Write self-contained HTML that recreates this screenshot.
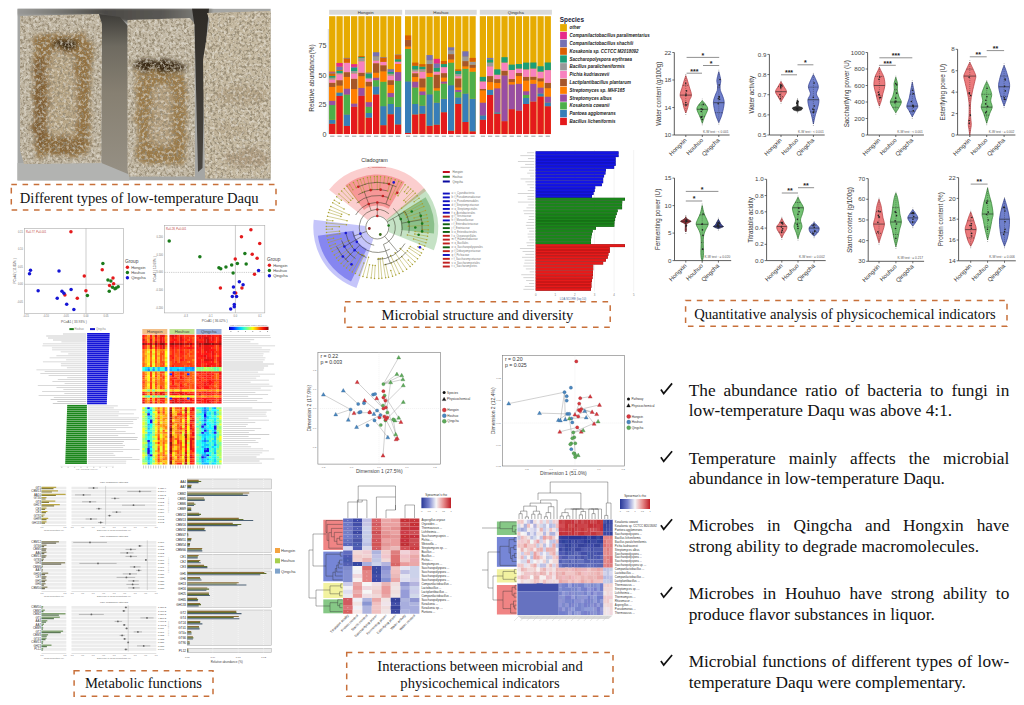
<!DOCTYPE html><html><head><meta charset="utf-8"><style>
html,body{margin:0;padding:0;background:#fff;}
#c{position:relative;width:1024px;height:705px;overflow:hidden;background:#fff;}
.ov{position:absolute;left:0;top:0;}
.bt{position:absolute;left:688.7px;width:320.6px;font-family:'Liberation Serif', serif;font-size:17.3px;line-height:20.8px;text-align:justify;color:#111;}
</style></head><body><div id="c"><svg class="ov" width="1024" height="705" viewBox="0 0 1024 705"><defs>
<filter id="pdark" x="0" y="0" width="100%" height="100%">
<feTurbulence type="fractalNoise" baseFrequency="0.38" numOctaves="3" seed="4"/>
<feColorMatrix type="matrix" values="0 0 0 0 0.3  0 0 0 0 0.25  0 0 0 0 0.17  5.5 0 0 0 -2.65"/>
<feComposite in2="SourceGraphic" operator="in"/>
</filter>
<filter id="plight" x="0" y="0" width="100%" height="100%">
<feTurbulence type="fractalNoise" baseFrequency="0.33" numOctaves="3" seed="12"/>
<feColorMatrix type="matrix" values="0 0 0 0 0.9  0 0 0 0 0.88  0 0 0 0 0.83  0 4.5 0 0 -2.2"/>
<feComposite in2="SourceGraphic" operator="in"/>
</filter>
<filter id="pblur" x="-20%" y="-20%" width="140%" height="140%"><feTurbulence type="fractalNoise" baseFrequency="0.09" numOctaves="2" seed="2" result="n"/><feDisplacementMap in="SourceGraphic" in2="n" scale="12" xChannelSelector="R" yChannelSelector="G" result="d"/><feGaussianBlur in="d" stdDeviation="2.0"/></filter>
<filter id="pblur2" x="-20%" y="-20%" width="140%" height="140%"><feGaussianBlur stdDeviation="1.2"/></filter>
<linearGradient id="side1" x1="0" y1="0" x2="0" y2="1"><stop offset="0" stop-color="#3e3c38"/><stop offset="0.2" stop-color="#6e6a60"/><stop offset="0.5" stop-color="#878072"/><stop offset="1" stop-color="#969084"/></linearGradient>
<linearGradient id="gap" x1="0" y1="0" x2="0" y2="1"><stop offset="0" stop-color="#2e2b27"/><stop offset="1" stop-color="#4a4640"/></linearGradient>
<clipPath id="pclip"><rect x="17.3" y="8.6" width="253.5" height="172"/></clipPath>
<clipPath id="fclip"><path d="M20 16 L99 14 L102 24 L101.5 163 L24 164 L20 150Z"/><path d="M127.5 20 L190 18 L194.5 24 L195 176.5 L129 176.5 L127.5 170Z"/><path d="M207 13 L270.8 11 L270.8 178.5 L205 178.5 L203 60 L209.5 20Z"/></clipPath>
</defs><g clip-path="url(#pclip)"><rect x="17.3" y="8.6" width="253.5" height="172" fill="#a5a6a4"/><defs><linearGradient id="topg" x1="0" x2="1"><stop offset="0" stop-color="#9a9a98"/><stop offset="0.2" stop-color="#7a7a76"/><stop offset="0.45" stop-color="#4c4a46"/><stop offset="0.75" stop-color="#5a5854"/><stop offset="1" stop-color="#8a8a86"/></linearGradient></defs><path d="M17.3 8.6H212V22H128L100 15H17.3Z" fill="url(#topg)" filter="url(#pblur2)"/><rect x="17.3" y="163" width="112" height="18" fill="#b2b3b1"/><path d="M20 16 L99 14 L102 24 L101.5 163 L24 164 L20 150Z" fill="#c0b6a2"/><g filter="url(#pblur)"><rect x="33" y="34" width="58" height="122" rx="10" fill="#937242"/><rect x="49" y="54" width="27" height="82" rx="8" fill="#b8a686"/><rect x="34" y="58" width="11" height="90" rx="4" fill="#7a5a30" opacity="0.75"/><rect x="40" y="140" width="45" height="12" rx="4" fill="#806036" opacity="0.6"/><ellipse cx="64" cy="44" rx="13" ry="5" fill="#3a2a18"/></g><path d="M99 14 L120 17 L128 26 L128 174 L101.5 163 L102 24Z" fill="url(#side1)"/><path d="M127.5 20 L190 18 L194.5 24 L195 176.5 L129 176.5 L127.5 170Z" fill="#c2b8a4"/><g filter="url(#pblur)"><path d="M136 72 H186 V152 Q186 164 174 164 H148 Q136 164 136 152Z" fill="#9a7a4a"/><rect x="152" y="86" width="20" height="60" rx="6" fill="#b4a080"/><ellipse cx="160" cy="66" rx="29" ry="6" fill="#3a2a18"/></g><path d="M192 8.6 L209 8.6 L208 20 L204.5 60 L202.5 168 L198 172 L194.5 26Z" fill="url(#gap)"/><path d="M207 13 L270.8 11 L270.8 178.5 L205 178.5 L203 60 L209.5 20Z" fill="#c4b8a0"/><g filter="url(#pblur)"><ellipse cx="240" cy="95" rx="28" ry="9" fill="#a08a68" opacity="0.45"/><ellipse cx="246" cy="158" rx="22" ry="9" fill="#9a8262" opacity="0.5"/><ellipse cx="232" cy="130" rx="18" ry="8" fill="#a89274" opacity="0.35"/></g><g clip-path="url(#fclip)"><rect x="17.3" y="8.6" width="253.5" height="172" fill="#000" filter="url(#pdark)" opacity="0.85"/><rect x="17.3" y="8.6" width="253.5" height="172" fill="#000" filter="url(#plight)" opacity="0.45"/></g></g><rect x="11.3" y="184.6" width="264.7" height="25.3" fill="none" stroke="#C8703A" stroke-width="1.5" stroke-dasharray="5.6 5.6"/><rect x="344.9" y="301.8" width="265.3" height="25.5" fill="none" stroke="#C8703A" stroke-width="1.5" stroke-dasharray="5.6 5.6"/><rect x="685.6" y="300.4" width="321.4" height="25.9" fill="none" stroke="#C8703A" stroke-width="1.5" stroke-dasharray="5.6 5.6"/><rect x="74.1" y="670.8" width="138.9" height="25.4" fill="none" stroke="#C8703A" stroke-width="1.5" stroke-dasharray="5.6 5.6"/><rect x="346.7" y="652.4" width="266.3" height="43.9" fill="none" stroke="#C8703A" stroke-width="1.5" stroke-dasharray="5.6 5.6"/><text x="19.8" y="203.1" font-family="'Liberation Serif', serif" font-size="14.6" fill="#111" text-anchor="start" >Different types of low-temperature Daqu</text><text x="381.6" y="319.6" font-family="'Liberation Serif', serif" font-size="14.6" fill="#111" text-anchor="start" >Microbial structure and diversity</text><text x="694.2" y="319.4" font-family="'Liberation Serif', serif" font-size="14.6" fill="#111" text-anchor="start" >Quantitative analysis of physicochemical indicators</text><text x="84.9" y="688.2" font-family="'Liberation Serif', serif" font-size="14.6" fill="#111" text-anchor="start" >Metabolic functions</text><text x="480" y="670.5" font-family="'Liberation Serif', serif" font-size="14.6" fill="#111" text-anchor="middle" >Interactions between microbial and</text><text x="480" y="688.3" font-family="'Liberation Serif', serif" font-size="14.6" fill="#111" text-anchor="middle" >physicochemical indicators</text><path d="M660.9 389.4 L663.7 393.5 L672.1 383.4" fill="none" stroke="#111" stroke-width="1.7" stroke-linejoin="miter"/><path d="M660.9 457.3 L663.7 461.4 L672.1 451.3" fill="none" stroke="#111" stroke-width="1.7" stroke-linejoin="miter"/><path d="M660.9 525.2 L663.7 529.3 L672.1 519.2" fill="none" stroke="#111" stroke-width="1.7" stroke-linejoin="miter"/><path d="M660.9 593.1 L663.7 597.2 L672.1 587.1" fill="none" stroke="#111" stroke-width="1.7" stroke-linejoin="miter"/><path d="M660.9 661 L663.7 665.1 L672.1 655" fill="none" stroke="#111" stroke-width="1.7" stroke-linejoin="miter"/><rect x="329.1" y="9.8" width="73.1" height="4.9" fill="#d9d9d9"/><text x="365.65" y="13.6" font-family="'Liberation Sans', sans-serif" font-size="4.3" fill="#333" text-anchor="middle" >Hongxin</text><rect x="329.1" y="16.2" width="6.31" height="117.8" fill="#E6AB02"/><rect x="329.1" y="123.75" width="6.31" height="10.3" fill="#E41A1C"/><rect x="329.1" y="119.63" width="6.31" height="4.17" fill="#377EB8"/><rect x="329.1" y="105.02" width="6.31" height="14.66" fill="#4DAF4A"/><rect x="329.1" y="100.54" width="6.31" height="4.53" fill="#984EA3"/><rect x="329.1" y="86.88" width="6.31" height="13.71" fill="#FF7F00"/><rect x="329.1" y="82.76" width="6.31" height="4.17" fill="#A65628"/><rect x="329.1" y="79.34" width="6.31" height="3.47" fill="#F781BF"/><rect x="329.1" y="77.57" width="6.31" height="1.82" fill="#999999"/><rect x="329.1" y="75.81" width="6.31" height="1.82" fill="#1B9E77"/><rect x="329.1" y="73.45" width="6.31" height="2.41" fill="#D95F02"/><rect x="329.1" y="72.27" width="6.31" height="1.23" fill="#7570B3"/><rect x="329.1" y="71.68" width="6.31" height="0.64" fill="#E7298A"/><rect x="330.1" y="135.6" width="4.31" height="1.2" fill="#aaa"/><rect x="336.41" y="16.2" width="6.31" height="117.8" fill="#E6AB02"/><rect x="336.41" y="95.83" width="6.31" height="38.22" fill="#E41A1C"/><rect x="336.41" y="92.42" width="6.31" height="3.47" fill="#377EB8"/><rect x="336.41" y="85.58" width="6.31" height="6.88" fill="#FF7F00"/><rect x="336.41" y="80.17" width="6.31" height="5.47" fill="#A65628"/><rect x="336.41" y="74.16" width="6.31" height="6.06" fill="#F781BF"/><rect x="336.41" y="72.98" width="6.31" height="1.23" fill="#999999"/><rect x="336.41" y="70.62" width="6.31" height="2.41" fill="#1B9E77"/><rect x="336.41" y="70.03" width="6.31" height="0.64" fill="#D95F02"/><rect x="336.41" y="66.5" width="6.31" height="3.58" fill="#7570B3"/><rect x="336.41" y="62.97" width="6.31" height="3.58" fill="#E7298A"/><rect x="337.41" y="135.6" width="4.31" height="1.2" fill="#aaa"/><rect x="343.72" y="16.2" width="6.31" height="117.8" fill="#E6AB02"/><rect x="343.72" y="125.87" width="6.31" height="8.18" fill="#E41A1C"/><rect x="343.72" y="114.33" width="6.31" height="11.59" fill="#377EB8"/><rect x="343.72" y="94.54" width="6.31" height="19.84" fill="#4DAF4A"/><rect x="343.72" y="88.41" width="6.31" height="6.18" fill="#984EA3"/><rect x="343.72" y="76.87" width="6.31" height="11.59" fill="#FF7F00"/><rect x="343.72" y="72.16" width="6.31" height="4.76" fill="#A65628"/><rect x="343.72" y="62.61" width="6.31" height="9.59" fill="#F781BF"/><rect x="343.72" y="58.49" width="6.31" height="4.17" fill="#D95F02"/><rect x="343.72" y="57.9" width="6.31" height="0.64" fill="#7570B3"/><rect x="344.72" y="135.6" width="4.31" height="1.2" fill="#aaa"/><rect x="351.03" y="16.2" width="6.31" height="117.8" fill="#E6AB02"/><rect x="351.03" y="106.79" width="6.31" height="27.26" fill="#E41A1C"/><rect x="351.03" y="103.37" width="6.31" height="3.47" fill="#984EA3"/><rect x="351.03" y="89" width="6.31" height="14.42" fill="#FF7F00"/><rect x="351.03" y="78.75" width="6.31" height="10.3" fill="#A65628"/><rect x="351.03" y="73.33" width="6.31" height="5.47" fill="#F781BF"/><rect x="351.03" y="70.98" width="6.31" height="2.41" fill="#999999"/><rect x="351.03" y="67.91" width="6.31" height="3.11" fill="#1B9E77"/><rect x="351.03" y="66.74" width="6.31" height="1.23" fill="#7570B3"/><rect x="351.03" y="64.14" width="6.31" height="2.64" fill="#E7298A"/><rect x="352.03" y="135.6" width="4.31" height="1.2" fill="#aaa"/><rect x="358.34" y="16.2" width="6.31" height="117.8" fill="#E6AB02"/><rect x="358.34" y="95.83" width="6.31" height="38.22" fill="#E41A1C"/><rect x="358.34" y="87.7" width="6.31" height="8.18" fill="#984EA3"/><rect x="358.34" y="76.16" width="6.31" height="11.59" fill="#FF7F00"/><rect x="358.34" y="72.74" width="6.31" height="3.47" fill="#A65628"/><rect x="358.34" y="61.2" width="6.31" height="11.59" fill="#F781BF"/><rect x="358.34" y="57.78" width="6.31" height="3.47" fill="#999999"/><rect x="358.34" y="56.96" width="6.31" height="0.87" fill="#1B9E77"/><rect x="358.34" y="56.13" width="6.31" height="0.87" fill="#D95F02"/><rect x="359.34" y="135.6" width="4.31" height="1.2" fill="#aaa"/><rect x="365.65" y="16.2" width="6.31" height="117.8" fill="#E6AB02"/><rect x="365.65" y="117.63" width="6.31" height="16.42" fill="#E41A1C"/><rect x="365.65" y="112.91" width="6.31" height="4.76" fill="#377EB8"/><rect x="365.65" y="106.79" width="6.31" height="6.18" fill="#4DAF4A"/><rect x="365.65" y="102.08" width="6.31" height="4.76" fill="#984EA3"/><rect x="365.65" y="86.41" width="6.31" height="15.72" fill="#FF7F00"/><rect x="365.65" y="81.7" width="6.31" height="4.76" fill="#A65628"/><rect x="365.65" y="78.99" width="6.31" height="2.76" fill="#F781BF"/><rect x="365.65" y="77.81" width="6.31" height="1.23" fill="#999999"/><rect x="365.65" y="73.57" width="6.31" height="4.29" fill="#1B9E77"/><rect x="365.65" y="72.63" width="6.31" height="0.99" fill="#7570B3"/><rect x="366.65" y="135.6" width="4.31" height="1.2" fill="#aaa"/><rect x="372.96" y="16.2" width="6.31" height="117.8" fill="#E6AB02"/><rect x="372.96" y="94.42" width="6.31" height="39.63" fill="#E41A1C"/><rect x="372.96" y="86.29" width="6.31" height="8.18" fill="#377EB8"/><rect x="372.96" y="80.17" width="6.31" height="6.18" fill="#4DAF4A"/><rect x="372.96" y="77.46" width="6.31" height="2.76" fill="#984EA3"/><rect x="372.96" y="72.74" width="6.31" height="4.76" fill="#FF7F00"/><rect x="372.96" y="63.2" width="6.31" height="9.59" fill="#A65628"/><rect x="372.96" y="60.49" width="6.31" height="2.76" fill="#F781BF"/><rect x="372.96" y="56.37" width="6.31" height="4.17" fill="#999999"/><rect x="372.96" y="52.25" width="6.31" height="4.17" fill="#7570B3"/><rect x="373.96" y="135.6" width="4.31" height="1.2" fill="#aaa"/><rect x="380.27" y="16.2" width="6.31" height="117.8" fill="#E6AB02"/><rect x="380.27" y="125.17" width="6.31" height="8.88" fill="#E41A1C"/><rect x="380.27" y="106.08" width="6.31" height="19.13" fill="#377EB8"/><rect x="380.27" y="81.58" width="6.31" height="24.55" fill="#4DAF4A"/><rect x="380.27" y="71.33" width="6.31" height="10.3" fill="#FF7F00"/><rect x="380.27" y="65.2" width="6.31" height="6.18" fill="#A65628"/><rect x="380.27" y="61.79" width="6.31" height="3.47" fill="#F781BF"/><rect x="380.27" y="57.67" width="6.31" height="4.17" fill="#D95F02"/><rect x="380.27" y="57.08" width="6.31" height="0.64" fill="#7570B3"/><rect x="381.27" y="135.6" width="4.31" height="1.2" fill="#aaa"/><rect x="387.58" y="16.2" width="6.31" height="117.8" fill="#E6AB02"/><rect x="387.58" y="114.21" width="6.31" height="19.84" fill="#E41A1C"/><rect x="387.58" y="103.96" width="6.31" height="10.3" fill="#377EB8"/><rect x="387.58" y="97.13" width="6.31" height="6.88" fill="#4DAF4A"/><rect x="387.58" y="93.01" width="6.31" height="4.17" fill="#984EA3"/><rect x="387.58" y="84.88" width="6.31" height="8.18" fill="#FF7F00"/><rect x="387.58" y="80.17" width="6.31" height="4.76" fill="#A65628"/><rect x="387.58" y="75.45" width="6.31" height="4.76" fill="#F781BF"/><rect x="387.58" y="73.69" width="6.31" height="1.82" fill="#999999"/><rect x="387.58" y="71.92" width="6.31" height="1.82" fill="#1B9E77"/><rect x="387.58" y="69.21" width="6.31" height="2.76" fill="#7570B3"/><rect x="388.58" y="135.6" width="4.31" height="1.2" fill="#aaa"/><rect x="394.89" y="16.2" width="6.31" height="117.8" fill="#E6AB02"/><rect x="394.89" y="124.46" width="6.31" height="9.59" fill="#E41A1C"/><rect x="394.89" y="106.79" width="6.31" height="17.72" fill="#377EB8"/><rect x="394.89" y="80.87" width="6.31" height="25.97" fill="#4DAF4A"/><rect x="394.89" y="72.04" width="6.31" height="8.88" fill="#984EA3"/><rect x="394.89" y="63.91" width="6.31" height="8.18" fill="#FF7F00"/><rect x="394.89" y="61.55" width="6.31" height="2.41" fill="#F781BF"/><rect x="394.89" y="59.2" width="6.31" height="2.41" fill="#1B9E77"/><rect x="394.89" y="55.07" width="6.31" height="4.17" fill="#D95F02"/><rect x="394.89" y="54.6" width="6.31" height="0.52" fill="#7570B3"/><rect x="395.89" y="135.6" width="4.31" height="1.2" fill="#aaa"/><rect x="405" y="9.8" width="71.7" height="4.9" fill="#d9d9d9"/><text x="440.85" y="13.6" font-family="'Liberation Sans', sans-serif" font-size="4.3" fill="#333" text-anchor="middle" >Houhuo</text><rect x="405" y="16.2" width="6.17" height="117.8" fill="#E6AB02"/><rect x="405" y="132.82" width="6.17" height="1.23" fill="#E41A1C"/><rect x="405" y="81.23" width="6.17" height="51.65" fill="#377EB8"/><rect x="405" y="48.83" width="6.17" height="32.44" fill="#4DAF4A"/><rect x="405" y="46.47" width="6.17" height="2.41" fill="#FF7F00"/><rect x="405" y="39.76" width="6.17" height="6.76" fill="#A65628"/><rect x="405" y="35.4" width="6.17" height="4.41" fill="#D95F02"/><rect x="406" y="135.6" width="4.17" height="1.2" fill="#aaa"/><rect x="412.17" y="16.2" width="6.17" height="117.8" fill="#E6AB02"/><rect x="412.17" y="114.45" width="6.17" height="19.6" fill="#E41A1C"/><rect x="412.17" y="103.96" width="6.17" height="10.53" fill="#377EB8"/><rect x="412.17" y="87.47" width="6.17" height="16.54" fill="#4DAF4A"/><rect x="412.17" y="81.46" width="6.17" height="6.06" fill="#984EA3"/><rect x="412.17" y="76.98" width="6.17" height="4.53" fill="#FF7F00"/><rect x="412.17" y="73.22" width="6.17" height="3.82" fill="#A65628"/><rect x="412.17" y="71.33" width="6.17" height="1.93" fill="#F781BF"/><rect x="412.17" y="69.45" width="6.17" height="1.93" fill="#999999"/><rect x="412.17" y="65.68" width="6.17" height="3.82" fill="#1B9E77"/><rect x="412.17" y="62.61" width="6.17" height="3.11" fill="#D95F02"/><rect x="413.17" y="135.6" width="4.17" height="1.2" fill="#aaa"/><rect x="419.34" y="16.2" width="6.17" height="117.8" fill="#E6AB02"/><rect x="419.34" y="113.74" width="6.17" height="20.31" fill="#E41A1C"/><rect x="419.34" y="105.49" width="6.17" height="8.3" fill="#377EB8"/><rect x="419.34" y="95.01" width="6.17" height="10.53" fill="#4DAF4A"/><rect x="419.34" y="91.24" width="6.17" height="3.82" fill="#984EA3"/><rect x="419.34" y="87.47" width="6.17" height="3.82" fill="#FF7F00"/><rect x="419.34" y="78.4" width="6.17" height="9.12" fill="#A65628"/><rect x="419.34" y="71.68" width="6.17" height="6.76" fill="#F781BF"/><rect x="419.34" y="69.09" width="6.17" height="2.64" fill="#999999"/><rect x="419.34" y="66.5" width="6.17" height="2.64" fill="#1B9E77"/><rect x="419.34" y="64.14" width="6.17" height="2.41" fill="#D95F02"/><rect x="420.34" y="135.6" width="4.17" height="1.2" fill="#aaa"/><rect x="426.51" y="16.2" width="6.17" height="117.8" fill="#E6AB02"/><rect x="426.51" y="125.75" width="6.17" height="8.3" fill="#E41A1C"/><rect x="426.51" y="94.18" width="6.17" height="31.62" fill="#377EB8"/><rect x="426.51" y="76.87" width="6.17" height="17.37" fill="#4DAF4A"/><rect x="426.51" y="73.1" width="6.17" height="3.82" fill="#FF7F00"/><rect x="426.51" y="64.03" width="6.17" height="9.12" fill="#A65628"/><rect x="426.51" y="60.26" width="6.17" height="3.82" fill="#999999"/><rect x="426.51" y="55.07" width="6.17" height="5.23" fill="#7570B3"/><rect x="427.51" y="135.6" width="4.17" height="1.2" fill="#aaa"/><rect x="433.68" y="16.2" width="6.17" height="117.8" fill="#E6AB02"/><rect x="433.68" y="124.69" width="6.17" height="9.36" fill="#E41A1C"/><rect x="433.68" y="102.43" width="6.17" height="22.31" fill="#377EB8"/><rect x="433.68" y="90.41" width="6.17" height="12.07" fill="#4DAF4A"/><rect x="433.68" y="88.18" width="6.17" height="2.29" fill="#FF7F00"/><rect x="433.68" y="74.63" width="6.17" height="13.6" fill="#A65628"/><rect x="433.68" y="71.57" width="6.17" height="3.11" fill="#F781BF"/><rect x="433.68" y="67.8" width="6.17" height="3.82" fill="#1B9E77"/><rect x="433.68" y="63.32" width="6.17" height="4.53" fill="#7570B3"/><rect x="433.68" y="58.84" width="6.17" height="4.53" fill="#E7298A"/><rect x="434.68" y="135.6" width="4.17" height="1.2" fill="#aaa"/><rect x="440.85" y="16.2" width="6.17" height="117.8" fill="#E6AB02"/><rect x="440.85" y="112.21" width="6.17" height="21.84" fill="#E41A1C"/><rect x="440.85" y="98.66" width="6.17" height="13.6" fill="#377EB8"/><rect x="440.85" y="83.58" width="6.17" height="15.13" fill="#4DAF4A"/><rect x="440.85" y="81.34" width="6.17" height="2.29" fill="#984EA3"/><rect x="440.85" y="77.57" width="6.17" height="3.82" fill="#FF7F00"/><rect x="440.85" y="73.1" width="6.17" height="4.53" fill="#A65628"/><rect x="440.85" y="67.09" width="6.17" height="6.06" fill="#F781BF"/><rect x="440.85" y="64.03" width="6.17" height="3.11" fill="#1B9E77"/><rect x="440.85" y="60.96" width="6.17" height="3.11" fill="#D95F02"/><rect x="441.85" y="135.6" width="4.17" height="1.2" fill="#aaa"/><rect x="448.02" y="16.2" width="6.17" height="117.8" fill="#E6AB02"/><rect x="448.02" y="130.7" width="6.17" height="3.35" fill="#E41A1C"/><rect x="448.02" y="85.11" width="6.17" height="45.64" fill="#377EB8"/><rect x="448.02" y="62.5" width="6.17" height="22.67" fill="#4DAF4A"/><rect x="448.02" y="59.43" width="6.17" height="3.11" fill="#FF7F00"/><rect x="448.02" y="54.13" width="6.17" height="5.35" fill="#A65628"/><rect x="448.02" y="50.36" width="6.17" height="3.82" fill="#999999"/><rect x="448.02" y="47.3" width="6.17" height="3.11" fill="#7570B3"/><rect x="449.02" y="135.6" width="4.17" height="1.2" fill="#aaa"/><rect x="455.19" y="16.2" width="6.17" height="117.8" fill="#E6AB02"/><rect x="455.19" y="103.96" width="6.17" height="30.09" fill="#E41A1C"/><rect x="455.19" y="97.25" width="6.17" height="6.76" fill="#377EB8"/><rect x="455.19" y="91.95" width="6.17" height="5.35" fill="#4DAF4A"/><rect x="455.19" y="89.71" width="6.17" height="2.29" fill="#984EA3"/><rect x="455.19" y="87.47" width="6.17" height="2.29" fill="#FF7F00"/><rect x="455.19" y="78.4" width="6.17" height="9.12" fill="#A65628"/><rect x="455.19" y="76.16" width="6.17" height="2.29" fill="#F781BF"/><rect x="455.19" y="73.92" width="6.17" height="2.29" fill="#999999"/><rect x="455.19" y="70.86" width="6.17" height="3.11" fill="#1B9E77"/><rect x="455.19" y="69.33" width="6.17" height="1.58" fill="#D95F02"/><rect x="456.19" y="135.6" width="4.17" height="1.2" fill="#aaa"/><rect x="462.36" y="16.2" width="6.17" height="117.8" fill="#E6AB02"/><rect x="462.36" y="121.98" width="6.17" height="12.07" fill="#E41A1C"/><rect x="462.36" y="93.36" width="6.17" height="28.68" fill="#377EB8"/><rect x="462.36" y="68.62" width="6.17" height="24.79" fill="#4DAF4A"/><rect x="462.36" y="66.38" width="6.17" height="2.29" fill="#FF7F00"/><rect x="462.36" y="61.08" width="6.17" height="5.35" fill="#A65628"/><rect x="462.36" y="56.61" width="6.17" height="4.53" fill="#999999"/><rect x="462.36" y="51.3" width="6.17" height="5.35" fill="#7570B3"/><rect x="463.36" y="135.6" width="4.17" height="1.2" fill="#aaa"/><rect x="469.53" y="16.2" width="6.17" height="117.8" fill="#E6AB02"/><rect x="469.53" y="131.29" width="6.17" height="2.76" fill="#E41A1C"/><rect x="469.53" y="98.66" width="6.17" height="32.68" fill="#377EB8"/><rect x="469.53" y="71.57" width="6.17" height="27.14" fill="#4DAF4A"/><rect x="469.53" y="67.8" width="6.17" height="3.82" fill="#FF7F00"/><rect x="469.53" y="64.73" width="6.17" height="3.11" fill="#A65628"/><rect x="469.53" y="61.67" width="6.17" height="3.11" fill="#999999"/><rect x="469.53" y="57.9" width="6.17" height="3.82" fill="#D95F02"/><rect x="470.53" y="135.6" width="4.17" height="1.2" fill="#aaa"/><rect x="479.8" y="9.8" width="72.1" height="4.9" fill="#d9d9d9"/><text x="515.85" y="13.6" font-family="'Liberation Sans', sans-serif" font-size="4.3" fill="#333" text-anchor="middle" >Qingcha</text><rect x="479.8" y="16.2" width="6.21" height="117.8" fill="#E6AB02"/><rect x="479.8" y="119.75" width="6.21" height="14.3" fill="#E41A1C"/><rect x="479.8" y="115.27" width="6.21" height="4.53" fill="#377EB8"/><rect x="479.8" y="102.43" width="6.21" height="12.89" fill="#984EA3"/><rect x="479.8" y="90.41" width="6.21" height="12.07" fill="#FF7F00"/><rect x="479.8" y="88.88" width="6.21" height="1.58" fill="#A65628"/><rect x="479.8" y="81.34" width="6.21" height="7.59" fill="#F781BF"/><rect x="479.8" y="76.87" width="6.21" height="4.53" fill="#1B9E77"/><rect x="480.8" y="135.6" width="4.21" height="1.2" fill="#aaa"/><rect x="487.01" y="16.2" width="6.21" height="117.8" fill="#E6AB02"/><rect x="487.01" y="94.89" width="6.21" height="39.16" fill="#E41A1C"/><rect x="487.01" y="89.59" width="6.21" height="5.35" fill="#377EB8"/><rect x="487.01" y="82.05" width="6.21" height="7.59" fill="#FF7F00"/><rect x="487.01" y="76.04" width="6.21" height="6.06" fill="#A65628"/><rect x="487.01" y="66.27" width="6.21" height="9.83" fill="#F781BF"/><rect x="487.01" y="62.5" width="6.21" height="3.82" fill="#999999"/><rect x="487.01" y="59.43" width="6.21" height="3.11" fill="#1B9E77"/><rect x="487.01" y="57.9" width="6.21" height="1.58" fill="#7570B3"/><rect x="488.01" y="135.6" width="4.21" height="1.2" fill="#aaa"/><rect x="494.22" y="16.2" width="6.21" height="117.8" fill="#E6AB02"/><rect x="494.22" y="113.74" width="6.21" height="20.31" fill="#E41A1C"/><rect x="494.22" y="112.21" width="6.21" height="1.58" fill="#377EB8"/><rect x="494.22" y="88.18" width="6.21" height="24.08" fill="#984EA3"/><rect x="494.22" y="82.87" width="6.21" height="5.35" fill="#FF7F00"/><rect x="494.22" y="79.11" width="6.21" height="3.82" fill="#A65628"/><rect x="494.22" y="74.63" width="6.21" height="4.53" fill="#F781BF"/><rect x="494.22" y="69.33" width="6.21" height="5.35" fill="#1B9E77"/><rect x="495.22" y="135.6" width="4.21" height="1.2" fill="#aaa"/><rect x="501.43" y="16.2" width="6.21" height="117.8" fill="#E6AB02"/><rect x="501.43" y="121.16" width="6.21" height="12.89" fill="#E41A1C"/><rect x="501.43" y="75.22" width="6.21" height="45.99" fill="#984EA3"/><rect x="501.43" y="70.74" width="6.21" height="4.53" fill="#A65628"/><rect x="501.43" y="62.5" width="6.21" height="8.3" fill="#F781BF"/><rect x="501.43" y="57.19" width="6.21" height="5.35" fill="#1B9E77"/><rect x="502.43" y="135.6" width="4.21" height="1.2" fill="#aaa"/><rect x="508.64" y="16.2" width="6.21" height="117.8" fill="#E6AB02"/><rect x="508.64" y="109.14" width="6.21" height="24.91" fill="#E41A1C"/><rect x="508.64" y="84.29" width="6.21" height="24.91" fill="#984EA3"/><rect x="508.64" y="82.05" width="6.21" height="2.29" fill="#FF7F00"/><rect x="508.64" y="78.99" width="6.21" height="3.11" fill="#A65628"/><rect x="508.64" y="69.92" width="6.21" height="9.12" fill="#F781BF"/><rect x="508.64" y="64.62" width="6.21" height="5.35" fill="#1B9E77"/><rect x="509.64" y="135.6" width="4.21" height="1.2" fill="#aaa"/><rect x="515.85" y="16.2" width="6.21" height="117.8" fill="#E6AB02"/><rect x="515.85" y="110.68" width="6.21" height="23.37" fill="#E41A1C"/><rect x="515.85" y="83.58" width="6.21" height="27.14" fill="#984EA3"/><rect x="515.85" y="76.04" width="6.21" height="7.59" fill="#FF7F00"/><rect x="515.85" y="72.98" width="6.21" height="3.11" fill="#A65628"/><rect x="515.85" y="68.5" width="6.21" height="4.53" fill="#F781BF"/><rect x="515.85" y="64.03" width="6.21" height="4.53" fill="#1B9E77"/><rect x="516.85" y="135.6" width="4.21" height="1.2" fill="#aaa"/><rect x="523.06" y="16.2" width="6.21" height="117.8" fill="#E6AB02"/><rect x="523.06" y="103.96" width="6.21" height="30.09" fill="#E41A1C"/><rect x="523.06" y="97.95" width="6.21" height="6.06" fill="#377EB8"/><rect x="523.06" y="94.89" width="6.21" height="3.11" fill="#4DAF4A"/><rect x="523.06" y="91.12" width="6.21" height="3.82" fill="#984EA3"/><rect x="523.06" y="80.64" width="6.21" height="10.53" fill="#FF7F00"/><rect x="523.06" y="76.87" width="6.21" height="3.82" fill="#A65628"/><rect x="523.06" y="69.33" width="6.21" height="7.59" fill="#F781BF"/><rect x="523.06" y="62.61" width="6.21" height="6.76" fill="#1B9E77"/><rect x="524.06" y="135.6" width="4.21" height="1.2" fill="#aaa"/><rect x="530.27" y="16.2" width="6.21" height="117.8" fill="#E6AB02"/><rect x="530.27" y="101.61" width="6.21" height="32.44" fill="#E41A1C"/><rect x="530.27" y="83.58" width="6.21" height="18.07" fill="#984EA3"/><rect x="530.27" y="79.81" width="6.21" height="3.82" fill="#FF7F00"/><rect x="530.27" y="76.75" width="6.21" height="3.11" fill="#A65628"/><rect x="530.27" y="68.5" width="6.21" height="8.3" fill="#F781BF"/><rect x="530.27" y="62.5" width="6.21" height="6.06" fill="#1B9E77"/><rect x="531.27" y="135.6" width="4.21" height="1.2" fill="#aaa"/><rect x="537.48" y="16.2" width="6.21" height="117.8" fill="#E6AB02"/><rect x="537.48" y="96.42" width="6.21" height="37.63" fill="#E41A1C"/><rect x="537.48" y="93.36" width="6.21" height="3.11" fill="#377EB8"/><rect x="537.48" y="87.35" width="6.21" height="6.06" fill="#984EA3"/><rect x="537.48" y="81.34" width="6.21" height="6.06" fill="#FF7F00"/><rect x="537.48" y="78.28" width="6.21" height="3.11" fill="#A65628"/><rect x="537.48" y="71.57" width="6.21" height="6.76" fill="#F781BF"/><rect x="537.48" y="66.27" width="6.21" height="5.35" fill="#1B9E77"/><rect x="538.48" y="135.6" width="4.21" height="1.2" fill="#aaa"/><rect x="544.69" y="16.2" width="6.21" height="117.8" fill="#E6AB02"/><rect x="544.69" y="106.2" width="6.21" height="27.85" fill="#E41A1C"/><rect x="544.69" y="102.43" width="6.21" height="3.82" fill="#377EB8"/><rect x="544.69" y="96.42" width="6.21" height="6.06" fill="#984EA3"/><rect x="544.69" y="88.18" width="6.21" height="8.3" fill="#FF7F00"/><rect x="544.69" y="82.87" width="6.21" height="5.35" fill="#A65628"/><rect x="544.69" y="70.03" width="6.21" height="12.89" fill="#F781BF"/><rect x="544.69" y="62.5" width="6.21" height="7.59" fill="#1B9E77"/><rect x="545.69" y="135.6" width="4.21" height="1.2" fill="#aaa"/><line x1="328.3" y1="29" x2="328.3" y2="134" stroke="#bbb" stroke-width="0.6"/><text x="326.6" y="136.5" font-family="'Liberation Sans', sans-serif" font-size="7.2" fill="#444" text-anchor="end" >0</text><text x="326.6" y="107.05" font-family="'Liberation Sans', sans-serif" font-size="7.2" fill="#444" text-anchor="end" >25</text><text x="326.6" y="77.6" font-family="'Liberation Sans', sans-serif" font-size="7.2" fill="#444" text-anchor="end" >50</text><text x="326.6" y="48.15" font-family="'Liberation Sans', sans-serif" font-size="7.2" fill="#444" text-anchor="end" >75</text><text transform="translate(314.2,78) rotate(-90)" font-family="'Liberation Sans', sans-serif" font-size="6.5" fill="#333" text-anchor="middle">Relative abundance(%)</text><text x="559.8" y="21.6" font-family="'Liberation Sans', sans-serif" font-size="6.4" font-weight="bold" fill="#1c1c3a">Species</text><rect x="560.1" y="24.1" width="6.8" height="7.3" fill="#E6AB02"/><text x="569.5" y="29.3" font-family="'Liberation Sans', sans-serif" font-size="4.45" font-weight="bold" font-style="italic" fill="#222">other</text><rect x="560.1" y="31.91" width="6.8" height="7.3" fill="#E7298A"/><text x="569.5" y="37.11" font-family="'Liberation Sans', sans-serif" font-size="4.45" font-weight="bold" font-style="italic" fill="#222">Companilactobacillus paralimentarius</text><rect x="560.1" y="39.72" width="6.8" height="7.3" fill="#7570B3"/><text x="569.5" y="44.92" font-family="'Liberation Sans', sans-serif" font-size="4.45" font-weight="bold" font-style="italic" fill="#222">Companilactobacillus shachili</text><rect x="560.1" y="47.53" width="6.8" height="7.3" fill="#D95F02"/><text x="569.5" y="52.73" font-family="'Liberation Sans', sans-serif" font-size="4.45" font-weight="bold" font-style="italic" fill="#222">Kosakonia sp. CCTCC M2018092</text><rect x="560.1" y="55.34" width="6.8" height="7.3" fill="#1B9E77"/><text x="569.5" y="60.54" font-family="'Liberation Sans', sans-serif" font-size="4.45" font-weight="bold" font-style="italic" fill="#222">Saccharopolyspora erythraea</text><rect x="560.1" y="63.15" width="6.8" height="7.3" fill="#999999"/><text x="569.5" y="68.35" font-family="'Liberation Sans', sans-serif" font-size="4.45" font-weight="bold" font-style="italic" fill="#222">Bacillus paralicheniformis</text><rect x="560.1" y="70.96" width="6.8" height="7.3" fill="#F781BF"/><text x="569.5" y="76.16" font-family="'Liberation Sans', sans-serif" font-size="4.45" font-weight="bold" font-style="italic" fill="#222">Pichia kudriavzevii</text><rect x="560.1" y="78.77" width="6.8" height="7.3" fill="#A65628"/><text x="569.5" y="83.97" font-family="'Liberation Sans', sans-serif" font-size="4.45" font-weight="bold" font-style="italic" fill="#222">Lactiplantibacillus plantarum</text><rect x="560.1" y="86.58" width="6.8" height="7.3" fill="#FF7F00"/><text x="569.5" y="91.78" font-family="'Liberation Sans', sans-serif" font-size="4.45" font-weight="bold" font-style="italic" fill="#222">Streptomyces sp. MHF165</text><rect x="560.1" y="94.39" width="6.8" height="7.3" fill="#984EA3"/><text x="569.5" y="99.59" font-family="'Liberation Sans', sans-serif" font-size="4.45" font-weight="bold" font-style="italic" fill="#222">Streptomyces albus</text><rect x="560.1" y="102.2" width="6.8" height="7.3" fill="#4DAF4A"/><text x="569.5" y="107.4" font-family="'Liberation Sans', sans-serif" font-size="4.45" font-weight="bold" font-style="italic" fill="#222">Kosakonia cowanii</text><rect x="560.1" y="110.01" width="6.8" height="7.3" fill="#377EB8"/><text x="569.5" y="115.21" font-family="'Liberation Sans', sans-serif" font-size="4.45" font-weight="bold" font-style="italic" fill="#222">Pantoea agglomerans</text><rect x="560.1" y="117.82" width="6.8" height="7.3" fill="#E41A1C"/><text x="569.5" y="123.02" font-family="'Liberation Sans', sans-serif" font-size="4.45" font-weight="bold" font-style="italic" fill="#222">Bacillus licheniformis</text><path d="M674.3,52.5 L674.3,135 L729.6,135" fill="none" stroke="#333" stroke-width="0.8"/><line x1="672.3" y1="135" x2="674.3" y2="135" stroke="#333" stroke-width="0.7"/><text x="671.3" y="137.1" font-family="'Liberation Sans', sans-serif" font-size="6.2" fill="#444" text-anchor="end" >10</text><line x1="672.3" y1="107.5" x2="674.3" y2="107.5" stroke="#333" stroke-width="0.7"/><text x="671.3" y="109.6" font-family="'Liberation Sans', sans-serif" font-size="6.2" fill="#444" text-anchor="end" >14</text><line x1="672.3" y1="80" x2="674.3" y2="80" stroke="#333" stroke-width="0.7"/><text x="671.3" y="82.1" font-family="'Liberation Sans', sans-serif" font-size="6.2" fill="#444" text-anchor="end" >18</text><line x1="672.3" y1="52.5" x2="674.3" y2="52.5" stroke="#333" stroke-width="0.7"/><text x="671.3" y="54.6" font-family="'Liberation Sans', sans-serif" font-size="6.2" fill="#444" text-anchor="end" >22</text><text transform="translate(660.8,93.75) rotate(-90)" font-family="'Liberation Sans', sans-serif" font-size="6.3" fill="#333" text-anchor="middle">Water content (g/100g)</text><path d="M685.8,113 C686.13,112.08 687.22,109.56 687.8,107.5 C688.38,105.44 688.68,102.69 689.3,100.62 C689.92,98.56 691.5,97.42 691.5,95.12 C691.5,92.83 690,89.4 689.3,86.88 C688.6,84.35 687.88,81.88 687.3,80 C686.72,78.12 686.05,76.33 685.8,75.6 L685.8,75.6 C685.55,76.33 684.88,78.12 684.3,80 C683.72,81.88 683,84.35 682.3,86.88 C681.6,89.4 680.1,92.83 680.1,95.12 C680.1,97.42 681.68,98.56 682.3,100.62 C682.92,102.69 683.22,105.44 683.8,107.5 C684.38,109.56 685.47,112.08 685.8,113Z" fill="#EB7A7C" stroke="#B23A3E" stroke-width="0.7"/><line x1="680.1" y1="95.12" x2="691.5" y2="95.12" stroke="#222" stroke-width="0.6"/><line x1="683.05" y1="104.06" x2="688.55" y2="104.06" stroke="#222" stroke-width="0.6" stroke-dasharray="1 1"/><line x1="682.74" y1="85.36" x2="688.86" y2="85.36" stroke="#222" stroke-width="0.6" stroke-dasharray="1 1"/><line x1="685.8" y1="115" x2="685.8" y2="73.6" stroke="#333" stroke-width="0.4" stroke-dasharray="1 1"/><circle cx="685.94" cy="95.55" r="0.8" fill="#222"/><circle cx="685.72" cy="83.19" r="0.8" fill="#222"/><circle cx="686.01" cy="94.09" r="0.8" fill="#222"/><circle cx="685.83" cy="102.56" r="0.8" fill="#222"/><circle cx="686.5" cy="90.9" r="0.8" fill="#222"/><circle cx="685.33" cy="104.93" r="0.8" fill="#222"/><circle cx="686.54" cy="105.02" r="0.8" fill="#222"/><line x1="685.8" y1="135" x2="685.8" y2="137" stroke="#333" stroke-width="0.7"/><text transform="translate(687,140.6) rotate(-45)" font-family="'Liberation Sans', sans-serif" font-size="6" fill="#333" text-anchor="end">Hongxin</text><path d="M702.3,123.31 C702.67,122.28 703.6,119.46 704.5,117.12 C705.4,114.79 707.48,111.35 707.7,109.29 C707.92,107.22 706.7,106.19 705.8,104.75 C704.9,103.31 702.88,101.31 702.3,100.62 L702.3,100.62 C701.72,101.31 699.7,103.31 698.8,104.75 C697.9,106.19 696.68,107.22 696.9,109.29 C697.12,111.35 699.2,114.79 700.1,117.12 C701,119.46 701.93,122.28 702.3,123.31Z" fill="#74C274" stroke="#2F7D2F" stroke-width="0.7"/><line x1="696.9" y1="109.29" x2="707.7" y2="109.29" stroke="#222" stroke-width="0.6"/><line x1="699.76" y1="116.3" x2="704.84" y2="116.3" stroke="#222" stroke-width="0.6" stroke-dasharray="1 1"/><line x1="698.71" y1="104.96" x2="705.89" y2="104.96" stroke="#222" stroke-width="0.6" stroke-dasharray="1 1"/><line x1="702.3" y1="125.31" x2="702.3" y2="98.62" stroke="#333" stroke-width="0.4" stroke-dasharray="1 1"/><circle cx="701.2" cy="108.9" r="0.8" fill="#222"/><circle cx="703.42" cy="104.31" r="0.8" fill="#222"/><circle cx="702.58" cy="109.52" r="0.8" fill="#222"/><circle cx="701.14" cy="117.41" r="0.8" fill="#222"/><circle cx="701.24" cy="111.52" r="0.8" fill="#222"/><circle cx="701.68" cy="116.89" r="0.8" fill="#222"/><circle cx="702.21" cy="119.43" r="0.8" fill="#222"/><line x1="702.3" y1="135" x2="702.3" y2="137" stroke="#333" stroke-width="0.7"/><text transform="translate(703.5,140.6) rotate(-45)" font-family="'Liberation Sans', sans-serif" font-size="6" fill="#333" text-anchor="end">Houhuo</text><path d="M718.8,122.62 C719.33,121.25 721.1,117.7 722,114.38 C722.9,111.05 724.15,105.9 724.2,102.69 C724.25,99.48 722.95,97.19 722.3,95.12 C721.65,93.06 720.67,91.92 720.3,90.31 C719.93,88.71 720.02,87.05 720.1,85.5 C720.18,83.95 720.8,82.52 720.8,81.03 C720.8,79.54 720.43,78.11 720.1,76.56 C719.77,75.02 719.02,72.55 718.8,71.75 L718.8,71.75 C718.58,72.55 717.83,75.02 717.5,76.56 C717.17,78.11 716.8,79.54 716.8,81.03 C716.8,82.52 717.42,83.95 717.5,85.5 C717.58,87.05 717.67,88.71 717.3,90.31 C716.93,91.92 715.95,93.06 715.3,95.12 C714.65,97.19 713.35,99.48 713.4,102.69 C713.45,105.9 714.7,111.05 715.6,114.38 C716.5,117.7 718.27,121.25 718.8,122.62Z" fill="#7080CC" stroke="#2F3C8E" stroke-width="0.7"/><line x1="713.4" y1="102.69" x2="724.2" y2="102.69" stroke="#222" stroke-width="0.6"/><line x1="715.28" y1="112.66" x2="722.32" y2="112.66" stroke="#222" stroke-width="0.6" stroke-dasharray="1 1"/><line x1="717.43" y1="87.22" x2="720.17" y2="87.22" stroke="#222" stroke-width="0.6" stroke-dasharray="1 1"/><line x1="718.8" y1="124.62" x2="718.8" y2="69.75" stroke="#333" stroke-width="0.4" stroke-dasharray="1 1"/><circle cx="719.62" cy="99.31" r="0.8" fill="#222"/><circle cx="719.14" cy="96.51" r="0.8" fill="#222"/><circle cx="719.19" cy="97.2" r="0.8" fill="#222"/><circle cx="718.27" cy="98.71" r="0.8" fill="#222"/><circle cx="719.99" cy="79.46" r="0.8" fill="#222"/><circle cx="719.3" cy="85.07" r="0.8" fill="#222"/><circle cx="718.15" cy="103.77" r="0.8" fill="#222"/><line x1="718.8" y1="135" x2="718.8" y2="137" stroke="#333" stroke-width="0.7"/><text transform="translate(720,140.6) rotate(-45)" font-family="'Liberation Sans', sans-serif" font-size="6" fill="#333" text-anchor="end">Qingcha</text><line x1="686.6" y1="73.2" x2="702" y2="73.2" stroke="#444" stroke-width="0.6"/><text x="694.3" y="73.5" font-family="'Liberation Sans', sans-serif" font-size="7" fill="#222" text-anchor="middle" font-weight="bold">***</text><line x1="703" y1="65.5" x2="719.2" y2="65.5" stroke="#444" stroke-width="0.6"/><text x="711.1" y="65.8" font-family="'Liberation Sans', sans-serif" font-size="7" fill="#222" text-anchor="middle" font-weight="bold">*</text><line x1="686.6" y1="57.4" x2="719.2" y2="57.4" stroke="#444" stroke-width="0.6"/><text x="702.9" y="57.7" font-family="'Liberation Sans', sans-serif" font-size="7" fill="#222" text-anchor="middle" font-weight="bold">*</text><text x="728.6" y="132.5" font-family="'Liberation Sans', sans-serif" font-size="3.2" fill="#555" text-anchor="end" >K-W test : &lt; 0.001</text><path d="M769.4,54.4 L769.4,135 L824.7,135" fill="none" stroke="#333" stroke-width="0.8"/><line x1="767.4" y1="135" x2="769.4" y2="135" stroke="#333" stroke-width="0.7"/><text x="766.4" y="137.1" font-family="'Liberation Sans', sans-serif" font-size="6.2" fill="#444" text-anchor="end" >0.5</text><line x1="767.4" y1="114.85" x2="769.4" y2="114.85" stroke="#333" stroke-width="0.7"/><text x="766.4" y="116.95" font-family="'Liberation Sans', sans-serif" font-size="6.2" fill="#444" text-anchor="end" >0.6</text><line x1="767.4" y1="94.7" x2="769.4" y2="94.7" stroke="#333" stroke-width="0.7"/><text x="766.4" y="96.8" font-family="'Liberation Sans', sans-serif" font-size="6.2" fill="#444" text-anchor="end" >0.7</text><line x1="767.4" y1="74.55" x2="769.4" y2="74.55" stroke="#333" stroke-width="0.7"/><text x="766.4" y="76.65" font-family="'Liberation Sans', sans-serif" font-size="6.2" fill="#444" text-anchor="end" >0.8</text><line x1="767.4" y1="54.4" x2="769.4" y2="54.4" stroke="#333" stroke-width="0.7"/><text x="766.4" y="56.5" font-family="'Liberation Sans', sans-serif" font-size="6.2" fill="#444" text-anchor="end" >0.9</text><text transform="translate(754,94.7) rotate(-90)" font-family="'Liberation Sans', sans-serif" font-size="6.3" fill="#333" text-anchor="middle">Water activity</text><path d="M781,101.75 C781.5,100.91 783.08,98.39 784,96.72 C784.92,95.04 786.5,93.36 786.5,91.68 C786.5,90 784.92,88.32 784,86.64 C783.08,84.96 781.5,82.44 781,81.6 L781,81.6 C780.5,82.44 778.92,84.96 778,86.64 C777.08,88.32 775.5,90 775.5,91.68 C775.5,93.36 777.08,95.04 778,96.72 C778.92,98.39 780.5,100.91 781,101.75Z" fill="#EB7A7C" stroke="#B23A3E" stroke-width="0.7"/><line x1="775.5" y1="91.68" x2="786.5" y2="91.68" stroke="#222" stroke-width="0.6"/><line x1="778" y1="96.72" x2="784" y2="96.72" stroke="#222" stroke-width="0.6" stroke-dasharray="1 1"/><line x1="778" y1="86.64" x2="784" y2="86.64" stroke="#222" stroke-width="0.6" stroke-dasharray="1 1"/><line x1="781" y1="103.75" x2="781" y2="79.6" stroke="#333" stroke-width="0.4" stroke-dasharray="1 1"/><circle cx="779.97" cy="94.65" r="0.8" fill="#222"/><circle cx="780.76" cy="87.92" r="0.8" fill="#222"/><circle cx="780.73" cy="86.79" r="0.8" fill="#222"/><circle cx="781.83" cy="85.22" r="0.8" fill="#222"/><circle cx="780.3" cy="98.72" r="0.8" fill="#222"/><circle cx="780.93" cy="85.89" r="0.8" fill="#222"/><circle cx="780.75" cy="84.9" r="0.8" fill="#222"/><line x1="781" y1="135" x2="781" y2="137" stroke="#333" stroke-width="0.7"/><text transform="translate(782.2,140.6) rotate(-45)" font-family="'Liberation Sans', sans-serif" font-size="6" fill="#333" text-anchor="end">Hongxin</text><path d="M797.5,111.22 C798.17,110.99 800.7,110.38 801.5,109.81 C802.3,109.24 802.8,108.4 802.3,107.8 C801.8,107.19 799.2,106.86 798.5,106.19 C797.8,105.51 798.17,104.61 798.1,103.77 C798.03,102.93 798.2,101.82 798.1,101.15 C798,100.48 797.6,99.97 797.5,99.74 L797.5,99.74 C797.4,99.97 797,100.48 796.9,101.15 C796.8,101.82 796.97,102.93 796.9,103.77 C796.83,104.61 797.2,105.51 796.5,106.19 C795.8,106.86 793.2,107.19 792.7,107.8 C792.2,108.4 792.7,109.24 793.5,109.81 C794.3,110.38 796.83,110.99 797.5,111.22Z" fill="#3a3a3a" stroke="#111" stroke-width="0.7"/><line x1="792.7" y1="107.8" x2="802.3" y2="107.8" stroke="#222" stroke-width="0.6"/><line x1="793.38" y1="109.51" x2="801.62" y2="109.51" stroke="#222" stroke-width="0.6" stroke-dasharray="1 1"/><line x1="796.9" y1="103.77" x2="798.1" y2="103.77" stroke="#222" stroke-width="0.6" stroke-dasharray="1 1"/><line x1="797.5" y1="113.22" x2="797.5" y2="97.74" stroke="#333" stroke-width="0.4" stroke-dasharray="1 1"/><circle cx="797.81" cy="108.91" r="0.8" fill="#222"/><circle cx="796.95" cy="103.24" r="0.8" fill="#222"/><circle cx="797.1" cy="108.8" r="0.8" fill="#222"/><circle cx="798.12" cy="101.75" r="0.8" fill="#222"/><circle cx="796.89" cy="108.55" r="0.8" fill="#222"/><circle cx="796.44" cy="108.69" r="0.8" fill="#222"/><circle cx="796.73" cy="103.09" r="0.8" fill="#222"/><line x1="797.5" y1="135" x2="797.5" y2="137" stroke="#333" stroke-width="0.7"/><text transform="translate(798.7,140.6) rotate(-45)" font-family="'Liberation Sans', sans-serif" font-size="6" fill="#333" text-anchor="end">Houhuo</text><path d="M813.4,123.92 C813.73,122.41 814.65,117.7 815.4,114.85 C816.15,112 817.32,109.31 817.9,106.79 C818.48,104.27 819.15,101.92 818.9,99.74 C818.65,97.55 816.48,95.88 816.4,93.69 C816.32,91.51 818.57,89.16 818.4,86.64 C818.23,84.12 816.23,80.59 815.4,78.58 C814.57,76.56 813.73,75.22 813.4,74.55 L813.4,74.55 C813.07,75.22 812.23,76.56 811.4,78.58 C810.57,80.59 808.57,84.12 808.4,86.64 C808.23,89.16 810.48,91.51 810.4,93.69 C810.32,95.88 808.15,97.55 807.9,99.74 C807.65,101.92 808.32,104.27 808.9,106.79 C809.48,109.31 810.65,112 811.4,114.85 C812.15,117.7 813.07,122.41 813.4,123.92Z" fill="#7080CC" stroke="#2F3C8E" stroke-width="0.7"/><line x1="807.9" y1="99.74" x2="818.9" y2="99.74" stroke="#222" stroke-width="0.6"/><line x1="810.46" y1="111.83" x2="816.34" y2="111.83" stroke="#222" stroke-width="0.6" stroke-dasharray="1 1"/><line x1="808.54" y1="87.14" x2="818.26" y2="87.14" stroke="#222" stroke-width="0.6" stroke-dasharray="1 1"/><line x1="813.4" y1="125.92" x2="813.4" y2="72.55" stroke="#333" stroke-width="0.4" stroke-dasharray="1 1"/><circle cx="813.27" cy="97.18" r="0.8" fill="#222"/><circle cx="813.96" cy="109.92" r="0.8" fill="#222"/><circle cx="813.74" cy="111.99" r="0.8" fill="#222"/><circle cx="813.21" cy="112.49" r="0.8" fill="#222"/><circle cx="812.85" cy="109.16" r="0.8" fill="#222"/><circle cx="814.13" cy="82.96" r="0.8" fill="#222"/><circle cx="814.32" cy="106" r="0.8" fill="#222"/><line x1="813.4" y1="135" x2="813.4" y2="137" stroke="#333" stroke-width="0.7"/><text transform="translate(814.6,140.6) rotate(-45)" font-family="'Liberation Sans', sans-serif" font-size="6" fill="#333" text-anchor="end">Qingcha</text><line x1="781" y1="74.8" x2="797" y2="74.8" stroke="#444" stroke-width="0.6"/><text x="789" y="75.1" font-family="'Liberation Sans', sans-serif" font-size="7" fill="#222" text-anchor="middle" font-weight="bold">***</text><line x1="797.5" y1="64.8" x2="813.4" y2="64.8" stroke="#444" stroke-width="0.6"/><text x="805.45" y="65.1" font-family="'Liberation Sans', sans-serif" font-size="7" fill="#222" text-anchor="middle" font-weight="bold">*</text><text x="823.7" y="132.5" font-family="'Liberation Sans', sans-serif" font-size="3.2" fill="#555" text-anchor="end" >K-W test : &lt; 0.001</text><path d="M867.6,52.5 L867.6,135 L923.9,135" fill="none" stroke="#333" stroke-width="0.8"/><line x1="865.6" y1="135" x2="867.6" y2="135" stroke="#333" stroke-width="0.7"/><text x="864.6" y="137.1" font-family="'Liberation Sans', sans-serif" font-size="6.2" fill="#444" text-anchor="end" >0</text><line x1="865.6" y1="118.5" x2="867.6" y2="118.5" stroke="#333" stroke-width="0.7"/><text x="864.6" y="120.6" font-family="'Liberation Sans', sans-serif" font-size="6.2" fill="#444" text-anchor="end" >200</text><line x1="865.6" y1="102" x2="867.6" y2="102" stroke="#333" stroke-width="0.7"/><text x="864.6" y="104.1" font-family="'Liberation Sans', sans-serif" font-size="6.2" fill="#444" text-anchor="end" >400</text><line x1="865.6" y1="85.5" x2="867.6" y2="85.5" stroke="#333" stroke-width="0.7"/><text x="864.6" y="87.6" font-family="'Liberation Sans', sans-serif" font-size="6.2" fill="#444" text-anchor="end" >600</text><line x1="865.6" y1="69" x2="867.6" y2="69" stroke="#333" stroke-width="0.7"/><text x="864.6" y="71.1" font-family="'Liberation Sans', sans-serif" font-size="6.2" fill="#444" text-anchor="end" >800</text><line x1="865.6" y1="52.5" x2="867.6" y2="52.5" stroke="#333" stroke-width="0.7"/><text x="864.6" y="54.6" font-family="'Liberation Sans', sans-serif" font-size="6.2" fill="#444" text-anchor="end" >1000</text><text transform="translate(848.5,93.75) rotate(-90)" font-family="'Liberation Sans', sans-serif" font-size="6.3" fill="#333" text-anchor="middle">Saccharifying power (U)</text><path d="M879.4,106.12 C879.73,105.16 880.82,102.41 881.4,100.35 C881.98,98.29 882.32,96.22 882.9,93.75 C883.48,91.28 884.73,88.25 884.9,85.5 C885.07,82.75 884.57,79.72 883.9,77.25 C883.23,74.78 881.65,72.3 880.9,70.65 C880.15,69 879.65,67.9 879.4,67.35 L879.4,67.35 C879.15,67.9 878.65,69 877.9,70.65 C877.15,72.3 875.57,74.78 874.9,77.25 C874.23,79.72 873.73,82.75 873.9,85.5 C874.07,88.25 875.32,91.28 875.9,93.75 C876.48,96.22 876.82,98.29 877.4,100.35 C877.98,102.41 879.07,105.16 879.4,106.12Z" fill="#EB7A7C" stroke="#B23A3E" stroke-width="0.7"/><line x1="873.9" y1="85.5" x2="884.9" y2="85.5" stroke="#222" stroke-width="0.6"/><line x1="876.37" y1="95.81" x2="882.43" y2="95.81" stroke="#222" stroke-width="0.6" stroke-dasharray="1 1"/><line x1="875.27" y1="76.43" x2="883.52" y2="76.43" stroke="#222" stroke-width="0.6" stroke-dasharray="1 1"/><line x1="879.4" y1="108.12" x2="879.4" y2="65.35" stroke="#333" stroke-width="0.4" stroke-dasharray="1 1"/><circle cx="879.15" cy="94.59" r="0.8" fill="#222"/><circle cx="879.74" cy="77.12" r="0.8" fill="#222"/><circle cx="880.57" cy="97.59" r="0.8" fill="#222"/><circle cx="878.82" cy="94.52" r="0.8" fill="#222"/><circle cx="878.99" cy="79.34" r="0.8" fill="#222"/><circle cx="878.38" cy="92.27" r="0.8" fill="#222"/><circle cx="879.6" cy="97.86" r="0.8" fill="#222"/><line x1="879.4" y1="135" x2="879.4" y2="137" stroke="#333" stroke-width="0.7"/><text transform="translate(880.6,140.6) rotate(-45)" font-family="'Liberation Sans', sans-serif" font-size="6" fill="#333" text-anchor="end">Hongxin</text><path d="M895.8,112.72 C896.3,111.9 897.88,109.56 898.8,107.78 C899.72,105.99 901.3,103.92 901.3,102 C901.3,100.08 899.47,98.29 898.8,96.22 C898.13,94.16 897.5,91.69 897.3,89.62 C897.1,87.56 897.85,85.91 897.6,83.85 C897.35,81.79 896.1,78.35 895.8,77.25 L895.8,77.25 C895.5,78.35 894.25,81.79 894,83.85 C893.75,85.91 894.5,87.56 894.3,89.62 C894.1,91.69 893.47,94.16 892.8,96.22 C892.13,98.29 890.3,100.08 890.3,102 C890.3,103.92 891.88,105.99 892.8,107.78 C893.72,109.56 895.3,111.9 895.8,112.72Z" fill="#74C274" stroke="#2F7D2F" stroke-width="0.7"/><line x1="890.3" y1="102" x2="901.3" y2="102" stroke="#222" stroke-width="0.6"/><line x1="892.62" y1="107.36" x2="898.98" y2="107.36" stroke="#222" stroke-width="0.6" stroke-dasharray="1 1"/><line x1="894.3" y1="89.62" x2="897.3" y2="89.62" stroke="#222" stroke-width="0.6" stroke-dasharray="1 1"/><line x1="895.8" y1="114.72" x2="895.8" y2="75.25" stroke="#333" stroke-width="0.4" stroke-dasharray="1 1"/><circle cx="896.04" cy="101.37" r="0.8" fill="#222"/><circle cx="895.69" cy="98.17" r="0.8" fill="#222"/><circle cx="895.76" cy="83.59" r="0.8" fill="#222"/><circle cx="896.68" cy="93.14" r="0.8" fill="#222"/><circle cx="894.97" cy="102.86" r="0.8" fill="#222"/><circle cx="896.56" cy="84.85" r="0.8" fill="#222"/><circle cx="895.06" cy="101.21" r="0.8" fill="#222"/><line x1="895.8" y1="135" x2="895.8" y2="137" stroke="#333" stroke-width="0.7"/><text transform="translate(897,140.6) rotate(-45)" font-family="'Liberation Sans', sans-serif" font-size="6" fill="#333" text-anchor="end">Houhuo</text><path d="M912.3,116.85 C912.88,115.75 914.88,112.04 915.8,110.25 C916.72,108.46 917.88,108.19 917.8,106.12 C917.72,104.06 915.97,100.62 915.3,97.88 C914.63,95.12 914.3,92.24 913.8,89.62 C913.3,87.01 912.55,83.44 912.3,82.2 L912.3,82.2 C912.05,83.44 911.3,87.01 910.8,89.62 C910.3,92.24 909.97,95.12 909.3,97.88 C908.63,100.62 906.88,104.06 906.8,106.12 C906.72,108.19 907.88,108.46 908.8,110.25 C909.72,112.04 911.72,115.75 912.3,116.85Z" fill="#7080CC" stroke="#2F3C8E" stroke-width="0.7"/><line x1="906.8" y1="106.12" x2="917.8" y2="106.12" stroke="#222" stroke-width="0.6"/><line x1="909.46" y1="111.49" x2="915.14" y2="111.49" stroke="#222" stroke-width="0.6" stroke-dasharray="1 1"/><line x1="909.97" y1="94.16" x2="914.62" y2="94.16" stroke="#222" stroke-width="0.6" stroke-dasharray="1 1"/><line x1="912.3" y1="118.85" x2="912.3" y2="80.2" stroke="#333" stroke-width="0.4" stroke-dasharray="1 1"/><circle cx="913.36" cy="93.72" r="0.8" fill="#222"/><circle cx="913.38" cy="106.88" r="0.8" fill="#222"/><circle cx="912.55" cy="90.25" r="0.8" fill="#222"/><circle cx="911.35" cy="101.43" r="0.8" fill="#222"/><circle cx="913.41" cy="110.71" r="0.8" fill="#222"/><circle cx="912.79" cy="105.87" r="0.8" fill="#222"/><circle cx="913.08" cy="105.42" r="0.8" fill="#222"/><line x1="912.3" y1="135" x2="912.3" y2="137" stroke="#333" stroke-width="0.7"/><text transform="translate(913.5,140.6) rotate(-45)" font-family="'Liberation Sans', sans-serif" font-size="6" fill="#333" text-anchor="end">Qingcha</text><line x1="879.4" y1="65.3" x2="895.8" y2="65.3" stroke="#444" stroke-width="0.6"/><text x="887.6" y="65.6" font-family="'Liberation Sans', sans-serif" font-size="7" fill="#222" text-anchor="middle" font-weight="bold">***</text><line x1="879.4" y1="57.8" x2="912.3" y2="57.8" stroke="#444" stroke-width="0.6"/><text x="895.85" y="58.1" font-family="'Liberation Sans', sans-serif" font-size="7" fill="#222" text-anchor="middle" font-weight="bold">***</text><text x="922.9" y="132.5" font-family="'Liberation Sans', sans-serif" font-size="3.2" fill="#555" text-anchor="end" >K-W test : &lt; 0.001</text><path d="M957.6,49.3 L957.6,135 L1015.4,135" fill="none" stroke="#333" stroke-width="0.8"/><line x1="955.6" y1="135" x2="957.6" y2="135" stroke="#333" stroke-width="0.7"/><text x="954.6" y="137.1" font-family="'Liberation Sans', sans-serif" font-size="6.2" fill="#444" text-anchor="end" >0</text><line x1="955.6" y1="113.58" x2="957.6" y2="113.58" stroke="#333" stroke-width="0.7"/><text x="954.6" y="115.67" font-family="'Liberation Sans', sans-serif" font-size="6.2" fill="#444" text-anchor="end" >2</text><line x1="955.6" y1="92.15" x2="957.6" y2="92.15" stroke="#333" stroke-width="0.7"/><text x="954.6" y="94.25" font-family="'Liberation Sans', sans-serif" font-size="6.2" fill="#444" text-anchor="end" >4</text><line x1="955.6" y1="70.72" x2="957.6" y2="70.72" stroke="#333" stroke-width="0.7"/><text x="954.6" y="72.82" font-family="'Liberation Sans', sans-serif" font-size="6.2" fill="#444" text-anchor="end" >6</text><line x1="955.6" y1="49.3" x2="957.6" y2="49.3" stroke="#333" stroke-width="0.7"/><text x="954.6" y="51.4" font-family="'Liberation Sans', sans-serif" font-size="6.2" fill="#444" text-anchor="end" >8</text><text transform="translate(945,92.15) rotate(-90)" font-family="'Liberation Sans', sans-serif" font-size="6.3" fill="#333" text-anchor="middle">Esterifying powe (U)</text><path d="M969.8,135 C969.93,134.11 970.35,131.43 970.6,129.64 C970.85,127.86 971.3,126.61 971.3,124.29 C971.3,121.97 970.72,119.29 970.6,115.72 C970.48,112.15 970.32,106.79 970.6,102.86 C970.88,98.93 971.6,95.72 972.3,92.15 C973,88.58 974.22,84.12 974.8,81.44 C975.38,78.76 975.97,77.87 975.8,76.08 C975.63,74.3 974.8,73.05 973.8,70.72 C972.8,68.4 970.47,63.58 969.8,62.16 L969.8,62.16 C969.13,63.58 966.8,68.4 965.8,70.72 C964.8,73.05 963.97,74.3 963.8,76.08 C963.63,77.87 964.22,78.76 964.8,81.44 C965.38,84.12 966.6,88.58 967.3,92.15 C968,95.72 968.72,98.93 969,102.86 C969.28,106.79 969.12,112.15 969,115.72 C968.88,119.29 968.3,121.97 968.3,124.29 C968.3,126.61 968.75,127.86 969,129.64 C969.25,131.43 969.67,134.11 969.8,135Z" fill="#EB7A7C" stroke="#B23A3E" stroke-width="0.7"/><line x1="963.8" y1="76.08" x2="975.8" y2="76.08" stroke="#222" stroke-width="0.6"/><line x1="969" y1="105.54" x2="970.6" y2="105.54" stroke="#222" stroke-width="0.6" stroke-dasharray="1 1"/><line x1="966.55" y1="69.12" x2="973.05" y2="69.12" stroke="#222" stroke-width="0.6" stroke-dasharray="1 1"/><line x1="969.8" y1="137" x2="969.8" y2="60.16" stroke="#333" stroke-width="0.4" stroke-dasharray="1 1"/><circle cx="969.3" cy="93.66" r="0.8" fill="#222"/><circle cx="970.33" cy="115.13" r="0.8" fill="#222"/><circle cx="969.15" cy="120.57" r="0.8" fill="#222"/><circle cx="970.65" cy="95.55" r="0.8" fill="#222"/><circle cx="969.27" cy="92.75" r="0.8" fill="#222"/><circle cx="969.09" cy="77.3" r="0.8" fill="#222"/><circle cx="969.25" cy="123.23" r="0.8" fill="#222"/><line x1="969.8" y1="135" x2="969.8" y2="137" stroke="#333" stroke-width="0.7"/><text transform="translate(971,140.6) rotate(-45)" font-family="'Liberation Sans', sans-serif" font-size="6" fill="#333" text-anchor="end">Hongxin</text><path d="M986.7,123.22 C987.2,121.61 988.78,116.25 989.7,113.58 C990.62,110.9 992.03,109.29 992.2,107.15 C992.37,105 990.78,102.86 990.7,100.72 C990.62,98.58 991.95,96.61 991.7,94.29 C991.45,91.97 990.03,88.94 989.2,86.79 C988.37,84.65 987.12,82.33 986.7,81.44 L986.7,81.44 C986.28,82.33 985.03,84.65 984.2,86.79 C983.37,88.94 981.95,91.97 981.7,94.29 C981.45,96.61 982.78,98.58 982.7,100.72 C982.62,102.86 981.03,105 981.2,107.15 C981.37,109.29 982.78,110.9 983.7,113.58 C984.62,116.25 986.2,121.61 986.7,123.22Z" fill="#74C274" stroke="#2F7D2F" stroke-width="0.7"/><line x1="981.2" y1="107.15" x2="992.2" y2="107.15" stroke="#222" stroke-width="0.6"/><line x1="984.2" y1="115.18" x2="989.2" y2="115.18" stroke="#222" stroke-width="0.6" stroke-dasharray="1 1"/><line x1="981.7" y1="94.29" x2="991.7" y2="94.29" stroke="#222" stroke-width="0.6" stroke-dasharray="1 1"/><line x1="986.7" y1="125.22" x2="986.7" y2="79.44" stroke="#333" stroke-width="0.4" stroke-dasharray="1 1"/><circle cx="985.65" cy="103.91" r="0.8" fill="#222"/><circle cx="986.39" cy="111.79" r="0.8" fill="#222"/><circle cx="985.82" cy="100.22" r="0.8" fill="#222"/><circle cx="987.64" cy="106.36" r="0.8" fill="#222"/><circle cx="987.08" cy="88.27" r="0.8" fill="#222"/><circle cx="986.9" cy="96.73" r="0.8" fill="#222"/><circle cx="985.58" cy="112.84" r="0.8" fill="#222"/><line x1="986.7" y1="135" x2="986.7" y2="137" stroke="#333" stroke-width="0.7"/><text transform="translate(987.9,140.6) rotate(-45)" font-family="'Liberation Sans', sans-serif" font-size="6" fill="#333" text-anchor="end">Houhuo</text><path d="M1004.1,106.08 C1004.6,104.65 1006.18,100.72 1007.1,97.51 C1008.02,94.29 1009.35,89.83 1009.6,86.79 C1009.85,83.76 1009.18,81.97 1008.6,79.29 C1008.02,76.62 1006.85,73.05 1006.1,70.72 C1005.35,68.4 1004.43,66.26 1004.1,65.37 L1004.1,65.37 C1003.77,66.26 1002.85,68.4 1002.1,70.72 C1001.35,73.05 1000.18,76.62 999.6,79.29 C999.02,81.97 998.35,83.76 998.6,86.79 C998.85,89.83 1000.18,94.29 1001.1,97.51 C1002.02,100.72 1003.6,104.65 1004.1,106.08Z" fill="#7080CC" stroke="#2F3C8E" stroke-width="0.7"/><line x1="998.6" y1="86.79" x2="1009.6" y2="86.79" stroke="#222" stroke-width="0.6"/><line x1="1000.85" y1="96.44" x2="1007.35" y2="96.44" stroke="#222" stroke-width="0.6" stroke-dasharray="1 1"/><line x1="1000.54" y1="76.08" x2="1007.66" y2="76.08" stroke="#222" stroke-width="0.6" stroke-dasharray="1 1"/><line x1="1004.1" y1="108.08" x2="1004.1" y2="63.37" stroke="#333" stroke-width="0.4" stroke-dasharray="1 1"/><circle cx="1005.08" cy="99.46" r="0.8" fill="#222"/><circle cx="1005.21" cy="80" r="0.8" fill="#222"/><circle cx="1004.43" cy="99.36" r="0.8" fill="#222"/><circle cx="1004.65" cy="86.23" r="0.8" fill="#222"/><circle cx="1005.3" cy="90.88" r="0.8" fill="#222"/><circle cx="1004.21" cy="97.83" r="0.8" fill="#222"/><circle cx="1005.06" cy="78.97" r="0.8" fill="#222"/><line x1="1004.1" y1="135" x2="1004.1" y2="137" stroke="#333" stroke-width="0.7"/><text transform="translate(1005.3,140.6) rotate(-45)" font-family="'Liberation Sans', sans-serif" font-size="6" fill="#333" text-anchor="end">Qingcha</text><line x1="969.8" y1="56.8" x2="986.7" y2="56.8" stroke="#444" stroke-width="0.6"/><text x="978.25" y="57.1" font-family="'Liberation Sans', sans-serif" font-size="7" fill="#222" text-anchor="middle" font-weight="bold">**</text><line x1="986.7" y1="50.6" x2="1004.1" y2="50.6" stroke="#444" stroke-width="0.6"/><text x="995.4" y="50.9" font-family="'Liberation Sans', sans-serif" font-size="7" fill="#222" text-anchor="middle" font-weight="bold">**</text><text x="1014.4" y="132.5" font-family="'Liberation Sans', sans-serif" font-size="3.2" fill="#555" text-anchor="end" >K-W test : = 0.002</text><path d="M674.5,178.1 L674.5,260.6 L731.2,260.6" fill="none" stroke="#333" stroke-width="0.8"/><line x1="672.5" y1="260.6" x2="674.5" y2="260.6" stroke="#333" stroke-width="0.7"/><text x="671.5" y="262.7" font-family="'Liberation Sans', sans-serif" font-size="6.2" fill="#444" text-anchor="end" >0</text><line x1="672.5" y1="233.1" x2="674.5" y2="233.1" stroke="#333" stroke-width="0.7"/><text x="671.5" y="235.2" font-family="'Liberation Sans', sans-serif" font-size="6.2" fill="#444" text-anchor="end" >5</text><line x1="672.5" y1="205.6" x2="674.5" y2="205.6" stroke="#333" stroke-width="0.7"/><text x="671.5" y="207.7" font-family="'Liberation Sans', sans-serif" font-size="6.2" fill="#444" text-anchor="end" >10</text><line x1="672.5" y1="178.1" x2="674.5" y2="178.1" stroke="#333" stroke-width="0.7"/><text x="671.5" y="180.2" font-family="'Liberation Sans', sans-serif" font-size="6.2" fill="#444" text-anchor="end" >15</text><text transform="translate(659.5,219.35) rotate(-90)" font-family="'Liberation Sans', sans-serif" font-size="6.3" fill="#333" text-anchor="middle">Fermenting power (U)</text><path d="M685.8,232 C685.9,231.72 686.3,231.63 686.4,230.35 C686.5,229.07 686,225.58 686.4,224.3 C686.8,223.02 688.03,223.15 688.8,222.65 C689.57,222.15 691,221.73 691,221.28 C691,220.82 689.57,220.4 688.8,219.9 C688.03,219.4 686.9,218.8 686.4,218.25 C685.9,217.7 685.9,216.88 685.8,216.6 L685.8,216.6 C685.7,216.88 685.7,217.7 685.2,218.25 C684.7,218.8 683.57,219.4 682.8,219.9 C682.03,220.4 680.6,220.82 680.6,221.28 C680.6,221.73 682.03,222.15 682.8,222.65 C683.57,223.15 684.8,223.02 685.2,224.3 C685.6,225.58 685.1,229.07 685.2,230.35 C685.3,231.63 685.7,231.72 685.8,232Z" fill="#A0343C" stroke="#5a1a1e" stroke-width="0.7"/><line x1="680.6" y1="221.28" x2="691" y2="221.28" stroke="#222" stroke-width="0.6"/><line x1="685.2" y1="226.64" x2="686.4" y2="226.64" stroke="#222" stroke-width="0.6" stroke-dasharray="1 1"/><line x1="684.2" y1="218.94" x2="687.4" y2="218.94" stroke="#222" stroke-width="0.6" stroke-dasharray="1 1"/><line x1="685.8" y1="234" x2="685.8" y2="214.6" stroke="#333" stroke-width="0.4" stroke-dasharray="1 1"/><circle cx="686.29" cy="221.74" r="0.8" fill="#222"/><circle cx="686.8" cy="221.14" r="0.8" fill="#222"/><circle cx="686.24" cy="225.9" r="0.8" fill="#222"/><circle cx="686.69" cy="219.98" r="0.8" fill="#222"/><circle cx="686.5" cy="225.19" r="0.8" fill="#222"/><circle cx="685.97" cy="220.38" r="0.8" fill="#222"/><circle cx="685.52" cy="222.95" r="0.8" fill="#222"/><line x1="685.8" y1="260.6" x2="685.8" y2="262.6" stroke="#333" stroke-width="0.7"/><text transform="translate(687,266.2) rotate(-45)" font-family="'Liberation Sans', sans-serif" font-size="6" fill="#333" text-anchor="end">Hongxin</text><path d="M702.2,260.6 C702.37,260.14 702.97,259.23 703.2,257.85 C703.43,256.48 703.58,254.64 703.6,252.35 C703.62,250.06 703.3,246.85 703.3,244.1 C703.3,241.35 703.25,238.14 703.6,235.85 C703.95,233.56 704.63,232.28 705.4,230.35 C706.17,228.43 707.98,226.13 708.2,224.3 C708.42,222.47 707.37,221.09 706.7,219.35 C706.03,217.61 704.95,216.14 704.2,213.85 C703.45,211.56 702.53,206.98 702.2,205.6 L702.2,205.6 C701.87,206.98 700.95,211.56 700.2,213.85 C699.45,216.14 698.37,217.61 697.7,219.35 C697.03,221.09 695.98,222.47 696.2,224.3 C696.42,226.13 698.23,228.43 699,230.35 C699.77,232.28 700.45,233.56 700.8,235.85 C701.15,238.14 701.1,241.35 701.1,244.1 C701.1,246.85 700.78,250.06 700.8,252.35 C700.82,254.64 700.97,256.48 701.2,257.85 C701.43,259.23 702.03,260.14 702.2,260.6Z" fill="#74C274" stroke="#2F7D2F" stroke-width="0.7"/><line x1="696.2" y1="224.3" x2="708.2" y2="224.3" stroke="#222" stroke-width="0.6"/><line x1="701.04" y1="242.45" x2="703.36" y2="242.45" stroke="#222" stroke-width="0.6" stroke-dasharray="1 1"/><line x1="699.7" y1="214.95" x2="704.7" y2="214.95" stroke="#222" stroke-width="0.6" stroke-dasharray="1 1"/><line x1="702.2" y1="262.6" x2="702.2" y2="203.6" stroke="#333" stroke-width="0.4" stroke-dasharray="1 1"/><circle cx="702.46" cy="229.92" r="0.8" fill="#222"/><circle cx="702.53" cy="249.26" r="0.8" fill="#222"/><circle cx="703.11" cy="214.11" r="0.8" fill="#222"/><circle cx="701.93" cy="224.31" r="0.8" fill="#222"/><circle cx="702.39" cy="224.05" r="0.8" fill="#222"/><circle cx="703.01" cy="235.39" r="0.8" fill="#222"/><circle cx="702.8" cy="249.12" r="0.8" fill="#222"/><line x1="702.2" y1="260.6" x2="702.2" y2="262.6" stroke="#333" stroke-width="0.7"/><text transform="translate(703.4,266.2) rotate(-45)" font-family="'Liberation Sans', sans-serif" font-size="6" fill="#333" text-anchor="end">Houhuo</text><path d="M718.4,228.7 C718.9,228.52 720.57,227.97 721.4,227.6 C722.23,227.23 723.4,226.96 723.4,226.5 C723.4,226.04 721.98,225.58 721.4,224.85 C720.82,224.12 720.4,223.02 719.9,222.1 C719.4,221.18 718.65,219.81 718.4,219.35 L718.4,219.35 C718.15,219.81 717.4,221.18 716.9,222.1 C716.4,223.02 715.98,224.12 715.4,224.85 C714.82,225.58 713.4,226.04 713.4,226.5 C713.4,226.96 714.57,227.23 715.4,227.6 C716.23,227.97 717.9,228.52 718.4,228.7Z" fill="#3A4390" stroke="#1a1f50" stroke-width="0.7"/><line x1="713.4" y1="226.5" x2="723.4" y2="226.5" stroke="#222" stroke-width="0.6"/><line x1="715.4" y1="227.6" x2="721.4" y2="227.6" stroke="#222" stroke-width="0.6" stroke-dasharray="1 1"/><line x1="716.45" y1="222.93" x2="720.35" y2="222.93" stroke="#222" stroke-width="0.6" stroke-dasharray="1 1"/><line x1="718.4" y1="230.7" x2="718.4" y2="217.35" stroke="#333" stroke-width="0.4" stroke-dasharray="1 1"/><circle cx="718.64" cy="227.1" r="0.8" fill="#222"/><circle cx="717.75" cy="224.15" r="0.8" fill="#222"/><circle cx="718.39" cy="222.73" r="0.8" fill="#222"/><circle cx="719.41" cy="223.28" r="0.8" fill="#222"/><circle cx="717.23" cy="225.62" r="0.8" fill="#222"/><circle cx="718.83" cy="225.33" r="0.8" fill="#222"/><circle cx="717.61" cy="225.97" r="0.8" fill="#222"/><line x1="718.4" y1="260.6" x2="718.4" y2="262.6" stroke="#333" stroke-width="0.7"/><text transform="translate(719.6,266.2) rotate(-45)" font-family="'Liberation Sans', sans-serif" font-size="6" fill="#333" text-anchor="end">Qingcha</text><line x1="685.8" y1="201" x2="702.2" y2="201" stroke="#444" stroke-width="0.6"/><text x="694" y="201.3" font-family="'Liberation Sans', sans-serif" font-size="7" fill="#222" text-anchor="middle" font-weight="bold">*</text><line x1="685.8" y1="191.4" x2="718.4" y2="191.4" stroke="#444" stroke-width="0.6"/><text x="702.1" y="191.7" font-family="'Liberation Sans', sans-serif" font-size="7" fill="#222" text-anchor="middle" font-weight="bold">*</text><text x="730.2" y="258.1" font-family="'Liberation Sans', sans-serif" font-size="3.2" fill="#555" text-anchor="end" >K-W test : = 0.020</text><path d="M766.6,179.3 L766.6,260.6 L825.7,260.6" fill="none" stroke="#333" stroke-width="0.8"/><line x1="764.6" y1="260.6" x2="766.6" y2="260.6" stroke="#333" stroke-width="0.7"/><text x="763.6" y="262.7" font-family="'Liberation Sans', sans-serif" font-size="6.2" fill="#444" text-anchor="end" >0.0</text><line x1="764.6" y1="244.34" x2="766.6" y2="244.34" stroke="#333" stroke-width="0.7"/><text x="763.6" y="246.44" font-family="'Liberation Sans', sans-serif" font-size="6.2" fill="#444" text-anchor="end" >0.2</text><line x1="764.6" y1="228.08" x2="766.6" y2="228.08" stroke="#333" stroke-width="0.7"/><text x="763.6" y="230.18" font-family="'Liberation Sans', sans-serif" font-size="6.2" fill="#444" text-anchor="end" >0.4</text><line x1="764.6" y1="211.82" x2="766.6" y2="211.82" stroke="#333" stroke-width="0.7"/><text x="763.6" y="213.92" font-family="'Liberation Sans', sans-serif" font-size="6.2" fill="#444" text-anchor="end" >0.6</text><line x1="764.6" y1="195.56" x2="766.6" y2="195.56" stroke="#333" stroke-width="0.7"/><text x="763.6" y="197.66" font-family="'Liberation Sans', sans-serif" font-size="6.2" fill="#444" text-anchor="end" >0.8</text><line x1="764.6" y1="179.3" x2="766.6" y2="179.3" stroke="#333" stroke-width="0.7"/><text x="763.6" y="181.4" font-family="'Liberation Sans', sans-serif" font-size="6.2" fill="#444" text-anchor="end" >1.0</text><text transform="translate(752.5,219.95) rotate(-90)" font-family="'Liberation Sans', sans-serif" font-size="6.3" fill="#333" text-anchor="middle">Titratable acidity</text><path d="M781.8,237.84 C782.13,237.16 783.05,235.13 783.8,233.77 C784.55,232.42 785.8,230.93 786.3,229.71 C786.8,228.49 787.13,227.54 786.8,226.45 C786.47,225.37 785.13,224.56 784.3,223.2 C783.47,221.85 782.22,219.14 781.8,218.32 L781.8,218.32 C781.38,219.14 780.13,221.85 779.3,223.2 C778.47,224.56 777.13,225.37 776.8,226.45 C776.47,227.54 776.8,228.49 777.3,229.71 C777.8,230.93 779.05,232.42 779.8,233.77 C780.55,235.13 781.47,237.16 781.8,237.84Z" fill="#EB7A7C" stroke="#B23A3E" stroke-width="0.7"/><line x1="776.8" y1="226.45" x2="786.8" y2="226.45" stroke="#222" stroke-width="0.6"/><line x1="778.8" y1="232.15" x2="784.8" y2="232.15" stroke="#222" stroke-width="0.6" stroke-dasharray="1 1"/><line x1="779.72" y1="222.39" x2="783.88" y2="222.39" stroke="#222" stroke-width="0.6" stroke-dasharray="1 1"/><line x1="781.8" y1="239.84" x2="781.8" y2="216.32" stroke="#333" stroke-width="0.4" stroke-dasharray="1 1"/><circle cx="782.18" cy="222.54" r="0.8" fill="#222"/><circle cx="782.74" cy="228.87" r="0.8" fill="#222"/><circle cx="782.2" cy="230.44" r="0.8" fill="#222"/><circle cx="781.63" cy="232.2" r="0.8" fill="#222"/><circle cx="782.79" cy="223.9" r="0.8" fill="#222"/><circle cx="781.52" cy="222.89" r="0.8" fill="#222"/><circle cx="781.36" cy="226.94" r="0.8" fill="#222"/><line x1="781.8" y1="260.6" x2="781.8" y2="262.6" stroke="#333" stroke-width="0.7"/><text transform="translate(783,266.2) rotate(-45)" font-family="'Liberation Sans', sans-serif" font-size="6" fill="#333" text-anchor="end">Hongxin</text><path d="M798,238.65 C798.33,237.57 799.33,234.18 800,232.15 C800.67,230.11 801.92,228.49 802,226.45 C802.08,224.42 800.42,222.12 800.5,219.95 C800.58,217.78 802,215.48 802.5,213.45 C803,211.41 803.83,209.65 803.5,207.76 C803.17,205.86 801.42,203.83 800.5,202.06 C799.58,200.3 798.42,198 798,197.19 L798,197.19 C797.58,198 796.42,200.3 795.5,202.06 C794.58,203.83 792.83,205.86 792.5,207.76 C792.17,209.65 793,211.41 793.5,213.45 C794,215.48 795.42,217.78 795.5,219.95 C795.58,222.12 793.92,224.42 794,226.45 C794.08,228.49 795.33,230.11 796,232.15 C796.67,234.18 797.67,237.57 798,238.65Z" fill="#74C274" stroke="#2F7D2F" stroke-width="0.7"/><line x1="792.5" y1="207.76" x2="803.5" y2="207.76" stroke="#222" stroke-width="0.6"/><line x1="794.75" y1="223.2" x2="801.25" y2="223.2" stroke="#222" stroke-width="0.6" stroke-dasharray="1 1"/><line x1="795.29" y1="202.47" x2="800.71" y2="202.47" stroke="#222" stroke-width="0.6" stroke-dasharray="1 1"/><line x1="798" y1="240.65" x2="798" y2="195.19" stroke="#333" stroke-width="0.4" stroke-dasharray="1 1"/><circle cx="797.99" cy="228.48" r="0.8" fill="#222"/><circle cx="798.84" cy="208.13" r="0.8" fill="#222"/><circle cx="799.08" cy="211.79" r="0.8" fill="#222"/><circle cx="797.21" cy="224.4" r="0.8" fill="#222"/><circle cx="797.46" cy="219.35" r="0.8" fill="#222"/><circle cx="797.79" cy="226.22" r="0.8" fill="#222"/><circle cx="797.99" cy="214.27" r="0.8" fill="#222"/><line x1="798" y1="260.6" x2="798" y2="262.6" stroke="#333" stroke-width="0.7"/><text transform="translate(799.2,266.2) rotate(-45)" font-family="'Liberation Sans', sans-serif" font-size="6" fill="#333" text-anchor="end">Houhuo</text><path d="M814.1,236.21 C814.77,235.53 817.27,233.5 818.1,232.15 C818.93,230.79 819.35,229.3 819.1,228.08 C818.85,226.86 817.43,225.78 816.6,224.83 C815.77,223.88 814.52,222.8 814.1,222.39 L814.1,222.39 C813.68,222.8 812.43,223.88 811.6,224.83 C810.77,225.78 809.35,226.86 809.1,228.08 C808.85,229.3 809.27,230.79 810.1,232.15 C810.93,233.5 813.43,235.53 814.1,236.21Z" fill="#7080CC" stroke="#2F3C8E" stroke-width="0.7"/><line x1="809.1" y1="228.08" x2="819.1" y2="228.08" stroke="#222" stroke-width="0.6"/><line x1="810.1" y1="232.15" x2="818.1" y2="232.15" stroke="#222" stroke-width="0.6" stroke-dasharray="1 1"/><line x1="811.29" y1="225.23" x2="816.91" y2="225.23" stroke="#222" stroke-width="0.6" stroke-dasharray="1 1"/><line x1="814.1" y1="238.21" x2="814.1" y2="220.39" stroke="#333" stroke-width="0.4" stroke-dasharray="1 1"/><circle cx="814.91" cy="231.09" r="0.8" fill="#222"/><circle cx="813.99" cy="224.64" r="0.8" fill="#222"/><circle cx="812.98" cy="233.41" r="0.8" fill="#222"/><circle cx="813" cy="225.69" r="0.8" fill="#222"/><circle cx="814.27" cy="227.28" r="0.8" fill="#222"/><circle cx="814.8" cy="231.15" r="0.8" fill="#222"/><circle cx="813.23" cy="233.95" r="0.8" fill="#222"/><line x1="814.1" y1="260.6" x2="814.1" y2="262.6" stroke="#333" stroke-width="0.7"/><text transform="translate(815.3,266.2) rotate(-45)" font-family="'Liberation Sans', sans-serif" font-size="6" fill="#333" text-anchor="end">Qingcha</text><line x1="781.8" y1="193" x2="798" y2="193" stroke="#444" stroke-width="0.6"/><text x="789.9" y="193.3" font-family="'Liberation Sans', sans-serif" font-size="7" fill="#222" text-anchor="middle" font-weight="bold">**</text><line x1="798" y1="187.7" x2="814.1" y2="187.7" stroke="#444" stroke-width="0.6"/><text x="806.05" y="188" font-family="'Liberation Sans', sans-serif" font-size="7" fill="#222" text-anchor="middle" font-weight="bold">**</text><text x="824.7" y="258.1" font-family="'Liberation Sans', sans-serif" font-size="3.2" fill="#555" text-anchor="end" >K-W test : = 0.002</text><path d="M868.2,178.6 L868.2,261.3 L924.1,261.3" fill="none" stroke="#333" stroke-width="0.8"/><line x1="866.2" y1="261.3" x2="868.2" y2="261.3" stroke="#333" stroke-width="0.7"/><text x="865.2" y="263.4" font-family="'Liberation Sans', sans-serif" font-size="6.2" fill="#444" text-anchor="end" >30</text><line x1="866.2" y1="240.62" x2="868.2" y2="240.62" stroke="#333" stroke-width="0.7"/><text x="865.2" y="242.72" font-family="'Liberation Sans', sans-serif" font-size="6.2" fill="#444" text-anchor="end" >40</text><line x1="866.2" y1="219.95" x2="868.2" y2="219.95" stroke="#333" stroke-width="0.7"/><text x="865.2" y="222.05" font-family="'Liberation Sans', sans-serif" font-size="6.2" fill="#444" text-anchor="end" >50</text><line x1="866.2" y1="199.28" x2="868.2" y2="199.28" stroke="#333" stroke-width="0.7"/><text x="865.2" y="201.38" font-family="'Liberation Sans', sans-serif" font-size="6.2" fill="#444" text-anchor="end" >60</text><line x1="866.2" y1="178.6" x2="868.2" y2="178.6" stroke="#333" stroke-width="0.7"/><text x="865.2" y="180.7" font-family="'Liberation Sans', sans-serif" font-size="6.2" fill="#444" text-anchor="end" >70</text><text transform="translate(852,219.95) rotate(-90)" font-family="'Liberation Sans', sans-serif" font-size="6.3" fill="#333" text-anchor="middle">Starch content (g/100g)</text><path d="M879,242.69 C879.33,241.66 880.33,238.56 881,236.49 C881.67,234.42 882.42,232.35 883,230.29 C883.58,228.22 884.5,226.15 884.5,224.09 C884.5,222.02 883.42,219.95 883,217.88 C882.58,215.81 882.33,213.75 882,211.68 C881.67,209.61 881.5,207.54 881,205.48 C880.5,203.41 879.33,200.31 879,199.28 L879,199.28 C878.67,200.31 877.5,203.41 877,205.48 C876.5,207.54 876.33,209.61 876,211.68 C875.67,213.75 875.42,215.81 875,217.88 C874.58,219.95 873.5,222.02 873.5,224.09 C873.5,226.15 874.42,228.22 875,230.29 C875.58,232.35 876.33,234.42 877,236.49 C877.67,238.56 878.67,241.66 879,242.69Z" fill="#EB7A7C" stroke="#B23A3E" stroke-width="0.7"/><line x1="873.5" y1="224.09" x2="884.5" y2="224.09" stroke="#222" stroke-width="0.6"/><line x1="876" y1="233.39" x2="882" y2="233.39" stroke="#222" stroke-width="0.6" stroke-dasharray="1 1"/><line x1="876" y1="211.68" x2="882" y2="211.68" stroke="#222" stroke-width="0.6" stroke-dasharray="1 1"/><line x1="879" y1="244.69" x2="879" y2="197.28" stroke="#333" stroke-width="0.4" stroke-dasharray="1 1"/><circle cx="877.86" cy="222.36" r="0.8" fill="#222"/><circle cx="878.37" cy="210.96" r="0.8" fill="#222"/><circle cx="877.91" cy="231.9" r="0.8" fill="#222"/><circle cx="878.87" cy="217.06" r="0.8" fill="#222"/><circle cx="879.37" cy="217.03" r="0.8" fill="#222"/><circle cx="880.1" cy="211.64" r="0.8" fill="#222"/><circle cx="878.28" cy="215.38" r="0.8" fill="#222"/><line x1="879" y1="261.3" x2="879" y2="263.3" stroke="#333" stroke-width="0.7"/><text transform="translate(880.2,266.9) rotate(-45)" font-family="'Liberation Sans', sans-serif" font-size="6" fill="#333" text-anchor="end">Hongxin</text><path d="M895.9,246.83 C896.23,245.45 897.32,241.31 897.9,238.56 C898.48,235.8 898.82,233.04 899.4,230.29 C899.98,227.53 901.32,224.77 901.4,222.02 C901.48,219.26 900.32,216.5 899.9,213.75 C899.48,210.99 899.32,208.23 898.9,205.48 C898.48,202.72 897.9,199.27 897.4,197.21 C896.9,195.14 896.15,193.76 895.9,193.07 L895.9,193.07 C895.65,193.76 894.9,195.14 894.4,197.21 C893.9,199.27 893.32,202.72 892.9,205.48 C892.48,208.23 892.32,210.99 891.9,213.75 C891.48,216.5 890.32,219.26 890.4,222.02 C890.48,224.77 891.82,227.53 892.4,230.29 C892.98,233.04 893.32,235.8 893.9,238.56 C894.48,241.31 895.57,245.45 895.9,246.83Z" fill="#74C274" stroke="#2F7D2F" stroke-width="0.7"/><line x1="890.4" y1="222.02" x2="901.4" y2="222.02" stroke="#222" stroke-width="0.6"/><line x1="893.15" y1="234.42" x2="898.65" y2="234.42" stroke="#222" stroke-width="0.6" stroke-dasharray="1 1"/><line x1="892.65" y1="207.55" x2="899.15" y2="207.55" stroke="#222" stroke-width="0.6" stroke-dasharray="1 1"/><line x1="895.9" y1="248.83" x2="895.9" y2="191.07" stroke="#333" stroke-width="0.4" stroke-dasharray="1 1"/><circle cx="895.13" cy="220.89" r="0.8" fill="#222"/><circle cx="895.83" cy="238.36" r="0.8" fill="#222"/><circle cx="895.13" cy="211.89" r="0.8" fill="#222"/><circle cx="895.53" cy="228.52" r="0.8" fill="#222"/><circle cx="895.95" cy="212.53" r="0.8" fill="#222"/><circle cx="896.51" cy="215.64" r="0.8" fill="#222"/><circle cx="896.6" cy="223.96" r="0.8" fill="#222"/><line x1="895.9" y1="261.3" x2="895.9" y2="263.3" stroke="#333" stroke-width="0.7"/><text transform="translate(897.1,266.9) rotate(-45)" font-family="'Liberation Sans', sans-serif" font-size="6" fill="#333" text-anchor="end">Houhuo</text><path d="M912.8,226.15 C913.3,225.46 914.97,223.4 915.8,222.02 C916.63,220.64 917.8,219.26 917.8,217.88 C917.8,216.5 916.63,215.13 915.8,213.75 C914.97,212.37 913.3,210.3 912.8,209.61 L912.8,209.61 C912.3,210.3 910.63,212.37 909.8,213.75 C908.97,215.13 907.8,216.5 907.8,217.88 C907.8,219.26 908.97,220.64 909.8,222.02 C910.63,223.4 912.3,225.46 912.8,226.15Z" fill="#7080CC" stroke="#2F3C8E" stroke-width="0.7"/><line x1="907.8" y1="217.88" x2="917.8" y2="217.88" stroke="#222" stroke-width="0.6"/><line x1="909.8" y1="222.02" x2="915.8" y2="222.02" stroke="#222" stroke-width="0.6" stroke-dasharray="1 1"/><line x1="909.8" y1="213.75" x2="915.8" y2="213.75" stroke="#222" stroke-width="0.6" stroke-dasharray="1 1"/><line x1="912.8" y1="228.15" x2="912.8" y2="207.61" stroke="#333" stroke-width="0.4" stroke-dasharray="1 1"/><circle cx="911.81" cy="213.18" r="0.8" fill="#222"/><circle cx="913.33" cy="212.87" r="0.8" fill="#222"/><circle cx="912.69" cy="222.17" r="0.8" fill="#222"/><circle cx="913.78" cy="216.43" r="0.8" fill="#222"/><circle cx="912.97" cy="219.31" r="0.8" fill="#222"/><circle cx="913.51" cy="213.49" r="0.8" fill="#222"/><circle cx="912.71" cy="212.74" r="0.8" fill="#222"/><line x1="912.8" y1="261.3" x2="912.8" y2="263.3" stroke="#333" stroke-width="0.7"/><text transform="translate(914,266.9) rotate(-45)" font-family="'Liberation Sans', sans-serif" font-size="6" fill="#333" text-anchor="end">Qingcha</text><text x="923.1" y="258.8" font-family="'Liberation Sans', sans-serif" font-size="3.2" fill="#555" text-anchor="end" >K-W test : = 0.217</text><path d="M958.6,177.6 L958.6,260.8 L1015.8,260.8" fill="none" stroke="#333" stroke-width="0.8"/><line x1="956.6" y1="260.8" x2="958.6" y2="260.8" stroke="#333" stroke-width="0.7"/><text x="955.6" y="262.9" font-family="'Liberation Sans', sans-serif" font-size="6.2" fill="#444" text-anchor="end" >14</text><line x1="956.6" y1="240" x2="958.6" y2="240" stroke="#333" stroke-width="0.7"/><text x="955.6" y="242.1" font-family="'Liberation Sans', sans-serif" font-size="6.2" fill="#444" text-anchor="end" >16</text><line x1="956.6" y1="219.2" x2="958.6" y2="219.2" stroke="#333" stroke-width="0.7"/><text x="955.6" y="221.3" font-family="'Liberation Sans', sans-serif" font-size="6.2" fill="#444" text-anchor="end" >18</text><line x1="956.6" y1="198.4" x2="958.6" y2="198.4" stroke="#333" stroke-width="0.7"/><text x="955.6" y="200.5" font-family="'Liberation Sans', sans-serif" font-size="6.2" fill="#444" text-anchor="end" >20</text><line x1="956.6" y1="177.6" x2="958.6" y2="177.6" stroke="#333" stroke-width="0.7"/><text x="955.6" y="179.7" font-family="'Liberation Sans', sans-serif" font-size="6.2" fill="#444" text-anchor="end" >22</text><text transform="translate(943,219.2) rotate(-90)" font-family="'Liberation Sans', sans-serif" font-size="6.3" fill="#333" text-anchor="middle">Protein content (%)</text><path d="M970.7,246.24 C971.2,245.2 972.78,242.77 973.7,240 C974.62,237.23 976.03,232.37 976.2,229.6 C976.37,226.83 975.28,225.44 974.7,223.36 C974.12,221.28 973.37,219.03 972.7,217.12 C972.03,215.21 971.03,212.79 970.7,211.92 L970.7,211.92 C970.37,212.79 969.37,215.21 968.7,217.12 C968.03,219.03 967.28,221.28 966.7,223.36 C966.12,225.44 965.03,226.83 965.2,229.6 C965.37,232.37 966.78,237.23 967.7,240 C968.62,242.77 970.2,245.2 970.7,246.24Z" fill="#EB7A7C" stroke="#B23A3E" stroke-width="0.7"/><line x1="965.2" y1="229.6" x2="976.2" y2="229.6" stroke="#222" stroke-width="0.6"/><line x1="967.2" y1="237.92" x2="974.2" y2="237.92" stroke="#222" stroke-width="0.6" stroke-dasharray="1 1"/><line x1="967.53" y1="220.76" x2="973.87" y2="220.76" stroke="#222" stroke-width="0.6" stroke-dasharray="1 1"/><line x1="970.7" y1="248.24" x2="970.7" y2="209.92" stroke="#333" stroke-width="0.4" stroke-dasharray="1 1"/><circle cx="969.99" cy="225.44" r="0.8" fill="#222"/><circle cx="971.46" cy="223.75" r="0.8" fill="#222"/><circle cx="971.22" cy="225.68" r="0.8" fill="#222"/><circle cx="971.66" cy="235.97" r="0.8" fill="#222"/><circle cx="971.85" cy="217.54" r="0.8" fill="#222"/><circle cx="971.4" cy="228.19" r="0.8" fill="#222"/><circle cx="971.68" cy="233.39" r="0.8" fill="#222"/><line x1="970.7" y1="260.8" x2="970.7" y2="262.8" stroke="#333" stroke-width="0.7"/><text transform="translate(971.9,266.4) rotate(-45)" font-family="'Liberation Sans', sans-serif" font-size="6" fill="#333" text-anchor="end">Hongxin</text><path d="M987.6,240 C988.02,238.27 989.35,233.07 990.1,229.6 C990.85,226.13 991.6,221.8 992.1,219.2 C992.6,216.6 993.18,216.6 993.1,214 C993.02,211.4 992.18,206.55 991.6,203.6 C991.02,200.65 990.27,198.92 989.6,196.32 C988.93,193.72 987.93,189.39 987.6,188 L987.6,188 C987.27,189.39 986.27,193.72 985.6,196.32 C984.93,198.92 984.18,200.65 983.6,203.6 C983.02,206.55 982.18,211.4 982.1,214 C982.02,216.6 982.6,216.6 983.1,219.2 C983.6,221.8 984.35,226.13 985.1,229.6 C985.85,233.07 987.18,238.27 987.6,240Z" fill="#74C274" stroke="#2F7D2F" stroke-width="0.7"/><line x1="982.1" y1="214" x2="993.1" y2="214" stroke="#222" stroke-width="0.6"/><line x1="984.6" y1="227" x2="990.6" y2="227" stroke="#222" stroke-width="0.6" stroke-dasharray="1 1"/><line x1="984.31" y1="201" x2="990.89" y2="201" stroke="#222" stroke-width="0.6" stroke-dasharray="1 1"/><line x1="987.6" y1="242" x2="987.6" y2="186" stroke="#333" stroke-width="0.4" stroke-dasharray="1 1"/><circle cx="987.24" cy="201.05" r="0.8" fill="#222"/><circle cx="987.46" cy="229.19" r="0.8" fill="#222"/><circle cx="988.24" cy="212.17" r="0.8" fill="#222"/><circle cx="986.47" cy="214.46" r="0.8" fill="#222"/><circle cx="986.55" cy="202.75" r="0.8" fill="#222"/><circle cx="986.81" cy="203.09" r="0.8" fill="#222"/><circle cx="988.29" cy="220.01" r="0.8" fill="#222"/><line x1="987.6" y1="260.8" x2="987.6" y2="262.8" stroke="#333" stroke-width="0.7"/><text transform="translate(988.8,266.4) rotate(-45)" font-family="'Liberation Sans', sans-serif" font-size="6" fill="#333" text-anchor="end">Houhuo</text><path d="M1004.5,246.24 C1005,244.85 1006.75,240.69 1007.5,237.92 C1008.25,235.15 1008.67,232.72 1009,229.6 C1009.33,226.48 1009.75,222.67 1009.5,219.2 C1009.25,215.73 1008.33,212.27 1007.5,208.8 C1006.67,205.33 1005,200.13 1004.5,198.4 L1004.5,198.4 C1004,200.13 1002.33,205.33 1001.5,208.8 C1000.67,212.27 999.75,215.73 999.5,219.2 C999.25,222.67 999.67,226.48 1000,229.6 C1000.33,232.72 1000.75,235.15 1001.5,237.92 C1002.25,240.69 1004,244.85 1004.5,246.24Z" fill="#7080CC" stroke="#2F3C8E" stroke-width="0.7"/><line x1="999.5" y1="219.2" x2="1009.5" y2="219.2" stroke="#222" stroke-width="0.6"/><line x1="1000.56" y1="232.72" x2="1008.44" y2="232.72" stroke="#222" stroke-width="0.6" stroke-dasharray="1 1"/><line x1="1001.5" y1="208.8" x2="1007.5" y2="208.8" stroke="#222" stroke-width="0.6" stroke-dasharray="1 1"/><line x1="1004.5" y1="248.24" x2="1004.5" y2="196.4" stroke="#333" stroke-width="0.4" stroke-dasharray="1 1"/><circle cx="1003.66" cy="234.36" r="0.8" fill="#222"/><circle cx="1005.04" cy="221.77" r="0.8" fill="#222"/><circle cx="1004.95" cy="210.93" r="0.8" fill="#222"/><circle cx="1004.48" cy="207.39" r="0.8" fill="#222"/><circle cx="1003.51" cy="207.28" r="0.8" fill="#222"/><circle cx="1004.56" cy="231.65" r="0.8" fill="#222"/><circle cx="1005.05" cy="229.35" r="0.8" fill="#222"/><line x1="1004.5" y1="260.8" x2="1004.5" y2="262.8" stroke="#333" stroke-width="0.7"/><text transform="translate(1005.7,266.4) rotate(-45)" font-family="'Liberation Sans', sans-serif" font-size="6" fill="#333" text-anchor="end">Qingcha</text><line x1="970.7" y1="184.1" x2="987.6" y2="184.1" stroke="#444" stroke-width="0.6"/><text x="979.15" y="184.4" font-family="'Liberation Sans', sans-serif" font-size="7" fill="#222" text-anchor="middle" font-weight="bold">**</text><text x="1014.8" y="258.3" font-family="'Liberation Sans', sans-serif" font-size="3.2" fill="#555" text-anchor="end" >K-W test : = 0.006</text><path d="M329.07,189.82 A61.2,61.2 0 0 1 426.18,190.67 L386.88,220.28 A12,12 0 0 0 367.84,220.11Z" fill="#F05050" fill-opacity="0.28"/><path d="M345.4,185.17 A53,53 0 0 1 404.6,182.07 L388.63,208.64 A22,22 0 0 0 364.06,209.93Z" fill="#F03030" fill-opacity="0.35"/><path d="M424.03,188.29 A61,61 0 0 1 433.86,250.35 L388.43,232 A12,12 0 0 0 386.49,219.79Z" fill="#40A040" fill-opacity="0.3"/><path d="M425.64,197.29 A57,57 0 0 1 433.99,233.46 L401.17,230.01 A24,24 0 0 0 397.65,214.78Z" fill="#208020" fill-opacity="0.35"/><path d="M356.46,288.01 A64,64 0 0 1 313.78,219.7 L365.39,226.04 A12,12 0 0 0 373.39,238.85Z" fill="#4040F0" fill-opacity="0.3"/><path d="M351,281.43 A60,60 0 0 1 317.88,235.85 L353.53,230.84 A24,24 0 0 0 366.78,249.07Z" fill="#2020E0" fill-opacity="0.38"/><line x1="377.3" y1="182.5" x2="377.3" y2="176.5" stroke="#A8A030" stroke-width="0.5"/><circle cx="377.3" cy="182.5" r="0.75" fill="#A8A030"/><circle cx="377.3" cy="176.5" r="0.75" fill="#A8A030"/><line x1="379.73" y1="189.58" x2="380.56" y2="176.6" stroke="#A8A030" stroke-width="0.5"/><circle cx="379.73" cy="189.58" r="0.75" fill="#A8A030"/><circle cx="380.56" cy="176.6" r="0.75" fill="#A8A030"/><line x1="383.79" y1="182.97" x2="384.65" y2="177.03" stroke="#A8A030" stroke-width="0.5"/><circle cx="383.79" cy="182.97" r="0.75" fill="#A8A030"/><circle cx="384.65" cy="177.03" r="0.75" fill="#A8A030"/><line x1="387.17" y1="183.59" x2="388.48" y2="177.74" stroke="#A8A030" stroke-width="0.5"/><circle cx="387.17" cy="183.59" r="0.75" fill="#A8A030"/><circle cx="388.48" cy="177.74" r="0.75" fill="#A8A030"/><line x1="387.72" y1="190.96" x2="391.29" y2="178.46" stroke="#A8A030" stroke-width="0.5"/><circle cx="387.72" cy="190.96" r="0.75" fill="#A8A030"/><circle cx="391.29" cy="178.46" r="0.75" fill="#A8A030"/><line x1="388.16" y1="198.47" x2="395.17" y2="179.73" stroke="#A8A030" stroke-width="0.5"/><circle cx="388.16" cy="198.47" r="0.75" fill="#A8A030"/><circle cx="395.17" cy="179.73" r="0.75" fill="#A8A030"/><line x1="390.34" y1="199.38" x2="398.76" y2="181.23" stroke="#A8A030" stroke-width="0.5"/><circle cx="390.34" cy="199.38" r="0.75" fill="#A8A030"/><circle cx="398.76" cy="181.23" r="0.75" fill="#A8A030"/><line x1="395.31" y1="194.04" x2="401.47" y2="182.59" stroke="#A8A030" stroke-width="0.5"/><circle cx="395.31" cy="194.04" r="0.75" fill="#A8A030"/><circle cx="401.47" cy="182.59" r="0.75" fill="#A8A030"/><line x1="398.02" y1="195.65" x2="405.11" y2="184.75" stroke="#A8A030" stroke-width="0.5"/><circle cx="398.02" cy="195.65" r="0.75" fill="#A8A030"/><circle cx="405.11" cy="184.75" r="0.75" fill="#A8A030"/><line x1="404.52" y1="191.67" x2="408.15" y2="186.89" stroke="#A8A030" stroke-width="0.5"/><circle cx="404.52" cy="191.67" r="0.75" fill="#A8A030"/><circle cx="408.15" cy="186.89" r="0.75" fill="#A8A030"/><line x1="406.75" y1="193.47" x2="410.68" y2="188.94" stroke="#A8A030" stroke-width="0.5"/><circle cx="406.75" cy="193.47" r="0.75" fill="#A8A030"/><circle cx="410.68" cy="188.94" r="0.75" fill="#A8A030"/><line x1="403.92" y1="200.38" x2="413.03" y2="191.1" stroke="#A8A030" stroke-width="0.5"/><circle cx="403.92" cy="200.38" r="0.75" fill="#A8A030"/><circle cx="413.03" cy="191.1" r="0.75" fill="#A8A030"/><line x1="405.54" y1="202.07" x2="415.2" y2="193.37" stroke="#A8A030" stroke-width="0.5"/><circle cx="405.54" cy="202.07" r="0.75" fill="#A8A030"/><circle cx="415.2" cy="193.37" r="0.75" fill="#A8A030"/><line x1="401.55" y1="208.19" x2="417.2" y2="195.74" stroke="#A8A030" stroke-width="0.5"/><circle cx="401.55" cy="208.19" r="0.75" fill="#A8A030"/><circle cx="417.2" cy="195.74" r="0.75" fill="#A8A030"/><line x1="414.13" y1="201.64" x2="419.04" y2="198.2" stroke="#A8A030" stroke-width="0.5"/><circle cx="414.13" cy="201.64" r="0.75" fill="#A8A030"/><circle cx="419.04" cy="198.2" r="0.75" fill="#A8A030"/><line x1="403.85" y1="211.5" x2="420.98" y2="201.18" stroke="#A8A030" stroke-width="0.5"/><circle cx="403.85" cy="211.5" r="0.75" fill="#A8A030"/><circle cx="420.98" cy="201.18" r="0.75" fill="#A8A030"/><line x1="404.71" y1="213.01" x2="422.39" y2="203.66" stroke="#A8A030" stroke-width="0.5"/><circle cx="404.71" cy="213.01" r="0.75" fill="#A8A030"/><circle cx="422.39" cy="203.66" r="0.75" fill="#A8A030"/><line x1="405.56" y1="214.75" x2="423.79" y2="206.52" stroke="#A8A030" stroke-width="0.5"/><circle cx="405.56" cy="214.75" r="0.75" fill="#A8A030"/><circle cx="423.79" cy="206.52" r="0.75" fill="#A8A030"/><line x1="406.55" y1="217.22" x2="425.42" y2="210.59" stroke="#A8A030" stroke-width="0.5"/><circle cx="406.55" cy="217.22" r="0.75" fill="#A8A030"/><circle cx="425.42" cy="210.59" r="0.75" fill="#A8A030"/><line x1="414.07" y1="217.93" x2="426.66" y2="214.65" stroke="#A8A030" stroke-width="0.5"/><circle cx="414.07" cy="217.93" r="0.75" fill="#A8A030"/><circle cx="426.66" cy="214.65" r="0.75" fill="#A8A030"/><line x1="407.75" y1="221.68" x2="427.39" y2="217.92" stroke="#A8A030" stroke-width="0.5"/><circle cx="407.75" cy="221.68" r="0.75" fill="#A8A030"/><circle cx="427.39" cy="217.92" r="0.75" fill="#A8A030"/><line x1="422" y1="222.29" x2="427.96" y2="221.59" stroke="#A8A030" stroke-width="0.5"/><circle cx="422" cy="222.29" r="0.75" fill="#A8A030"/><circle cx="427.96" cy="221.59" r="0.75" fill="#A8A030"/><line x1="408.27" y1="226.24" x2="428.26" y2="225.43" stroke="#A8A030" stroke-width="0.5"/><circle cx="408.27" cy="226.24" r="0.75" fill="#A8A030"/><circle cx="428.26" cy="225.43" r="0.75" fill="#A8A030"/><line x1="422.25" y1="229.51" x2="428.25" y2="229.78" stroke="#A8A030" stroke-width="0.5"/><circle cx="422.25" cy="229.51" r="0.75" fill="#A8A030"/><circle cx="428.25" cy="229.78" r="0.75" fill="#A8A030"/><line x1="415.08" y1="231.55" x2="428.01" y2="232.94" stroke="#A8A030" stroke-width="0.5"/><circle cx="415.08" cy="231.55" r="0.75" fill="#A8A030"/><circle cx="428.01" cy="232.94" r="0.75" fill="#A8A030"/><line x1="414.74" y1="234.01" x2="427.55" y2="236.23" stroke="#A8A030" stroke-width="0.5"/><circle cx="414.74" cy="234.01" r="0.75" fill="#A8A030"/><circle cx="427.55" cy="236.23" r="0.75" fill="#A8A030"/><line x1="407.4" y1="234.9" x2="426.83" y2="239.67" stroke="#A8A030" stroke-width="0.5"/><circle cx="407.4" cy="234.9" r="0.75" fill="#A8A030"/><circle cx="426.83" cy="239.67" r="0.75" fill="#A8A030"/><line x1="413.55" y1="238.91" x2="425.94" y2="242.82" stroke="#A8A030" stroke-width="0.5"/><circle cx="413.55" cy="238.91" r="0.75" fill="#A8A030"/><circle cx="425.94" cy="242.82" r="0.75" fill="#A8A030"/><line x1="419.25" y1="243.79" x2="424.84" y2="245.96" stroke="#A8A030" stroke-width="0.5"/><circle cx="419.25" cy="243.79" r="0.75" fill="#A8A030"/><circle cx="424.84" cy="245.96" r="0.75" fill="#A8A030"/><line x1="417.92" y1="246.86" x2="423.34" y2="249.44" stroke="#A8A030" stroke-width="0.5"/><circle cx="417.92" cy="246.86" r="0.75" fill="#A8A030"/><circle cx="423.34" cy="249.44" r="0.75" fill="#A8A030"/><line x1="410.24" y1="246.44" x2="421.51" y2="252.92" stroke="#A8A030" stroke-width="0.5"/><circle cx="410.24" cy="246.44" r="0.75" fill="#A8A030"/><circle cx="421.51" cy="252.92" r="0.75" fill="#A8A030"/><line x1="409.09" y1="248.32" x2="419.97" y2="255.44" stroke="#A8A030" stroke-width="0.5"/><circle cx="409.09" cy="248.32" r="0.75" fill="#A8A030"/><circle cx="419.97" cy="255.44" r="0.75" fill="#A8A030"/><line x1="407.29" y1="250.84" x2="417.55" y2="258.82" stroke="#A8A030" stroke-width="0.5"/><circle cx="407.29" cy="250.84" r="0.75" fill="#A8A030"/><circle cx="417.55" cy="258.82" r="0.75" fill="#A8A030"/><line x1="400.21" y1="248.38" x2="415" y2="261.85" stroke="#A8A030" stroke-width="0.5"/><circle cx="400.21" cy="248.38" r="0.75" fill="#A8A030"/><circle cx="415" cy="261.85" r="0.75" fill="#A8A030"/><line x1="408.33" y1="260.09" x2="412.46" y2="264.44" stroke="#A8A030" stroke-width="0.5"/><circle cx="408.33" cy="260.09" r="0.75" fill="#A8A030"/><circle cx="412.46" cy="264.44" r="0.75" fill="#A8A030"/><line x1="401.76" y1="256.58" x2="410.13" y2="266.53" stroke="#A8A030" stroke-width="0.5"/><circle cx="401.76" cy="256.58" r="0.75" fill="#A8A030"/><circle cx="410.13" cy="266.53" r="0.75" fill="#A8A030"/><line x1="395.13" y1="252.86" x2="406.64" y2="269.22" stroke="#A8A030" stroke-width="0.5"/><circle cx="395.13" cy="252.86" r="0.75" fill="#A8A030"/><circle cx="406.64" cy="269.22" r="0.75" fill="#A8A030"/><line x1="396.42" y1="260.34" x2="402.96" y2="271.57" stroke="#A8A030" stroke-width="0.5"/><circle cx="396.42" cy="260.34" r="0.75" fill="#A8A030"/><circle cx="402.96" cy="271.57" r="0.75" fill="#A8A030"/><line x1="390.64" y1="255.48" x2="399.25" y2="273.54" stroke="#A8A030" stroke-width="0.5"/><circle cx="390.64" cy="255.48" r="0.75" fill="#A8A030"/><circle cx="399.25" cy="273.54" r="0.75" fill="#A8A030"/><line x1="391.1" y1="262.9" x2="395.83" y2="275.02" stroke="#A8A030" stroke-width="0.5"/><circle cx="391.1" cy="262.9" r="0.75" fill="#A8A030"/><circle cx="395.83" cy="275.02" r="0.75" fill="#A8A030"/><line x1="390.79" y1="270.43" x2="392.59" y2="276.16" stroke="#A8A030" stroke-width="0.5"/><circle cx="390.79" cy="270.43" r="0.75" fill="#A8A030"/><circle cx="392.59" cy="276.16" r="0.75" fill="#A8A030"/><line x1="385.67" y1="264.57" x2="388.54" y2="277.25" stroke="#A8A030" stroke-width="0.5"/><circle cx="385.67" cy="264.57" r="0.75" fill="#A8A030"/><circle cx="388.54" cy="277.25" r="0.75" fill="#A8A030"/><line x1="382.39" y1="258.08" x2="385.67" y2="277.81" stroke="#A8A030" stroke-width="0.5"/><circle cx="382.39" cy="258.08" r="0.75" fill="#A8A030"/><circle cx="385.67" cy="277.81" r="0.75" fill="#A8A030"/><line x1="380.07" y1="258.38" x2="381.85" y2="278.3" stroke="#A8A030" stroke-width="0.5"/><circle cx="380.07" cy="258.38" r="0.75" fill="#A8A030"/><circle cx="381.85" cy="278.3" r="0.75" fill="#A8A030"/><line x1="378.22" y1="258.49" x2="378.82" y2="278.48" stroke="#A8A030" stroke-width="0.5"/><circle cx="378.22" cy="258.49" r="0.75" fill="#A8A030"/><circle cx="378.82" cy="278.48" r="0.75" fill="#A8A030"/><line x1="375.2" y1="265.44" x2="374.48" y2="278.42" stroke="#A8A030" stroke-width="0.5"/><circle cx="375.2" cy="265.44" r="0.75" fill="#A8A030"/><circle cx="374.48" cy="278.42" r="0.75" fill="#A8A030"/><line x1="372.68" y1="265.22" x2="371.1" y2="278.12" stroke="#A8A030" stroke-width="0.5"/><circle cx="372.68" cy="265.22" r="0.75" fill="#A8A030"/><circle cx="371.1" cy="278.12" r="0.75" fill="#A8A030"/><line x1="369.53" y1="264.7" x2="366.88" y2="277.42" stroke="#A8A030" stroke-width="0.5"/><circle cx="369.53" cy="264.7" r="0.75" fill="#A8A030"/><circle cx="366.88" cy="277.42" r="0.75" fill="#A8A030"/><line x1="368.55" y1="257.24" x2="362.91" y2="276.43" stroke="#A8A030" stroke-width="0.5"/><circle cx="368.55" cy="257.24" r="0.75" fill="#A8A030"/><circle cx="362.91" cy="276.43" r="0.75" fill="#A8A030"/><line x1="363.9" y1="263.06" x2="359.31" y2="275.22" stroke="#A8A030" stroke-width="0.5"/><circle cx="363.9" cy="263.06" r="0.75" fill="#A8A030"/><circle cx="359.31" cy="275.22" r="0.75" fill="#A8A030"/><line x1="364" y1="255.5" x2="355.42" y2="273.57" stroke="#A8A030" stroke-width="0.5"/><circle cx="364" cy="255.5" r="0.75" fill="#A8A030"/><circle cx="355.42" cy="273.57" r="0.75" fill="#A8A030"/><line x1="362.09" y1="254.51" x2="352.28" y2="271.94" stroke="#A8A030" stroke-width="0.5"/><circle cx="362.09" cy="254.51" r="0.75" fill="#A8A030"/><circle cx="352.28" cy="271.94" r="0.75" fill="#A8A030"/><line x1="352.82" y1="265.26" x2="349.56" y2="270.29" stroke="#A8A030" stroke-width="0.5"/><circle cx="352.82" cy="265.26" r="0.75" fill="#A8A030"/><circle cx="349.56" cy="270.29" r="0.75" fill="#A8A030"/><line x1="358.53" y1="252.17" x2="346.43" y2="268.09" stroke="#A8A030" stroke-width="0.5"/><circle cx="358.53" cy="252.17" r="0.75" fill="#A8A030"/><circle cx="346.43" cy="268.09" r="0.75" fill="#A8A030"/><line x1="347.74" y1="261.43" x2="343.8" y2="265.95" stroke="#A8A030" stroke-width="0.5"/><circle cx="347.74" cy="261.43" r="0.75" fill="#A8A030"/><circle cx="343.8" cy="265.95" r="0.75" fill="#A8A030"/><line x1="350.31" y1="254.25" x2="341.08" y2="263.41" stroke="#A8A030" stroke-width="0.5"/><circle cx="350.31" cy="254.25" r="0.75" fill="#A8A030"/><circle cx="341.08" cy="263.41" r="0.75" fill="#A8A030"/><line x1="348.33" y1="252.09" x2="338.41" y2="260.5" stroke="#A8A030" stroke-width="0.5"/><circle cx="348.33" cy="252.09" r="0.75" fill="#A8A030"/><circle cx="338.41" cy="260.5" r="0.75" fill="#A8A030"/><line x1="352.48" y1="246.07" x2="336.46" y2="258.05" stroke="#A8A030" stroke-width="0.5"/><circle cx="352.48" cy="246.07" r="0.75" fill="#A8A030"/><circle cx="336.46" cy="258.05" r="0.75" fill="#A8A030"/><line x1="339.34" y1="251.66" x2="334.27" y2="254.88" stroke="#A8A030" stroke-width="0.5"/><circle cx="339.34" cy="251.66" r="0.75" fill="#A8A030"/><circle cx="334.27" cy="254.88" r="0.75" fill="#A8A030"/><line x1="343.76" y1="245.36" x2="332.28" y2="251.47" stroke="#A8A030" stroke-width="0.5"/><circle cx="343.76" cy="245.36" r="0.75" fill="#A8A030"/><circle cx="332.28" cy="251.47" r="0.75" fill="#A8A030"/><line x1="349.1" y1="240.38" x2="330.91" y2="248.68" stroke="#A8A030" stroke-width="0.5"/><circle cx="349.1" cy="240.38" r="0.75" fill="#A8A030"/><circle cx="330.91" cy="248.68" r="0.75" fill="#A8A030"/><line x1="335.34" y1="243.77" x2="329.75" y2="245.94" stroke="#A8A030" stroke-width="0.5"/><circle cx="335.34" cy="243.77" r="0.75" fill="#A8A030"/><circle cx="329.75" cy="245.94" r="0.75" fill="#A8A030"/><line x1="340.97" y1="238.63" x2="328.54" y2="242.44" stroke="#A8A030" stroke-width="0.5"/><circle cx="340.97" cy="238.63" r="0.75" fill="#A8A030"/><circle cx="328.54" cy="242.44" r="0.75" fill="#A8A030"/><line x1="333.59" y1="238.22" x2="327.77" y2="239.64" stroke="#A8A030" stroke-width="0.5"/><circle cx="333.59" cy="238.22" r="0.75" fill="#A8A030"/><circle cx="327.77" cy="239.64" r="0.75" fill="#A8A030"/><line x1="339.82" y1="233.78" x2="327" y2="235.92" stroke="#A8A030" stroke-width="0.5"/><circle cx="339.82" cy="233.78" r="0.75" fill="#A8A030"/><circle cx="327" cy="235.92" r="0.75" fill="#A8A030"/><line x1="339.47" y1="231.13" x2="326.53" y2="232.38" stroke="#A8A030" stroke-width="0.5"/><circle cx="339.47" cy="231.13" r="0.75" fill="#A8A030"/><circle cx="326.53" cy="232.38" r="0.75" fill="#A8A030"/><line x1="332.33" y1="229.09" x2="326.33" y2="229.3" stroke="#A8A030" stroke-width="0.5"/><circle cx="332.33" cy="229.09" r="0.75" fill="#A8A030"/><circle cx="326.33" cy="229.3" r="0.75" fill="#A8A030"/><line x1="339.31" y1="226.68" x2="326.31" y2="226.4" stroke="#A8A030" stroke-width="0.5"/><circle cx="339.31" cy="226.68" r="0.75" fill="#A8A030"/><circle cx="326.31" cy="226.4" r="0.75" fill="#A8A030"/><line x1="346.42" y1="224.78" x2="326.5" y2="223.02" stroke="#A8A030" stroke-width="0.5"/><circle cx="346.42" cy="224.78" r="0.75" fill="#A8A030"/><circle cx="326.5" cy="223.02" r="0.75" fill="#A8A030"/><line x1="332.79" y1="220.87" x2="326.86" y2="219.99" stroke="#A8A030" stroke-width="0.5"/><circle cx="332.79" cy="220.87" r="0.75" fill="#A8A030"/><circle cx="326.86" cy="219.99" r="0.75" fill="#A8A030"/><line x1="347.06" y1="220.69" x2="327.54" y2="216.3" stroke="#A8A030" stroke-width="0.5"/><circle cx="347.06" cy="220.69" r="0.75" fill="#A8A030"/><circle cx="327.54" cy="216.3" r="0.75" fill="#A8A030"/><line x1="340.96" y1="216.38" x2="328.53" y2="212.57" stroke="#A8A030" stroke-width="0.5"/><circle cx="340.96" cy="216.38" r="0.75" fill="#A8A030"/><circle cx="328.53" cy="212.57" r="0.75" fill="#A8A030"/><line x1="341.69" y1="214.25" x2="329.5" y2="209.71" stroke="#A8A030" stroke-width="0.5"/><circle cx="341.69" cy="214.25" r="0.75" fill="#A8A030"/><circle cx="329.5" cy="209.71" r="0.75" fill="#A8A030"/><line x1="349.04" y1="214.75" x2="330.81" y2="206.53" stroke="#A8A030" stroke-width="0.5"/><circle cx="349.04" cy="214.75" r="0.75" fill="#A8A030"/><circle cx="330.81" cy="206.53" r="0.75" fill="#A8A030"/><line x1="344.07" y1="209.07" x2="332.7" y2="202.77" stroke="#A8A030" stroke-width="0.5"/><circle cx="344.07" cy="209.07" r="0.75" fill="#A8A030"/><circle cx="332.7" cy="202.77" r="0.75" fill="#A8A030"/><line x1="339.33" y1="203.35" x2="334.27" y2="200.13" stroke="#A8A030" stroke-width="0.5"/><circle cx="339.33" cy="203.35" r="0.75" fill="#A8A030"/><circle cx="334.27" cy="200.13" r="0.75" fill="#A8A030"/><line x1="341.45" y1="200.3" x2="336.67" y2="196.67" stroke="#A8A030" stroke-width="0.5"/><circle cx="341.45" cy="200.3" r="0.75" fill="#A8A030"/><circle cx="336.67" cy="196.67" r="0.75" fill="#A8A030"/><line x1="348.71" y1="202.47" x2="338.93" y2="193.9" stroke="#A8A030" stroke-width="0.5"/><circle cx="348.71" cy="202.47" r="0.75" fill="#A8A030"/><circle cx="338.93" cy="193.9" r="0.75" fill="#A8A030"/><line x1="350.74" y1="200.33" x2="341.65" y2="191.03" stroke="#A8A030" stroke-width="0.5"/><circle cx="350.74" cy="200.33" r="0.75" fill="#A8A030"/><circle cx="341.65" cy="191.03" r="0.75" fill="#A8A030"/><line x1="352.73" y1="198.51" x2="344.32" y2="188.6" stroke="#A8A030" stroke-width="0.5"/><circle cx="352.73" cy="198.51" r="0.75" fill="#A8A030"/><circle cx="344.32" cy="188.6" r="0.75" fill="#A8A030"/><line x1="358.97" y1="202.5" x2="347.15" y2="186.37" stroke="#A8A030" stroke-width="0.5"/><circle cx="358.97" cy="202.5" r="0.75" fill="#A8A030"/><circle cx="347.15" cy="186.37" r="0.75" fill="#A8A030"/><line x1="352.9" y1="189.69" x2="349.64" y2="184.65" stroke="#A8A030" stroke-width="0.5"/><circle cx="352.9" cy="189.69" r="0.75" fill="#A8A030"/><circle cx="349.64" cy="184.65" r="0.75" fill="#A8A030"/><line x1="356.23" y1="187.74" x2="353.43" y2="182.43" stroke="#A8A030" stroke-width="0.5"/><circle cx="356.23" cy="187.74" r="0.75" fill="#A8A030"/><circle cx="353.43" cy="182.43" r="0.75" fill="#A8A030"/><line x1="362.44" y1="192.53" x2="357.35" y2="180.56" stroke="#A8A030" stroke-width="0.5"/><circle cx="362.44" cy="192.53" r="0.75" fill="#A8A030"/><circle cx="357.35" cy="180.56" r="0.75" fill="#A8A030"/><line x1="364.61" y1="191.68" x2="360.27" y2="179.43" stroke="#A8A030" stroke-width="0.5"/><circle cx="364.61" cy="191.68" r="0.75" fill="#A8A030"/><circle cx="360.27" cy="179.43" r="0.75" fill="#A8A030"/><line x1="365.04" y1="184.2" x2="363.4" y2="178.43" stroke="#A8A030" stroke-width="0.5"/><circle cx="365.04" cy="184.2" r="0.75" fill="#A8A030"/><circle cx="363.4" cy="178.43" r="0.75" fill="#A8A030"/><line x1="370.02" y1="190.2" x2="367.53" y2="177.45" stroke="#A8A030" stroke-width="0.5"/><circle cx="370.02" cy="190.2" r="0.75" fill="#A8A030"/><circle cx="367.53" cy="177.45" r="0.75" fill="#A8A030"/><line x1="372.18" y1="189.85" x2="370.43" y2="176.96" stroke="#A8A030" stroke-width="0.5"/><circle cx="372.18" cy="189.85" r="0.75" fill="#A8A030"/><circle cx="370.43" cy="176.96" r="0.75" fill="#A8A030"/><line x1="374.72" y1="182.57" x2="374.38" y2="176.58" stroke="#A8A030" stroke-width="0.5"/><circle cx="374.72" cy="182.57" r="0.75" fill="#A8A030"/><circle cx="374.38" cy="176.58" r="0.75" fill="#A8A030"/><line x1="377.28" y1="189.5" x2="377.28" y2="176.5" stroke="#A8A030" stroke-width="0.5"/><circle cx="377.28" cy="189.5" r="0.75" fill="#A8A030"/><circle cx="377.28" cy="176.5" r="0.75" fill="#A8A030"/><path d="M377.3,216 A11.5,11.5 0 1 1 377.28,216" fill="none" stroke="#3a3a2a" stroke-width="0.55"/><path d="M359.57,224.37 A18,18 0 0 1 388.87,213.71" fill="none" stroke="#3a3a2a" stroke-width="0.55"/><path d="M392.89,218.5 A18,18 0 0 1 383.46,244.41" fill="none" stroke="#3a3a2a" stroke-width="0.55"/><path d="M374.17,245.23 A18,18 0 0 1 359.57,224.37" fill="none" stroke="#3a3a2a" stroke-width="0.55"/><path d="M355.65,215 A25,25 0 0 1 389.8,205.85" fill="none" stroke="#3a3a2a" stroke-width="0.55"/><path d="M393.37,208.35 A25,25 0 0 1 400.79,236.05" fill="none" stroke="#3a3a2a" stroke-width="0.55"/><path d="M389.8,249.15 A25,25 0 0 1 352.68,231.84" fill="none" stroke="#3a3a2a" stroke-width="0.55"/><path d="M356.73,202.99 A32,32 0 0 1 388.24,197.43" fill="none" stroke="#3a3a2a" stroke-width="0.55"/><path d="M405.01,211.5 A32,32 0 0 1 408.81,233.06" fill="none" stroke="#3a3a2a" stroke-width="0.55"/><path d="M405.01,243.5 A32,32 0 0 1 377.3,259.5" fill="none" stroke="#3a3a2a" stroke-width="0.55"/><path d="M366.36,257.57 A32,32 0 0 1 345.79,233.06" fill="none" stroke="#3a3a2a" stroke-width="0.55"/><path d="M358.3,194.59 A38,38 0 0 1 387.14,190.79" fill="none" stroke="#3a3a2a" stroke-width="0.55"/><path d="M406.41,251.93 A38,38 0 0 1 383.9,264.92" fill="none" stroke="#3a3a2a" stroke-width="0.55"/><path d="M355.5,258.63 A38,38 0 0 1 341.59,240.5" fill="none" stroke="#3a3a2a" stroke-width="0.55"/><path d="M358.28,186.72 A45,45 0 0 1 396.32,186.72" fill="none" stroke="#3a3a2a" stroke-width="0.55"/><path d="M419.59,212.11 A45,45 0 0 1 422.13,231.42" fill="none" stroke="#3a3a2a" stroke-width="0.55"/><path d="M348.37,261.97 A45,45 0 0 1 336.52,246.52" fill="none" stroke="#3a3a2a" stroke-width="0.55"/><line x1="377.3" y1="216" x2="377.3" y2="202.5" stroke="#3a3a2a" stroke-width="0.5"/><line x1="387.26" y1="221.75" x2="405.01" y2="211.5" stroke="#3a3a2a" stroke-width="0.5"/><line x1="366.49" y1="231.43" x2="353.81" y2="236.05" stroke="#3a3a2a" stroke-width="0.5"/><line x1="384.69" y1="236.31" x2="397.87" y2="252.01" stroke="#3a3a2a" stroke-width="0.5"/><line x1="371.14" y1="210.59" x2="364.3" y2="191.79" stroke="#3a3a2a" stroke-width="0.5"/><line x1="385.85" y1="204.01" x2="392.69" y2="185.21" stroke="#3a3a2a" stroke-width="0.5"/><line x1="401.92" y1="223.16" x2="421.62" y2="219.69" stroke="#3a3a2a" stroke-width="0.5"/><line x1="359.62" y1="245.18" x2="345.48" y2="259.32" stroke="#3a3a2a" stroke-width="0.5"/><line x1="361.71" y1="236.5" x2="344.39" y2="246.5" stroke="#3a3a2a" stroke-width="0.5"/><line x1="383.46" y1="244.41" x2="390.3" y2="263.21" stroke="#3a3a2a" stroke-width="0.5"/><circle cx="377.3" cy="216" r="1.3" fill="#C02020"/><circle cx="377.3" cy="209.5" r="1.3" fill="#C02020"/><circle cx="368.75" cy="204.01" r="1.3" fill="#C02020"/><circle cx="377.3" cy="202.5" r="1.3" fill="#C02020"/><circle cx="382.86" cy="195.99" r="1.3" fill="#C02020"/><circle cx="370.7" cy="190.08" r="1.3" fill="#C02020"/><circle cx="388.95" cy="184.03" r="1.3" fill="#C02020"/><circle cx="358.28" cy="186.72" r="1.3" fill="#C02020"/><circle cx="380.61" cy="189.64" r="1.3" fill="#C02020"/><circle cx="397.3" cy="192.86" r="1.3" fill="#C02020"/><circle cx="388.63" cy="225.5" r="1.3" fill="#1A7A1A"/><circle cx="400.79" cy="218.95" r="1.3" fill="#1A7A1A"/><circle cx="408.81" cy="221.94" r="1.3" fill="#1A7A1A"/><circle cx="415.3" cy="227.5" r="1.3" fill="#1A7A1A"/><circle cx="420.77" cy="215.85" r="1.3" fill="#1A7A1A"/><circle cx="422.13" cy="223.58" r="1.3" fill="#1A7A1A"/><circle cx="422.13" cy="231.42" r="1.3" fill="#1A7A1A"/><circle cx="411.74" cy="211.44" r="1.3" fill="#1A7A1A"/><circle cx="418.66" cy="234.79" r="1.3" fill="#1A7A1A"/><circle cx="360.39" cy="233.66" r="1.3" fill="#1A1AD0"/><circle cx="356.82" cy="241.84" r="1.3" fill="#1A1AD0"/><circle cx="354.67" cy="250.13" r="1.3" fill="#1A1AD0"/><circle cx="344.39" cy="246.5" r="1.3" fill="#1A1AD0"/><circle cx="351.49" cy="264.36" r="1.3" fill="#1A1AD0"/><circle cx="342.83" cy="256.43" r="1.3" fill="#1A1AD0"/><circle cx="345.79" cy="233.06" r="1.3" fill="#1A1AD0"/><circle cx="393.72" cy="182.39" r="1.3" fill="#1A1AD0"/><circle cx="419.9" cy="247.36" r="1.3" fill="#1A1AD0"/><circle cx="369.3" cy="228.5" r="1.4" fill="#8A2020"/><circle cx="380.3" cy="234.5" r="1.4" fill="#3a6a1a"/><text x="374.5" y="161.5" font-family="'Liberation Sans', sans-serif" font-size="5.4" fill="#333" text-anchor="middle" >Cladogram</text><text x="377" y="167.5" font-family="'Liberation Sans', sans-serif" font-size="2.4" fill="#C03030" text-anchor="middle" >p_Actinobacteria</text><rect x="442.8" y="171" width="7" height="2" fill="#C01020"/><text x="452.5" y="173" font-family="'Liberation Sans', sans-serif" font-size="2.8" fill="#666" text-anchor="start" >Hongxin</text><rect x="442.8" y="175.75" width="7" height="2" fill="#107010"/><text x="452.5" y="177.75" font-family="'Liberation Sans', sans-serif" font-size="2.8" fill="#666" text-anchor="start" >Houhuo</text><rect x="442.8" y="180.5" width="7" height="2" fill="#0A0AA0"/><text x="452.5" y="182.5" font-family="'Liberation Sans', sans-serif" font-size="2.8" fill="#666" text-anchor="start" >Qingcha</text><rect x="442.8" y="192.6" width="7" height="1.9" fill="#1010C0"/><text x="451.5" y="194.4" font-family="'Liberation Sans', sans-serif" font-size="2.6" fill="#777" text-anchor="start" >a: c_Cyanobacteriia</text><rect x="442.8" y="196.44" width="7" height="1.9" fill="#1010C0"/><text x="451.5" y="198.24" font-family="'Liberation Sans', sans-serif" font-size="2.6" fill="#777" text-anchor="start" >b: f_Pseudomonadaceae</text><rect x="442.8" y="200.28" width="7" height="1.9" fill="#1010C0"/><text x="451.5" y="202.08" font-family="'Liberation Sans', sans-serif" font-size="2.6" fill="#777" text-anchor="start" >c: o_Pseudomonadales</text><rect x="442.8" y="204.12" width="7" height="1.9" fill="#1010C0"/><text x="451.5" y="205.92" font-family="'Liberation Sans', sans-serif" font-size="2.6" fill="#777" text-anchor="start" >d: f_Streptomycetaceae</text><rect x="442.8" y="207.96" width="7" height="1.9" fill="#1010C0"/><text x="451.5" y="209.76" font-family="'Liberation Sans', sans-serif" font-size="2.6" fill="#777" text-anchor="start" >e: o_Streptomycetales</text><rect x="442.8" y="211.8" width="7" height="1.9" fill="#1010C0"/><text x="451.5" y="213.6" font-family="'Liberation Sans', sans-serif" font-size="2.6" fill="#777" text-anchor="start" >f: o_Acetobacterales</text><rect x="442.8" y="215.64" width="7" height="1.9" fill="#C02020"/><text x="451.5" y="217.44" font-family="'Liberation Sans', sans-serif" font-size="2.6" fill="#777" text-anchor="start" >g: f_Yersiniaceae</text><rect x="442.8" y="219.48" width="7" height="1.9" fill="#1010C0"/><text x="451.5" y="221.28" font-family="'Liberation Sans', sans-serif" font-size="2.6" fill="#777" text-anchor="start" >h: f_Moraxellaceae</text><rect x="442.8" y="223.32" width="7" height="1.9" fill="#106010"/><text x="451.5" y="225.12" font-family="'Liberation Sans', sans-serif" font-size="2.6" fill="#777" text-anchor="start" >i: f_Enterobacteriaceae</text><rect x="442.8" y="227.16" width="7" height="1.9" fill="#106010"/><text x="451.5" y="228.96" font-family="'Liberation Sans', sans-serif" font-size="2.6" fill="#777" text-anchor="start" >j: f_Erwiniaceae</text><rect x="442.8" y="231" width="7" height="1.9" fill="#106010"/><text x="451.5" y="232.8" font-family="'Liberation Sans', sans-serif" font-size="2.6" fill="#777" text-anchor="start" >k: o_Enterobacterales</text><rect x="442.8" y="234.84" width="7" height="1.9" fill="#C02020"/><text x="451.5" y="236.64" font-family="'Liberation Sans', sans-serif" font-size="2.6" fill="#777" text-anchor="start" >l: o_Oceanospirillales</text><rect x="442.8" y="238.68" width="7" height="1.9" fill="#C02020"/><text x="451.5" y="240.48" font-family="'Liberation Sans', sans-serif" font-size="2.6" fill="#777" text-anchor="start" >m: f_Halomonadaceae</text><rect x="442.8" y="242.52" width="7" height="1.9" fill="#C02020"/><text x="451.5" y="244.32" font-family="'Liberation Sans', sans-serif" font-size="2.6" fill="#777" text-anchor="start" >n: o_Bacillales</text><rect x="442.8" y="246.36" width="7" height="1.9" fill="#106010"/><text x="451.5" y="248.16" font-family="'Liberation Sans', sans-serif" font-size="2.6" fill="#777" text-anchor="start" >o: o_Saccharopolysporales</text><rect x="442.8" y="250.2" width="7" height="1.9" fill="#C02020"/><text x="451.5" y="252" font-family="'Liberation Sans', sans-serif" font-size="2.6" fill="#777" text-anchor="start" >p: f_Debaryomycetaceae</text><rect x="442.8" y="254.04" width="7" height="1.9" fill="#1010C0"/><text x="451.5" y="255.84" font-family="'Liberation Sans', sans-serif" font-size="2.6" fill="#777" text-anchor="start" >q: f_Pichiaceae</text><rect x="442.8" y="257.88" width="7" height="1.9" fill="#C02020"/><text x="451.5" y="259.68" font-family="'Liberation Sans', sans-serif" font-size="2.6" fill="#777" text-anchor="start" >r: f_Saccharomycetaceae</text><rect x="442.8" y="261.72" width="7" height="1.9" fill="#C02020"/><text x="451.5" y="263.52" font-family="'Liberation Sans', sans-serif" font-size="2.6" fill="#777" text-anchor="start" >s: o_Saccharomycetales</text><rect x="442.8" y="265.56" width="7" height="1.9" fill="#C02020"/><text x="451.5" y="267.36" font-family="'Liberation Sans', sans-serif" font-size="2.6" fill="#777" text-anchor="start" >t: c_Saccharomycetes</text><line x1="535.7" y1="150" x2="535.7" y2="291.5" stroke="#e6e6e6" stroke-width="0.5"/><text x="535.7" y="296" font-family="'Liberation Sans', sans-serif" font-size="2.8" fill="#777" text-anchor="middle" >0</text><line x1="555.3" y1="150" x2="555.3" y2="291.5" stroke="#e6e6e6" stroke-width="0.5"/><text x="555.3" y="296" font-family="'Liberation Sans', sans-serif" font-size="2.8" fill="#777" text-anchor="middle" >1</text><line x1="574.9" y1="150" x2="574.9" y2="291.5" stroke="#e6e6e6" stroke-width="0.5"/><text x="574.9" y="296" font-family="'Liberation Sans', sans-serif" font-size="2.8" fill="#777" text-anchor="middle" >2</text><line x1="594.5" y1="150" x2="594.5" y2="291.5" stroke="#e6e6e6" stroke-width="0.5"/><text x="594.5" y="296" font-family="'Liberation Sans', sans-serif" font-size="2.8" fill="#777" text-anchor="middle" >3</text><line x1="614.1" y1="150" x2="614.1" y2="291.5" stroke="#e6e6e6" stroke-width="0.5"/><text x="614.1" y="296" font-family="'Liberation Sans', sans-serif" font-size="2.8" fill="#777" text-anchor="middle" >4</text><line x1="633.7" y1="150" x2="633.7" y2="291.5" stroke="#e6e6e6" stroke-width="0.5"/><text x="633.7" y="296" font-family="'Liberation Sans', sans-serif" font-size="2.8" fill="#777" text-anchor="middle" >5</text><text x="573" y="299.5" font-family="'Liberation Sans', sans-serif" font-size="2.8" fill="#4a6a9a" text-anchor="middle" >LDA SCORE (log 10)</text><rect x="535.7" y="151.3" width="82.9" height="2.91" fill="#0a0a8a"/><rect x="535.7" y="151.6" width="82.6" height="2.31" fill="#1414E6"/><rect x="527.06" y="152.3" width="7.14" height="0.9" fill="#d0d0d0"/><rect x="535.7" y="154.21" width="82.9" height="2.91" fill="#0a0a8a"/><rect x="535.7" y="154.51" width="82.6" height="2.31" fill="#1414E6"/><rect x="520.28" y="155.21" width="13.92" height="0.9" fill="#d0d0d0"/><rect x="535.7" y="157.12" width="80" height="2.91" fill="#0a0a8a"/><rect x="535.7" y="157.42" width="79.7" height="2.31" fill="#1414E6"/><rect x="527.91" y="158.12" width="6.29" height="0.9" fill="#d0d0d0"/><rect x="535.7" y="160.03" width="80" height="2.91" fill="#0a0a8a"/><rect x="535.7" y="160.33" width="79.7" height="2.31" fill="#1414E6"/><rect x="517.9" y="161.03" width="16.3" height="0.9" fill="#d0d0d0"/><rect x="535.7" y="162.94" width="80" height="2.91" fill="#0a0a8a"/><rect x="535.7" y="163.24" width="79.7" height="2.31" fill="#1414E6"/><rect x="525.1" y="163.94" width="9.1" height="0.9" fill="#d0d0d0"/><rect x="535.7" y="165.85" width="78.5" height="2.91" fill="#0a0a8a"/><rect x="535.7" y="166.15" width="78.2" height="2.31" fill="#1414E6"/><rect x="520.53" y="166.85" width="13.67" height="0.9" fill="#d0d0d0"/><rect x="535.7" y="168.76" width="70.2" height="2.91" fill="#0a0a8a"/><rect x="535.7" y="169.06" width="69.9" height="2.31" fill="#1414E6"/><rect x="528.99" y="169.76" width="5.21" height="0.9" fill="#d0d0d0"/><rect x="535.7" y="171.67" width="69.8" height="2.91" fill="#0a0a8a"/><rect x="535.7" y="171.97" width="69.5" height="2.31" fill="#1414E6"/><rect x="527.18" y="172.67" width="7.02" height="0.9" fill="#d0d0d0"/><rect x="535.7" y="174.58" width="68.4" height="2.91" fill="#0a0a8a"/><rect x="535.7" y="174.88" width="68.1" height="2.31" fill="#1414E6"/><rect x="530.03" y="175.58" width="4.17" height="0.9" fill="#d0d0d0"/><rect x="535.7" y="177.49" width="67.5" height="2.91" fill="#0a0a8a"/><rect x="535.7" y="177.79" width="67.2" height="2.31" fill="#1414E6"/><rect x="520.59" y="178.49" width="13.61" height="0.9" fill="#d0d0d0"/><rect x="535.7" y="180.4" width="67.5" height="2.91" fill="#0a0a8a"/><rect x="535.7" y="180.7" width="67.2" height="2.31" fill="#1414E6"/><rect x="525.39" y="181.4" width="8.81" height="0.9" fill="#d0d0d0"/><rect x="535.7" y="183.31" width="66.2" height="2.91" fill="#0a0a8a"/><rect x="535.7" y="183.61" width="65.9" height="2.31" fill="#1414E6"/><rect x="527.25" y="184.31" width="6.95" height="0.9" fill="#d0d0d0"/><rect x="535.7" y="186.22" width="59.6" height="2.91" fill="#0a0a8a"/><rect x="535.7" y="186.52" width="59.3" height="2.31" fill="#1414E6"/><rect x="529.8" y="187.22" width="4.4" height="0.9" fill="#d0d0d0"/><rect x="535.7" y="189.13" width="59" height="2.91" fill="#0a0a8a"/><rect x="535.7" y="189.43" width="58.7" height="2.31" fill="#1414E6"/><rect x="527.72" y="190.13" width="6.48" height="0.9" fill="#d0d0d0"/><rect x="535.7" y="192.04" width="57.9" height="2.91" fill="#0a0a8a"/><rect x="535.7" y="192.34" width="57.6" height="2.31" fill="#1414E6"/><rect x="517.74" y="193.04" width="16.46" height="0.9" fill="#d0d0d0"/><rect x="535.7" y="194.95" width="56.3" height="2.91" fill="#0a0a8a"/><rect x="535.7" y="195.25" width="56" height="2.31" fill="#1414E6"/><rect x="527.36" y="195.95" width="6.84" height="0.9" fill="#d0d0d0"/><rect x="535.7" y="197.7" width="89.3" height="2.91" fill="#0c4c0c"/><rect x="535.7" y="198" width="89" height="2.31" fill="#1A861A"/><rect x="527.6" y="198.7" width="6.6" height="0.9" fill="#d0d0d0"/><rect x="535.7" y="200.61" width="86.6" height="2.91" fill="#0c4c0c"/><rect x="535.7" y="200.91" width="86.3" height="2.31" fill="#1A861A"/><rect x="517.9" y="201.61" width="16.3" height="0.9" fill="#d0d0d0"/><rect x="535.7" y="203.52" width="86.4" height="2.91" fill="#0c4c0c"/><rect x="535.7" y="203.82" width="86.1" height="2.31" fill="#1A861A"/><rect x="528.3" y="204.52" width="5.9" height="0.9" fill="#d0d0d0"/><rect x="535.7" y="206.43" width="86.4" height="2.91" fill="#0c4c0c"/><rect x="535.7" y="206.73" width="86.1" height="2.31" fill="#1A861A"/><rect x="526.49" y="207.43" width="7.71" height="0.9" fill="#d0d0d0"/><rect x="535.7" y="209.34" width="82" height="2.91" fill="#0c4c0c"/><rect x="535.7" y="209.64" width="81.7" height="2.31" fill="#1A861A"/><rect x="523.29" y="210.34" width="10.91" height="0.9" fill="#d0d0d0"/><rect x="535.7" y="212.25" width="81.1" height="2.91" fill="#0c4c0c"/><rect x="535.7" y="212.55" width="80.8" height="2.31" fill="#1A861A"/><rect x="524.04" y="213.25" width="10.16" height="0.9" fill="#d0d0d0"/><rect x="535.7" y="215.16" width="80" height="2.91" fill="#0c4c0c"/><rect x="535.7" y="215.46" width="79.7" height="2.31" fill="#1A861A"/><rect x="528.84" y="216.16" width="5.36" height="0.9" fill="#d0d0d0"/><rect x="535.7" y="218.07" width="79.4" height="2.91" fill="#0c4c0c"/><rect x="535.7" y="218.37" width="79.1" height="2.31" fill="#1A861A"/><rect x="528.27" y="219.07" width="5.93" height="0.9" fill="#d0d0d0"/><rect x="535.7" y="220.98" width="78.8" height="2.91" fill="#0c4c0c"/><rect x="535.7" y="221.28" width="78.5" height="2.31" fill="#1A861A"/><rect x="526.48" y="221.98" width="7.72" height="0.9" fill="#d0d0d0"/><rect x="535.7" y="223.89" width="78.7" height="2.91" fill="#0c4c0c"/><rect x="535.7" y="224.19" width="78.4" height="2.31" fill="#1A861A"/><rect x="525.81" y="224.89" width="8.39" height="0.9" fill="#d0d0d0"/><rect x="535.7" y="226.8" width="60.3" height="2.91" fill="#0c4c0c"/><rect x="535.7" y="227.1" width="60" height="2.31" fill="#1A861A"/><rect x="527.14" y="227.8" width="7.06" height="0.9" fill="#d0d0d0"/><rect x="535.7" y="229.71" width="57" height="2.91" fill="#0c4c0c"/><rect x="535.7" y="230.01" width="56.7" height="2.31" fill="#1A861A"/><rect x="529.01" y="230.71" width="5.19" height="0.9" fill="#d0d0d0"/><rect x="535.7" y="232.62" width="56.3" height="2.91" fill="#0c4c0c"/><rect x="535.7" y="232.92" width="56" height="2.31" fill="#1A861A"/><rect x="527.58" y="233.62" width="6.62" height="0.9" fill="#d0d0d0"/><rect x="535.7" y="235.53" width="55.7" height="2.91" fill="#0c4c0c"/><rect x="535.7" y="235.83" width="55.4" height="2.31" fill="#1A861A"/><rect x="527.72" y="236.53" width="6.48" height="0.9" fill="#d0d0d0"/><rect x="535.7" y="238.44" width="55.3" height="2.91" fill="#0c4c0c"/><rect x="535.7" y="238.74" width="55" height="2.31" fill="#1A861A"/><rect x="529.24" y="239.44" width="4.96" height="0.9" fill="#d0d0d0"/><rect x="535.7" y="241.35" width="55.3" height="2.91" fill="#0c4c0c"/><rect x="535.7" y="241.65" width="55" height="2.31" fill="#1A861A"/><rect x="526.41" y="242.35" width="7.79" height="0.9" fill="#d0d0d0"/><rect x="535.7" y="244.2" width="89.3" height="2.91" fill="#8a0c0c"/><rect x="535.7" y="244.5" width="89" height="2.31" fill="#E61A1A"/><rect x="527.02" y="245.2" width="7.18" height="0.9" fill="#d0d0d0"/><rect x="535.7" y="247.11" width="74.1" height="2.91" fill="#8a0c0c"/><rect x="535.7" y="247.41" width="73.8" height="2.31" fill="#E61A1A"/><rect x="519.92" y="248.11" width="14.28" height="0.9" fill="#d0d0d0"/><rect x="535.7" y="250.02" width="74.1" height="2.91" fill="#8a0c0c"/><rect x="535.7" y="250.32" width="73.8" height="2.31" fill="#E61A1A"/><rect x="522.57" y="251.02" width="11.63" height="0.9" fill="#d0d0d0"/><rect x="535.7" y="252.93" width="72.8" height="2.91" fill="#8a0c0c"/><rect x="535.7" y="253.23" width="72.5" height="2.31" fill="#E61A1A"/><rect x="525.34" y="253.93" width="8.86" height="0.9" fill="#d0d0d0"/><rect x="535.7" y="255.84" width="72.1" height="2.91" fill="#8a0c0c"/><rect x="535.7" y="256.14" width="71.8" height="2.31" fill="#E61A1A"/><rect x="521.99" y="256.84" width="12.21" height="0.9" fill="#d0d0d0"/><rect x="535.7" y="258.75" width="70.2" height="2.91" fill="#8a0c0c"/><rect x="535.7" y="259.05" width="69.9" height="2.31" fill="#E61A1A"/><rect x="524.66" y="259.75" width="9.54" height="0.9" fill="#d0d0d0"/><rect x="535.7" y="261.66" width="67.5" height="2.91" fill="#8a0c0c"/><rect x="535.7" y="261.96" width="67.2" height="2.31" fill="#E61A1A"/><rect x="524.21" y="262.66" width="9.99" height="0.9" fill="#d0d0d0"/><rect x="535.7" y="264.57" width="57.6" height="2.91" fill="#8a0c0c"/><rect x="535.7" y="264.87" width="57.3" height="2.31" fill="#E61A1A"/><rect x="523.26" y="265.57" width="10.94" height="0.9" fill="#d0d0d0"/><rect x="535.7" y="267.48" width="57.6" height="2.91" fill="#8a0c0c"/><rect x="535.7" y="267.78" width="57.3" height="2.31" fill="#E61A1A"/><rect x="525.84" y="268.48" width="8.36" height="0.9" fill="#d0d0d0"/><rect x="535.7" y="270.39" width="57.3" height="2.91" fill="#8a0c0c"/><rect x="535.7" y="270.69" width="57" height="2.31" fill="#E61A1A"/><rect x="529.62" y="271.39" width="4.58" height="0.9" fill="#d0d0d0"/><rect x="535.7" y="273.3" width="57.3" height="2.91" fill="#8a0c0c"/><rect x="535.7" y="273.6" width="57" height="2.31" fill="#E61A1A"/><rect x="521.25" y="274.3" width="12.95" height="0.9" fill="#d0d0d0"/><rect x="535.7" y="276.21" width="56.9" height="2.91" fill="#8a0c0c"/><rect x="535.7" y="276.51" width="56.6" height="2.31" fill="#E61A1A"/><rect x="523.32" y="277.21" width="10.88" height="0.9" fill="#d0d0d0"/><rect x="535.7" y="279.12" width="56.3" height="2.91" fill="#8a0c0c"/><rect x="535.7" y="279.42" width="56" height="2.31" fill="#E61A1A"/><rect x="526.09" y="280.12" width="8.11" height="0.9" fill="#d0d0d0"/><rect x="535.7" y="282.03" width="55.8" height="2.91" fill="#8a0c0c"/><rect x="535.7" y="282.33" width="55.5" height="2.31" fill="#E61A1A"/><rect x="528.99" y="283.03" width="5.21" height="0.9" fill="#d0d0d0"/><rect x="535.7" y="284.94" width="55.8" height="2.91" fill="#8a0c0c"/><rect x="535.7" y="285.24" width="55.5" height="2.31" fill="#E61A1A"/><rect x="524.73" y="285.94" width="9.47" height="0.9" fill="#d0d0d0"/><rect x="535.7" y="287.85" width="55.3" height="2.91" fill="#8a0c0c"/><rect x="535.7" y="288.15" width="55" height="2.31" fill="#E61A1A"/><rect x="523.39" y="288.85" width="10.81" height="0.9" fill="#d0d0d0"/><rect x="24.5" y="228.4" width="98.9" height="84.9" fill="#fff" stroke="#aaa" stroke-width="0.6"/><line x1="86" y1="228.4" x2="86" y2="313.3" stroke="#999" stroke-width="0.5"/><line x1="24.5" y1="284.3" x2="123.4" y2="284.3" stroke="#999" stroke-width="0.5"/><circle cx="70.93" cy="231.79" r="1.75" fill="#E41A1C"/><circle cx="102.23" cy="269.79" r="1.75" fill="#E41A1C"/><circle cx="84.3" cy="275.98" r="1.75" fill="#E41A1C"/><circle cx="113" cy="278.1" r="1.75" fill="#E41A1C"/><circle cx="109.57" cy="285.44" r="1.75" fill="#E41A1C"/><circle cx="113.65" cy="283.81" r="1.75" fill="#E41A1C"/><circle cx="85.93" cy="290.66" r="1.75" fill="#E41A1C"/><circle cx="64.89" cy="294.9" r="1.75" fill="#E41A1C"/><circle cx="77.29" cy="298.16" r="1.75" fill="#E41A1C"/><circle cx="102.89" cy="263.43" r="1.75" fill="#1A7A1A"/><circle cx="107.94" cy="279.89" r="1.75" fill="#1A7A1A"/><circle cx="110.88" cy="281.04" r="1.75" fill="#1A7A1A"/><circle cx="112.51" cy="287.23" r="1.75" fill="#1A7A1A"/><circle cx="109.25" cy="291.31" r="1.75" fill="#1A7A1A"/><circle cx="116.09" cy="287.88" r="1.75" fill="#1A7A1A"/><circle cx="118.21" cy="286.74" r="1.75" fill="#1A7A1A"/><circle cx="87.4" cy="295.55" r="1.75" fill="#1A7A1A"/><circle cx="114.95" cy="288.7" r="1.75" fill="#1A7A1A"/><circle cx="30.49" cy="270.27" r="1.75" fill="#1515D5"/><circle cx="29.51" cy="273.7" r="1.75" fill="#1515D5"/><circle cx="59.02" cy="270.93" r="1.75" fill="#1515D5"/><circle cx="38.15" cy="290.82" r="1.75" fill="#1515D5"/><circle cx="61.96" cy="291.15" r="1.75" fill="#1515D5"/><circle cx="63.92" cy="293.27" r="1.75" fill="#1515D5"/><circle cx="71.09" cy="289.51" r="1.75" fill="#1515D5"/><circle cx="57.23" cy="298.16" r="1.75" fill="#1515D5"/><circle cx="66.69" cy="304.19" r="1.75" fill="#1515D5"/><circle cx="73.86" cy="309.41" r="1.75" fill="#1515D5"/><text x="26" y="232.6" font-family="'Liberation Sans', sans-serif" font-size="2.7" fill="#C04040" text-anchor="start" >R=0.77, P=0.001</text><text x="125" y="263" font-family="'Liberation Sans', sans-serif" font-size="4.8" fill="#444" text-anchor="start" >Group</text><circle cx="127.4" cy="267.3" r="1.7" fill="#E41A1C"/><text x="131.2" y="268.7" font-family="'Liberation Sans', sans-serif" font-size="3.9" fill="#444" text-anchor="start" >Hongxin</text><circle cx="127.4" cy="272.5" r="1.7" fill="#1A7A1A"/><text x="131.2" y="273.9" font-family="'Liberation Sans', sans-serif" font-size="3.9" fill="#444" text-anchor="start" >Houhuo</text><circle cx="127.4" cy="277.7" r="1.7" fill="#1515D5"/><text x="131.2" y="279.1" font-family="'Liberation Sans', sans-serif" font-size="3.9" fill="#444" text-anchor="start" >Qingcha</text><text x="73.95" y="322.8" font-family="'Liberation Sans', sans-serif" font-size="3.2" fill="#555" text-anchor="middle" >PCoA1 ( 33.93% )</text><text transform="translate(15.5,270.85) rotate(-90)" font-family="'Liberation Sans', sans-serif" font-size="3.2" fill="#555" text-anchor="middle">PCoA2 ( 11.85% )</text><text x="26" y="317.3" font-family="'Liberation Sans', sans-serif" font-size="2.6" fill="#777" text-anchor="middle" >-0.15</text><text x="46" y="317.3" font-family="'Liberation Sans', sans-serif" font-size="2.6" fill="#777" text-anchor="middle" >-0.10</text><text x="66" y="317.3" font-family="'Liberation Sans', sans-serif" font-size="2.6" fill="#777" text-anchor="middle" >-0.05</text><text x="86" y="317.3" font-family="'Liberation Sans', sans-serif" font-size="2.6" fill="#777" text-anchor="middle" >0.00</text><text x="106" y="317.3" font-family="'Liberation Sans', sans-serif" font-size="2.6" fill="#777" text-anchor="middle" >0.05</text><text x="23" y="232.7" font-family="'Liberation Sans', sans-serif" font-size="2.6" fill="#777" text-anchor="end" >0.15</text><text x="23" y="250" font-family="'Liberation Sans', sans-serif" font-size="2.6" fill="#777" text-anchor="end" >0.10</text><text x="23" y="267.6" font-family="'Liberation Sans', sans-serif" font-size="2.6" fill="#777" text-anchor="end" >0.05</text><text x="23" y="285.3" font-family="'Liberation Sans', sans-serif" font-size="2.6" fill="#777" text-anchor="end" >0.00</text><text x="23" y="303" font-family="'Liberation Sans', sans-serif" font-size="2.6" fill="#777" text-anchor="end" >-0.05</text><rect x="164.5" y="225.3" width="100.3" height="87.6" fill="#fff" stroke="#aaa" stroke-width="0.6"/><line x1="235.4" y1="225.3" x2="235.4" y2="312.9" stroke="#999" stroke-width="0.5"/><line x1="164.5" y1="272.4" x2="264.8" y2="272.4" stroke="#999" stroke-width="0.5" stroke-dasharray="1.2 1"/><circle cx="250.91" cy="229.68" r="1.75" fill="#E41A1C"/><circle cx="241.45" cy="236.69" r="1.75" fill="#E41A1C"/><circle cx="259.72" cy="243.54" r="1.75" fill="#E41A1C"/><circle cx="252.22" cy="254.31" r="1.75" fill="#E41A1C"/><circle cx="257.11" cy="258.22" r="1.75" fill="#E41A1C"/><circle cx="235.25" cy="259.04" r="1.75" fill="#E41A1C"/><circle cx="254.5" cy="274.21" r="1.75" fill="#E41A1C"/><circle cx="241.94" cy="288.07" r="1.75" fill="#E41A1C"/><circle cx="220.41" cy="288.07" r="1.75" fill="#E41A1C"/><circle cx="235.74" cy="292.96" r="1.75" fill="#E41A1C"/><circle cx="169.2" cy="240.93" r="1.75" fill="#1A7A1A"/><circle cx="199.86" cy="256.76" r="1.75" fill="#1A7A1A"/><circle cx="244.88" cy="253.49" r="1.75" fill="#1A7A1A"/><circle cx="237.37" cy="263.61" r="1.75" fill="#1A7A1A"/><circle cx="246.18" cy="263.93" r="1.75" fill="#1A7A1A"/><circle cx="231.67" cy="265.07" r="1.75" fill="#1A7A1A"/><circle cx="225.96" cy="267.03" r="1.75" fill="#1A7A1A"/><circle cx="218.94" cy="267.85" r="1.75" fill="#1A7A1A"/><circle cx="220.74" cy="268.82" r="1.75" fill="#1A7A1A"/><circle cx="233.13" cy="273.07" r="1.75" fill="#1A7A1A"/><circle cx="258.58" cy="270.46" r="1.75" fill="#1515D5"/><circle cx="239.33" cy="281.87" r="1.75" fill="#1515D5"/><circle cx="243.08" cy="284.81" r="1.75" fill="#1515D5"/><circle cx="233.46" cy="287.09" r="1.75" fill="#1515D5"/><circle cx="234.27" cy="292.8" r="1.75" fill="#1515D5"/><circle cx="232.32" cy="296.55" r="1.75" fill="#1515D5"/><circle cx="236.56" cy="296.55" r="1.75" fill="#1515D5"/><circle cx="234.27" cy="304.38" r="1.75" fill="#1515D5"/><circle cx="234.27" cy="306.83" r="1.75" fill="#1515D5"/><circle cx="230.69" cy="309.11" r="1.75" fill="#1515D5"/><text x="166" y="229.5" font-family="'Liberation Sans', sans-serif" font-size="2.7" fill="#C04040" text-anchor="start" >R=0.28, P=0.001</text><text x="267" y="261" font-family="'Liberation Sans', sans-serif" font-size="4.8" fill="#444" text-anchor="start" >Group</text><circle cx="269.4" cy="265.3" r="1.7" fill="#E41A1C"/><text x="273.2" y="266.7" font-family="'Liberation Sans', sans-serif" font-size="3.9" fill="#444" text-anchor="start" >Hongxin</text><circle cx="269.4" cy="270.5" r="1.7" fill="#1A7A1A"/><text x="273.2" y="271.9" font-family="'Liberation Sans', sans-serif" font-size="3.9" fill="#444" text-anchor="start" >Houhuo</text><circle cx="269.4" cy="275.7" r="1.7" fill="#1515D5"/><text x="273.2" y="277.1" font-family="'Liberation Sans', sans-serif" font-size="3.9" fill="#444" text-anchor="start" >Qingcha</text><text x="214.65" y="322.4" font-family="'Liberation Sans', sans-serif" font-size="3.2" fill="#555" text-anchor="middle" >PCoA1 ( 36.02% )</text><text transform="translate(155.5,269.1) rotate(-90)" font-family="'Liberation Sans', sans-serif" font-size="3.2" fill="#555" text-anchor="middle">PCoA2 ( 13.69% )</text><text x="185.7" y="316.9" font-family="'Liberation Sans', sans-serif" font-size="2.6" fill="#777" text-anchor="middle" >-0.3</text><text x="210.5" y="316.9" font-family="'Liberation Sans', sans-serif" font-size="2.6" fill="#777" text-anchor="middle" >-0.1</text><text x="235.4" y="316.9" font-family="'Liberation Sans', sans-serif" font-size="2.6" fill="#777" text-anchor="middle" >0.0</text><text x="260" y="316.9" font-family="'Liberation Sans', sans-serif" font-size="2.6" fill="#777" text-anchor="middle" >0.1</text><text x="163" y="238" font-family="'Liberation Sans', sans-serif" font-size="2.6" fill="#777" text-anchor="end" >0.200</text><text x="163" y="255.7" font-family="'Liberation Sans', sans-serif" font-size="2.6" fill="#777" text-anchor="end" >0.100</text><text x="163" y="273.4" font-family="'Liberation Sans', sans-serif" font-size="2.6" fill="#777" text-anchor="end" >0.000</text><text x="163" y="291.2" font-family="'Liberation Sans', sans-serif" font-size="2.6" fill="#777" text-anchor="end" >-0.100</text><text x="163" y="309" font-family="'Liberation Sans', sans-serif" font-size="2.6" fill="#777" text-anchor="end" >-0.200</text><rect x="69.4" y="328.1" width="4.4" height="2" fill="#1A7A1A"/><text x="74.6" y="330" font-family="'Liberation Sans', sans-serif" font-size="2.6" fill="#888" text-anchor="start" >Houhuo</text><rect x="90" y="328.1" width="5" height="2" fill="#1414C8"/><text x="96" y="330" font-family="'Liberation Sans', sans-serif" font-size="2.6" fill="#888" text-anchor="start" >Qingcha</text><rect x="87.1" y="333" width="22.6" height="1.74" fill="#1414D8"/><path d="M63 333.6h23.3v.8h-23.3z" fill="#cdcdcd"/><rect x="87.1" y="334.99" width="22.52" height="1.74" fill="#1414D8"/><path d="M46.2 335.6h40.1v.8h-40.1z" fill="#cdcdcd"/><rect x="87.1" y="336.97" width="22.43" height="1.74" fill="#1414D8"/><path d="M48 337.6h38.3v.8h-38.3z" fill="#cdcdcd"/><rect x="87.1" y="338.96" width="22.35" height="1.74" fill="#1414D8"/><path d="M53 339.6h33.3v.8h-33.3z" fill="#cdcdcd"/><rect x="87.1" y="340.94" width="22.27" height="1.74" fill="#1414D8"/><path d="M61.4 341.5h24.9v.8h-24.9z" fill="#cdcdcd"/><rect x="87.1" y="342.93" width="22.19" height="1.74" fill="#1414D8"/><path d="M42.9 343.5h43.4v.8h-43.4z" fill="#cdcdcd"/><rect x="87.1" y="344.92" width="22.1" height="1.74" fill="#1414D8"/><path d="M42.4 345.5h43.9v.8h-43.9z" fill="#cdcdcd"/><rect x="87.1" y="346.9" width="22.02" height="1.74" fill="#1414D8"/><path d="M51.9 347.5h34.4v.8h-34.4z" fill="#cdcdcd"/><rect x="87.1" y="348.89" width="21.94" height="1.74" fill="#1414D8"/><path d="M52.1 349.5h34.2v.8h-34.2z" fill="#cdcdcd"/><rect x="87.1" y="350.88" width="21.85" height="1.74" fill="#1414D8"/><path d="M60.7 351.5h25.6v.8h-25.6z" fill="#cdcdcd"/><rect x="87.1" y="352.86" width="21.77" height="1.74" fill="#1414D8"/><path d="M68.2 353.5h18.1v.8h-18.1z" fill="#cdcdcd"/><rect x="87.1" y="354.85" width="21.69" height="1.74" fill="#1414D8"/><path d="M56.4 355.4h29.9v.8h-29.9z" fill="#cdcdcd"/><rect x="87.1" y="356.83" width="21.61" height="1.74" fill="#1414D8"/><path d="M49.6 357.4h36.7v.8h-36.7z" fill="#cdcdcd"/><rect x="87.1" y="358.82" width="21.52" height="1.74" fill="#1414D8"/><path d="M66.1 359.4h20.2v.8h-20.2z" fill="#cdcdcd"/><rect x="87.1" y="360.81" width="21.44" height="1.74" fill="#1414D8"/><path d="M42.9 361.4h43.4v.8h-43.4z" fill="#cdcdcd"/><rect x="87.1" y="362.79" width="21.36" height="1.74" fill="#1414D8"/><path d="M60.9 363.4h25.4v.8h-25.4z" fill="#cdcdcd"/><rect x="87.1" y="364.78" width="21.27" height="1.74" fill="#1414D8"/><path d="M60.9 365.4h25.4v.8h-25.4z" fill="#cdcdcd"/><rect x="87.1" y="366.76" width="21.19" height="1.74" fill="#1414D8"/><path d="M66.9 367.4h19.4v.8h-19.4z" fill="#cdcdcd"/><rect x="87.1" y="368.75" width="21.11" height="1.74" fill="#1414D8"/><path d="M36.4 369.4h49.9v.8h-49.9z" fill="#cdcdcd"/><rect x="87.1" y="370.74" width="21.03" height="1.74" fill="#1414D8"/><path d="M44.7 371.3h41.6v.8h-41.6z" fill="#cdcdcd"/><rect x="87.1" y="372.72" width="20.94" height="1.74" fill="#1414D8"/><path d="M40.3 373.3h46v.8h-46z" fill="#cdcdcd"/><rect x="87.1" y="374.71" width="20.86" height="1.74" fill="#1414D8"/><path d="M48.6 375.3h37.7v.8h-37.7z" fill="#cdcdcd"/><rect x="87.1" y="376.69" width="20.78" height="1.74" fill="#1414D8"/><path d="M67.2 377.3h19.1v.8h-19.1z" fill="#cdcdcd"/><rect x="87.1" y="378.68" width="20.69" height="1.74" fill="#1414D8"/><path d="M57.8 379.3h28.5v.8h-28.5z" fill="#cdcdcd"/><rect x="87.1" y="380.67" width="20.61" height="1.74" fill="#1414D8"/><path d="M52.4 381.3h33.9v.8h-33.9z" fill="#cdcdcd"/><rect x="87.1" y="382.65" width="20.53" height="1.74" fill="#1414D8"/><path d="M64.6 383.3h21.7v.8h-21.7z" fill="#cdcdcd"/><rect x="87.1" y="384.64" width="20.45" height="1.74" fill="#1414D8"/><path d="M37.8 385.2h48.5v.8h-48.5z" fill="#cdcdcd"/><rect x="87.1" y="386.62" width="20.36" height="1.74" fill="#1414D8"/><path d="M56.5 387.2h29.8v.8h-29.8z" fill="#cdcdcd"/><rect x="87.1" y="388.61" width="20.28" height="1.74" fill="#1414D8"/><path d="M63.3 389.2h23v.8h-23z" fill="#cdcdcd"/><rect x="87.1" y="390.6" width="20.2" height="1.74" fill="#1414D8"/><path d="M42.1 391.2h44.2v.8h-44.2z" fill="#cdcdcd"/><rect x="87.1" y="392.58" width="20.11" height="1.74" fill="#1414D8"/><path d="M64.3 393.2h22v.8h-22z" fill="#cdcdcd"/><rect x="87.1" y="394.57" width="20.03" height="1.74" fill="#1414D8"/><path d="M38.6 395.2h47.7v.8h-47.7z" fill="#cdcdcd"/><rect x="87.1" y="396.56" width="19.95" height="1.74" fill="#1414D8"/><path d="M53.8 397.2h32.5v.8h-32.5z" fill="#cdcdcd"/><rect x="87.1" y="398.54" width="19.87" height="1.74" fill="#1414D8"/><path d="M50.6 399.1h35.7v.8h-35.7z" fill="#cdcdcd"/><rect x="87.1" y="400.53" width="19.78" height="1.74" fill="#1414D8"/><path d="M57.3 401.1h29v.8h-29z" fill="#cdcdcd"/><rect x="87.1" y="402.51" width="19.7" height="1.74" fill="#1414D8"/><path d="M52.8 403.1h33.5v.8h-33.5z" fill="#cdcdcd"/><rect x="67.2" y="404.9" width="19.7" height="1.73" fill="#1A861A"/><path d="M87.8 405.5h30v.8h-30z" fill="#cdcdcd"/><rect x="67.13" y="406.88" width="19.77" height="1.73" fill="#1A861A"/><path d="M87.8 407.5h26v.8h-26z" fill="#cdcdcd"/><rect x="67.06" y="408.85" width="19.84" height="1.73" fill="#1A861A"/><path d="M87.8 409.5h48.4v.8h-48.4z" fill="#cdcdcd"/><rect x="66.99" y="410.83" width="19.91" height="1.73" fill="#1A861A"/><path d="M87.8 411.4h31.3v.8h-31.3z" fill="#cdcdcd"/><rect x="66.92" y="412.81" width="19.98" height="1.73" fill="#1A861A"/><path d="M87.8 413.4h46.1v.8h-46.1z" fill="#cdcdcd"/><rect x="66.86" y="414.78" width="20.04" height="1.73" fill="#1A861A"/><path d="M87.8 415.4h30.6v.8h-30.6z" fill="#cdcdcd"/><rect x="66.79" y="416.76" width="20.11" height="1.73" fill="#1A861A"/><path d="M87.8 417.4h51.2v.8h-51.2z" fill="#cdcdcd"/><rect x="66.72" y="418.74" width="20.18" height="1.73" fill="#1A861A"/><path d="M87.8 419.3h49.1v.8h-49.1z" fill="#cdcdcd"/><rect x="66.65" y="420.71" width="20.25" height="1.73" fill="#1A861A"/><path d="M87.8 421.3h45.4v.8h-45.4z" fill="#cdcdcd"/><rect x="66.58" y="422.69" width="20.32" height="1.73" fill="#1A861A"/><path d="M87.8 423.3h45.6v.8h-45.6z" fill="#cdcdcd"/><rect x="66.51" y="424.67" width="20.39" height="1.73" fill="#1A861A"/><path d="M87.8 425.3h40.7v.8h-40.7z" fill="#cdcdcd"/><rect x="66.44" y="426.64" width="20.46" height="1.73" fill="#1A861A"/><path d="M87.8 427.2h44.7v.8h-44.7z" fill="#cdcdcd"/><rect x="66.37" y="428.62" width="20.53" height="1.73" fill="#1A861A"/><path d="M87.8 429.2h28.3v.8h-28.3z" fill="#cdcdcd"/><rect x="66.3" y="430.6" width="20.6" height="1.73" fill="#1A861A"/><path d="M87.8 431.2h37.9v.8h-37.9z" fill="#cdcdcd"/><rect x="66.23" y="432.57" width="20.67" height="1.73" fill="#1A861A"/><path d="M87.8 433.2h47.3v.8h-47.3z" fill="#cdcdcd"/><rect x="66.17" y="434.55" width="20.73" height="1.73" fill="#1A861A"/><path d="M87.8 435.1h30.4v.8h-30.4z" fill="#cdcdcd"/><rect x="66.1" y="436.53" width="20.8" height="1.73" fill="#1A861A"/><path d="M87.8 437.1h49.9v.8h-49.9z" fill="#cdcdcd"/><rect x="66.03" y="438.5" width="20.87" height="1.73" fill="#1A861A"/><path d="M87.8 439.1h49v.8h-49z" fill="#cdcdcd"/><rect x="65.96" y="440.48" width="20.94" height="1.73" fill="#1A861A"/><path d="M87.8 441.1h36.1v.8h-36.1z" fill="#cdcdcd"/><rect x="65.89" y="442.46" width="21.01" height="1.73" fill="#1A861A"/><path d="M87.8 443.1h34.9v.8h-34.9z" fill="#cdcdcd"/><rect x="65.82" y="444.43" width="21.08" height="1.73" fill="#1A861A"/><path d="M87.8 445h37.2v.8h-37.2z" fill="#cdcdcd"/><rect x="65.75" y="446.41" width="21.15" height="1.73" fill="#1A861A"/><path d="M87.8 447h35.4v.8h-35.4z" fill="#cdcdcd"/><rect x="65.68" y="448.39" width="21.22" height="1.73" fill="#1A861A"/><path d="M87.8 449h51.9v.8h-51.9z" fill="#cdcdcd"/><rect x="65.61" y="450.36" width="21.29" height="1.73" fill="#1A861A"/><path d="M87.8 451h35.4v.8h-35.4z" fill="#cdcdcd"/><rect x="65.54" y="452.34" width="21.36" height="1.73" fill="#1A861A"/><path d="M87.8 452.9h25.7v.8h-25.7z" fill="#cdcdcd"/><rect x="65.48" y="454.32" width="21.42" height="1.73" fill="#1A861A"/><path d="M87.8 454.9h27.5v.8h-27.5z" fill="#cdcdcd"/><rect x="65.41" y="456.29" width="21.49" height="1.73" fill="#1A861A"/><path d="M87.8 456.9h44.4v.8h-44.4z" fill="#cdcdcd"/><rect x="65.34" y="458.27" width="21.56" height="1.73" fill="#1A861A"/><path d="M87.8 458.9h51.8v.8h-51.8z" fill="#cdcdcd"/><rect x="65.27" y="460.25" width="21.63" height="1.73" fill="#1A861A"/><path d="M87.8 460.8h38.4v.8h-38.4z" fill="#cdcdcd"/><rect x="65.2" y="462.22" width="21.7" height="1.73" fill="#1A861A"/><path d="M87.8 462.8h38.3v.8h-38.3z" fill="#cdcdcd"/><line x1="60" y1="466.3" x2="114" y2="466.3" stroke="#ddd" stroke-width="0.4"/><path d="M61.1 466.8h1.3v1h-1.3z" fill="#c8c8c8"/><path d="M67.5 466.8h1.3v1h-1.3z" fill="#c8c8c8"/><path d="M73.9 466.8h1.3v1h-1.3z" fill="#c8c8c8"/><path d="M80.3 466.8h1.3v1h-1.3z" fill="#c8c8c8"/><path d="M86.7 466.8h1.3v1h-1.3z" fill="#c8c8c8"/><path d="M93.1 466.8h1.3v1h-1.3z" fill="#c8c8c8"/><path d="M99.4 466.8h1.3v1h-1.3z" fill="#c8c8c8"/><path d="M105.8 466.8h1.3v1h-1.3z" fill="#c8c8c8"/><path d="M112.2 466.8h1.3v1h-1.3z" fill="#c8c8c8"/><text x="86.9" y="470.2" font-family="'Liberation Sans', sans-serif" font-size="2.3" fill="#999" text-anchor="middle" >LDA SCORE (log 10)</text><rect x="142.3" y="329" width="25" height="5.2" fill="#F2BE86"/><text x="154.8" y="333.2" font-family="'Liberation Sans', sans-serif" font-size="4.2" fill="#444" text-anchor="middle" >Hongxin</text><rect x="169.5" y="329" width="25" height="5.2" fill="#BEE08E"/><text x="182" y="333.2" font-family="'Liberation Sans', sans-serif" font-size="4.2" fill="#444" text-anchor="middle" >Houhuo</text><rect x="196.3" y="329" width="25.2" height="5.2" fill="#98B0DC"/><text x="208.9" y="333.2" font-family="'Liberation Sans', sans-serif" font-size="4.2" fill="#444" text-anchor="middle" >Qingcha</text><path d="M142.3 334.8h2.6v2.1h-2.6zM149.8 334.8h2.6v2.1h-2.6zM154.8 336.8h2.6v2.1h-2.6zM162.3 336.8h2.6v2.1h-2.6zM162.3 338.8h2.6v2.1h-2.6zM142.3 340.9h2.6v2.1h-2.6zM147.3 342.9h2.6v2.1h-2.6zM142.3 344.9h2.6v2.1h-2.6zM159.8 344.9h2.6v2.1h-2.6zM142.3 346.9h2.6v2.1h-2.6zM154.8 346.9h2.6v2.1h-2.6zM159.8 346.9h2.6v2.1h-2.6zM142.3 391.4h2.6v2.1h-2.6zM149.8 391.4h2.6v2.1h-2.6zM154.8 393.4h2.6v2.1h-2.6zM149.8 397.4h2.6v2.1h-2.6zM142.3 399.5h2.6v2.1h-2.6zM159.8 401.5h2.6v2.1h-2.6zM179.5 334.8h2.6v2.1h-2.6zM172 338.8h2.6v2.1h-2.6zM174.5 338.8h2.6v2.1h-2.6zM182 338.8h2.6v2.1h-2.6zM169.5 340.9h2.6v2.1h-2.6zM174.5 344.9h2.6v2.1h-2.6zM189.5 344.9h2.6v2.1h-2.6zM179.5 346.9h2.6v2.1h-2.6zM187 346.9h2.6v2.1h-2.6zM189.5 346.9h2.6v2.1h-2.6zM179.5 351h2.6v2.1h-2.6zM172 357h2.6v2.1h-2.6zM179.5 359h2.6v2.1h-2.6zM172 365.1h2.6v2.1h-2.6zM172 371.2h2.6v2.1h-2.6zM172 373.2h2.6v2.1h-2.6zM172 375.2h2.6v2.1h-2.6zM179.5 375.2h2.6v2.1h-2.6zM179.5 377.2h2.6v2.1h-2.6zM172 379.3h2.6v2.1h-2.6zM172 381.3h2.6v2.1h-2.6zM172 383.3h2.6v2.1h-2.6zM179.5 383.3h2.6v2.1h-2.6zM179.5 385.3h2.6v2.1h-2.6zM169.5 391.4h2.6v2.1h-2.6zM174.5 391.4h2.6v2.1h-2.6zM182 391.4h2.6v2.1h-2.6zM192 393.4h2.6v2.1h-2.6zM177 397.4h2.6v2.1h-2.6zM182 397.4h2.6v2.1h-2.6zM189.5 397.4h2.6v2.1h-2.6zM184.5 399.5h2.6v2.1h-2.6zM189.5 399.5h2.6v2.1h-2.6zM192 399.5h2.6v2.1h-2.6zM169.5 401.5h2.6v2.1h-2.6zM182 401.5h2.6v2.1h-2.6zM196.3 334.8h2.6v2.1h-2.6zM198.8 334.8h2.6v2.1h-2.6zM203.9 334.8h2.6v2.1h-2.6zM211.4 334.8h2.6v2.1h-2.6zM201.3 336.8h2.6v2.1h-2.6zM196.3 338.8h2.6v2.1h-2.6zM208.9 338.8h2.6v2.1h-2.6zM198.8 340.9h2.6v2.1h-2.6zM201.3 340.9h2.6v2.1h-2.6zM208.9 340.9h2.6v2.1h-2.6zM211.4 340.9h2.6v2.1h-2.6zM196.3 344.9h2.6v2.1h-2.6zM208.9 344.9h2.6v2.1h-2.6zM211.4 344.9h2.6v2.1h-2.6zM198.8 346.9h2.6v2.1h-2.6zM219 346.9h2.6v2.1h-2.6zM196.3 348.9h2.6v2.1h-2.6zM198.8 348.9h2.6v2.1h-2.6zM208.9 348.9h2.6v2.1h-2.6zM211.4 348.9h2.6v2.1h-2.6zM219 348.9h2.6v2.1h-2.6zM198.8 351h2.6v2.1h-2.6zM203.9 351h2.6v2.1h-2.6zM208.9 351h2.6v2.1h-2.6zM219 351h2.6v2.1h-2.6zM196.3 353h2.6v2.1h-2.6zM198.8 353h2.6v2.1h-2.6zM203.9 353h2.6v2.1h-2.6zM206.4 353h2.6v2.1h-2.6zM219 353h2.6v2.1h-2.6zM196.3 355h2.6v2.1h-2.6zM198.8 355h2.6v2.1h-2.6zM201.3 355h2.6v2.1h-2.6zM206.4 355h2.6v2.1h-2.6zM211.4 355h2.6v2.1h-2.6zM219 355h2.6v2.1h-2.6zM196.3 357h2.6v2.1h-2.6zM203.9 357h2.6v2.1h-2.6zM208.9 357h2.6v2.1h-2.6zM196.3 359h2.6v2.1h-2.6zM198.8 359h2.6v2.1h-2.6zM196.3 361.1h2.6v2.1h-2.6zM198.8 361.1h2.6v2.1h-2.6zM203.9 361.1h2.6v2.1h-2.6zM206.4 361.1h2.6v2.1h-2.6zM211.4 361.1h2.6v2.1h-2.6zM198.8 363.1h2.6v2.1h-2.6zM206.4 363.1h2.6v2.1h-2.6zM208.9 363.1h2.6v2.1h-2.6zM211.4 363.1h2.6v2.1h-2.6zM196.3 365.1h2.6v2.1h-2.6zM198.8 365.1h2.6v2.1h-2.6zM203.9 365.1h2.6v2.1h-2.6zM208.9 365.1h2.6v2.1h-2.6zM196.3 371.2h2.6v2.1h-2.6zM198.8 371.2h2.6v2.1h-2.6zM203.9 371.2h2.6v2.1h-2.6zM208.9 371.2h2.6v2.1h-2.6zM211.4 373.2h2.6v2.1h-2.6zM203.9 375.2h2.6v2.1h-2.6zM208.9 375.2h2.6v2.1h-2.6zM219 375.2h2.6v2.1h-2.6zM206.4 377.2h2.6v2.1h-2.6zM198.8 379.3h2.6v2.1h-2.6zM208.9 379.3h2.6v2.1h-2.6zM203.9 381.3h2.6v2.1h-2.6zM208.9 381.3h2.6v2.1h-2.6zM211.4 381.3h2.6v2.1h-2.6zM219 381.3h2.6v2.1h-2.6zM208.9 383.3h2.6v2.1h-2.6zM196.3 385.3h2.6v2.1h-2.6zM203.9 385.3h2.6v2.1h-2.6zM206.4 385.3h2.6v2.1h-2.6zM219 385.3h2.6v2.1h-2.6zM196.3 387.3h2.6v2.1h-2.6zM198.8 387.3h2.6v2.1h-2.6zM203.9 387.3h2.6v2.1h-2.6zM206.4 387.3h2.6v2.1h-2.6zM198.8 391.4h2.6v2.1h-2.6zM206.4 391.4h2.6v2.1h-2.6zM208.9 391.4h2.6v2.1h-2.6zM211.4 393.4h2.6v2.1h-2.6zM219 393.4h2.6v2.1h-2.6zM201.3 397.4h2.6v2.1h-2.6zM203.9 397.4h2.6v2.1h-2.6zM206.4 397.4h2.6v2.1h-2.6zM219 397.4h2.6v2.1h-2.6zM203.9 399.5h2.6v2.1h-2.6zM208.9 399.5h2.6v2.1h-2.6zM198.8 401.5h2.6v2.1h-2.6zM203.9 401.5h2.6v2.1h-2.6zM219 401.5h2.6v2.1h-2.6zM184.5 407.2h2.6v2.1h-2.6zM184.5 417.4h2.6v2.1h-2.6zM184.5 425.6h2.6v2.1h-2.6zM184.5 431.7h2.6v2.1h-2.6zM192 448.1h2.6v2.1h-2.6zM184.5 450.1h2.6v2.1h-2.6zM192 450.1h2.6v2.1h-2.6zM192 456.2h2.6v2.1h-2.6z" fill="#ff1414"/><path d="M144.8 334.8h2.6v2.1h-2.6zM157.3 336.8h2.6v2.1h-2.6zM144.8 338.8h2.6v2.1h-2.6zM157.3 340.9h2.6v2.1h-2.6zM144.8 344.9h2.6v2.1h-2.6zM144.8 346.9h2.6v2.1h-2.6zM157.3 346.9h2.6v2.1h-2.6zM154.8 348.9h2.6v2.1h-2.6zM149.8 351h2.6v2.1h-2.6zM162.3 351h2.6v2.1h-2.6zM154.8 353h2.6v2.1h-2.6zM159.8 353h2.6v2.1h-2.6zM162.3 353h2.6v2.1h-2.6zM154.8 355h2.6v2.1h-2.6zM159.8 355h2.6v2.1h-2.6zM154.8 357h2.6v2.1h-2.6zM159.8 357h2.6v2.1h-2.6zM159.8 359h2.6v2.1h-2.6zM154.8 361.1h2.6v2.1h-2.6zM159.8 361.1h2.6v2.1h-2.6zM162.3 361.1h2.6v2.1h-2.6zM149.8 365.1h2.6v2.1h-2.6zM159.8 365.1h2.6v2.1h-2.6zM162.3 365.1h2.6v2.1h-2.6zM159.8 373.2h2.6v2.1h-2.6zM159.8 375.2h2.6v2.1h-2.6zM142.3 377.2h2.6v2.1h-2.6zM149.8 377.2h2.6v2.1h-2.6zM149.8 379.3h2.6v2.1h-2.6zM162.3 379.3h2.6v2.1h-2.6zM154.8 381.3h2.6v2.1h-2.6zM142.3 385.3h2.6v2.1h-2.6zM154.8 385.3h2.6v2.1h-2.6zM162.3 387.3h2.6v2.1h-2.6zM144.8 393.4h2.6v2.1h-2.6zM157.3 393.4h2.6v2.1h-2.6zM157.3 397.4h2.6v2.1h-2.6zM187 338.8h2.6v2.1h-2.6zM192 338.8h2.6v2.1h-2.6zM184.5 340.9h2.6v2.1h-2.6zM192 340.9h2.6v2.1h-2.6zM187 344.9h2.6v2.1h-2.6zM192 344.9h2.6v2.1h-2.6zM184.5 348.9h2.6v2.1h-2.6zM187 348.9h2.6v2.1h-2.6zM169.5 351h2.6v2.1h-2.6zM177 351h2.6v2.1h-2.6zM184.5 351h2.6v2.1h-2.6zM192 351h2.6v2.1h-2.6zM169.5 353h2.6v2.1h-2.6zM174.5 353h2.6v2.1h-2.6zM177 353h2.6v2.1h-2.6zM192 353h2.6v2.1h-2.6zM177 355h2.6v2.1h-2.6zM187 355h2.6v2.1h-2.6zM174.5 357h2.6v2.1h-2.6zM187 357h2.6v2.1h-2.6zM189.5 357h2.6v2.1h-2.6zM192 357h2.6v2.1h-2.6zM174.5 359h2.6v2.1h-2.6zM187 359h2.6v2.1h-2.6zM189.5 359h2.6v2.1h-2.6zM182 361.1h2.6v2.1h-2.6zM184.5 361.1h2.6v2.1h-2.6zM189.5 361.1h2.6v2.1h-2.6zM182 363.1h2.6v2.1h-2.6zM184.5 363.1h2.6v2.1h-2.6zM169.5 365.1h2.6v2.1h-2.6zM187 365.1h2.6v2.1h-2.6zM192 365.1h2.6v2.1h-2.6zM184.5 371.2h2.6v2.1h-2.6zM187 371.2h2.6v2.1h-2.6zM174.5 373.2h2.6v2.1h-2.6zM169.5 375.2h2.6v2.1h-2.6zM177 375.2h2.6v2.1h-2.6zM182 375.2h2.6v2.1h-2.6zM184.5 377.2h2.6v2.1h-2.6zM189.5 377.2h2.6v2.1h-2.6zM174.5 379.3h2.6v2.1h-2.6zM169.5 381.3h2.6v2.1h-2.6zM174.5 381.3h2.6v2.1h-2.6zM182 381.3h2.6v2.1h-2.6zM184.5 381.3h2.6v2.1h-2.6zM189.5 381.3h2.6v2.1h-2.6zM182 383.3h2.6v2.1h-2.6zM192 383.3h2.6v2.1h-2.6zM177 385.3h2.6v2.1h-2.6zM184.5 385.3h2.6v2.1h-2.6zM187 385.3h2.6v2.1h-2.6zM192 385.3h2.6v2.1h-2.6zM169.5 387.3h2.6v2.1h-2.6zM174.5 387.3h2.6v2.1h-2.6zM187 387.3h2.6v2.1h-2.6zM192 387.3h2.6v2.1h-2.6zM192 397.4h2.6v2.1h-2.6zM216.5 344.9h2.6v2.1h-2.6zM216.5 346.9h2.6v2.1h-2.6zM216.5 348.9h2.6v2.1h-2.6zM213.9 355h2.6v2.1h-2.6zM213.9 359h2.6v2.1h-2.6zM216.5 363.1h2.6v2.1h-2.6zM196.3 373.2h2.6v2.1h-2.6zM201.3 377.2h2.6v2.1h-2.6zM201.3 379.3h2.6v2.1h-2.6zM216.5 379.3h2.6v2.1h-2.6zM216.5 383.3h2.6v2.1h-2.6zM201.3 387.3h2.6v2.1h-2.6zM216.5 387.3h2.6v2.1h-2.6zM216.5 391.4h2.6v2.1h-2.6zM213.9 393.4h2.6v2.1h-2.6zM213.9 401.5h2.6v2.1h-2.6zM157.3 417.4h2.6v2.1h-2.6zM157.3 423.5h2.6v2.1h-2.6zM162.3 429.7h2.6v2.1h-2.6zM157.3 435.8h2.6v2.1h-2.6zM162.3 441.9h2.6v2.1h-2.6zM162.3 454.2h2.6v2.1h-2.6zM157.3 460.3h2.6v2.1h-2.6zM177 407.2h2.6v2.1h-2.6zM192 411.3h2.6v2.1h-2.6zM179.5 415.4h2.6v2.1h-2.6zM192 421.5h2.6v2.1h-2.6zM179.5 425.6h2.6v2.1h-2.6zM192 425.6h2.6v2.1h-2.6zM177 427.6h2.6v2.1h-2.6zM189.5 429.7h2.6v2.1h-2.6zM189.5 431.7h2.6v2.1h-2.6zM189.5 435.8h2.6v2.1h-2.6zM177 437.8h2.6v2.1h-2.6zM192 439.9h2.6v2.1h-2.6zM179.5 444h2.6v2.1h-2.6zM192 444h2.6v2.1h-2.6zM179.5 446h2.6v2.1h-2.6zM179.5 448.1h2.6v2.1h-2.6zM177 450.1h2.6v2.1h-2.6zM177 452.1h2.6v2.1h-2.6zM179.5 454.2h2.6v2.1h-2.6zM192 454.2h2.6v2.1h-2.6zM192 458.3h2.6v2.1h-2.6z" fill="#ff4f14"/><path d="M147.3 334.8h2.6v2.1h-2.6zM152.3 336.8h2.6v2.1h-2.6zM164.8 336.8h2.6v2.1h-2.6zM147.3 338.8h2.6v2.1h-2.6zM152.3 338.8h2.6v2.1h-2.6zM147.3 340.9h2.6v2.1h-2.6zM164.8 340.9h2.6v2.1h-2.6zM147.3 344.9h2.6v2.1h-2.6zM147.3 346.9h2.6v2.1h-2.6zM164.8 346.9h2.6v2.1h-2.6zM144.8 348.9h2.6v2.1h-2.6zM157.3 348.9h2.6v2.1h-2.6zM144.8 355h2.6v2.1h-2.6zM157.3 355h2.6v2.1h-2.6zM144.8 363.1h2.6v2.1h-2.6zM157.3 363.1h2.6v2.1h-2.6zM157.3 365.1h2.6v2.1h-2.6zM157.3 373.2h2.6v2.1h-2.6zM157.3 379.3h2.6v2.1h-2.6zM144.8 381.3h2.6v2.1h-2.6zM157.3 381.3h2.6v2.1h-2.6zM144.8 383.3h2.6v2.1h-2.6zM157.3 383.3h2.6v2.1h-2.6zM144.8 385.3h2.6v2.1h-2.6zM152.3 391.4h2.6v2.1h-2.6zM164.8 393.4h2.6v2.1h-2.6zM164.8 397.4h2.6v2.1h-2.6zM147.3 399.5h2.6v2.1h-2.6zM164.8 399.5h2.6v2.1h-2.6zM152.3 401.5h2.6v2.1h-2.6zM179.5 389.4h2.6v2.1h-2.6zM198.8 389.4h2.6v2.1h-2.6zM201.3 389.4h2.6v2.1h-2.6zM203.9 389.4h2.6v2.1h-2.6zM208.9 389.4h2.6v2.1h-2.6zM213.9 389.4h2.6v2.1h-2.6zM198.8 395.4h2.6v2.1h-2.6zM203.9 395.4h2.6v2.1h-2.6zM208.9 395.4h2.6v2.1h-2.6zM157.3 413.3h2.6v2.1h-2.6zM157.3 419.5h2.6v2.1h-2.6zM162.3 421.5h2.6v2.1h-2.6zM157.3 425.6h2.6v2.1h-2.6zM162.3 433.8h2.6v2.1h-2.6zM157.3 439.9h2.6v2.1h-2.6zM164.8 439.9h2.6v2.1h-2.6zM157.3 444h2.6v2.1h-2.6zM157.3 452.1h2.6v2.1h-2.6zM164.8 454.2h2.6v2.1h-2.6zM162.3 456.2h2.6v2.1h-2.6zM159.8 460.3h2.6v2.1h-2.6zM157.3 462.4h2.6v2.1h-2.6zM182 413.3h2.6v2.1h-2.6zM172 415.4h2.6v2.1h-2.6zM182 415.4h2.6v2.1h-2.6zM174.5 419.5h2.6v2.1h-2.6zM174.5 425.6h2.6v2.1h-2.6zM172 427.6h2.6v2.1h-2.6zM182 427.6h2.6v2.1h-2.6zM174.5 429.7h2.6v2.1h-2.6zM179.5 429.7h2.6v2.1h-2.6zM179.5 433.8h2.6v2.1h-2.6zM172 441.9h2.6v2.1h-2.6zM172 446h2.6v2.1h-2.6zM172 456.2h2.6v2.1h-2.6zM179.5 458.3h2.6v2.1h-2.6z" fill="#ff9d14"/><path d="M152.3 334.8h2.6v2.1h-2.6zM164.8 334.8h2.6v2.1h-2.6zM147.3 336.8h2.6v2.1h-2.6zM164.8 338.8h2.6v2.1h-2.6zM152.3 340.9h2.6v2.1h-2.6zM164.8 344.9h2.6v2.1h-2.6zM152.3 346.9h2.6v2.1h-2.6zM144.8 373.2h2.6v2.1h-2.6zM144.8 379.3h2.6v2.1h-2.6zM147.3 391.4h2.6v2.1h-2.6zM152.3 393.4h2.6v2.1h-2.6zM147.3 401.5h2.6v2.1h-2.6zM192 359h2.6v2.1h-2.6zM192 371.2h2.6v2.1h-2.6zM196.3 389.4h2.6v2.1h-2.6zM211.4 389.4h2.6v2.1h-2.6zM219 389.4h2.6v2.1h-2.6zM196.3 395.4h2.6v2.1h-2.6zM211.4 395.4h2.6v2.1h-2.6zM162.3 417.4h2.6v2.1h-2.6zM164.8 417.4h2.6v2.1h-2.6zM162.3 419.5h2.6v2.1h-2.6zM162.3 423.5h2.6v2.1h-2.6zM162.3 425.6h2.6v2.1h-2.6zM164.8 425.6h2.6v2.1h-2.6zM157.3 427.6h2.6v2.1h-2.6zM164.8 427.6h2.6v2.1h-2.6zM164.8 435.8h2.6v2.1h-2.6zM164.8 456.2h2.6v2.1h-2.6zM164.8 458.3h2.6v2.1h-2.6zM174.5 409.2h2.6v2.1h-2.6zM177 409.2h2.6v2.1h-2.6zM177 411.3h2.6v2.1h-2.6zM172 417.4h2.6v2.1h-2.6zM177 419.5h2.6v2.1h-2.6zM172 421.5h2.6v2.1h-2.6zM172 423.5h2.6v2.1h-2.6zM177 429.7h2.6v2.1h-2.6zM172 437.8h2.6v2.1h-2.6zM172 439.9h2.6v2.1h-2.6zM174.5 444h2.6v2.1h-2.6zM177 446h2.6v2.1h-2.6zM172 450.1h2.6v2.1h-2.6zM174.5 454.2h2.6v2.1h-2.6zM179.5 456.2h2.6v2.1h-2.6zM172 458.3h2.6v2.1h-2.6z" fill="#ff8914"/><path d="M154.8 334.8h2.6v2.1h-2.6zM142.3 338.8h2.6v2.1h-2.6zM149.8 338.8h2.6v2.1h-2.6zM154.8 340.9h2.6v2.1h-2.6zM159.8 340.9h2.6v2.1h-2.6zM149.8 344.9h2.6v2.1h-2.6zM154.8 344.9h2.6v2.1h-2.6zM162.3 344.9h2.6v2.1h-2.6zM162.3 346.9h2.6v2.1h-2.6zM142.3 393.4h2.6v2.1h-2.6zM149.8 393.4h2.6v2.1h-2.6zM162.3 393.4h2.6v2.1h-2.6zM142.3 401.5h2.6v2.1h-2.6zM172 334.8h2.6v2.1h-2.6zM179.5 336.8h2.6v2.1h-2.6zM179.5 338.8h2.6v2.1h-2.6zM182 393.4h2.6v2.1h-2.6zM172 399.5h2.6v2.1h-2.6zM182 399.5h2.6v2.1h-2.6zM198.8 336.8h2.6v2.1h-2.6zM203.9 336.8h2.6v2.1h-2.6zM206.4 336.8h2.6v2.1h-2.6zM219 336.8h2.6v2.1h-2.6zM203.9 338.8h2.6v2.1h-2.6zM196.3 340.9h2.6v2.1h-2.6zM203.9 340.9h2.6v2.1h-2.6zM219 340.9h2.6v2.1h-2.6zM198.8 344.9h2.6v2.1h-2.6zM203.9 355h2.6v2.1h-2.6zM203.9 359h2.6v2.1h-2.6zM206.4 359h2.6v2.1h-2.6zM219 361.1h2.6v2.1h-2.6zM206.4 365.1h2.6v2.1h-2.6zM219 365.1h2.6v2.1h-2.6zM219 391.4h2.6v2.1h-2.6zM198.8 393.4h2.6v2.1h-2.6zM219 399.5h2.6v2.1h-2.6zM169.5 407.2h2.6v2.1h-2.6zM184.5 411.3h2.6v2.1h-2.6zM189.5 419.5h2.6v2.1h-2.6zM192 419.5h2.6v2.1h-2.6zM184.5 423.5h2.6v2.1h-2.6zM169.5 425.6h2.6v2.1h-2.6zM189.5 427.6h2.6v2.1h-2.6zM184.5 429.7h2.6v2.1h-2.6zM192 437.8h2.6v2.1h-2.6zM169.5 439.9h2.6v2.1h-2.6zM189.5 439.9h2.6v2.1h-2.6zM189.5 441.9h2.6v2.1h-2.6zM189.5 444h2.6v2.1h-2.6zM189.5 446h2.6v2.1h-2.6zM189.5 448.1h2.6v2.1h-2.6z" fill="#d71414"/><path d="M157.3 334.8h2.6v2.1h-2.6zM157.3 338.8h2.6v2.1h-2.6zM142.3 351h2.6v2.1h-2.6zM154.8 351h2.6v2.1h-2.6zM159.8 351h2.6v2.1h-2.6zM149.8 353h2.6v2.1h-2.6zM149.8 355h2.6v2.1h-2.6zM162.3 355h2.6v2.1h-2.6zM142.3 357h2.6v2.1h-2.6zM162.3 357h2.6v2.1h-2.6zM142.3 359h2.6v2.1h-2.6zM154.8 359h2.6v2.1h-2.6zM149.8 361.1h2.6v2.1h-2.6zM142.3 363.1h2.6v2.1h-2.6zM149.8 363.1h2.6v2.1h-2.6zM159.8 363.1h2.6v2.1h-2.6zM142.3 365.1h2.6v2.1h-2.6zM142.3 371.2h2.6v2.1h-2.6zM154.8 371.2h2.6v2.1h-2.6zM142.3 373.2h2.6v2.1h-2.6zM154.8 373.2h2.6v2.1h-2.6zM159.8 377.2h2.6v2.1h-2.6zM142.3 379.3h2.6v2.1h-2.6zM154.8 379.3h2.6v2.1h-2.6zM159.8 379.3h2.6v2.1h-2.6zM159.8 381.3h2.6v2.1h-2.6zM162.3 381.3h2.6v2.1h-2.6zM142.3 383.3h2.6v2.1h-2.6zM159.8 383.3h2.6v2.1h-2.6zM162.3 383.3h2.6v2.1h-2.6zM162.3 385.3h2.6v2.1h-2.6zM142.3 387.3h2.6v2.1h-2.6zM154.8 387.3h2.6v2.1h-2.6zM144.8 391.4h2.6v2.1h-2.6zM144.8 397.4h2.6v2.1h-2.6zM192 336.8h2.6v2.1h-2.6zM177 348.9h2.6v2.1h-2.6zM192 348.9h2.6v2.1h-2.6zM189.5 351h2.6v2.1h-2.6zM187 353h2.6v2.1h-2.6zM174.5 355h2.6v2.1h-2.6zM184.5 355h2.6v2.1h-2.6zM189.5 355h2.6v2.1h-2.6zM192 355h2.6v2.1h-2.6zM177 357h2.6v2.1h-2.6zM184.5 357h2.6v2.1h-2.6zM177 359h2.6v2.1h-2.6zM169.5 361.1h2.6v2.1h-2.6zM177 361.1h2.6v2.1h-2.6zM192 361.1h2.6v2.1h-2.6zM169.5 363.1h2.6v2.1h-2.6zM192 363.1h2.6v2.1h-2.6zM184.5 365.1h2.6v2.1h-2.6zM169.5 371.2h2.6v2.1h-2.6zM174.5 371.2h2.6v2.1h-2.6zM177 371.2h2.6v2.1h-2.6zM189.5 371.2h2.6v2.1h-2.6zM177 373.2h2.6v2.1h-2.6zM184.5 373.2h2.6v2.1h-2.6zM189.5 373.2h2.6v2.1h-2.6zM192 373.2h2.6v2.1h-2.6zM174.5 375.2h2.6v2.1h-2.6zM184.5 375.2h2.6v2.1h-2.6zM189.5 375.2h2.6v2.1h-2.6zM177 377.2h2.6v2.1h-2.6zM187 377.2h2.6v2.1h-2.6zM184.5 379.3h2.6v2.1h-2.6zM189.5 379.3h2.6v2.1h-2.6zM187 381.3h2.6v2.1h-2.6zM192 381.3h2.6v2.1h-2.6zM169.5 383.3h2.6v2.1h-2.6zM174.5 383.3h2.6v2.1h-2.6zM177 383.3h2.6v2.1h-2.6zM189.5 383.3h2.6v2.1h-2.6zM189.5 385.3h2.6v2.1h-2.6zM177 387.3h2.6v2.1h-2.6zM189.5 387.3h2.6v2.1h-2.6zM216.5 355h2.6v2.1h-2.6zM213.9 361.1h2.6v2.1h-2.6zM213.9 373.2h2.6v2.1h-2.6zM213.9 375.2h2.6v2.1h-2.6zM213.9 377.2h2.6v2.1h-2.6zM213.9 381.3h2.6v2.1h-2.6zM216.5 381.3h2.6v2.1h-2.6zM213.9 383.3h2.6v2.1h-2.6zM216.5 385.3h2.6v2.1h-2.6zM216.5 399.5h2.6v2.1h-2.6zM157.3 407.2h2.6v2.1h-2.6zM162.3 407.2h2.6v2.1h-2.6zM162.3 409.2h2.6v2.1h-2.6zM157.3 421.5h2.6v2.1h-2.6zM157.3 433.8h2.6v2.1h-2.6zM157.3 446h2.6v2.1h-2.6zM162.3 446h2.6v2.1h-2.6zM162.3 448.1h2.6v2.1h-2.6zM157.3 450.1h2.6v2.1h-2.6zM162.3 452.1h2.6v2.1h-2.6zM157.3 456.2h2.6v2.1h-2.6zM162.3 458.3h2.6v2.1h-2.6zM174.5 407.2h2.6v2.1h-2.6zM179.5 409.2h2.6v2.1h-2.6zM174.5 415.4h2.6v2.1h-2.6zM177 415.4h2.6v2.1h-2.6zM192 415.4h2.6v2.1h-2.6zM174.5 417.4h2.6v2.1h-2.6zM179.5 417.4h2.6v2.1h-2.6zM189.5 417.4h2.6v2.1h-2.6zM179.5 419.5h2.6v2.1h-2.6zM179.5 421.5h2.6v2.1h-2.6zM177 423.5h2.6v2.1h-2.6zM177 425.6h2.6v2.1h-2.6zM177 431.7h2.6v2.1h-2.6zM177 435.8h2.6v2.1h-2.6zM192 435.8h2.6v2.1h-2.6zM174.5 437.8h2.6v2.1h-2.6zM179.5 439.9h2.6v2.1h-2.6zM177 444h2.6v2.1h-2.6zM174.5 450.1h2.6v2.1h-2.6zM192 452.1h2.6v2.1h-2.6zM177 458.3h2.6v2.1h-2.6zM174.5 460.3h2.6v2.1h-2.6z" fill="#ff6214"/><path d="M159.8 334.8h2.6v2.1h-2.6zM162.3 334.8h2.6v2.1h-2.6zM159.8 336.8h2.6v2.1h-2.6zM159.8 338.8h2.6v2.1h-2.6zM149.8 340.9h2.6v2.1h-2.6zM162.3 340.9h2.6v2.1h-2.6zM157.3 342.9h2.6v2.1h-2.6zM149.8 346.9h2.6v2.1h-2.6zM159.8 391.4h2.6v2.1h-2.6zM162.3 391.4h2.6v2.1h-2.6zM159.8 393.4h2.6v2.1h-2.6zM142.3 397.4h2.6v2.1h-2.6zM159.8 397.4h2.6v2.1h-2.6zM162.3 397.4h2.6v2.1h-2.6zM149.8 401.5h2.6v2.1h-2.6zM154.8 401.5h2.6v2.1h-2.6zM169.5 334.8h2.6v2.1h-2.6zM174.5 334.8h2.6v2.1h-2.6zM172 336.8h2.6v2.1h-2.6zM172 340.9h2.6v2.1h-2.6zM179.5 340.9h2.6v2.1h-2.6zM192 342.9h2.6v2.1h-2.6zM169.5 344.9h2.6v2.1h-2.6zM172 344.9h2.6v2.1h-2.6zM179.5 344.9h2.6v2.1h-2.6zM172 346.9h2.6v2.1h-2.6zM177 391.4h2.6v2.1h-2.6zM179.5 391.4h2.6v2.1h-2.6zM172 393.4h2.6v2.1h-2.6zM174.5 393.4h2.6v2.1h-2.6zM179.5 393.4h2.6v2.1h-2.6zM187 393.4h2.6v2.1h-2.6zM189.5 393.4h2.6v2.1h-2.6zM172 397.4h2.6v2.1h-2.6zM174.5 397.4h2.6v2.1h-2.6zM169.5 399.5h2.6v2.1h-2.6zM174.5 399.5h2.6v2.1h-2.6zM179.5 399.5h2.6v2.1h-2.6zM174.5 401.5h2.6v2.1h-2.6zM177 401.5h2.6v2.1h-2.6zM184.5 401.5h2.6v2.1h-2.6zM187 401.5h2.6v2.1h-2.6zM189.5 401.5h2.6v2.1h-2.6zM201.3 334.8h2.6v2.1h-2.6zM206.4 334.8h2.6v2.1h-2.6zM208.9 334.8h2.6v2.1h-2.6zM219 334.8h2.6v2.1h-2.6zM211.4 336.8h2.6v2.1h-2.6zM211.4 338.8h2.6v2.1h-2.6zM219 338.8h2.6v2.1h-2.6zM203.9 344.9h2.6v2.1h-2.6zM206.4 344.9h2.6v2.1h-2.6zM219 344.9h2.6v2.1h-2.6zM196.3 346.9h2.6v2.1h-2.6zM203.9 346.9h2.6v2.1h-2.6zM206.4 346.9h2.6v2.1h-2.6zM208.9 346.9h2.6v2.1h-2.6zM203.9 348.9h2.6v2.1h-2.6zM206.4 348.9h2.6v2.1h-2.6zM206.4 351h2.6v2.1h-2.6zM211.4 351h2.6v2.1h-2.6zM211.4 353h2.6v2.1h-2.6zM206.4 357h2.6v2.1h-2.6zM211.4 357h2.6v2.1h-2.6zM219 357h2.6v2.1h-2.6zM208.9 359h2.6v2.1h-2.6zM211.4 359h2.6v2.1h-2.6zM219 359h2.6v2.1h-2.6zM196.3 363.1h2.6v2.1h-2.6zM219 363.1h2.6v2.1h-2.6zM219 371.2h2.6v2.1h-2.6zM206.4 373.2h2.6v2.1h-2.6zM219 373.2h2.6v2.1h-2.6zM219 377.2h2.6v2.1h-2.6zM206.4 381.3h2.6v2.1h-2.6zM203.9 383.3h2.6v2.1h-2.6zM219 387.3h2.6v2.1h-2.6zM203.9 391.4h2.6v2.1h-2.6zM206.4 393.4h2.6v2.1h-2.6zM196.3 399.5h2.6v2.1h-2.6zM198.8 399.5h2.6v2.1h-2.6zM206.4 399.5h2.6v2.1h-2.6zM211.4 399.5h2.6v2.1h-2.6zM206.4 401.5h2.6v2.1h-2.6zM208.9 401.5h2.6v2.1h-2.6zM192 407.2h2.6v2.1h-2.6zM189.5 409.2h2.6v2.1h-2.6zM192 409.2h2.6v2.1h-2.6zM189.5 415.4h2.6v2.1h-2.6zM189.5 423.5h2.6v2.1h-2.6zM189.5 425.6h2.6v2.1h-2.6zM192 431.7h2.6v2.1h-2.6zM192 433.8h2.6v2.1h-2.6zM184.5 437.8h2.6v2.1h-2.6zM189.5 437.8h2.6v2.1h-2.6zM184.5 444h2.6v2.1h-2.6zM184.5 446h2.6v2.1h-2.6zM169.5 454.2h2.6v2.1h-2.6zM184.5 454.2h2.6v2.1h-2.6zM189.5 454.2h2.6v2.1h-2.6zM189.5 460.3h2.6v2.1h-2.6z" fill="#eb1414"/><path d="M142.3 336.8h2.6v2.1h-2.6zM149.8 336.8h2.6v2.1h-2.6zM154.8 338.8h2.6v2.1h-2.6zM164.8 342.9h2.6v2.1h-2.6zM154.8 397.4h2.6v2.1h-2.6zM149.8 399.5h2.6v2.1h-2.6zM154.8 399.5h2.6v2.1h-2.6zM159.8 399.5h2.6v2.1h-2.6zM162.3 399.5h2.6v2.1h-2.6zM162.3 401.5h2.6v2.1h-2.6zM182 334.8h2.6v2.1h-2.6zM169.5 336.8h2.6v2.1h-2.6zM174.5 336.8h2.6v2.1h-2.6zM182 336.8h2.6v2.1h-2.6zM187 336.8h2.6v2.1h-2.6zM169.5 338.8h2.6v2.1h-2.6zM184.5 338.8h2.6v2.1h-2.6zM189.5 338.8h2.6v2.1h-2.6zM174.5 340.9h2.6v2.1h-2.6zM177 340.9h2.6v2.1h-2.6zM182 340.9h2.6v2.1h-2.6zM187 340.9h2.6v2.1h-2.6zM189.5 340.9h2.6v2.1h-2.6zM177 344.9h2.6v2.1h-2.6zM182 344.9h2.6v2.1h-2.6zM169.5 346.9h2.6v2.1h-2.6zM174.5 346.9h2.6v2.1h-2.6zM177 346.9h2.6v2.1h-2.6zM182 346.9h2.6v2.1h-2.6zM184.5 346.9h2.6v2.1h-2.6zM192 346.9h2.6v2.1h-2.6zM172 348.9h2.6v2.1h-2.6zM179.5 348.9h2.6v2.1h-2.6zM172 351h2.6v2.1h-2.6zM182 351h2.6v2.1h-2.6zM172 353h2.6v2.1h-2.6zM179.5 353h2.6v2.1h-2.6zM182 353h2.6v2.1h-2.6zM169.5 355h2.6v2.1h-2.6zM172 355h2.6v2.1h-2.6zM179.5 355h2.6v2.1h-2.6zM182 357h2.6v2.1h-2.6zM182 359h2.6v2.1h-2.6zM174.5 361.1h2.6v2.1h-2.6zM179.5 371.2h2.6v2.1h-2.6zM179.5 373.2h2.6v2.1h-2.6zM172 377.2h2.6v2.1h-2.6zM174.5 377.2h2.6v2.1h-2.6zM182 377.2h2.6v2.1h-2.6zM179.5 381.3h2.6v2.1h-2.6zM169.5 385.3h2.6v2.1h-2.6zM172 385.3h2.6v2.1h-2.6zM174.5 385.3h2.6v2.1h-2.6zM182 385.3h2.6v2.1h-2.6zM179.5 387.3h2.6v2.1h-2.6zM184.5 391.4h2.6v2.1h-2.6zM189.5 391.4h2.6v2.1h-2.6zM169.5 393.4h2.6v2.1h-2.6zM177 393.4h2.6v2.1h-2.6zM184.5 393.4h2.6v2.1h-2.6zM177 399.5h2.6v2.1h-2.6zM213.9 334.8h2.6v2.1h-2.6zM216.5 334.8h2.6v2.1h-2.6zM196.3 336.8h2.6v2.1h-2.6zM208.9 336.8h2.6v2.1h-2.6zM213.9 336.8h2.6v2.1h-2.6zM198.8 338.8h2.6v2.1h-2.6zM201.3 338.8h2.6v2.1h-2.6zM213.9 338.8h2.6v2.1h-2.6zM216.5 340.9h2.6v2.1h-2.6zM201.3 344.9h2.6v2.1h-2.6zM201.3 346.9h2.6v2.1h-2.6zM211.4 346.9h2.6v2.1h-2.6zM213.9 348.9h2.6v2.1h-2.6zM196.3 351h2.6v2.1h-2.6zM201.3 353h2.6v2.1h-2.6zM208.9 353h2.6v2.1h-2.6zM213.9 353h2.6v2.1h-2.6zM208.9 355h2.6v2.1h-2.6zM198.8 357h2.6v2.1h-2.6zM201.3 357h2.6v2.1h-2.6zM216.5 357h2.6v2.1h-2.6zM216.5 359h2.6v2.1h-2.6zM201.3 361.1h2.6v2.1h-2.6zM208.9 361.1h2.6v2.1h-2.6zM203.9 363.1h2.6v2.1h-2.6zM213.9 363.1h2.6v2.1h-2.6zM211.4 365.1h2.6v2.1h-2.6zM213.9 365.1h2.6v2.1h-2.6zM201.3 371.2h2.6v2.1h-2.6zM206.4 371.2h2.6v2.1h-2.6zM198.8 373.2h2.6v2.1h-2.6zM208.9 373.2h2.6v2.1h-2.6zM196.3 375.2h2.6v2.1h-2.6zM201.3 375.2h2.6v2.1h-2.6zM206.4 375.2h2.6v2.1h-2.6zM196.3 377.2h2.6v2.1h-2.6zM198.8 377.2h2.6v2.1h-2.6zM203.9 377.2h2.6v2.1h-2.6zM208.9 377.2h2.6v2.1h-2.6zM206.4 379.3h2.6v2.1h-2.6zM211.4 379.3h2.6v2.1h-2.6zM219 379.3h2.6v2.1h-2.6zM201.3 381.3h2.6v2.1h-2.6zM196.3 383.3h2.6v2.1h-2.6zM198.8 383.3h2.6v2.1h-2.6zM206.4 383.3h2.6v2.1h-2.6zM211.4 383.3h2.6v2.1h-2.6zM219 383.3h2.6v2.1h-2.6zM201.3 385.3h2.6v2.1h-2.6zM208.9 387.3h2.6v2.1h-2.6zM196.3 391.4h2.6v2.1h-2.6zM201.3 391.4h2.6v2.1h-2.6zM211.4 391.4h2.6v2.1h-2.6zM203.9 393.4h2.6v2.1h-2.6zM208.9 393.4h2.6v2.1h-2.6zM196.3 397.4h2.6v2.1h-2.6zM198.8 397.4h2.6v2.1h-2.6zM208.9 397.4h2.6v2.1h-2.6zM211.4 397.4h2.6v2.1h-2.6zM213.9 397.4h2.6v2.1h-2.6zM201.3 399.5h2.6v2.1h-2.6zM196.3 401.5h2.6v2.1h-2.6zM201.3 401.5h2.6v2.1h-2.6zM211.4 401.5h2.6v2.1h-2.6zM216.5 401.5h2.6v2.1h-2.6zM157.3 411.3h2.6v2.1h-2.6zM157.3 437.8h2.6v2.1h-2.6zM157.3 441.9h2.6v2.1h-2.6zM189.5 411.3h2.6v2.1h-2.6zM177 413.3h2.6v2.1h-2.6zM179.5 413.3h2.6v2.1h-2.6zM184.5 413.3h2.6v2.1h-2.6zM184.5 415.4h2.6v2.1h-2.6zM192 417.4h2.6v2.1h-2.6zM184.5 421.5h2.6v2.1h-2.6zM189.5 421.5h2.6v2.1h-2.6zM179.5 427.6h2.6v2.1h-2.6zM192 427.6h2.6v2.1h-2.6zM192 429.7h2.6v2.1h-2.6zM177 439.9h2.6v2.1h-2.6zM177 441.9h2.6v2.1h-2.6zM184.5 448.1h2.6v2.1h-2.6zM192 460.3h2.6v2.1h-2.6zM177 462.4h2.6v2.1h-2.6zM179.5 462.4h2.6v2.1h-2.6zM189.5 462.4h2.6v2.1h-2.6z" fill="#ff2714"/><path d="M144.8 336.8h2.6v2.1h-2.6zM142.3 348.9h2.6v2.1h-2.6zM149.8 348.9h2.6v2.1h-2.6zM159.8 348.9h2.6v2.1h-2.6zM162.3 348.9h2.6v2.1h-2.6zM142.3 353h2.6v2.1h-2.6zM142.3 355h2.6v2.1h-2.6zM149.8 357h2.6v2.1h-2.6zM149.8 359h2.6v2.1h-2.6zM162.3 359h2.6v2.1h-2.6zM142.3 361.1h2.6v2.1h-2.6zM154.8 363.1h2.6v2.1h-2.6zM154.8 365.1h2.6v2.1h-2.6zM162.3 373.2h2.6v2.1h-2.6zM154.8 377.2h2.6v2.1h-2.6zM164.8 391.4h2.6v2.1h-2.6zM144.8 399.5h2.6v2.1h-2.6zM157.3 399.5h2.6v2.1h-2.6zM144.8 401.5h2.6v2.1h-2.6zM157.3 401.5h2.6v2.1h-2.6zM187 361.1h2.6v2.1h-2.6zM192 375.2h2.6v2.1h-2.6zM192 377.2h2.6v2.1h-2.6zM187 379.3h2.6v2.1h-2.6zM192 379.3h2.6v2.1h-2.6zM184.5 383.3h2.6v2.1h-2.6zM216.5 373.2h2.6v2.1h-2.6zM216.5 375.2h2.6v2.1h-2.6zM216.5 377.2h2.6v2.1h-2.6zM213.9 385.3h2.6v2.1h-2.6zM206.4 389.4h2.6v2.1h-2.6zM206.4 395.4h2.6v2.1h-2.6zM219 395.4h2.6v2.1h-2.6zM157.3 409.2h2.6v2.1h-2.6zM162.3 413.3h2.6v2.1h-2.6zM157.3 415.4h2.6v2.1h-2.6zM157.3 429.7h2.6v2.1h-2.6zM157.3 431.7h2.6v2.1h-2.6zM162.3 431.7h2.6v2.1h-2.6zM164.8 431.7h2.6v2.1h-2.6zM162.3 437.8h2.6v2.1h-2.6zM162.3 439.9h2.6v2.1h-2.6zM162.3 444h2.6v2.1h-2.6zM162.3 450.1h2.6v2.1h-2.6zM162.3 462.4h2.6v2.1h-2.6zM177 417.4h2.6v2.1h-2.6zM174.5 421.5h2.6v2.1h-2.6zM177 421.5h2.6v2.1h-2.6zM179.5 423.5h2.6v2.1h-2.6zM174.5 431.7h2.6v2.1h-2.6zM177 433.8h2.6v2.1h-2.6zM172 435.8h2.6v2.1h-2.6zM172 444h2.6v2.1h-2.6zM177 448.1h2.6v2.1h-2.6zM179.5 450.1h2.6v2.1h-2.6zM179.5 452.1h2.6v2.1h-2.6zM177 454.2h2.6v2.1h-2.6zM177 460.3h2.6v2.1h-2.6zM179.5 460.3h2.6v2.1h-2.6zM174.5 462.4h2.6v2.1h-2.6z" fill="#ff7614"/><path d="M144.8 340.9h2.6v2.1h-2.6zM152.3 342.9h2.6v2.1h-2.6zM157.3 344.9h2.6v2.1h-2.6zM162.3 363.1h2.6v2.1h-2.6zM149.8 371.2h2.6v2.1h-2.6zM159.8 371.2h2.6v2.1h-2.6zM162.3 371.2h2.6v2.1h-2.6zM149.8 373.2h2.6v2.1h-2.6zM142.3 375.2h2.6v2.1h-2.6zM149.8 375.2h2.6v2.1h-2.6zM154.8 375.2h2.6v2.1h-2.6zM162.3 375.2h2.6v2.1h-2.6zM162.3 377.2h2.6v2.1h-2.6zM142.3 381.3h2.6v2.1h-2.6zM149.8 381.3h2.6v2.1h-2.6zM149.8 383.3h2.6v2.1h-2.6zM154.8 383.3h2.6v2.1h-2.6zM149.8 385.3h2.6v2.1h-2.6zM159.8 385.3h2.6v2.1h-2.6zM149.8 387.3h2.6v2.1h-2.6zM159.8 387.3h2.6v2.1h-2.6zM157.3 391.4h2.6v2.1h-2.6zM177 334.8h2.6v2.1h-2.6zM184.5 334.8h2.6v2.1h-2.6zM187 334.8h2.6v2.1h-2.6zM189.5 334.8h2.6v2.1h-2.6zM192 334.8h2.6v2.1h-2.6zM177 336.8h2.6v2.1h-2.6zM184.5 336.8h2.6v2.1h-2.6zM189.5 336.8h2.6v2.1h-2.6zM177 338.8h2.6v2.1h-2.6zM184.5 344.9h2.6v2.1h-2.6zM169.5 348.9h2.6v2.1h-2.6zM174.5 348.9h2.6v2.1h-2.6zM182 348.9h2.6v2.1h-2.6zM189.5 348.9h2.6v2.1h-2.6zM174.5 351h2.6v2.1h-2.6zM187 351h2.6v2.1h-2.6zM184.5 353h2.6v2.1h-2.6zM189.5 353h2.6v2.1h-2.6zM182 355h2.6v2.1h-2.6zM169.5 357h2.6v2.1h-2.6zM179.5 357h2.6v2.1h-2.6zM169.5 359h2.6v2.1h-2.6zM172 359h2.6v2.1h-2.6zM184.5 359h2.6v2.1h-2.6zM172 361.1h2.6v2.1h-2.6zM179.5 361.1h2.6v2.1h-2.6zM172 363.1h2.6v2.1h-2.6zM174.5 363.1h2.6v2.1h-2.6zM177 363.1h2.6v2.1h-2.6zM179.5 363.1h2.6v2.1h-2.6zM187 363.1h2.6v2.1h-2.6zM189.5 363.1h2.6v2.1h-2.6zM174.5 365.1h2.6v2.1h-2.6zM177 365.1h2.6v2.1h-2.6zM179.5 365.1h2.6v2.1h-2.6zM182 365.1h2.6v2.1h-2.6zM189.5 365.1h2.6v2.1h-2.6zM182 371.2h2.6v2.1h-2.6zM182 373.2h2.6v2.1h-2.6zM187 375.2h2.6v2.1h-2.6zM169.5 377.2h2.6v2.1h-2.6zM169.5 379.3h2.6v2.1h-2.6zM177 379.3h2.6v2.1h-2.6zM179.5 379.3h2.6v2.1h-2.6zM182 379.3h2.6v2.1h-2.6zM177 381.3h2.6v2.1h-2.6zM187 383.3h2.6v2.1h-2.6zM172 387.3h2.6v2.1h-2.6zM182 387.3h2.6v2.1h-2.6zM184.5 387.3h2.6v2.1h-2.6zM187 391.4h2.6v2.1h-2.6zM192 391.4h2.6v2.1h-2.6zM184.5 397.4h2.6v2.1h-2.6zM187 399.5h2.6v2.1h-2.6zM192 401.5h2.6v2.1h-2.6zM216.5 336.8h2.6v2.1h-2.6zM216.5 338.8h2.6v2.1h-2.6zM213.9 340.9h2.6v2.1h-2.6zM213.9 344.9h2.6v2.1h-2.6zM213.9 346.9h2.6v2.1h-2.6zM201.3 348.9h2.6v2.1h-2.6zM201.3 351h2.6v2.1h-2.6zM213.9 351h2.6v2.1h-2.6zM216.5 351h2.6v2.1h-2.6zM216.5 353h2.6v2.1h-2.6zM213.9 357h2.6v2.1h-2.6zM201.3 359h2.6v2.1h-2.6zM216.5 361.1h2.6v2.1h-2.6zM201.3 363.1h2.6v2.1h-2.6zM201.3 365.1h2.6v2.1h-2.6zM216.5 365.1h2.6v2.1h-2.6zM211.4 371.2h2.6v2.1h-2.6zM213.9 371.2h2.6v2.1h-2.6zM216.5 371.2h2.6v2.1h-2.6zM201.3 373.2h2.6v2.1h-2.6zM203.9 373.2h2.6v2.1h-2.6zM198.8 375.2h2.6v2.1h-2.6zM211.4 375.2h2.6v2.1h-2.6zM211.4 377.2h2.6v2.1h-2.6zM196.3 379.3h2.6v2.1h-2.6zM203.9 379.3h2.6v2.1h-2.6zM213.9 379.3h2.6v2.1h-2.6zM196.3 381.3h2.6v2.1h-2.6zM198.8 381.3h2.6v2.1h-2.6zM201.3 383.3h2.6v2.1h-2.6zM198.8 385.3h2.6v2.1h-2.6zM208.9 385.3h2.6v2.1h-2.6zM211.4 385.3h2.6v2.1h-2.6zM211.4 387.3h2.6v2.1h-2.6zM213.9 387.3h2.6v2.1h-2.6zM213.9 391.4h2.6v2.1h-2.6zM196.3 393.4h2.6v2.1h-2.6zM201.3 393.4h2.6v2.1h-2.6zM216.5 393.4h2.6v2.1h-2.6zM216.5 397.4h2.6v2.1h-2.6zM213.9 399.5h2.6v2.1h-2.6zM162.3 411.3h2.6v2.1h-2.6zM157.3 448.1h2.6v2.1h-2.6zM157.3 454.2h2.6v2.1h-2.6zM157.3 458.3h2.6v2.1h-2.6zM179.5 407.2h2.6v2.1h-2.6zM189.5 407.2h2.6v2.1h-2.6zM179.5 411.3h2.6v2.1h-2.6zM189.5 413.3h2.6v2.1h-2.6zM192 413.3h2.6v2.1h-2.6zM184.5 419.5h2.6v2.1h-2.6zM192 423.5h2.6v2.1h-2.6zM184.5 427.6h2.6v2.1h-2.6zM179.5 431.7h2.6v2.1h-2.6zM189.5 433.8h2.6v2.1h-2.6zM179.5 441.9h2.6v2.1h-2.6zM192 441.9h2.6v2.1h-2.6zM192 446h2.6v2.1h-2.6zM189.5 450.1h2.6v2.1h-2.6zM189.5 452.1h2.6v2.1h-2.6zM177 456.2h2.6v2.1h-2.6zM189.5 458.3h2.6v2.1h-2.6zM192 462.4h2.6v2.1h-2.6z" fill="#ff3b14"/><path d="M142.3 342.9h2.6v2.1h-2.6zM154.8 342.9h2.6v2.1h-2.6zM159.8 342.9h2.6v2.1h-2.6zM162.3 342.9h2.6v2.1h-2.6zM172 342.9h2.6v2.1h-2.6zM179.5 342.9h2.6v2.1h-2.6zM203.9 342.9h2.6v2.1h-2.6zM206.4 342.9h2.6v2.1h-2.6zM211.4 342.9h2.6v2.1h-2.6zM169.5 409.2h2.6v2.1h-2.6zM169.5 417.4h2.6v2.1h-2.6zM169.5 427.6h2.6v2.1h-2.6zM169.5 429.7h2.6v2.1h-2.6zM169.5 433.8h2.6v2.1h-2.6zM169.5 435.8h2.6v2.1h-2.6zM169.5 441.9h2.6v2.1h-2.6zM169.5 450.1h2.6v2.1h-2.6zM169.5 460.3h2.6v2.1h-2.6zM169.5 462.4h2.6v2.1h-2.6z" fill="#891414"/><path d="M144.8 342.9h2.6v2.1h-2.6zM154.8 391.4h2.6v2.1h-2.6zM184.5 342.9h2.6v2.1h-2.6zM172 391.4h2.6v2.1h-2.6zM179.5 397.4h2.6v2.1h-2.6zM172 401.5h2.6v2.1h-2.6zM179.5 401.5h2.6v2.1h-2.6zM206.4 338.8h2.6v2.1h-2.6zM206.4 340.9h2.6v2.1h-2.6zM196.3 342.9h2.6v2.1h-2.6zM201.3 342.9h2.6v2.1h-2.6zM213.9 342.9h2.6v2.1h-2.6zM216.5 342.9h2.6v2.1h-2.6zM169.5 419.5h2.6v2.1h-2.6zM169.5 421.5h2.6v2.1h-2.6zM169.5 431.7h2.6v2.1h-2.6zM169.5 437.8h2.6v2.1h-2.6zM184.5 439.9h2.6v2.1h-2.6zM184.5 441.9h2.6v2.1h-2.6zM169.5 446h2.6v2.1h-2.6zM184.5 452.1h2.6v2.1h-2.6zM169.5 456.2h2.6v2.1h-2.6zM189.5 456.2h2.6v2.1h-2.6zM169.5 458.3h2.6v2.1h-2.6zM184.5 458.3h2.6v2.1h-2.6zM184.5 460.3h2.6v2.1h-2.6z" fill="#c41414"/><path d="M149.8 342.9h2.6v2.1h-2.6zM169.5 342.9h2.6v2.1h-2.6zM189.5 342.9h2.6v2.1h-2.6zM198.8 342.9h2.6v2.1h-2.6zM208.9 342.9h2.6v2.1h-2.6zM219 342.9h2.6v2.1h-2.6zM169.5 411.3h2.6v2.1h-2.6zM184.5 435.8h2.6v2.1h-2.6zM169.5 444h2.6v2.1h-2.6z" fill="#9d1414"/><path d="M152.3 344.9h2.6v2.1h-2.6zM144.8 351h2.6v2.1h-2.6zM157.3 351h2.6v2.1h-2.6zM144.8 357h2.6v2.1h-2.6zM157.3 359h2.6v2.1h-2.6zM157.3 361.1h2.6v2.1h-2.6zM144.8 365.1h2.6v2.1h-2.6zM144.8 371.2h2.6v2.1h-2.6zM157.3 371.2h2.6v2.1h-2.6zM144.8 375.2h2.6v2.1h-2.6zM157.3 375.2h2.6v2.1h-2.6zM157.3 377.2h2.6v2.1h-2.6zM157.3 385.3h2.6v2.1h-2.6zM144.8 387.3h2.6v2.1h-2.6zM157.3 387.3h2.6v2.1h-2.6zM147.3 393.4h2.6v2.1h-2.6zM152.3 397.4h2.6v2.1h-2.6zM152.3 399.5h2.6v2.1h-2.6zM164.8 401.5h2.6v2.1h-2.6zM172 389.4h2.6v2.1h-2.6zM201.3 395.4h2.6v2.1h-2.6zM213.9 395.4h2.6v2.1h-2.6zM216.5 395.4h2.6v2.1h-2.6zM154.8 409.2h2.6v2.1h-2.6zM159.8 411.3h2.6v2.1h-2.6zM164.8 413.3h2.6v2.1h-2.6zM162.3 415.4h2.6v2.1h-2.6zM164.8 415.4h2.6v2.1h-2.6zM154.8 417.4h2.6v2.1h-2.6zM159.8 423.5h2.6v2.1h-2.6zM164.8 423.5h2.6v2.1h-2.6zM159.8 425.6h2.6v2.1h-2.6zM162.3 427.6h2.6v2.1h-2.6zM162.3 435.8h2.6v2.1h-2.6zM159.8 439.9h2.6v2.1h-2.6zM154.8 441.9h2.6v2.1h-2.6zM164.8 441.9h2.6v2.1h-2.6zM154.8 450.1h2.6v2.1h-2.6zM164.8 450.1h2.6v2.1h-2.6zM159.8 452.1h2.6v2.1h-2.6zM159.8 454.2h2.6v2.1h-2.6zM159.8 458.3h2.6v2.1h-2.6zM182 409.2h2.6v2.1h-2.6zM174.5 411.3h2.6v2.1h-2.6zM172 413.3h2.6v2.1h-2.6zM182 417.4h2.6v2.1h-2.6zM174.5 427.6h2.6v2.1h-2.6zM174.5 433.8h2.6v2.1h-2.6zM179.5 435.8h2.6v2.1h-2.6zM179.5 437.8h2.6v2.1h-2.6zM182 446h2.6v2.1h-2.6zM174.5 452.1h2.6v2.1h-2.6zM174.5 458.3h2.6v2.1h-2.6z" fill="#ffb014"/><path d="M147.3 348.9h2.6v2.1h-2.6zM164.8 348.9h2.6v2.1h-2.6zM147.3 353h2.6v2.1h-2.6zM152.3 353h2.6v2.1h-2.6zM164.8 357h2.6v2.1h-2.6zM164.8 361.1h2.6v2.1h-2.6zM147.3 365.1h2.6v2.1h-2.6zM164.8 365.1h2.6v2.1h-2.6zM152.3 371.2h2.6v2.1h-2.6zM164.8 375.2h2.6v2.1h-2.6zM164.8 381.3h2.6v2.1h-2.6zM164.8 383.3h2.6v2.1h-2.6zM147.3 387.3h2.6v2.1h-2.6zM164.8 387.3h2.6v2.1h-2.6zM149.8 389.4h2.6v2.1h-2.6zM162.3 389.4h2.6v2.1h-2.6zM169.5 389.4h2.6v2.1h-2.6zM187 389.4h2.6v2.1h-2.6zM189.5 389.4h2.6v2.1h-2.6zM179.5 395.4h2.6v2.1h-2.6zM159.8 407.2h2.6v2.1h-2.6zM164.8 407.2h2.6v2.1h-2.6zM164.8 411.3h2.6v2.1h-2.6zM159.8 415.4h2.6v2.1h-2.6zM159.8 417.4h2.6v2.1h-2.6zM164.8 419.5h2.6v2.1h-2.6zM159.8 437.8h2.6v2.1h-2.6zM164.8 437.8h2.6v2.1h-2.6zM154.8 454.2h2.6v2.1h-2.6zM154.8 456.2h2.6v2.1h-2.6zM159.8 456.2h2.6v2.1h-2.6zM154.8 460.3h2.6v2.1h-2.6zM172 407.2h2.6v2.1h-2.6zM187 407.2h2.6v2.1h-2.6zM187 409.2h2.6v2.1h-2.6zM172 411.3h2.6v2.1h-2.6zM182 421.5h2.6v2.1h-2.6zM172 425.6h2.6v2.1h-2.6zM182 429.7h2.6v2.1h-2.6zM187 433.8h2.6v2.1h-2.6zM187 435.8h2.6v2.1h-2.6zM174.5 439.9h2.6v2.1h-2.6zM174.5 441.9h2.6v2.1h-2.6zM174.5 446h2.6v2.1h-2.6zM174.5 448.1h2.6v2.1h-2.6zM182 454.2h2.6v2.1h-2.6zM174.5 456.2h2.6v2.1h-2.6zM187 456.2h2.6v2.1h-2.6zM182 458.3h2.6v2.1h-2.6zM172 460.3h2.6v2.1h-2.6z" fill="#ffd714"/><path d="M152.3 348.9h2.6v2.1h-2.6zM147.3 355h2.6v2.1h-2.6zM147.3 357h2.6v2.1h-2.6zM147.3 359h2.6v2.1h-2.6zM152.3 359h2.6v2.1h-2.6zM147.3 361.1h2.6v2.1h-2.6zM152.3 361.1h2.6v2.1h-2.6zM147.3 371.2h2.6v2.1h-2.6zM164.8 371.2h2.6v2.1h-2.6zM147.3 373.2h2.6v2.1h-2.6zM152.3 373.2h2.6v2.1h-2.6zM164.8 377.2h2.6v2.1h-2.6zM152.3 379.3h2.6v2.1h-2.6zM152.3 383.3h2.6v2.1h-2.6zM147.3 385.3h2.6v2.1h-2.6zM152.3 385.3h2.6v2.1h-2.6zM164.8 385.3h2.6v2.1h-2.6zM152.3 387.3h2.6v2.1h-2.6zM142.3 389.4h2.6v2.1h-2.6zM154.8 389.4h2.6v2.1h-2.6zM159.8 389.4h2.6v2.1h-2.6zM174.5 389.4h2.6v2.1h-2.6zM177 389.4h2.6v2.1h-2.6zM182 389.4h2.6v2.1h-2.6zM184.5 389.4h2.6v2.1h-2.6zM174.5 395.4h2.6v2.1h-2.6zM189.5 395.4h2.6v2.1h-2.6zM154.8 413.3h2.6v2.1h-2.6zM154.8 415.4h2.6v2.1h-2.6zM154.8 425.6h2.6v2.1h-2.6zM164.8 429.7h2.6v2.1h-2.6zM154.8 431.7h2.6v2.1h-2.6zM164.8 446h2.6v2.1h-2.6zM164.8 452.1h2.6v2.1h-2.6zM154.8 462.4h2.6v2.1h-2.6zM172 409.2h2.6v2.1h-2.6zM172 419.5h2.6v2.1h-2.6zM172 431.7h2.6v2.1h-2.6zM182 435.8h2.6v2.1h-2.6zM182 437.8h2.6v2.1h-2.6zM187 439.9h2.6v2.1h-2.6zM182 441.9h2.6v2.1h-2.6zM187 444h2.6v2.1h-2.6zM182 448.1h2.6v2.1h-2.6zM182 450.1h2.6v2.1h-2.6zM172 452.1h2.6v2.1h-2.6zM187 452.1h2.6v2.1h-2.6zM172 454.2h2.6v2.1h-2.6zM187 458.3h2.6v2.1h-2.6zM187 460.3h2.6v2.1h-2.6z" fill="#ffeb14"/><path d="M147.3 351h2.6v2.1h-2.6zM152.3 351h2.6v2.1h-2.6zM152.3 355h2.6v2.1h-2.6zM164.8 359h2.6v2.1h-2.6zM152.3 363.1h2.6v2.1h-2.6zM157.3 389.4h2.6v2.1h-2.6zM142.3 395.4h2.6v2.1h-2.6zM149.8 395.4h2.6v2.1h-2.6zM192 389.4h2.6v2.1h-2.6zM182 395.4h2.6v2.1h-2.6zM184.5 395.4h2.6v2.1h-2.6zM187 395.4h2.6v2.1h-2.6zM192 395.4h2.6v2.1h-2.6zM142.3 415.4h2.6v2.1h-2.6zM142.3 421.5h2.6v2.1h-2.6zM152.3 421.5h2.6v2.1h-2.6zM159.8 421.5h2.6v2.1h-2.6zM142.3 423.5h2.6v2.1h-2.6zM159.8 429.7h2.6v2.1h-2.6zM159.8 433.8h2.6v2.1h-2.6zM159.8 435.8h2.6v2.1h-2.6zM152.3 439.9h2.6v2.1h-2.6zM154.8 444h2.6v2.1h-2.6zM159.8 446h2.6v2.1h-2.6zM142.3 448.1h2.6v2.1h-2.6zM154.8 448.1h2.6v2.1h-2.6zM159.8 448.1h2.6v2.1h-2.6zM159.8 450.1h2.6v2.1h-2.6zM154.8 452.1h2.6v2.1h-2.6zM152.3 454.2h2.6v2.1h-2.6zM159.8 462.4h2.6v2.1h-2.6zM182 407.2h2.6v2.1h-2.6zM182 411.3h2.6v2.1h-2.6zM187 411.3h2.6v2.1h-2.6zM187 415.4h2.6v2.1h-2.6zM187 419.5h2.6v2.1h-2.6zM187 421.5h2.6v2.1h-2.6zM182 425.6h2.6v2.1h-2.6zM182 431.7h2.6v2.1h-2.6zM187 431.7h2.6v2.1h-2.6zM182 439.9h2.6v2.1h-2.6zM187 446h2.6v2.1h-2.6zM182 452.1h2.6v2.1h-2.6zM182 462.4h2.6v2.1h-2.6zM219 417.4h2.6v2.1h-2.6zM219 423.5h2.6v2.1h-2.6zM219 437.8h2.6v2.1h-2.6z" fill="#ebff27"/><path d="M164.8 351h2.6v2.1h-2.6zM164.8 353h2.6v2.1h-2.6zM164.8 355h2.6v2.1h-2.6zM152.3 357h2.6v2.1h-2.6zM147.3 363.1h2.6v2.1h-2.6zM164.8 363.1h2.6v2.1h-2.6zM152.3 365.1h2.6v2.1h-2.6zM164.8 373.2h2.6v2.1h-2.6zM147.3 375.2h2.6v2.1h-2.6zM152.3 375.2h2.6v2.1h-2.6zM147.3 377.2h2.6v2.1h-2.6zM147.3 379.3h2.6v2.1h-2.6zM164.8 379.3h2.6v2.1h-2.6zM147.3 383.3h2.6v2.1h-2.6zM169.5 395.4h2.6v2.1h-2.6zM172 395.4h2.6v2.1h-2.6zM177 395.4h2.6v2.1h-2.6zM142.3 407.2h2.6v2.1h-2.6zM142.3 411.3h2.6v2.1h-2.6zM152.3 411.3h2.6v2.1h-2.6zM154.8 411.3h2.6v2.1h-2.6zM154.8 419.5h2.6v2.1h-2.6zM154.8 421.5h2.6v2.1h-2.6zM142.3 427.6h2.6v2.1h-2.6zM154.8 427.6h2.6v2.1h-2.6zM142.3 429.7h2.6v2.1h-2.6zM154.8 429.7h2.6v2.1h-2.6zM142.3 431.7h2.6v2.1h-2.6zM154.8 435.8h2.6v2.1h-2.6zM154.8 439.9h2.6v2.1h-2.6zM164.8 444h2.6v2.1h-2.6zM164.8 448.1h2.6v2.1h-2.6zM142.3 454.2h2.6v2.1h-2.6zM187 417.4h2.6v2.1h-2.6zM182 419.5h2.6v2.1h-2.6zM187 425.6h2.6v2.1h-2.6zM187 427.6h2.6v2.1h-2.6zM187 429.7h2.6v2.1h-2.6zM182 444h2.6v2.1h-2.6zM187 448.1h2.6v2.1h-2.6zM187 454.2h2.6v2.1h-2.6zM182 456.2h2.6v2.1h-2.6zM219 415.4h2.6v2.1h-2.6zM219 435.8h2.6v2.1h-2.6zM219 460.3h2.6v2.1h-2.6z" fill="#ffff14"/><path d="M144.8 353h2.6v2.1h-2.6zM157.3 353h2.6v2.1h-2.6zM157.3 357h2.6v2.1h-2.6zM144.8 359h2.6v2.1h-2.6zM144.8 361.1h2.6v2.1h-2.6zM144.8 377.2h2.6v2.1h-2.6zM152.3 377.2h2.6v2.1h-2.6zM147.3 381.3h2.6v2.1h-2.6zM152.3 381.3h2.6v2.1h-2.6zM147.3 397.4h2.6v2.1h-2.6zM216.5 389.4h2.6v2.1h-2.6zM154.8 407.2h2.6v2.1h-2.6zM159.8 409.2h2.6v2.1h-2.6zM164.8 409.2h2.6v2.1h-2.6zM159.8 413.3h2.6v2.1h-2.6zM159.8 419.5h2.6v2.1h-2.6zM164.8 421.5h2.6v2.1h-2.6zM154.8 423.5h2.6v2.1h-2.6zM159.8 431.7h2.6v2.1h-2.6zM154.8 433.8h2.6v2.1h-2.6zM164.8 433.8h2.6v2.1h-2.6zM159.8 441.9h2.6v2.1h-2.6zM159.8 444h2.6v2.1h-2.6zM154.8 458.3h2.6v2.1h-2.6zM162.3 460.3h2.6v2.1h-2.6zM164.8 460.3h2.6v2.1h-2.6zM164.8 462.4h2.6v2.1h-2.6zM174.5 413.3h2.6v2.1h-2.6zM187 413.3h2.6v2.1h-2.6zM174.5 423.5h2.6v2.1h-2.6zM182 423.5h2.6v2.1h-2.6zM187 423.5h2.6v2.1h-2.6zM172 429.7h2.6v2.1h-2.6zM172 433.8h2.6v2.1h-2.6zM174.5 435.8h2.6v2.1h-2.6zM187 437.8h2.6v2.1h-2.6zM172 448.1h2.6v2.1h-2.6zM182 460.3h2.6v2.1h-2.6zM172 462.4h2.6v2.1h-2.6z" fill="#ffc414"/><path d="M142.3 367.1h2.6v2.1h-2.6zM159.8 367.1h2.6v2.1h-2.6zM162.3 367.1h2.6v2.1h-2.6zM142.3 369.1h2.6v2.1h-2.6zM149.8 369.1h2.6v2.1h-2.6zM159.8 369.1h2.6v2.1h-2.6zM162.3 369.1h2.6v2.1h-2.6zM147.3 395.4h2.6v2.1h-2.6zM164.8 395.4h2.6v2.1h-2.6zM149.8 417.4h2.6v2.1h-2.6zM149.8 429.7h2.6v2.1h-2.6zM149.8 456.2h2.6v2.1h-2.6zM216.5 409.2h2.6v2.1h-2.6zM196.3 413.3h2.6v2.1h-2.6zM216.5 413.3h2.6v2.1h-2.6zM216.5 417.4h2.6v2.1h-2.6zM198.8 419.5h2.6v2.1h-2.6zM196.3 421.5h2.6v2.1h-2.6zM196.3 425.6h2.6v2.1h-2.6zM206.4 425.6h2.6v2.1h-2.6zM211.4 425.6h2.6v2.1h-2.6zM211.4 433.8h2.6v2.1h-2.6zM208.9 435.8h2.6v2.1h-2.6zM208.9 437.8h2.6v2.1h-2.6zM196.3 439.9h2.6v2.1h-2.6zM198.8 441.9h2.6v2.1h-2.6zM206.4 441.9h2.6v2.1h-2.6zM211.4 441.9h2.6v2.1h-2.6zM198.8 444h2.6v2.1h-2.6zM198.8 446h2.6v2.1h-2.6zM216.5 446h2.6v2.1h-2.6zM196.3 448.1h2.6v2.1h-2.6zM198.8 448.1h2.6v2.1h-2.6zM211.4 450.1h2.6v2.1h-2.6zM198.8 456.2h2.6v2.1h-2.6zM198.8 458.3h2.6v2.1h-2.6zM211.4 458.3h2.6v2.1h-2.6zM211.4 460.3h2.6v2.1h-2.6z" fill="#3bffd7"/><path d="M144.8 367.1h2.6v2.1h-2.6zM179.5 367.1h2.6v2.1h-2.6zM208.9 411.3h2.6v2.1h-2.6zM208.9 413.3h2.6v2.1h-2.6zM213.9 417.4h2.6v2.1h-2.6zM213.9 419.5h2.6v2.1h-2.6zM206.4 427.6h2.6v2.1h-2.6zM211.4 429.7h2.6v2.1h-2.6zM201.3 435.8h2.6v2.1h-2.6zM211.4 439.9h2.6v2.1h-2.6zM201.3 441.9h2.6v2.1h-2.6zM206.4 446h2.6v2.1h-2.6zM201.3 452.1h2.6v2.1h-2.6zM208.9 454.2h2.6v2.1h-2.6zM213.9 456.2h2.6v2.1h-2.6zM213.9 462.4h2.6v2.1h-2.6z" fill="#14ebff"/><path d="M147.3 367.1h2.6v2.1h-2.6zM152.3 367.1h2.6v2.1h-2.6zM187 367.1h2.6v2.1h-2.6zM189.5 367.1h2.6v2.1h-2.6zM169.5 369.1h2.6v2.1h-2.6zM189.5 369.1h2.6v2.1h-2.6zM147.3 427.6h2.6v2.1h-2.6zM147.3 456.2h2.6v2.1h-2.6zM147.3 458.3h2.6v2.1h-2.6zM206.4 409.2h2.6v2.1h-2.6zM213.9 413.3h2.6v2.1h-2.6zM201.3 423.5h2.6v2.1h-2.6zM203.9 427.6h2.6v2.1h-2.6zM213.9 429.7h2.6v2.1h-2.6zM213.9 435.8h2.6v2.1h-2.6zM213.9 437.8h2.6v2.1h-2.6zM201.3 439.9h2.6v2.1h-2.6zM206.4 439.9h2.6v2.1h-2.6zM203.9 452.1h2.6v2.1h-2.6zM213.9 452.1h2.6v2.1h-2.6zM203.9 454.2h2.6v2.1h-2.6zM201.3 458.3h2.6v2.1h-2.6zM206.4 458.3h2.6v2.1h-2.6zM203.9 462.4h2.6v2.1h-2.6zM206.4 462.4h2.6v2.1h-2.6z" fill="#14b0ff"/><path d="M149.8 367.1h2.6v2.1h-2.6zM154.8 367.1h2.6v2.1h-2.6zM154.8 369.1h2.6v2.1h-2.6zM144.8 407.2h2.6v2.1h-2.6zM149.8 413.3h2.6v2.1h-2.6zM149.8 427.6h2.6v2.1h-2.6zM144.8 433.8h2.6v2.1h-2.6zM149.8 433.8h2.6v2.1h-2.6zM149.8 435.8h2.6v2.1h-2.6zM144.8 437.8h2.6v2.1h-2.6zM149.8 437.8h2.6v2.1h-2.6zM149.8 439.9h2.6v2.1h-2.6zM144.8 448.1h2.6v2.1h-2.6zM144.8 456.2h2.6v2.1h-2.6zM144.8 458.3h2.6v2.1h-2.6zM149.8 460.3h2.6v2.1h-2.6zM149.8 462.4h2.6v2.1h-2.6zM211.4 411.3h2.6v2.1h-2.6zM211.4 413.3h2.6v2.1h-2.6zM196.3 415.4h2.6v2.1h-2.6zM198.8 417.4h2.6v2.1h-2.6zM211.4 419.5h2.6v2.1h-2.6zM211.4 421.5h2.6v2.1h-2.6zM216.5 421.5h2.6v2.1h-2.6zM198.8 427.6h2.6v2.1h-2.6zM208.9 431.7h2.6v2.1h-2.6zM211.4 444h2.6v2.1h-2.6zM216.5 444h2.6v2.1h-2.6zM208.9 446h2.6v2.1h-2.6zM211.4 448.1h2.6v2.1h-2.6zM196.3 452.1h2.6v2.1h-2.6zM211.4 454.2h2.6v2.1h-2.6zM216.5 456.2h2.6v2.1h-2.6zM196.3 460.3h2.6v2.1h-2.6zM216.5 460.3h2.6v2.1h-2.6zM208.9 462.4h2.6v2.1h-2.6z" fill="#4fffc4"/><path d="M157.3 367.1h2.6v2.1h-2.6zM157.3 369.1h2.6v2.1h-2.6zM169.5 367.1h2.6v2.1h-2.6zM179.5 369.1h2.6v2.1h-2.6zM182 369.1h2.6v2.1h-2.6zM187 369.1h2.6v2.1h-2.6zM149.8 409.2h2.6v2.1h-2.6zM147.3 411.3h2.6v2.1h-2.6zM149.8 415.4h2.6v2.1h-2.6zM147.3 417.4h2.6v2.1h-2.6zM147.3 431.7h2.6v2.1h-2.6zM149.8 446h2.6v2.1h-2.6zM149.8 450.1h2.6v2.1h-2.6zM201.3 409.2h2.6v2.1h-2.6zM203.9 421.5h2.6v2.1h-2.6zM213.9 421.5h2.6v2.1h-2.6zM206.4 429.7h2.6v2.1h-2.6zM203.9 433.8h2.6v2.1h-2.6zM213.9 441.9h2.6v2.1h-2.6zM203.9 444h2.6v2.1h-2.6zM206.4 444h2.6v2.1h-2.6zM201.3 446h2.6v2.1h-2.6zM201.3 462.4h2.6v2.1h-2.6z" fill="#14c4ff"/><path d="M164.8 367.1h2.6v2.1h-2.6zM147.3 369.1h2.6v2.1h-2.6zM192 367.1h2.6v2.1h-2.6zM147.3 441.9h2.6v2.1h-2.6zM147.3 446h2.6v2.1h-2.6zM203.9 407.2h2.6v2.1h-2.6zM203.9 417.4h2.6v2.1h-2.6z" fill="#1489ff"/><path d="M144.8 369.1h2.6v2.1h-2.6zM172 367.1h2.6v2.1h-2.6zM174.5 367.1h2.6v2.1h-2.6zM177 367.1h2.6v2.1h-2.6zM182 367.1h2.6v2.1h-2.6zM172 369.1h2.6v2.1h-2.6zM174.5 369.1h2.6v2.1h-2.6zM147.3 415.4h2.6v2.1h-2.6zM147.3 425.6h2.6v2.1h-2.6zM149.8 431.7h2.6v2.1h-2.6zM147.3 433.8h2.6v2.1h-2.6zM149.8 441.9h2.6v2.1h-2.6zM147.3 460.3h2.6v2.1h-2.6zM201.3 407.2h2.6v2.1h-2.6zM206.4 407.2h2.6v2.1h-2.6zM211.4 407.2h2.6v2.1h-2.6zM201.3 411.3h2.6v2.1h-2.6zM206.4 415.4h2.6v2.1h-2.6zM206.4 417.4h2.6v2.1h-2.6zM201.3 419.5h2.6v2.1h-2.6zM213.9 423.5h2.6v2.1h-2.6zM203.9 425.6h2.6v2.1h-2.6zM201.3 427.6h2.6v2.1h-2.6zM203.9 431.7h2.6v2.1h-2.6zM206.4 431.7h2.6v2.1h-2.6zM211.4 431.7h2.6v2.1h-2.6zM201.3 433.8h2.6v2.1h-2.6zM206.4 433.8h2.6v2.1h-2.6zM213.9 433.8h2.6v2.1h-2.6zM203.9 435.8h2.6v2.1h-2.6zM213.9 439.9h2.6v2.1h-2.6zM203.9 441.9h2.6v2.1h-2.6zM203.9 446h2.6v2.1h-2.6zM211.4 446h2.6v2.1h-2.6zM213.9 448.1h2.6v2.1h-2.6zM213.9 450.1h2.6v2.1h-2.6zM203.9 458.3h2.6v2.1h-2.6zM213.9 458.3h2.6v2.1h-2.6zM203.9 460.3h2.6v2.1h-2.6zM213.9 460.3h2.6v2.1h-2.6zM211.4 462.4h2.6v2.1h-2.6z" fill="#14d7ff"/><path d="M152.3 369.1h2.6v2.1h-2.6zM164.8 369.1h2.6v2.1h-2.6zM184.5 367.1h2.6v2.1h-2.6zM177 369.1h2.6v2.1h-2.6zM184.5 369.1h2.6v2.1h-2.6zM192 369.1h2.6v2.1h-2.6zM147.3 423.5h2.6v2.1h-2.6zM147.3 444h2.6v2.1h-2.6zM147.3 454.2h2.6v2.1h-2.6zM147.3 462.4h2.6v2.1h-2.6zM213.9 407.2h2.6v2.1h-2.6zM213.9 411.3h2.6v2.1h-2.6zM203.9 437.8h2.6v2.1h-2.6zM213.9 444h2.6v2.1h-2.6zM201.3 454.2h2.6v2.1h-2.6zM201.3 460.3h2.6v2.1h-2.6z" fill="#149dff"/><path d="M144.8 389.4h2.6v2.1h-2.6zM159.8 427.6h2.6v2.1h-2.6zM142.3 435.8h2.6v2.1h-2.6zM152.3 435.8h2.6v2.1h-2.6zM154.8 437.8h2.6v2.1h-2.6zM142.3 441.9h2.6v2.1h-2.6zM154.8 446h2.6v2.1h-2.6zM142.3 452.1h2.6v2.1h-2.6zM142.3 456.2h2.6v2.1h-2.6zM152.3 458.3h2.6v2.1h-2.6zM142.3 462.4h2.6v2.1h-2.6zM152.3 462.4h2.6v2.1h-2.6zM182 433.8h2.6v2.1h-2.6zM187 450.1h2.6v2.1h-2.6zM187 462.4h2.6v2.1h-2.6zM219 409.2h2.6v2.1h-2.6z" fill="#d7ff3b"/><path d="M147.3 389.4h2.6v2.1h-2.6zM152.3 389.4h2.6v2.1h-2.6zM144.8 395.4h2.6v2.1h-2.6zM157.3 395.4h2.6v2.1h-2.6zM196.3 367.1h2.6v2.1h-2.6zM201.3 367.1h2.6v2.1h-2.6zM216.5 367.1h2.6v2.1h-2.6zM213.9 369.1h2.6v2.1h-2.6zM152.3 409.2h2.6v2.1h-2.6zM144.8 415.4h2.6v2.1h-2.6zM144.8 419.5h2.6v2.1h-2.6zM144.8 425.6h2.6v2.1h-2.6zM152.3 429.7h2.6v2.1h-2.6zM152.3 433.8h2.6v2.1h-2.6zM144.8 435.8h2.6v2.1h-2.6zM144.8 444h2.6v2.1h-2.6zM144.8 460.3h2.6v2.1h-2.6zM152.3 460.3h2.6v2.1h-2.6zM208.9 407.2h2.6v2.1h-2.6zM196.3 411.3h2.6v2.1h-2.6zM216.5 411.3h2.6v2.1h-2.6zM198.8 415.4h2.6v2.1h-2.6zM196.3 419.5h2.6v2.1h-2.6zM216.5 423.5h2.6v2.1h-2.6zM198.8 429.7h2.6v2.1h-2.6zM216.5 433.8h2.6v2.1h-2.6zM198.8 435.8h2.6v2.1h-2.6zM216.5 435.8h2.6v2.1h-2.6zM198.8 437.8h2.6v2.1h-2.6zM216.5 439.9h2.6v2.1h-2.6zM216.5 441.9h2.6v2.1h-2.6zM219 441.9h2.6v2.1h-2.6zM216.5 448.1h2.6v2.1h-2.6zM208.9 456.2h2.6v2.1h-2.6zM196.3 458.3h2.6v2.1h-2.6zM216.5 458.3h2.6v2.1h-2.6z" fill="#76ff9d"/><path d="M164.8 389.4h2.6v2.1h-2.6zM208.9 367.1h2.6v2.1h-2.6zM196.3 369.1h2.6v2.1h-2.6zM201.3 369.1h2.6v2.1h-2.6zM208.9 369.1h2.6v2.1h-2.6zM211.4 369.1h2.6v2.1h-2.6zM142.3 409.2h2.6v2.1h-2.6zM152.3 419.5h2.6v2.1h-2.6zM144.8 421.5h2.6v2.1h-2.6zM144.8 423.5h2.6v2.1h-2.6zM152.3 427.6h2.6v2.1h-2.6zM152.3 431.7h2.6v2.1h-2.6zM142.3 437.8h2.6v2.1h-2.6zM152.3 441.9h2.6v2.1h-2.6zM152.3 444h2.6v2.1h-2.6zM142.3 446h2.6v2.1h-2.6zM144.8 446h2.6v2.1h-2.6zM152.3 448.1h2.6v2.1h-2.6zM142.3 450.1h2.6v2.1h-2.6zM152.3 450.1h2.6v2.1h-2.6zM144.8 452.1h2.6v2.1h-2.6zM152.3 456.2h2.6v2.1h-2.6zM142.3 458.3h2.6v2.1h-2.6zM196.3 409.2h2.6v2.1h-2.6zM219 419.5h2.6v2.1h-2.6zM198.8 421.5h2.6v2.1h-2.6zM219 421.5h2.6v2.1h-2.6zM216.5 425.6h2.6v2.1h-2.6zM219 425.6h2.6v2.1h-2.6zM196.3 427.6h2.6v2.1h-2.6zM219 427.6h2.6v2.1h-2.6zM216.5 429.7h2.6v2.1h-2.6zM196.3 431.7h2.6v2.1h-2.6zM219 450.1h2.6v2.1h-2.6zM196.3 454.2h2.6v2.1h-2.6zM196.3 462.4h2.6v2.1h-2.6zM219 462.4h2.6v2.1h-2.6z" fill="#9dff76"/><path d="M152.3 395.4h2.6v2.1h-2.6zM213.9 367.1h2.6v2.1h-2.6zM216.5 369.1h2.6v2.1h-2.6zM144.8 411.3h2.6v2.1h-2.6zM144.8 429.7h2.6v2.1h-2.6zM144.8 450.1h2.6v2.1h-2.6zM198.8 409.2h2.6v2.1h-2.6zM208.9 409.2h2.6v2.1h-2.6zM211.4 415.4h2.6v2.1h-2.6zM208.9 419.5h2.6v2.1h-2.6zM198.8 423.5h2.6v2.1h-2.6zM198.8 425.6h2.6v2.1h-2.6zM208.9 429.7h2.6v2.1h-2.6zM198.8 431.7h2.6v2.1h-2.6zM216.5 431.7h2.6v2.1h-2.6zM196.3 433.8h2.6v2.1h-2.6zM211.4 437.8h2.6v2.1h-2.6zM208.9 439.9h2.6v2.1h-2.6zM196.3 446h2.6v2.1h-2.6zM208.9 450.1h2.6v2.1h-2.6zM211.4 452.1h2.6v2.1h-2.6zM198.8 454.2h2.6v2.1h-2.6zM196.3 456.2h2.6v2.1h-2.6zM208.9 460.3h2.6v2.1h-2.6zM198.8 462.4h2.6v2.1h-2.6zM216.5 462.4h2.6v2.1h-2.6z" fill="#62ffb0"/><path d="M154.8 395.4h2.6v2.1h-2.6zM159.8 395.4h2.6v2.1h-2.6zM162.3 395.4h2.6v2.1h-2.6zM203.9 367.1h2.6v2.1h-2.6zM152.3 407.2h2.6v2.1h-2.6zM144.8 413.3h2.6v2.1h-2.6zM142.3 419.5h2.6v2.1h-2.6zM142.3 425.6h2.6v2.1h-2.6zM144.8 431.7h2.6v2.1h-2.6zM142.3 433.8h2.6v2.1h-2.6zM144.8 441.9h2.6v2.1h-2.6zM152.3 446h2.6v2.1h-2.6zM152.3 452.1h2.6v2.1h-2.6zM144.8 462.4h2.6v2.1h-2.6zM187 441.9h2.6v2.1h-2.6zM219 429.7h2.6v2.1h-2.6zM219 431.7h2.6v2.1h-2.6zM219 439.9h2.6v2.1h-2.6zM219 456.2h2.6v2.1h-2.6z" fill="#c4ff4f"/><path d="M174.5 342.9h2.6v2.1h-2.6zM177 342.9h2.6v2.1h-2.6zM182 342.9h2.6v2.1h-2.6zM187 342.9h2.6v2.1h-2.6zM184.5 409.2h2.6v2.1h-2.6zM169.5 413.3h2.6v2.1h-2.6zM169.5 415.4h2.6v2.1h-2.6zM169.5 423.5h2.6v2.1h-2.6zM184.5 433.8h2.6v2.1h-2.6zM169.5 448.1h2.6v2.1h-2.6zM169.5 452.1h2.6v2.1h-2.6zM184.5 456.2h2.6v2.1h-2.6zM184.5 462.4h2.6v2.1h-2.6z" fill="#b01414"/><path d="M169.5 373.2h2.6v2.1h-2.6zM187 373.2h2.6v2.1h-2.6zM169.5 397.4h2.6v2.1h-2.6zM187 397.4h2.6v2.1h-2.6z" fill="#1427ff"/><path d="M198.8 367.1h2.6v2.1h-2.6zM211.4 367.1h2.6v2.1h-2.6zM198.8 369.1h2.6v2.1h-2.6zM144.8 409.2h2.6v2.1h-2.6zM152.3 413.3h2.6v2.1h-2.6zM144.8 417.4h2.6v2.1h-2.6zM152.3 417.4h2.6v2.1h-2.6zM152.3 423.5h2.6v2.1h-2.6zM152.3 437.8h2.6v2.1h-2.6zM144.8 439.9h2.6v2.1h-2.6zM142.3 460.3h2.6v2.1h-2.6zM219 407.2h2.6v2.1h-2.6zM198.8 411.3h2.6v2.1h-2.6zM196.3 417.4h2.6v2.1h-2.6zM216.5 419.5h2.6v2.1h-2.6zM196.3 423.5h2.6v2.1h-2.6zM196.3 429.7h2.6v2.1h-2.6zM196.3 435.8h2.6v2.1h-2.6zM196.3 437.8h2.6v2.1h-2.6zM219 444h2.6v2.1h-2.6zM216.5 452.1h2.6v2.1h-2.6zM219 458.3h2.6v2.1h-2.6z" fill="#89ff89"/><path d="M206.4 367.1h2.6v2.1h-2.6zM219 367.1h2.6v2.1h-2.6zM203.9 369.1h2.6v2.1h-2.6zM206.4 369.1h2.6v2.1h-2.6zM219 369.1h2.6v2.1h-2.6zM142.3 413.3h2.6v2.1h-2.6zM152.3 415.4h2.6v2.1h-2.6zM142.3 417.4h2.6v2.1h-2.6zM152.3 425.6h2.6v2.1h-2.6zM144.8 427.6h2.6v2.1h-2.6zM142.3 439.9h2.6v2.1h-2.6zM142.3 444h2.6v2.1h-2.6zM144.8 454.2h2.6v2.1h-2.6zM216.5 407.2h2.6v2.1h-2.6zM219 411.3h2.6v2.1h-2.6zM219 413.3h2.6v2.1h-2.6zM216.5 415.4h2.6v2.1h-2.6zM216.5 427.6h2.6v2.1h-2.6zM219 433.8h2.6v2.1h-2.6zM216.5 437.8h2.6v2.1h-2.6zM219 446h2.6v2.1h-2.6zM219 448.1h2.6v2.1h-2.6zM216.5 450.1h2.6v2.1h-2.6zM219 452.1h2.6v2.1h-2.6zM216.5 454.2h2.6v2.1h-2.6zM219 454.2h2.6v2.1h-2.6z" fill="#b0ff62"/><path d="M147.3 407.2h2.6v2.1h-2.6zM147.3 413.3h2.6v2.1h-2.6zM149.8 419.5h2.6v2.1h-2.6zM149.8 421.5h2.6v2.1h-2.6zM147.3 439.9h2.6v2.1h-2.6zM147.3 448.1h2.6v2.1h-2.6zM147.3 450.1h2.6v2.1h-2.6zM147.3 452.1h2.6v2.1h-2.6zM149.8 454.2h2.6v2.1h-2.6zM203.9 413.3h2.6v2.1h-2.6zM203.9 415.4h2.6v2.1h-2.6zM203.9 423.5h2.6v2.1h-2.6zM201.3 425.6h2.6v2.1h-2.6zM213.9 425.6h2.6v2.1h-2.6zM213.9 427.6h2.6v2.1h-2.6zM203.9 429.7h2.6v2.1h-2.6zM201.3 431.7h2.6v2.1h-2.6zM213.9 431.7h2.6v2.1h-2.6zM206.4 448.1h2.6v2.1h-2.6zM203.9 450.1h2.6v2.1h-2.6zM206.4 450.1h2.6v2.1h-2.6zM206.4 454.2h2.6v2.1h-2.6zM201.3 456.2h2.6v2.1h-2.6z" fill="#1414eb"/><path d="M149.8 407.2h2.6v2.1h-2.6zM149.8 444h2.6v2.1h-2.6zM149.8 452.1h2.6v2.1h-2.6zM196.3 407.2h2.6v2.1h-2.6zM198.8 407.2h2.6v2.1h-2.6zM206.4 411.3h2.6v2.1h-2.6zM198.8 413.3h2.6v2.1h-2.6zM201.3 413.3h2.6v2.1h-2.6zM206.4 413.3h2.6v2.1h-2.6zM213.9 415.4h2.6v2.1h-2.6zM201.3 417.4h2.6v2.1h-2.6zM208.9 417.4h2.6v2.1h-2.6zM211.4 417.4h2.6v2.1h-2.6zM206.4 419.5h2.6v2.1h-2.6zM201.3 421.5h2.6v2.1h-2.6zM208.9 421.5h2.6v2.1h-2.6zM211.4 423.5h2.6v2.1h-2.6zM201.3 429.7h2.6v2.1h-2.6zM198.8 433.8h2.6v2.1h-2.6zM211.4 435.8h2.6v2.1h-2.6zM206.4 437.8h2.6v2.1h-2.6zM198.8 439.9h2.6v2.1h-2.6zM196.3 441.9h2.6v2.1h-2.6zM208.9 441.9h2.6v2.1h-2.6zM196.3 444h2.6v2.1h-2.6zM208.9 444h2.6v2.1h-2.6zM208.9 448.1h2.6v2.1h-2.6zM196.3 450.1h2.6v2.1h-2.6zM198.8 450.1h2.6v2.1h-2.6zM198.8 452.1h2.6v2.1h-2.6zM206.4 452.1h2.6v2.1h-2.6zM213.9 454.2h2.6v2.1h-2.6zM206.4 456.2h2.6v2.1h-2.6zM211.4 456.2h2.6v2.1h-2.6zM198.8 460.3h2.6v2.1h-2.6z" fill="#27ffeb"/><path d="M147.3 409.2h2.6v2.1h-2.6zM149.8 411.3h2.6v2.1h-2.6zM147.3 419.5h2.6v2.1h-2.6zM147.3 421.5h2.6v2.1h-2.6zM149.8 423.5h2.6v2.1h-2.6zM149.8 425.6h2.6v2.1h-2.6zM147.3 429.7h2.6v2.1h-2.6zM147.3 435.8h2.6v2.1h-2.6zM147.3 437.8h2.6v2.1h-2.6zM149.8 448.1h2.6v2.1h-2.6zM149.8 458.3h2.6v2.1h-2.6zM211.4 409.2h2.6v2.1h-2.6zM213.9 409.2h2.6v2.1h-2.6zM201.3 415.4h2.6v2.1h-2.6zM208.9 415.4h2.6v2.1h-2.6zM206.4 421.5h2.6v2.1h-2.6zM206.4 423.5h2.6v2.1h-2.6zM208.9 423.5h2.6v2.1h-2.6zM208.9 425.6h2.6v2.1h-2.6zM208.9 427.6h2.6v2.1h-2.6zM211.4 427.6h2.6v2.1h-2.6zM208.9 433.8h2.6v2.1h-2.6zM206.4 435.8h2.6v2.1h-2.6zM201.3 437.8h2.6v2.1h-2.6zM201.3 444h2.6v2.1h-2.6zM213.9 446h2.6v2.1h-2.6zM201.3 448.1h2.6v2.1h-2.6zM201.3 450.1h2.6v2.1h-2.6zM208.9 452.1h2.6v2.1h-2.6zM208.9 458.3h2.6v2.1h-2.6zM206.4 460.3h2.6v2.1h-2.6z" fill="#14ffff"/><path d="M203.9 409.2h2.6v2.1h-2.6zM203.9 439.9h2.6v2.1h-2.6zM203.9 456.2h2.6v2.1h-2.6z" fill="#1476ff"/><path d="M203.9 411.3h2.6v2.1h-2.6zM203.9 419.5h2.6v2.1h-2.6zM203.9 448.1h2.6v2.1h-2.6z" fill="#1462ff"/><defs><linearGradient id="jetg" x1="0" x2="1" y1="0" y2="0"><stop offset="0.0" stop-color="#0505ab"/><stop offset="0.1" stop-color="#0519ff"/><stop offset="0.2" stop-color="#0582ff"/><stop offset="0.3" stop-color="#05d5ff"/><stop offset="0.4" stop-color="#43ffc0"/><stop offset="0.5" stop-color="#96ff6d"/><stop offset="0.6" stop-color="#ffff05"/><stop offset="0.7" stop-color="#ffab05"/><stop offset="0.8" stop-color="#ff4305"/><stop offset="0.9" stop-color="#ea0505"/><stop offset="1.0" stop-color="#820505"/></linearGradient></defs><rect x="229" y="326.8" width="39.5" height="3.2" fill="url(#jetg)"/><text x="248.7" y="325.6" font-family="'Liberation Sans', sans-serif" font-size="1.9" fill="#777" text-anchor="middle" >Log2 (Functional feature relative abundance)</text><path d="M230.5 331h.8v.9h-.8z" fill="#888"/><path d="M237.8 331h.8v.9h-.8z" fill="#888"/><path d="M245.1 331h.8v.9h-.8z" fill="#888"/><path d="M252.4 331h.8v.9h-.8z" fill="#888"/><path d="M259.7 331h.8v.9h-.8z" fill="#888"/><path d="M267 331h.8v.9h-.8z" fill="#888"/><path d="M223 335.3h47.2v.8h-47.2z" fill="#cdcdcd"/><path d="M223 337.3h47.9v.8h-47.9z" fill="#cdcdcd"/><path d="M223 339.3h31.2v.8h-31.2z" fill="#cdcdcd"/><path d="M223 341.4h27.4v.8h-27.4z" fill="#cdcdcd"/><path d="M223 343.4h35.4v.8h-35.4z" fill="#cdcdcd"/><path d="M223 345.4h52.1v.8h-52.1z" fill="#cdcdcd"/><path d="M223 347.4h38.8v.8h-38.8z" fill="#cdcdcd"/><path d="M223 349.4h47.3v.8h-47.3z" fill="#cdcdcd"/><path d="M223 351.5h46.4v.8h-46.4z" fill="#cdcdcd"/><path d="M223 353.5h40.6v.8h-40.6z" fill="#cdcdcd"/><path d="M223 355.5h40.1v.8h-40.1z" fill="#cdcdcd"/><path d="M223 357.5h42.5v.8h-42.5z" fill="#cdcdcd"/><path d="M223 359.5h41.7v.8h-41.7z" fill="#cdcdcd"/><path d="M223 361.6h40.1v.8h-40.1z" fill="#cdcdcd"/><path d="M223 363.6h50.9v.8h-50.9z" fill="#cdcdcd"/><path d="M223 365.6h45.1v.8h-45.1z" fill="#cdcdcd"/><path d="M223 367.6h41.1v.8h-41.1z" fill="#cdcdcd"/><path d="M223 369.6h40.5v.8h-40.5z" fill="#cdcdcd"/><path d="M223 371.7h35.1v.8h-35.1z" fill="#cdcdcd"/><path d="M223 373.7h52v.8h-52z" fill="#cdcdcd"/><path d="M223 375.7h37.1v.8h-37.1z" fill="#cdcdcd"/><path d="M223 377.7h33.2v.8h-33.2z" fill="#cdcdcd"/><path d="M223 379.7h45.9v.8h-45.9z" fill="#cdcdcd"/><path d="M223 381.8h27.6v.8h-27.6z" fill="#cdcdcd"/><path d="M223 383.8h46.3v.8h-46.3z" fill="#cdcdcd"/><path d="M223 385.8h49.6v.8h-49.6z" fill="#cdcdcd"/><path d="M223 387.8h37.8v.8h-37.8z" fill="#cdcdcd"/><path d="M223 389.8h47.8v.8h-47.8z" fill="#cdcdcd"/><path d="M223 391.9h32.4v.8h-32.4z" fill="#cdcdcd"/><path d="M223 393.9h45.1v.8h-45.1z" fill="#cdcdcd"/><path d="M223 395.9h25.2v.8h-25.2z" fill="#cdcdcd"/><path d="M223 397.9h39.6v.8h-39.6z" fill="#cdcdcd"/><path d="M223 399.9h34.2v.8h-34.2z" fill="#cdcdcd"/><path d="M223 402h49.1v.8h-49.1z" fill="#cdcdcd"/><path d="M223 407.6h29.3v.8h-29.3z" fill="#cdcdcd"/><path d="M223 409.6h48.3v.8h-48.3z" fill="#cdcdcd"/><path d="M223 411.7h43.6v.8h-43.6z" fill="#cdcdcd"/><path d="M223 413.7h42.8v.8h-42.8z" fill="#cdcdcd"/><path d="M223 415.8h43.8v.8h-43.8z" fill="#cdcdcd"/><path d="M223 417.8h25.4v.8h-25.4z" fill="#cdcdcd"/><path d="M223 419.8h46v.8h-46z" fill="#cdcdcd"/><path d="M223 421.9h32.3v.8h-32.3z" fill="#cdcdcd"/><path d="M223 423.9h24.8v.8h-24.8z" fill="#cdcdcd"/><path d="M223 426h23v.8h-23z" fill="#cdcdcd"/><path d="M223 428h38.3v.8h-38.3z" fill="#cdcdcd"/><path d="M223 430h31.7v.8h-31.7z" fill="#cdcdcd"/><path d="M223 432.1h25.9v.8h-25.9z" fill="#cdcdcd"/><path d="M223 434.1h46.3v.8h-46.3z" fill="#cdcdcd"/><path d="M223 436.2h25.6v.8h-25.6z" fill="#cdcdcd"/><path d="M223 438.2h37.8v.8h-37.8z" fill="#cdcdcd"/><path d="M223 440.2h32.7v.8h-32.7z" fill="#cdcdcd"/><path d="M223 442.3h35.4v.8h-35.4z" fill="#cdcdcd"/><path d="M223 444.3h25.2v.8h-25.2z" fill="#cdcdcd"/><path d="M223 446.4h28.1v.8h-28.1z" fill="#cdcdcd"/><path d="M223 448.4h40v.8h-40z" fill="#cdcdcd"/><path d="M223 450.4h45.9v.8h-45.9z" fill="#cdcdcd"/><path d="M223 452.5h39.3v.8h-39.3z" fill="#cdcdcd"/><path d="M223 454.5h36.8v.8h-36.8z" fill="#cdcdcd"/><path d="M223 456.6h33.5v.8h-33.5z" fill="#cdcdcd"/><path d="M223 458.6h51.4v.8h-51.4z" fill="#cdcdcd"/><path d="M223 460.6h36.5v.8h-36.5z" fill="#cdcdcd"/><path d="M223 462.7h39v.8h-39z" fill="#cdcdcd"/><path d="M143 465.5h.7v3h-.7z" fill="#bbb"/><path d="M145.5 465.5h.7v3h-.7z" fill="#bbb"/><path d="M148 465.5h.7v3h-.7z" fill="#bbb"/><path d="M150.5 465.5h.7v3h-.7z" fill="#bbb"/><path d="M153 465.5h.7v3h-.7z" fill="#bbb"/><path d="M155.5 465.5h.7v3h-.7z" fill="#bbb"/><path d="M158 465.5h.7v3h-.7z" fill="#bbb"/><path d="M160.5 465.5h.7v3h-.7z" fill="#bbb"/><path d="M163 465.5h.7v3h-.7z" fill="#bbb"/><path d="M165.5 465.5h.7v3h-.7z" fill="#bbb"/><path d="M170.2 465.5h.7v3h-.7z" fill="#bbb"/><path d="M172.7 465.5h.7v3h-.7z" fill="#bbb"/><path d="M175.2 465.5h.7v3h-.7z" fill="#bbb"/><path d="M177.7 465.5h.7v3h-.7z" fill="#bbb"/><path d="M180.2 465.5h.7v3h-.7z" fill="#bbb"/><path d="M182.7 465.5h.7v3h-.7z" fill="#bbb"/><path d="M185.2 465.5h.7v3h-.7z" fill="#bbb"/><path d="M187.7 465.5h.7v3h-.7z" fill="#bbb"/><path d="M190.2 465.5h.7v3h-.7z" fill="#bbb"/><path d="M192.7 465.5h.7v3h-.7z" fill="#bbb"/><path d="M197 465.5h.7v3h-.7z" fill="#bbb"/><path d="M199.5 465.5h.7v3h-.7z" fill="#bbb"/><path d="M202 465.5h.7v3h-.7z" fill="#bbb"/><path d="M204.5 465.5h.7v3h-.7z" fill="#bbb"/><path d="M207 465.5h.7v3h-.7z" fill="#bbb"/><path d="M209.5 465.5h.7v3h-.7z" fill="#bbb"/><path d="M212 465.5h.7v3h-.7z" fill="#bbb"/><path d="M214.5 465.5h.7v3h-.7z" fill="#bbb"/><path d="M217 465.5h.7v3h-.7z" fill="#bbb"/><path d="M219.5 465.5h.7v3h-.7z" fill="#bbb"/><path d="M41.5 486.7h24.8v2.6h-24.8zM71.5 486.7h84.8v2.6h-84.8zM41.5 490.1h24.8v2.6h-24.8zM71.5 490.1h84.8v2.6h-84.8zM41.5 493.6h24.8v2.6h-24.8zM71.5 493.6h84.8v2.6h-84.8zM41.5 497h24.8v2.6h-24.8zM71.5 497h84.8v2.6h-84.8zM41.5 500.5h24.8v2.6h-24.8zM71.5 500.5h84.8v2.6h-84.8zM41.5 503.9h24.8v2.6h-24.8zM71.5 503.9h84.8v2.6h-84.8zM41.5 507.4h24.8v2.6h-24.8zM71.5 507.4h84.8v2.6h-84.8zM41.5 510.8h24.8v2.6h-24.8zM71.5 510.8h84.8v2.6h-84.8zM41.5 514.3h24.8v2.6h-24.8zM71.5 514.3h84.8v2.6h-84.8zM41.5 517.7h24.8v2.6h-24.8zM71.5 517.7h84.8v2.6h-84.8zM41.5 521.2h24.8v2.6h-24.8zM71.5 521.2h84.8v2.6h-84.8z" fill="#ececec"/><path d="M41.5 486.8h14.7v1.2h-14.7zM41.5 490.2h16.5v1.2h-16.5zM41.5 493.7h24.1v1.2h-24.1zM41.5 497.1h5v1.2h-5zM41.5 500.6h13.8v1.2h-13.8zM41.5 504h18.3v1.2h-18.3zM41.5 507.5h5v1.2h-5zM41.5 510.9h5.9v1.2h-5.9zM41.5 514.4h3.2v1.2h-3.2zM41.5 517.8h6.7v1.2h-6.7zM41.5 521.3h5v1.2h-5z" fill="#BBA848"/><path d="M41.5 488h12v1.2h-12zM41.5 491.4h10.4v1.2h-10.4zM41.5 494.9h14.4v1.2h-14.4zM41.5 498.4h4.1v1.2h-4.1zM41.5 501.8h7.5v1.2h-7.5zM41.5 505.2h12.6v1.2h-12.6zM41.5 508.7h3.6v1.2h-3.6zM41.5 512.1h4.4v1.2h-4.4zM41.5 515.6h1.8v1.2h-1.8zM41.5 519h5v1.2h-5zM41.5 522.5h3.5v1.2h-3.5z" fill="#857C40"/><text x="114" y="483.3" font-family="'Liberation Sans', sans-serif" font-size="2.5" fill="#555" text-anchor="middle" >95% confidence intervals</text><text x="41" y="489" font-family="'Liberation Sans', sans-serif" font-size="2.9" fill="#333" text-anchor="end" >GT5</text><line x1="88.3" y1="488" x2="98" y2="488" stroke="#555" stroke-width="0.35"/><circle cx="93.6" cy="488" r="0.9" fill="#666"/><text x="158" y="488.9" font-family="'Liberation Sans', sans-serif" font-size="2.4" fill="#444" text-anchor="start" >1.72e-4</text><text x="41" y="492.45" font-family="'Liberation Sans', sans-serif" font-size="2.9" fill="#333" text-anchor="end" >CBM13</text><line x1="127.3" y1="491.4" x2="151.2" y2="491.4" stroke="#555" stroke-width="0.35"/><circle cx="139.7" cy="491.4" r="0.9" fill="#666"/><text x="158" y="492.35" font-family="'Liberation Sans', sans-serif" font-size="2.4" fill="#444" text-anchor="start" >5.06e-4</text><text x="41" y="495.9" font-family="'Liberation Sans', sans-serif" font-size="2.9" fill="#333" text-anchor="end" >AA10</text><line x1="75" y1="494.9" x2="90.9" y2="494.9" stroke="#555" stroke-width="0.35"/><circle cx="83.5" cy="494.9" r="0.9" fill="#666"/><text x="158" y="495.8" font-family="'Liberation Sans', sans-serif" font-size="2.4" fill="#444" text-anchor="start" >1.11e-3</text><text x="41" y="499.35" font-family="'Liberation Sans', sans-serif" font-size="2.9" fill="#333" text-anchor="end" >GT30</text><line x1="111.3" y1="498.4" x2="119.3" y2="498.4" stroke="#555" stroke-width="0.35"/><circle cx="114.9" cy="498.4" r="0.9" fill="#666"/><text x="158" y="499.25" font-family="'Liberation Sans', sans-serif" font-size="2.4" fill="#444" text-anchor="start" >0.002</text><text x="41" y="502.8" font-family="'Liberation Sans', sans-serif" font-size="2.9" fill="#333" text-anchor="end" >GT8</text><line x1="82.1" y1="501.8" x2="96.2" y2="501.8" stroke="#555" stroke-width="0.35"/><circle cx="90" cy="501.8" r="0.9" fill="#666"/><text x="158" y="502.7" font-family="'Liberation Sans', sans-serif" font-size="2.4" fill="#444" text-anchor="start" >0.002</text><text x="41" y="506.25" font-family="'Liberation Sans', sans-serif" font-size="2.9" fill="#333" text-anchor="end" >GH17</text><line x1="122" y1="505.2" x2="145" y2="505.2" stroke="#555" stroke-width="0.35"/><circle cx="133.5" cy="505.2" r="0.9" fill="#666"/><text x="158" y="506.15" font-family="'Liberation Sans', sans-serif" font-size="2.4" fill="#444" text-anchor="start" >0.014</text><text x="41" y="509.7" font-family="'Liberation Sans', sans-serif" font-size="2.9" fill="#333" text-anchor="end" >CE3</text><line x1="96.2" y1="508.7" x2="101.6" y2="508.7" stroke="#555" stroke-width="0.35"/><circle cx="98.9" cy="508.7" r="0.9" fill="#666"/><text x="158" y="509.6" font-family="'Liberation Sans', sans-serif" font-size="2.4" fill="#444" text-anchor="start" >0.019</text><text x="41" y="513.15" font-family="'Liberation Sans', sans-serif" font-size="2.9" fill="#333" text-anchor="end" >CE1</text><line x1="112.2" y1="512.1" x2="121.1" y2="512.1" stroke="#555" stroke-width="0.35"/><circle cx="116.6" cy="512.1" r="0.9" fill="#666"/><text x="158" y="513.05" font-family="'Liberation Sans', sans-serif" font-size="2.4" fill="#444" text-anchor="start" >0.019</text><text x="41" y="516.6" font-family="'Liberation Sans', sans-serif" font-size="2.9" fill="#333" text-anchor="end" >GT92</text><line x1="107.8" y1="515.6" x2="111.3" y2="515.6" stroke="#555" stroke-width="0.35"/><circle cx="109.5" cy="515.6" r="0.9" fill="#666"/><text x="158" y="516.5" font-family="'Liberation Sans', sans-serif" font-size="2.4" fill="#444" text-anchor="start" >0.041</text><text x="41" y="520.05" font-family="'Liberation Sans', sans-serif" font-size="2.9" fill="#333" text-anchor="end" >GH99</text><line x1="85.6" y1="519" x2="97.1" y2="519" stroke="#555" stroke-width="0.35"/><circle cx="90.9" cy="519" r="0.9" fill="#666"/><text x="158" y="519.95" font-family="'Liberation Sans', sans-serif" font-size="2.4" fill="#444" text-anchor="start" >0.043</text><text x="41" y="523.5" font-family="'Liberation Sans', sans-serif" font-size="2.9" fill="#333" text-anchor="end" >GH133</text><line x1="98" y1="522.5" x2="103.3" y2="522.5" stroke="#555" stroke-width="0.35"/><circle cx="100.7" cy="522.5" r="0.9" fill="#666"/><text x="158" y="523.4" font-family="'Liberation Sans', sans-serif" font-size="2.4" fill="#444" text-anchor="start" >0.043</text><line x1="105.6" y1="485.9" x2="105.6" y2="524.6" stroke="#999" stroke-width="0.35"/><line x1="41.5" y1="525.6" x2="66.3" y2="525.6" stroke="#aaa" stroke-width="0.35"/><line x1="71.5" y1="525.6" x2="156.3" y2="525.6" stroke="#aaa" stroke-width="0.35"/><text x="42" y="528.1" font-family="'Liberation Sans', sans-serif" font-size="2.1" fill="#555" text-anchor="middle" >0.0</text><text x="65" y="528.1" font-family="'Liberation Sans', sans-serif" font-size="2.1" fill="#555" text-anchor="middle" >0.0</text><text x="54" y="531.3" font-family="'Liberation Sans', sans-serif" font-size="2.2" fill="#666" text-anchor="middle" >Mean proportion (%)</text><text x="114" y="531.3" font-family="'Liberation Sans', sans-serif" font-size="2.2" fill="#666" text-anchor="middle" >Difference in mean proportions (%)</text><text x="72" y="528.1" font-family="'Liberation Sans', sans-serif" font-size="2.0" fill="#666" text-anchor="middle" >-0.0</text><text x="82.5" y="528.1" font-family="'Liberation Sans', sans-serif" font-size="2.0" fill="#666" text-anchor="middle" >-0.0</text><text x="93" y="528.1" font-family="'Liberation Sans', sans-serif" font-size="2.0" fill="#666" text-anchor="middle" >-0.0</text><text x="103.5" y="528.1" font-family="'Liberation Sans', sans-serif" font-size="2.0" fill="#666" text-anchor="middle" >-0.0</text><text x="114" y="528.1" font-family="'Liberation Sans', sans-serif" font-size="2.0" fill="#666" text-anchor="middle" >-0.0</text><text x="124.5" y="528.1" font-family="'Liberation Sans', sans-serif" font-size="2.0" fill="#666" text-anchor="middle" >-0.0</text><text x="135" y="528.1" font-family="'Liberation Sans', sans-serif" font-size="2.0" fill="#666" text-anchor="middle" >-0.0</text><text x="145.5" y="528.1" font-family="'Liberation Sans', sans-serif" font-size="2.0" fill="#666" text-anchor="middle" >-0.0</text><text x="156" y="528.1" font-family="'Liberation Sans', sans-serif" font-size="2.0" fill="#666" text-anchor="middle" >-0.0</text><text transform="translate(168.5,505.2) rotate(-90)" font-family="'Liberation Sans', sans-serif" font-size="1.8" fill="#aaa" text-anchor="middle">p-value (corrected)</text><path d="M41.5 541.1h24.8v2.7h-24.8zM71.5 541.1h84.8v2.7h-84.8zM41.5 544.6h24.8v2.7h-24.8zM71.5 544.6h84.8v2.7h-84.8zM41.5 548.1h24.8v2.7h-24.8zM71.5 548.1h84.8v2.7h-84.8zM41.5 551.6h24.8v2.7h-24.8zM71.5 551.6h84.8v2.7h-84.8zM41.5 555.1h24.8v2.7h-24.8zM71.5 555.1h84.8v2.7h-84.8zM41.5 558.6h24.8v2.7h-24.8zM71.5 558.6h84.8v2.7h-84.8zM41.5 562.1h24.8v2.7h-24.8zM71.5 562.1h84.8v2.7h-84.8zM41.5 565.6h24.8v2.7h-24.8zM71.5 565.6h84.8v2.7h-84.8zM41.5 569.1h24.8v2.7h-24.8zM71.5 569.1h84.8v2.7h-84.8zM41.5 572.6h24.8v2.7h-24.8zM71.5 572.6h84.8v2.7h-84.8zM41.5 576.1h24.8v2.7h-24.8zM71.5 576.1h84.8v2.7h-84.8zM41.5 579.6h24.8v2.7h-24.8zM71.5 579.6h84.8v2.7h-84.8zM41.5 583.1h24.8v2.7h-24.8zM71.5 583.1h84.8v2.7h-84.8zM41.5 586.6h24.8v2.7h-24.8zM71.5 586.6h84.8v2.7h-84.8z" fill="#ececec"/><path d="M41.5 541.1h17.4v1.3h-17.4zM41.5 544.6h5v1.3h-5zM41.5 548.1h5v1.3h-5zM41.5 551.6h5v1.3h-5zM41.5 555.1h5v1.3h-5zM41.5 558.6h2.3v1.3h-2.3zM41.5 562.1h23.6v1.3h-23.6zM41.5 565.6h1.4v1.3h-1.4zM41.5 569.1h1.4v1.3h-1.4zM41.5 572.6h6.7v1.3h-6.7zM41.5 576.1h5v1.3h-5zM41.5 579.6h5v1.3h-5zM41.5 583.1h4.1v1.3h-4.1zM41.5 586.6h5.9v1.3h-5.9z" fill="#9A9678"/><path d="M41.5 542.4h14.6v1.3h-14.6zM41.5 545.9h2.6v1.3h-2.6zM41.5 549.4h4.4v1.3h-4.4zM41.5 552.9h2.8v1.3h-2.8zM41.5 556.4h4.1v1.3h-4.1zM41.5 559.9h1.6v1.3h-1.6zM41.5 563.4h19.7v1.3h-19.7zM41.5 566.9h.8v1.3h-.8zM41.5 570.4h.9v1.3h-.9zM41.5 573.9h3.6v1.3h-3.6zM41.5 577.4h4.1v1.3h-4.1zM41.5 580.9h3.6v1.3h-3.6zM41.5 584.4h2.4v1.3h-2.4zM41.5 587.9h3.4v1.3h-3.4z" fill="#6E6C5A"/><text x="114" y="537.2" font-family="'Liberation Sans', sans-serif" font-size="2.5" fill="#555" text-anchor="middle" >95% confidence intervals</text><text x="41" y="543.4" font-family="'Liberation Sans', sans-serif" font-size="2.9" fill="#333" text-anchor="end" >CBM12</text><line x1="73.2" y1="542.4" x2="106.9" y2="542.4" stroke="#555" stroke-width="0.35"/><circle cx="90" cy="542.4" r="0.9" fill="#666"/><text x="158" y="543.3" font-family="'Liberation Sans', sans-serif" font-size="2.4" fill="#444" text-anchor="start" >0.016</text><text x="41" y="546.9" font-family="'Liberation Sans', sans-serif" font-size="2.9" fill="#333" text-anchor="end" >GT66</text><line x1="137.9" y1="545.9" x2="142.3" y2="545.9" stroke="#555" stroke-width="0.35"/><circle cx="139.7" cy="545.9" r="0.9" fill="#666"/><text x="158" y="546.8" font-family="'Liberation Sans', sans-serif" font-size="2.4" fill="#444" text-anchor="start" >0.024</text><text x="41" y="550.4" font-family="'Liberation Sans', sans-serif" font-size="2.9" fill="#333" text-anchor="end" >CBM5</text><line x1="125.5" y1="549.4" x2="136.1" y2="549.4" stroke="#555" stroke-width="0.35"/><circle cx="130.8" cy="549.4" r="0.9" fill="#666"/><text x="158" y="550.3" font-family="'Liberation Sans', sans-serif" font-size="2.4" fill="#444" text-anchor="start" >0.012</text><text x="41" y="553.9" font-family="'Liberation Sans', sans-serif" font-size="2.9" fill="#333" text-anchor="end" >AA0</text><line x1="120.2" y1="552.9" x2="133.5" y2="552.9" stroke="#555" stroke-width="0.35"/><circle cx="127.3" cy="552.9" r="0.9" fill="#666"/><text x="158" y="553.8" font-family="'Liberation Sans', sans-serif" font-size="2.4" fill="#444" text-anchor="start" >0.002</text><text x="41" y="557.4" font-family="'Liberation Sans', sans-serif" font-size="2.9" fill="#333" text-anchor="end" >CBM13</text><line x1="125.5" y1="556.4" x2="137" y2="556.4" stroke="#555" stroke-width="0.35"/><circle cx="130.8" cy="556.4" r="0.9" fill="#666"/><text x="158" y="557.3" font-family="'Liberation Sans', sans-serif" font-size="2.4" fill="#444" text-anchor="start" >0.004</text><text x="41" y="560.9" font-family="'Liberation Sans', sans-serif" font-size="2.9" fill="#333" text-anchor="end" >GT83</text><line x1="145" y1="559.9" x2="146.8" y2="559.9" stroke="#555" stroke-width="0.35"/><circle cx="145.9" cy="559.9" r="0.9" fill="#666"/><text x="158" y="560.8" font-family="'Liberation Sans', sans-serif" font-size="2.4" fill="#444" text-anchor="start" >0.016</text><text x="41" y="564.4" font-family="'Liberation Sans', sans-serif" font-size="2.9" fill="#333" text-anchor="end" >GH3</text><line x1="79.4" y1="563.4" x2="116.6" y2="563.4" stroke="#555" stroke-width="0.35"/><circle cx="98" cy="563.4" r="0.9" fill="#666"/><text x="158" y="564.3" font-family="'Liberation Sans', sans-serif" font-size="2.4" fill="#444" text-anchor="start" >0.025</text><text x="41" y="567.9" font-family="'Liberation Sans', sans-serif" font-size="2.9" fill="#333" text-anchor="end" >CBM6</text><line x1="129.9" y1="566.9" x2="140.6" y2="566.9" stroke="#555" stroke-width="0.35"/><circle cx="134.4" cy="566.9" r="0.9" fill="#666"/><text x="158" y="567.8" font-family="'Liberation Sans', sans-serif" font-size="2.4" fill="#444" text-anchor="start" >0.017</text><text x="41" y="571.4" font-family="'Liberation Sans', sans-serif" font-size="2.9" fill="#333" text-anchor="end" >AA7</text><line x1="136.1" y1="570.4" x2="141.5" y2="570.4" stroke="#555" stroke-width="0.35"/><circle cx="138.8" cy="570.4" r="0.9" fill="#666"/><text x="158" y="571.3" font-family="'Liberation Sans', sans-serif" font-size="2.4" fill="#444" text-anchor="start" >0.017</text><text x="41" y="574.9" font-family="'Liberation Sans', sans-serif" font-size="2.9" fill="#333" text-anchor="end" >GH16</text><line x1="122.8" y1="573.9" x2="137" y2="573.9" stroke="#555" stroke-width="0.35"/><circle cx="129.9" cy="573.9" r="0.9" fill="#666"/><text x="158" y="574.8" font-family="'Liberation Sans', sans-serif" font-size="2.4" fill="#444" text-anchor="start" >0.021</text><text x="41" y="578.4" font-family="'Liberation Sans', sans-serif" font-size="2.9" fill="#333" text-anchor="end" >CE7</text><line x1="116.6" y1="577.4" x2="135.2" y2="577.4" stroke="#555" stroke-width="0.35"/><circle cx="126.4" cy="577.4" r="0.9" fill="#666"/><text x="158" y="578.3" font-family="'Liberation Sans', sans-serif" font-size="2.4" fill="#444" text-anchor="start" >0.030</text><text x="41" y="581.9" font-family="'Liberation Sans', sans-serif" font-size="2.9" fill="#333" text-anchor="end" >GH5</text><line x1="128.2" y1="580.9" x2="138.8" y2="580.9" stroke="#555" stroke-width="0.35"/><circle cx="133.5" cy="580.9" r="0.9" fill="#666"/><text x="158" y="581.8" font-family="'Liberation Sans', sans-serif" font-size="2.4" fill="#444" text-anchor="start" >0.030</text><text x="41" y="585.4" font-family="'Liberation Sans', sans-serif" font-size="2.9" fill="#333" text-anchor="end" >GH6</text><line x1="126.4" y1="584.4" x2="138.8" y2="584.4" stroke="#555" stroke-width="0.35"/><circle cx="132.6" cy="584.4" r="0.9" fill="#666"/><text x="158" y="585.3" font-family="'Liberation Sans', sans-serif" font-size="2.4" fill="#444" text-anchor="start" >0.038</text><text x="41" y="588.9" font-family="'Liberation Sans', sans-serif" font-size="2.9" fill="#333" text-anchor="end" >CBM50</text><line x1="128.2" y1="587.9" x2="139.7" y2="587.9" stroke="#555" stroke-width="0.35"/><circle cx="133.5" cy="587.9" r="0.9" fill="#666"/><text x="158" y="588.8" font-family="'Liberation Sans', sans-serif" font-size="2.4" fill="#444" text-anchor="start" >0.038</text><line x1="147.3" y1="540.3" x2="147.3" y2="590" stroke="#999" stroke-width="0.35"/><line x1="41.5" y1="591.5" x2="66.3" y2="591.5" stroke="#aaa" stroke-width="0.35"/><line x1="71.5" y1="591.5" x2="156.3" y2="591.5" stroke="#aaa" stroke-width="0.35"/><text x="42" y="594" font-family="'Liberation Sans', sans-serif" font-size="2.1" fill="#555" text-anchor="middle" >0.0</text><text x="65" y="594" font-family="'Liberation Sans', sans-serif" font-size="2.1" fill="#555" text-anchor="middle" >0.0</text><text x="54" y="597.2" font-family="'Liberation Sans', sans-serif" font-size="2.2" fill="#666" text-anchor="middle" >Mean proportion (%)</text><text x="114" y="597.2" font-family="'Liberation Sans', sans-serif" font-size="2.2" fill="#666" text-anchor="middle" >Difference in mean proportions (%)</text><text x="72" y="594" font-family="'Liberation Sans', sans-serif" font-size="2.0" fill="#666" text-anchor="middle" >-0.0</text><text x="82.5" y="594" font-family="'Liberation Sans', sans-serif" font-size="2.0" fill="#666" text-anchor="middle" >-0.0</text><text x="93" y="594" font-family="'Liberation Sans', sans-serif" font-size="2.0" fill="#666" text-anchor="middle" >-0.0</text><text x="103.5" y="594" font-family="'Liberation Sans', sans-serif" font-size="2.0" fill="#666" text-anchor="middle" >-0.0</text><text x="114" y="594" font-family="'Liberation Sans', sans-serif" font-size="2.0" fill="#666" text-anchor="middle" >-0.0</text><text x="124.5" y="594" font-family="'Liberation Sans', sans-serif" font-size="2.0" fill="#666" text-anchor="middle" >-0.0</text><text x="135" y="594" font-family="'Liberation Sans', sans-serif" font-size="2.0" fill="#666" text-anchor="middle" >-0.0</text><text x="145.5" y="594" font-family="'Liberation Sans', sans-serif" font-size="2.0" fill="#666" text-anchor="middle" >-0.0</text><text x="156" y="594" font-family="'Liberation Sans', sans-serif" font-size="2.0" fill="#666" text-anchor="middle" >-0.0</text><text transform="translate(168.5,565.1) rotate(-90)" font-family="'Liberation Sans', sans-serif" font-size="1.8" fill="#aaa" text-anchor="middle">p-value (corrected)</text><path d="M41.5 606.1h24.8v2.7h-24.8zM71.5 606.1h84.8v2.7h-84.8zM41.5 609.6h24.8v2.7h-24.8zM71.5 609.6h84.8v2.7h-84.8zM41.5 613.1h24.8v2.7h-24.8zM71.5 613.1h84.8v2.7h-84.8zM41.5 616.6h24.8v2.7h-24.8zM71.5 616.6h84.8v2.7h-84.8zM41.5 620.1h24.8v2.7h-24.8zM71.5 620.1h84.8v2.7h-84.8zM41.5 623.6h24.8v2.7h-24.8zM71.5 623.6h84.8v2.7h-84.8zM41.5 627.1h24.8v2.7h-24.8zM71.5 627.1h84.8v2.7h-84.8zM41.5 630.6h24.8v2.7h-24.8zM71.5 630.6h84.8v2.7h-84.8zM41.5 634.1h24.8v2.7h-24.8zM71.5 634.1h84.8v2.7h-84.8zM41.5 637.6h24.8v2.7h-24.8zM71.5 637.6h84.8v2.7h-84.8zM41.5 641.1h24.8v2.7h-24.8zM71.5 641.1h84.8v2.7h-84.8zM41.5 644.6h24.8v2.7h-24.8zM71.5 644.6h84.8v2.7h-84.8zM41.5 648.1h24.8v2.7h-24.8zM71.5 648.1h84.8v2.7h-84.8z" fill="#ececec"/><path d="M41.5 606.1h1.7v1.3h-1.7zM41.5 609.6h3.3v1.3h-3.3zM41.5 613.1h24v1.3h-24zM41.5 616.6h18.3v1.3h-18.3zM41.5 620.1h5.8v1.3h-5.8zM41.5 623.6h2.5v1.3h-2.5zM41.5 627.1h1.7v1.3h-1.7zM41.5 630.6h21.6v1.3h-21.6zM41.5 634.1h6.6v1.3h-6.6zM41.5 637.6h5v1.3h-5zM41.5 641.1h1.7v1.3h-1.7zM41.5 644.6h10v1.3h-10zM41.5 648.1h1.7v1.3h-1.7z" fill="#86A476"/><path d="M41.5 607.4h.9v1.3h-.9zM41.5 610.9h1.9v1.3h-1.9zM41.5 614.4h17.4v1.3h-17.4zM41.5 617.9h12.4v1.3h-12.4zM41.5 621.4h4.5v1.3h-4.5zM41.5 624.9h1.3v1.3h-1.3zM41.5 628.4h1.4v1.3h-1.4zM41.5 631.9h19.3v1.3h-19.3zM41.5 635.4h5.3v1.3h-5.3zM41.5 638.9h4v1.3h-4zM41.5 642.4h1.4v1.3h-1.4zM41.5 645.9h5.4v1.3h-5.4zM41.5 649.4h1.2v1.3h-1.2z" fill="#5E7A58"/><text x="114" y="602.5" font-family="'Liberation Sans', sans-serif" font-size="2.5" fill="#555" text-anchor="middle" >95% confidence intervals</text><text x="41" y="608.4" font-family="'Liberation Sans', sans-serif" font-size="2.9" fill="#333" text-anchor="end" >CBM50</text><line x1="124.6" y1="607.4" x2="127.1" y2="607.4" stroke="#555" stroke-width="0.35"/><circle cx="125.9" cy="607.4" r="0.9" fill="#666"/><text x="158" y="608.3" font-family="'Liberation Sans', sans-serif" font-size="2.4" fill="#444" text-anchor="start" >1.75e-3</text><text x="41" y="611.9" font-family="'Liberation Sans', sans-serif" font-size="2.9" fill="#333" text-anchor="end" >CBM1</text><line x1="122.1" y1="610.9" x2="125.4" y2="610.9" stroke="#555" stroke-width="0.35"/><circle cx="123.8" cy="610.9" r="0.9" fill="#666"/><text x="158" y="611.8" font-family="'Liberation Sans', sans-serif" font-size="2.4" fill="#444" text-anchor="start" >1.91e-3</text><text x="41" y="615.4" font-family="'Liberation Sans', sans-serif" font-size="2.9" fill="#333" text-anchor="end" >CBM2</text><line x1="78.9" y1="614.4" x2="103.8" y2="614.4" stroke="#555" stroke-width="0.35"/><circle cx="91.4" cy="614.4" r="0.9" fill="#666"/><text x="158" y="615.3" font-family="'Liberation Sans', sans-serif" font-size="2.4" fill="#444" text-anchor="start" >1.05e-3</text><text x="41" y="618.9" font-family="'Liberation Sans', sans-serif" font-size="2.9" fill="#333" text-anchor="end" >GT5</text><line x1="140.4" y1="617.9" x2="153.6" y2="617.9" stroke="#555" stroke-width="0.35"/><circle cx="147" cy="617.9" r="0.9" fill="#666"/><text x="158" y="618.8" font-family="'Liberation Sans', sans-serif" font-size="2.4" fill="#444" text-anchor="start" >4.20e-3</text><text x="41" y="622.4" font-family="'Liberation Sans', sans-serif" font-size="2.9" fill="#333" text-anchor="end" >AA3</text><line x1="114.6" y1="621.4" x2="122.1" y2="621.4" stroke="#555" stroke-width="0.35"/><circle cx="117.9" cy="621.4" r="0.9" fill="#666"/><text x="158" y="622.3" font-family="'Liberation Sans', sans-serif" font-size="2.4" fill="#444" text-anchor="start" >4.90e-3</text><text x="41" y="625.9" font-family="'Liberation Sans', sans-serif" font-size="2.9" fill="#333" text-anchor="end" >AA7</text><line x1="122.9" y1="624.9" x2="125.9" y2="624.9" stroke="#555" stroke-width="0.35"/><circle cx="124.2" cy="624.9" r="0.9" fill="#666"/><text x="158" y="625.8" font-family="'Liberation Sans', sans-serif" font-size="2.4" fill="#444" text-anchor="start" >1.40e-3</text><text x="41" y="629.4" font-family="'Liberation Sans', sans-serif" font-size="2.9" fill="#333" text-anchor="end" >CBM9</text><line x1="125.4" y1="628.4" x2="127.9" y2="628.4" stroke="#555" stroke-width="0.35"/><circle cx="126.6" cy="628.4" r="0.9" fill="#666"/><text x="158" y="629.3" font-family="'Liberation Sans', sans-serif" font-size="2.4" fill="#444" text-anchor="start" >0.011</text><text x="41" y="632.9" font-family="'Liberation Sans', sans-serif" font-size="2.9" fill="#333" text-anchor="end" >GT2</text><line x1="133.7" y1="631.9" x2="142" y2="631.9" stroke="#555" stroke-width="0.35"/><circle cx="137.9" cy="631.9" r="0.9" fill="#666"/><text x="158" y="632.8" font-family="'Liberation Sans', sans-serif" font-size="2.4" fill="#444" text-anchor="start" >0.017</text><text x="41" y="636.4" font-family="'Liberation Sans', sans-serif" font-size="2.9" fill="#333" text-anchor="end" >CBM3</text><line x1="119.6" y1="635.4" x2="124.6" y2="635.4" stroke="#555" stroke-width="0.35"/><circle cx="122.1" cy="635.4" r="0.9" fill="#666"/><text x="158" y="636.3" font-family="'Liberation Sans', sans-serif" font-size="2.4" fill="#444" text-anchor="start" >0.023</text><text x="41" y="639.9" font-family="'Liberation Sans', sans-serif" font-size="2.9" fill="#333" text-anchor="end" >GT41</text><line x1="123.3" y1="638.9" x2="126.2" y2="638.9" stroke="#555" stroke-width="0.35"/><circle cx="124.6" cy="638.9" r="0.9" fill="#666"/><text x="158" y="639.8" font-family="'Liberation Sans', sans-serif" font-size="2.4" fill="#444" text-anchor="start" >0.023</text><text x="41" y="643.4" font-family="'Liberation Sans', sans-serif" font-size="2.9" fill="#333" text-anchor="end" >CBM13</text><line x1="127.6" y1="642.4" x2="128.9" y2="642.4" stroke="#555" stroke-width="0.35"/><circle cx="128.2" cy="642.4" r="0.9" fill="#666"/><text x="158" y="643.3" font-family="'Liberation Sans', sans-serif" font-size="2.4" fill="#444" text-anchor="start" >0.027</text><text x="41" y="646.9" font-family="'Liberation Sans', sans-serif" font-size="2.9" fill="#333" text-anchor="end" >GH23</text><line x1="137" y1="645.9" x2="150.3" y2="645.9" stroke="#555" stroke-width="0.35"/><circle cx="143.7" cy="645.9" r="0.9" fill="#666"/><text x="158" y="646.8" font-family="'Liberation Sans', sans-serif" font-size="2.4" fill="#444" text-anchor="start" >0.038</text><text x="41" y="650.4" font-family="'Liberation Sans', sans-serif" font-size="2.9" fill="#333" text-anchor="end" >PL12</text><line x1="124.2" y1="649.4" x2="127.6" y2="649.4" stroke="#555" stroke-width="0.35"/><circle cx="125.9" cy="649.4" r="0.9" fill="#666"/><text x="158" y="650.3" font-family="'Liberation Sans', sans-serif" font-size="2.4" fill="#444" text-anchor="start" >0.040</text><line x1="128.2" y1="605.3" x2="128.2" y2="651.5" stroke="#999" stroke-width="0.35"/><line x1="41.5" y1="653.5" x2="66.3" y2="653.5" stroke="#aaa" stroke-width="0.35"/><line x1="71.5" y1="653.5" x2="156.3" y2="653.5" stroke="#aaa" stroke-width="0.35"/><text x="42" y="656" font-family="'Liberation Sans', sans-serif" font-size="2.1" fill="#555" text-anchor="middle" >0.0</text><text x="65" y="656" font-family="'Liberation Sans', sans-serif" font-size="2.1" fill="#555" text-anchor="middle" >0.0</text><text x="54" y="659.2" font-family="'Liberation Sans', sans-serif" font-size="2.2" fill="#666" text-anchor="middle" >Mean proportion (%)</text><text x="114" y="659.2" font-family="'Liberation Sans', sans-serif" font-size="2.2" fill="#666" text-anchor="middle" >Difference in mean proportions (%)</text><text x="72" y="656" font-family="'Liberation Sans', sans-serif" font-size="2.0" fill="#666" text-anchor="middle" >-0.0</text><text x="82.5" y="656" font-family="'Liberation Sans', sans-serif" font-size="2.0" fill="#666" text-anchor="middle" >-0.0</text><text x="93" y="656" font-family="'Liberation Sans', sans-serif" font-size="2.0" fill="#666" text-anchor="middle" >-0.0</text><text x="103.5" y="656" font-family="'Liberation Sans', sans-serif" font-size="2.0" fill="#666" text-anchor="middle" >-0.0</text><text x="114" y="656" font-family="'Liberation Sans', sans-serif" font-size="2.0" fill="#666" text-anchor="middle" >-0.0</text><text x="124.5" y="656" font-family="'Liberation Sans', sans-serif" font-size="2.0" fill="#666" text-anchor="middle" >-0.0</text><text x="135" y="656" font-family="'Liberation Sans', sans-serif" font-size="2.0" fill="#666" text-anchor="middle" >-0.0</text><text x="145.5" y="656" font-family="'Liberation Sans', sans-serif" font-size="2.0" fill="#666" text-anchor="middle" >-0.0</text><text x="156" y="656" font-family="'Liberation Sans', sans-serif" font-size="2.0" fill="#666" text-anchor="middle" >-0.0</text><text transform="translate(168.5,628.4) rotate(-90)" font-family="'Liberation Sans', sans-serif" font-size="1.8" fill="#aaa" text-anchor="middle">p-value (corrected)</text><rect x="187.3" y="479" width="84.3" height="10" fill="#ebebeb" stroke="#9a9a9a" stroke-width="0.4"/><line x1="212.8" y1="479" x2="212.8" y2="489" stroke="#fff" stroke-width="0.5" stroke-dasharray="1 1"/><line x1="238.2" y1="479" x2="238.2" y2="489" stroke="#fff" stroke-width="0.5" stroke-dasharray="1 1"/><line x1="263.6" y1="479" x2="263.6" y2="489" stroke="#fff" stroke-width="0.5" stroke-dasharray="1 1"/><text x="186.1" y="482.6" font-family="'Liberation Sans', sans-serif" font-size="3.1" fill="#222" text-anchor="end" >AA4</text><text x="186.1" y="487.6" font-family="'Liberation Sans', sans-serif" font-size="3.1" fill="#222" text-anchor="end" >AA7</text><rect x="187.3" y="491.7" width="84.3" height="60.6" fill="#ebebeb" stroke="#9a9a9a" stroke-width="0.4"/><line x1="212.8" y1="491.7" x2="212.8" y2="552.3" stroke="#fff" stroke-width="0.5" stroke-dasharray="1 1"/><line x1="238.2" y1="491.7" x2="238.2" y2="552.3" stroke="#fff" stroke-width="0.5" stroke-dasharray="1 1"/><line x1="263.6" y1="491.7" x2="263.6" y2="552.3" stroke="#fff" stroke-width="0.5" stroke-dasharray="1 1"/><text x="186.1" y="495.32" font-family="'Liberation Sans', sans-serif" font-size="3.1" fill="#222" text-anchor="end" >CBM2</text><text x="186.1" y="500.38" font-family="'Liberation Sans', sans-serif" font-size="3.1" fill="#222" text-anchor="end" >CBM5</text><text x="186.1" y="505.43" font-family="'Liberation Sans', sans-serif" font-size="3.1" fill="#222" text-anchor="end" >CBM6</text><text x="186.1" y="510.48" font-family="'Liberation Sans', sans-serif" font-size="3.1" fill="#222" text-anchor="end" >CBM9</text><text x="186.1" y="515.52" font-family="'Liberation Sans', sans-serif" font-size="3.1" fill="#222" text-anchor="end" >CBM12</text><text x="186.1" y="520.58" font-family="'Liberation Sans', sans-serif" font-size="3.1" fill="#222" text-anchor="end" >CBM13</text><text x="186.1" y="525.62" font-family="'Liberation Sans', sans-serif" font-size="3.1" fill="#222" text-anchor="end" >CBM16</text><text x="186.1" y="530.67" font-family="'Liberation Sans', sans-serif" font-size="3.1" fill="#222" text-anchor="end" >CBM32</text><text x="186.1" y="535.73" font-family="'Liberation Sans', sans-serif" font-size="3.1" fill="#222" text-anchor="end" >CBM47</text><text x="186.1" y="540.77" font-family="'Liberation Sans', sans-serif" font-size="3.1" fill="#222" text-anchor="end" >CBM51</text><text x="186.1" y="545.82" font-family="'Liberation Sans', sans-serif" font-size="3.1" fill="#222" text-anchor="end" >CBM54</text><text x="186.1" y="550.88" font-family="'Liberation Sans', sans-serif" font-size="3.1" fill="#222" text-anchor="end" >CBM66</text><rect x="187.3" y="554.3" width="84.3" height="14.7" fill="#ebebeb" stroke="#9a9a9a" stroke-width="0.4"/><line x1="212.8" y1="554.3" x2="212.8" y2="569" stroke="#fff" stroke-width="0.5" stroke-dasharray="1 1"/><line x1="238.2" y1="554.3" x2="238.2" y2="569" stroke="#fff" stroke-width="0.5" stroke-dasharray="1 1"/><line x1="263.6" y1="554.3" x2="263.6" y2="569" stroke="#fff" stroke-width="0.5" stroke-dasharray="1 1"/><text x="186.1" y="557.85" font-family="'Liberation Sans', sans-serif" font-size="3.1" fill="#222" text-anchor="end" >CE1</text><text x="186.1" y="562.75" font-family="'Liberation Sans', sans-serif" font-size="3.1" fill="#222" text-anchor="end" >CE2</text><text x="186.1" y="567.65" font-family="'Liberation Sans', sans-serif" font-size="3.1" fill="#222" text-anchor="end" >CE3</text><rect x="187.3" y="571" width="84.3" height="36.3" fill="#ebebeb" stroke="#9a9a9a" stroke-width="0.4"/><line x1="212.8" y1="571" x2="212.8" y2="607.3" stroke="#fff" stroke-width="0.5" stroke-dasharray="1 1"/><line x1="238.2" y1="571" x2="238.2" y2="607.3" stroke="#fff" stroke-width="0.5" stroke-dasharray="1 1"/><line x1="263.6" y1="571" x2="263.6" y2="607.3" stroke="#fff" stroke-width="0.5" stroke-dasharray="1 1"/><text x="186.1" y="574.69" font-family="'Liberation Sans', sans-serif" font-size="3.1" fill="#222" text-anchor="end" >GH5</text><text x="186.1" y="579.88" font-family="'Liberation Sans', sans-serif" font-size="3.1" fill="#222" text-anchor="end" >GH6</text><text x="186.1" y="585.06" font-family="'Liberation Sans', sans-serif" font-size="3.1" fill="#222" text-anchor="end" >GH13</text><text x="186.1" y="590.25" font-family="'Liberation Sans', sans-serif" font-size="3.1" fill="#222" text-anchor="end" >GH16</text><text x="186.1" y="595.44" font-family="'Liberation Sans', sans-serif" font-size="3.1" fill="#222" text-anchor="end" >GH25</text><text x="186.1" y="600.62" font-family="'Liberation Sans', sans-serif" font-size="3.1" fill="#222" text-anchor="end" >GH65</text><text x="186.1" y="605.81" font-family="'Liberation Sans', sans-serif" font-size="3.1" fill="#222" text-anchor="end" >GH133</text><rect x="187.3" y="610" width="84.3" height="35.5" fill="#ebebeb" stroke="#9a9a9a" stroke-width="0.4"/><line x1="212.8" y1="610" x2="212.8" y2="645.5" stroke="#fff" stroke-width="0.5" stroke-dasharray="1 1"/><line x1="238.2" y1="610" x2="238.2" y2="645.5" stroke="#fff" stroke-width="0.5" stroke-dasharray="1 1"/><line x1="263.6" y1="610" x2="263.6" y2="645.5" stroke="#fff" stroke-width="0.5" stroke-dasharray="1 1"/><text x="186.1" y="613.64" font-family="'Liberation Sans', sans-serif" font-size="3.1" fill="#222" text-anchor="end" >GT2</text><text x="186.1" y="618.71" font-family="'Liberation Sans', sans-serif" font-size="3.1" fill="#222" text-anchor="end" >GT4</text><text x="186.1" y="623.78" font-family="'Liberation Sans', sans-serif" font-size="3.1" fill="#222" text-anchor="end" >GT24</text><text x="186.1" y="628.85" font-family="'Liberation Sans', sans-serif" font-size="3.1" fill="#222" text-anchor="end" >GT41</text><text x="186.1" y="633.92" font-family="'Liberation Sans', sans-serif" font-size="3.1" fill="#222" text-anchor="end" >GT4x</text><text x="186.1" y="638.99" font-family="'Liberation Sans', sans-serif" font-size="3.1" fill="#222" text-anchor="end" >GT66</text><text x="186.1" y="644.06" font-family="'Liberation Sans', sans-serif" font-size="3.1" fill="#222" text-anchor="end" >GT90</text><rect x="187.3" y="648.3" width="84.3" height="4.5" fill="#ebebeb" stroke="#9a9a9a" stroke-width="0.4"/><line x1="212.8" y1="648.3" x2="212.8" y2="652.8" stroke="#fff" stroke-width="0.5" stroke-dasharray="1 1"/><line x1="238.2" y1="648.3" x2="238.2" y2="652.8" stroke="#fff" stroke-width="0.5" stroke-dasharray="1 1"/><line x1="263.6" y1="648.3" x2="263.6" y2="652.8" stroke="#fff" stroke-width="0.5" stroke-dasharray="1 1"/><text x="186.1" y="651.65" font-family="'Liberation Sans', sans-serif" font-size="3.1" fill="#222" text-anchor="end" >PL12</text><path d="M187.3 479.8h11.4v1.1h-11.4zM187.3 484.8h4.3v1.1h-4.3zM187.3 492.5h61.9v1.1h-61.9zM187.3 497.5h16.7v1.1h-16.7zM187.3 502.6h6.8v1.1h-6.8zM187.3 507.6h3.9v1.1h-3.9zM187.3 512.7h11.8v1.1h-11.8zM187.3 517.8h51.5v1.1h-51.5zM187.3 522.8h45.5v1.1h-45.5zM187.3 527.8h17.4v1.1h-17.4zM187.3 532.9h.9v1.1h-.9zM187.3 537.9h4.2v1.1h-4.2zM187.3 543h2.8v1.1h-2.8zM187.3 548h14.9v1.1h-14.9zM187.3 555h11.3v1.1h-11.3zM187.3 559.9h13v1.1h-13zM187.3 564.8h16.8v1.1h-16.8zM187.3 571.9h77v1.1h-77zM187.3 577.1h12.7v1.1h-12.7zM187.3 582.2h51.4v1.1h-51.4zM187.3 587.4h20v1.1h-20zM187.3 592.6h21.6v1.1h-21.6zM187.3 597.8h9.9v1.1h-9.9zM187.3 603h12.9v1.1h-12.9zM187.3 610.8h49v1.1h-49zM187.3 615.9h51.5v1.1h-51.5zM187.3 621h13v1.1h-13zM187.3 626h11.7v1.1h-11.7zM187.3 631.1h3.9v1.1h-3.9zM187.3 636.2h5.6v1.1h-5.6zM187.3 641.2h2.3v1.1h-2.3zM187.3 648.8h1v1.1h-1z" fill="#8C6E38"/><path d="M187.3 480.9h13.9v1.1h-13.9zM187.3 485.9h3.9v1.1h-3.9zM187.3 493.6h55.6v1.1h-55.6zM187.3 498.7h17.5v1.1h-17.5zM187.3 503.7h8.2v1.1h-8.2zM187.3 508.8h3.9v1.1h-3.9zM187.3 513.8h13.7v1.1h-13.7zM187.3 518.9h56.1v1.1h-56.1zM187.3 523.9h54v1.1h-54zM187.3 529h17.1v1.1h-17.1zM187.3 534h1v1.1h-1zM187.3 539.1h4v1.1h-4zM187.3 544.1h2.7v1.1h-2.7zM187.3 549.2h14.5v1.1h-14.5zM187.3 556.2h10.5v1.1h-10.5zM187.3 561.1h11.8v1.1h-11.8zM187.3 566h20v1.1h-20zM187.3 573h79.1v1.1h-79.1zM187.3 578.2h13.3v1.1h-13.3zM187.3 583.4h49.4v1.1h-49.4zM187.3 588.6h21.8v1.1h-21.8zM187.3 593.8h21.7v1.1h-21.7zM187.3 598.9h10.8v1.1h-10.8zM187.3 604.1h13.7v1.1h-13.7zM187.3 612h49.2v1.1h-49.2zM187.3 617h46.4v1.1h-46.4zM187.3 622.1h12.9v1.1h-12.9zM187.3 627.2h11.9v1.1h-11.9zM187.3 632.2h4.2v1.1h-4.2zM187.3 637.3h6.1v1.1h-6.1zM187.3 642.4h2.5v1.1h-2.5zM187.3 650h1v1.1h-1z" fill="#5E6E2E"/><path d="M187.3 482.1h11.2v1.1h-11.2zM187.3 487.1h3.9v1.1h-3.9zM187.3 494.8h60.4v1.1h-60.4zM187.3 499.8h17.4v1.1h-17.4zM187.3 504.9h6.7v1.1h-6.7zM187.3 509.9h4v1.1h-4zM187.3 515h12.1v1.1h-12.1zM187.3 520h65.9v1.1h-65.9zM187.3 525.1h50.2v1.1h-50.2zM187.3 530.1h18.3v1.1h-18.3zM187.3 535.2h1.1v1.1h-1.1zM187.3 540.2h3.7v1.1h-3.7zM187.3 545.3h2.4v1.1h-2.4zM187.3 550.3h15v1.1h-15zM187.3 557.3h10.4v1.1h-10.4zM187.3 562.2h13.4v1.1h-13.4zM187.3 567.1h20.1v1.1h-20.1zM187.3 574.2h73v1.1h-73zM187.3 579.4h14.2v1.1h-14.2zM187.3 584.5h59.1v1.1h-59.1zM187.3 589.7h19.1v1.1h-19.1zM187.3 594.9h22.6v1.1h-22.6zM187.3 600.1h10.5v1.1h-10.5zM187.3 605.3h11.4v1.1h-11.4zM187.3 613.1h54.2v1.1h-54.2zM187.3 618.2h52.1v1.1h-52.1zM187.3 623.3h15.1v1.1h-15.1zM187.3 628.3h12.3v1.1h-12.3zM187.3 633.4h4.2v1.1h-4.2zM187.3 638.5h5.6v1.1h-5.6zM187.3 643.5h2.4v1.1h-2.4zM187.3 651.1h1.1v1.1h-1.1z" fill="#4E6276"/><text x="187.3" y="657.8" font-family="'Liberation Sans', sans-serif" font-size="2.4" fill="#555" text-anchor="middle" >0.00</text><text x="212.75" y="657.8" font-family="'Liberation Sans', sans-serif" font-size="2.4" fill="#555" text-anchor="middle" >0.04</text><text x="238.2" y="657.8" font-family="'Liberation Sans', sans-serif" font-size="2.4" fill="#555" text-anchor="middle" >0.08</text><text x="263.65" y="657.8" font-family="'Liberation Sans', sans-serif" font-size="2.4" fill="#555" text-anchor="middle" >0.12</text><text x="226.8" y="662.8" font-family="'Liberation Sans', sans-serif" font-size="3.0" fill="#444" text-anchor="middle" >Relative abundance (%)</text><rect x="275" y="548.0" width="5" height="5" fill="#F4A340"/><text x="281" y="551.9" font-family="'Liberation Sans', sans-serif" font-size="3.9" fill="#444" text-anchor="start" >Hongxin</text><rect x="275" y="558.3" width="5" height="5" fill="#A6CF4E"/><text x="281" y="562.2" font-family="'Liberation Sans', sans-serif" font-size="3.9" fill="#444" text-anchor="start" >Houhuo</text><rect x="275" y="568.6" width="5" height="5" fill="#7FA3CB"/><text x="281" y="572.5" font-family="'Liberation Sans', sans-serif" font-size="3.9" fill="#444" text-anchor="start" >Qingcha</text><rect x="317.9" y="352.3" width="122.7" height="111.8" fill="#fff" stroke="#777" stroke-width="0.6"/><line x1="379" y1="352.3" x2="379" y2="464.1" stroke="#ddd" stroke-width="0.4" stroke-dasharray="1 1"/><line x1="317.9" y1="408.5" x2="440.6" y2="408.5" stroke="#ddd" stroke-width="0.4" stroke-dasharray="1 1"/><line x1="398.7" y1="357.5" x2="383.4" y2="384.1" stroke="#8a8a8a" stroke-width="0.4"/><line x1="396.9" y1="374.2" x2="383.4" y2="384.1" stroke="#8a8a8a" stroke-width="0.4"/><line x1="401.7" y1="375.4" x2="383.4" y2="384.1" stroke="#8a8a8a" stroke-width="0.4"/><line x1="402.9" y1="379.3" x2="383.4" y2="384.1" stroke="#8a8a8a" stroke-width="0.4"/><line x1="403.3" y1="385.3" x2="383" y2="405.5" stroke="#8a8a8a" stroke-width="0.4"/><line x1="390.6" y1="382.3" x2="385.4" y2="420.4" stroke="#8a8a8a" stroke-width="0.4"/><line x1="403.3" y1="402" x2="385.4" y2="420.4" stroke="#8a8a8a" stroke-width="0.4"/><line x1="395.7" y1="434.3" x2="393.3" y2="419.4" stroke="#8a8a8a" stroke-width="0.4"/><line x1="398.7" y1="417.9" x2="384.6" y2="395.6" stroke="#8a8a8a" stroke-width="0.4"/><line x1="394.9" y1="420.4" x2="393.3" y2="419.4" stroke="#8a8a8a" stroke-width="0.4"/><line x1="357.2" y1="382.1" x2="383.4" y2="408.5" stroke="#8a8a8a" stroke-width="0.4"/><line x1="364.5" y1="400.6" x2="384.4" y2="416.5" stroke="#8a8a8a" stroke-width="0.4"/><line x1="376.7" y1="398.2" x2="383.4" y2="408.5" stroke="#8a8a8a" stroke-width="0.4"/><line x1="354" y1="413.1" x2="369.5" y2="412.5" stroke="#8a8a8a" stroke-width="0.4"/><line x1="369.9" y1="411.9" x2="369.5" y2="412.5" stroke="#8a8a8a" stroke-width="0.4"/><line x1="383" y1="455.6" x2="385.8" y2="419.4" stroke="#8a8a8a" stroke-width="0.4"/><line x1="400.9" y1="422" x2="379.4" y2="417.5" stroke="#8a8a8a" stroke-width="0.4"/><line x1="397.3" y1="438.3" x2="383.4" y2="397.6" stroke="#8a8a8a" stroke-width="0.4"/><line x1="396.1" y1="439.3" x2="385.8" y2="419.4" stroke="#8a8a8a" stroke-width="0.4"/><line x1="323.4" y1="394.6" x2="350.6" y2="409.5" stroke="#8a8a8a" stroke-width="0.4"/><line x1="343.3" y1="390.6" x2="358.2" y2="404" stroke="#8a8a8a" stroke-width="0.4"/><line x1="335.7" y1="414.5" x2="350.6" y2="409.5" stroke="#8a8a8a" stroke-width="0.4"/><line x1="348.3" y1="419.8" x2="350.6" y2="409.5" stroke="#8a8a8a" stroke-width="0.4"/><line x1="356.6" y1="427" x2="380.4" y2="415.1" stroke="#8a8a8a" stroke-width="0.4"/><line x1="373.9" y1="413.9" x2="377.1" y2="410.5" stroke="#8a8a8a" stroke-width="0.4"/><line x1="387.8" y1="437.3" x2="374.5" y2="420.4" stroke="#8a8a8a" stroke-width="0.4"/><path d="M398.7 355.4L400.7 358.9L396.7 358.9Z" fill="#5DAA5A" stroke="#3a7a3a" stroke-width="0.3"/><path d="M396.9 372.1L398.9 375.6L394.9 375.6Z" fill="#5DAA5A" stroke="#3a7a3a" stroke-width="0.3"/><path d="M401.7 373.3L403.7 376.8L399.7 376.8Z" fill="#5DAA5A" stroke="#3a7a3a" stroke-width="0.3"/><path d="M402.9 377.2L404.9 380.8L400.9 380.8Z" fill="#5DAA5A" stroke="#3a7a3a" stroke-width="0.3"/><path d="M403.3 383.2L405.3 386.8L401.3 386.8Z" fill="#5DAA5A" stroke="#3a7a3a" stroke-width="0.3"/><path d="M390.6 380.2L392.6 383.8L388.6 383.8Z" fill="#5DAA5A" stroke="#3a7a3a" stroke-width="0.3"/><path d="M403.3 399.9L405.3 403.4L401.3 403.4Z" fill="#5DAA5A" stroke="#3a7a3a" stroke-width="0.3"/><path d="M395.7 432.2L397.7 435.8L393.7 435.8Z" fill="#5DAA5A" stroke="#3a7a3a" stroke-width="0.3"/><path d="M398.7 415.8L400.7 419.3L396.7 419.3Z" fill="#5DAA5A" stroke="#3a7a3a" stroke-width="0.3"/><path d="M394.9 418.3L396.9 421.9L392.9 421.9Z" fill="#5DAA5A" stroke="#3a7a3a" stroke-width="0.3"/><circle cx="383.4" cy="384.1" r="1.6" fill="#5DAA5A" stroke="#3a7a3a" stroke-width="0.3"/><circle cx="384.6" cy="395.6" r="1.6" fill="#5DAA5A" stroke="#3a7a3a" stroke-width="0.3"/><circle cx="383" cy="405.5" r="1.6" fill="#5DAA5A" stroke="#3a7a3a" stroke-width="0.3"/><circle cx="387.4" cy="412.5" r="1.6" fill="#5DAA5A" stroke="#3a7a3a" stroke-width="0.3"/><circle cx="385.4" cy="420.4" r="1.6" fill="#5DAA5A" stroke="#3a7a3a" stroke-width="0.3"/><circle cx="380.8" cy="425" r="1.6" fill="#5DAA5A" stroke="#3a7a3a" stroke-width="0.3"/><circle cx="393.3" cy="419.4" r="1.6" fill="#5DAA5A" stroke="#3a7a3a" stroke-width="0.3"/><path d="M357.2 380L359.2 383.6L355.2 383.6Z" fill="#D8383E" stroke="#9a2025" stroke-width="0.3"/><path d="M364.5 398.5L366.5 402L362.6 402Z" fill="#D8383E" stroke="#9a2025" stroke-width="0.3"/><path d="M376.7 396.1L378.7 399.7L374.7 399.7Z" fill="#D8383E" stroke="#9a2025" stroke-width="0.3"/><path d="M354 411L356 414.6L352 414.6Z" fill="#D8383E" stroke="#9a2025" stroke-width="0.3"/><path d="M369.9 409.8L371.9 413.4L367.9 413.4Z" fill="#D8383E" stroke="#9a2025" stroke-width="0.3"/><path d="M383 453.5L385 457.1L381 457.1Z" fill="#D8383E" stroke="#9a2025" stroke-width="0.3"/><path d="M400.9 419.9L402.9 423.5L398.9 423.5Z" fill="#D8383E" stroke="#9a2025" stroke-width="0.3"/><path d="M397.3 436.2L399.3 439.8L395.3 439.8Z" fill="#D8383E" stroke="#9a2025" stroke-width="0.3"/><path d="M396.1 437.2L398.1 440.8L394.1 440.8Z" fill="#D8383E" stroke="#9a2025" stroke-width="0.3"/><circle cx="383.4" cy="391.2" r="1.6" fill="#D8383E" stroke="#9a2025" stroke-width="0.3"/><circle cx="383.4" cy="397.6" r="1.6" fill="#D8383E" stroke="#9a2025" stroke-width="0.3"/><circle cx="385.4" cy="400.6" r="1.6" fill="#D8383E" stroke="#9a2025" stroke-width="0.3"/><circle cx="383.4" cy="408.5" r="1.6" fill="#D8383E" stroke="#9a2025" stroke-width="0.3"/><circle cx="385.8" cy="407.5" r="1.6" fill="#D8383E" stroke="#9a2025" stroke-width="0.3"/><circle cx="384.4" cy="416.5" r="1.6" fill="#D8383E" stroke="#9a2025" stroke-width="0.3"/><circle cx="387.4" cy="417.5" r="1.6" fill="#D8383E" stroke="#9a2025" stroke-width="0.3"/><circle cx="385.8" cy="419.4" r="1.6" fill="#D8383E" stroke="#9a2025" stroke-width="0.3"/><circle cx="379.4" cy="417.5" r="1.6" fill="#D8383E" stroke="#9a2025" stroke-width="0.3"/><circle cx="369.5" cy="412.5" r="1.6" fill="#D8383E" stroke="#9a2025" stroke-width="0.3"/><path d="M323.4 392.5L325.4 396.1L321.4 396.1Z" fill="#4A88C0" stroke="#2a5a88" stroke-width="0.3"/><path d="M343.3 388.5L345.3 392.1L341.3 392.1Z" fill="#4A88C0" stroke="#2a5a88" stroke-width="0.3"/><path d="M335.7 412.4L337.7 415.9L333.8 415.9Z" fill="#4A88C0" stroke="#2a5a88" stroke-width="0.3"/><path d="M348.3 417.7L350.3 421.3L346.3 421.3Z" fill="#4A88C0" stroke="#2a5a88" stroke-width="0.3"/><path d="M356.6 424.9L358.6 428.5L354.6 428.5Z" fill="#4A88C0" stroke="#2a5a88" stroke-width="0.3"/><path d="M373.9 411.8L375.9 415.4L371.9 415.4Z" fill="#4A88C0" stroke="#2a5a88" stroke-width="0.3"/><path d="M387.8 435.2L389.8 438.8L385.8 438.8Z" fill="#4A88C0" stroke="#2a5a88" stroke-width="0.3"/><circle cx="373.1" cy="394.6" r="1.6" fill="#4A88C0" stroke="#2a5a88" stroke-width="0.3"/><circle cx="375.1" cy="394" r="1.6" fill="#4A88C0" stroke="#2a5a88" stroke-width="0.3"/><circle cx="358.2" cy="404" r="1.6" fill="#4A88C0" stroke="#2a5a88" stroke-width="0.3"/><circle cx="364" cy="403.2" r="1.6" fill="#4A88C0" stroke="#2a5a88" stroke-width="0.3"/><circle cx="350.6" cy="409.5" r="1.6" fill="#4A88C0" stroke="#2a5a88" stroke-width="0.3"/><circle cx="359.2" cy="412.5" r="1.6" fill="#4A88C0" stroke="#2a5a88" stroke-width="0.3"/><circle cx="360.6" cy="411.9" r="1.6" fill="#4A88C0" stroke="#2a5a88" stroke-width="0.3"/><circle cx="377.1" cy="410.5" r="1.6" fill="#4A88C0" stroke="#2a5a88" stroke-width="0.3"/><circle cx="380.4" cy="415.1" r="1.6" fill="#4A88C0" stroke="#2a5a88" stroke-width="0.3"/><circle cx="374.5" cy="420.4" r="1.6" fill="#4A88C0" stroke="#2a5a88" stroke-width="0.3"/><circle cx="367.5" cy="425.4" r="1.6" fill="#4A88C0" stroke="#2a5a88" stroke-width="0.3"/><text x="323.4" y="467.7" font-family="'Liberation Sans', sans-serif" font-size="2.4" fill="#777" text-anchor="middle" >-0.2</text><text x="351.2" y="467.7" font-family="'Liberation Sans', sans-serif" font-size="2.4" fill="#777" text-anchor="middle" >-0.1</text><text x="379" y="467.7" font-family="'Liberation Sans', sans-serif" font-size="2.4" fill="#777" text-anchor="middle" >0.0</text><text x="406.9" y="467.7" font-family="'Liberation Sans', sans-serif" font-size="2.4" fill="#777" text-anchor="middle" >0.1</text><text x="435" y="467.7" font-family="'Liberation Sans', sans-serif" font-size="2.4" fill="#777" text-anchor="middle" >0.2</text><text x="316.4" y="370.7" font-family="'Liberation Sans', sans-serif" font-size="2.4" fill="#777" text-anchor="end" >0.2</text><text x="316.4" y="390.2" font-family="'Liberation Sans', sans-serif" font-size="2.4" fill="#777" text-anchor="end" >0.1</text><text x="316.4" y="409.4" font-family="'Liberation Sans', sans-serif" font-size="2.4" fill="#777" text-anchor="end" >0.0</text><text x="316.4" y="428.9" font-family="'Liberation Sans', sans-serif" font-size="2.4" fill="#777" text-anchor="end" >-0.1</text><text x="316.4" y="448.1" font-family="'Liberation Sans', sans-serif" font-size="2.4" fill="#777" text-anchor="end" >-0.2</text><text x="320.4" y="358.1" font-family="'Liberation Sans', sans-serif" font-size="5.2" fill="#333" text-anchor="start" >r = 0.22</text><text x="320.4" y="363.9" font-family="'Liberation Sans', sans-serif" font-size="5.2" fill="#333" text-anchor="start" >p = 0.003</text><text x="379.25" y="472.9" font-family="'Liberation Sans', sans-serif" font-size="5.0" fill="#444" text-anchor="middle" >Dimension 1 (27.5%)</text><text transform="translate(310.7,408.2) rotate(-90)" font-family="'Liberation Sans', sans-serif" font-size="5.0" fill="#444" text-anchor="middle">Dimension 2 (17.9%)</text><circle cx="444.1" cy="392.6" r="1.5" fill="#111"/><text x="447.1" y="393.7" font-family="'Liberation Sans', sans-serif" font-size="3.1" fill="#333" text-anchor="start" >Species</text><path d="M444.1 397.2L446 400.6L442.2 400.6Z" fill="#111" stroke="#111" stroke-width="0.3"/><text x="447.1" y="400.2" font-family="'Liberation Sans', sans-serif" font-size="3.1" fill="#333" text-anchor="start" >Physicochemical</text><circle cx="444.3" cy="410.1" r="2" fill="#D8383E" stroke="#9a2025" stroke-width="0.3"/><text x="447.3" y="411.2" font-family="'Liberation Sans', sans-serif" font-size="3.1" fill="#333" text-anchor="start" >Hongxin</text><circle cx="444.3" cy="415.7" r="2" fill="#4A88C0" stroke="#2a5a88" stroke-width="0.3"/><text x="447.3" y="416.8" font-family="'Liberation Sans', sans-serif" font-size="3.1" fill="#333" text-anchor="start" >Houhuo</text><circle cx="444.3" cy="421.3" r="2" fill="#5DAA5A" stroke="#3a7a3a" stroke-width="0.3"/><text x="447.3" y="422.4" font-family="'Liberation Sans', sans-serif" font-size="3.1" fill="#333" text-anchor="start" >Qingcha</text><rect x="502.4" y="355.5" width="122.1" height="110.5" fill="#fff" stroke="#777" stroke-width="0.6"/><line x1="574.9" y1="355.5" x2="574.9" y2="466" stroke="#ddd" stroke-width="0.4" stroke-dasharray="1 1"/><line x1="502.4" y1="423" x2="624.5" y2="423" stroke="#ddd" stroke-width="0.4" stroke-dasharray="1 1"/><line x1="590.2" y1="396.6" x2="580.2" y2="398.2" stroke="#8a8a8a" stroke-width="0.4"/><line x1="599.5" y1="404.9" x2="581.2" y2="409.1" stroke="#8a8a8a" stroke-width="0.4"/><line x1="592.1" y1="411.9" x2="581.2" y2="409.1" stroke="#8a8a8a" stroke-width="0.4"/><line x1="596.7" y1="414.1" x2="581.2" y2="409.1" stroke="#8a8a8a" stroke-width="0.4"/><line x1="594.1" y1="423.8" x2="579.2" y2="403.6" stroke="#8a8a8a" stroke-width="0.4"/><line x1="559.8" y1="431.8" x2="577.2" y2="427.4" stroke="#8a8a8a" stroke-width="0.4"/><line x1="581.2" y1="431.8" x2="577.2" y2="427.4" stroke="#8a8a8a" stroke-width="0.4"/><line x1="574.9" y1="414.5" x2="579.2" y2="403.6" stroke="#8a8a8a" stroke-width="0.4"/><line x1="508.7" y1="403.6" x2="564.5" y2="392.2" stroke="#8a8a8a" stroke-width="0.4"/><line x1="539.5" y1="413.1" x2="567.3" y2="413.9" stroke="#8a8a8a" stroke-width="0.4"/><line x1="558.4" y1="420" x2="567.3" y2="413.9" stroke="#8a8a8a" stroke-width="0.4"/><line x1="560.4" y1="420.4" x2="564.5" y2="392.2" stroke="#8a8a8a" stroke-width="0.4"/><line x1="565.3" y1="419.4" x2="564.5" y2="392.2" stroke="#8a8a8a" stroke-width="0.4"/><line x1="584.8" y1="411.1" x2="571.3" y2="418.5" stroke="#8a8a8a" stroke-width="0.4"/><line x1="586.2" y1="417.5" x2="571.3" y2="418.5" stroke="#8a8a8a" stroke-width="0.4"/><line x1="598.1" y1="421.4" x2="573.3" y2="432.4" stroke="#8a8a8a" stroke-width="0.4"/><line x1="583.2" y1="430.4" x2="573.3" y2="432.4" stroke="#8a8a8a" stroke-width="0.4"/><line x1="578.2" y1="455.2" x2="575.3" y2="457.2" stroke="#8a8a8a" stroke-width="0.4"/><line x1="575.3" y1="454.2" x2="573.3" y2="432.4" stroke="#8a8a8a" stroke-width="0.4"/><line x1="569.3" y1="418.5" x2="572.3" y2="438.3" stroke="#8a8a8a" stroke-width="0.4"/><path d="M590.2 394.5L592.2 398.1L588.2 398.1Z" fill="#D8383E" stroke="#9a2025" stroke-width="0.3"/><path d="M599.5 402.8L601.5 406.4L597.5 406.4Z" fill="#D8383E" stroke="#9a2025" stroke-width="0.3"/><path d="M592.1 409.8L594.1 413.4L590.1 413.4Z" fill="#D8383E" stroke="#9a2025" stroke-width="0.3"/><path d="M596.7 412L598.7 415.6L594.7 415.6Z" fill="#D8383E" stroke="#9a2025" stroke-width="0.3"/><path d="M594.1 421.7L596.1 425.3L592.1 425.3Z" fill="#D8383E" stroke="#9a2025" stroke-width="0.3"/><path d="M559.8 429.7L561.8 433.2L557.8 433.2Z" fill="#D8383E" stroke="#9a2025" stroke-width="0.3"/><path d="M581.2 429.7L583.2 433.2L579.2 433.2Z" fill="#D8383E" stroke="#9a2025" stroke-width="0.3"/><path d="M574.9 412.4L576.9 415.9L572.9 415.9Z" fill="#D8383E" stroke="#9a2025" stroke-width="0.3"/><circle cx="576.3" cy="361.4" r="1.6" fill="#D8383E" stroke="#9a2025" stroke-width="0.3"/><circle cx="580.2" cy="398.2" r="1.6" fill="#D8383E" stroke="#9a2025" stroke-width="0.3"/><circle cx="579.2" cy="403.6" r="1.6" fill="#D8383E" stroke="#9a2025" stroke-width="0.3"/><circle cx="578.8" cy="410.1" r="1.6" fill="#D8383E" stroke="#9a2025" stroke-width="0.3"/><circle cx="580.2" cy="411.1" r="1.6" fill="#D8383E" stroke="#9a2025" stroke-width="0.3"/><circle cx="581.2" cy="409.1" r="1.6" fill="#D8383E" stroke="#9a2025" stroke-width="0.3"/><circle cx="578.2" cy="416.5" r="1.6" fill="#D8383E" stroke="#9a2025" stroke-width="0.3"/><circle cx="577.2" cy="427.4" r="1.6" fill="#D8383E" stroke="#9a2025" stroke-width="0.3"/><path d="M508.7 401.5L510.7 405L506.7 405Z" fill="#4A88C0" stroke="#2a5a88" stroke-width="0.3"/><path d="M539.5 411L541.5 414.6L537.5 414.6Z" fill="#4A88C0" stroke="#2a5a88" stroke-width="0.3"/><path d="M558.4 417.9L560.4 421.5L556.4 421.5Z" fill="#4A88C0" stroke="#2a5a88" stroke-width="0.3"/><path d="M560.4 418.3L562.4 421.9L558.4 421.9Z" fill="#4A88C0" stroke="#2a5a88" stroke-width="0.3"/><path d="M565.3 417.3L567.3 420.9L563.3 420.9Z" fill="#4A88C0" stroke="#2a5a88" stroke-width="0.3"/><path d="M584.8 409L586.8 412.6L582.8 412.6Z" fill="#4A88C0" stroke="#2a5a88" stroke-width="0.3"/><path d="M586.2 415.4L588.2 418.9L584.2 418.9Z" fill="#4A88C0" stroke="#2a5a88" stroke-width="0.3"/><circle cx="570.9" cy="387.7" r="1.6" fill="#4A88C0" stroke="#2a5a88" stroke-width="0.3"/><circle cx="564.5" cy="392.2" r="1.6" fill="#4A88C0" stroke="#2a5a88" stroke-width="0.3"/><circle cx="566.7" cy="396.2" r="1.6" fill="#4A88C0" stroke="#2a5a88" stroke-width="0.3"/><circle cx="566.7" cy="400.6" r="1.6" fill="#4A88C0" stroke="#2a5a88" stroke-width="0.3"/><circle cx="567.3" cy="413.9" r="1.6" fill="#4A88C0" stroke="#2a5a88" stroke-width="0.3"/><circle cx="569.3" cy="413.9" r="1.6" fill="#4A88C0" stroke="#2a5a88" stroke-width="0.3"/><circle cx="571.3" cy="418.5" r="1.6" fill="#4A88C0" stroke="#2a5a88" stroke-width="0.3"/><circle cx="572.3" cy="422.4" r="1.6" fill="#4A88C0" stroke="#2a5a88" stroke-width="0.3"/><circle cx="571.3" cy="449.2" r="1.6" fill="#4A88C0" stroke="#2a5a88" stroke-width="0.3"/><path d="M598.1 419.3L600.1 422.9L596.1 422.9Z" fill="#5DAA5A" stroke="#3a7a3a" stroke-width="0.3"/><path d="M583.2 428.3L585.2 431.8L581.2 431.8Z" fill="#5DAA5A" stroke="#3a7a3a" stroke-width="0.3"/><path d="M578.2 453.1L580.2 456.7L576.2 456.7Z" fill="#5DAA5A" stroke="#3a7a3a" stroke-width="0.3"/><path d="M575.3 452.1L577.3 455.7L573.3 455.7Z" fill="#5DAA5A" stroke="#3a7a3a" stroke-width="0.3"/><path d="M569.3 416.4L571.3 419.9L567.3 419.9Z" fill="#5DAA5A" stroke="#3a7a3a" stroke-width="0.3"/><circle cx="573.3" cy="432.4" r="1.6" fill="#5DAA5A" stroke="#3a7a3a" stroke-width="0.3"/><circle cx="574.3" cy="437.3" r="1.6" fill="#5DAA5A" stroke="#3a7a3a" stroke-width="0.3"/><circle cx="571.3" cy="443.3" r="1.6" fill="#5DAA5A" stroke="#3a7a3a" stroke-width="0.3"/><circle cx="570.3" cy="444.3" r="1.6" fill="#5DAA5A" stroke="#3a7a3a" stroke-width="0.3"/><circle cx="575.3" cy="443.3" r="1.6" fill="#5DAA5A" stroke="#3a7a3a" stroke-width="0.3"/><circle cx="573.7" cy="453.2" r="1.6" fill="#5DAA5A" stroke="#3a7a3a" stroke-width="0.3"/><circle cx="575.3" cy="457.2" r="1.6" fill="#5DAA5A" stroke="#3a7a3a" stroke-width="0.3"/><circle cx="572.3" cy="438.3" r="1.6" fill="#5DAA5A" stroke="#3a7a3a" stroke-width="0.3"/><text x="526.6" y="469.6" font-family="'Liberation Sans', sans-serif" font-size="2.4" fill="#777" text-anchor="middle" >-0.2</text><text x="550.7" y="469.6" font-family="'Liberation Sans', sans-serif" font-size="2.4" fill="#777" text-anchor="middle" >-0.1</text><text x="574.9" y="469.6" font-family="'Liberation Sans', sans-serif" font-size="2.4" fill="#777" text-anchor="middle" >0.0</text><text x="599" y="469.6" font-family="'Liberation Sans', sans-serif" font-size="2.4" fill="#777" text-anchor="middle" >0.1</text><text x="623.2" y="469.6" font-family="'Liberation Sans', sans-serif" font-size="2.4" fill="#777" text-anchor="middle" >0.2</text><text x="500.9" y="378.5" font-family="'Liberation Sans', sans-serif" font-size="2.4" fill="#777" text-anchor="end" >0.02</text><text x="500.9" y="401.2" font-family="'Liberation Sans', sans-serif" font-size="2.4" fill="#777" text-anchor="end" >0.01</text><text x="500.9" y="423.9" font-family="'Liberation Sans', sans-serif" font-size="2.4" fill="#777" text-anchor="end" >0.00</text><text x="500.9" y="445.9" font-family="'Liberation Sans', sans-serif" font-size="2.4" fill="#777" text-anchor="end" >-0.01</text><text x="500.9" y="466.9" font-family="'Liberation Sans', sans-serif" font-size="2.4" fill="#777" text-anchor="end" >-0.02</text><text x="504.9" y="361.3" font-family="'Liberation Sans', sans-serif" font-size="5.2" fill="#333" text-anchor="start" >r = 0.20</text><text x="504.9" y="367.1" font-family="'Liberation Sans', sans-serif" font-size="5.2" fill="#333" text-anchor="start" >p = 0.025</text><text x="563.45" y="474.8" font-family="'Liberation Sans', sans-serif" font-size="5.0" fill="#444" text-anchor="middle" >Dimension 1 (51.0%)</text><text transform="translate(495.2,410.8) rotate(-90)" font-family="'Liberation Sans', sans-serif" font-size="5.0" fill="#444" text-anchor="middle">Dimension 2 (12.4%)</text><circle cx="628.5" cy="399" r="1.5" fill="#111"/><text x="631.5" y="400.1" font-family="'Liberation Sans', sans-serif" font-size="3.1" fill="#333" text-anchor="start" >Pathway</text><path d="M628.5 403.6L630.4 407L626.6 407Z" fill="#111" stroke="#111" stroke-width="0.3"/><text x="631.5" y="406.6" font-family="'Liberation Sans', sans-serif" font-size="3.1" fill="#333" text-anchor="start" >Physicochemical</text><circle cx="628.7" cy="416.5" r="2" fill="#D8383E" stroke="#9a2025" stroke-width="0.3"/><text x="631.7" y="417.6" font-family="'Liberation Sans', sans-serif" font-size="3.1" fill="#333" text-anchor="start" >Hongxin</text><circle cx="628.7" cy="422.1" r="2" fill="#4A88C0" stroke="#2a5a88" stroke-width="0.3"/><text x="631.7" y="423.2" font-family="'Liberation Sans', sans-serif" font-size="3.1" fill="#333" text-anchor="start" >Houhuo</text><circle cx="628.7" cy="427.7" r="2" fill="#5DAA5A" stroke="#3a7a3a" stroke-width="0.3"/><text x="631.7" y="428.8" font-family="'Liberation Sans', sans-serif" font-size="3.1" fill="#333" text-anchor="start" >Qingcha</text><rect x="323.3" y="519.8" width="20" height="30.2" fill="#F08484"/><rect x="323.3" y="551.6" width="20" height="29.7" fill="#7686D6"/><rect x="323.3" y="583" width="20" height="15" fill="#F2F2A0"/><rect x="323.3" y="599.4" width="20" height="13.9" fill="#86C886"/><path d="M343.1 518.5h9.6v4.1h-9.6zM343.1 550.2h9.6v4.1h-9.6z" fill="#606cc0"/><path d="M352.6 518.5h9.6v4.1h-9.6zM371.7 577.9h9.6v4.1h-9.6z" fill="#3c48a8"/><path d="M362.2 518.5h9.6v4.1h-9.6zM371.7 554.2h9.6v4.1h-9.6zM400.2 570h9.6v4.1h-9.6z" fill="#c0c0e4"/><path d="M371.7 518.5h9.6v4.1h-9.6z" fill="#d86066"/><path d="M381.2 518.5h9.6v4.1h-9.6zM381.2 546.2h9.6v4.1h-9.6zM409.8 554.2h9.6v4.1h-9.6zM409.8 562.1h9.6v4.1h-9.6zM390.7 577.9h9.6v4.1h-9.6zM352.6 581.9h9.6v4.1h-9.6zM381.2 593.8h9.6v4.1h-9.6zM371.7 597.8h9.6v4.1h-9.6z" fill="#eaa8a8"/><path d="M390.7 518.5h9.6v4.1h-9.6zM381.2 526.4h9.6v4.1h-9.6zM390.7 538.3h9.6v4.1h-9.6zM390.7 542.3h9.6v4.1h-9.6zM400.2 562.1h9.6v4.1h-9.6zM352.6 585.9h9.6v4.1h-9.6zM381.2 585.9h9.6v4.1h-9.6zM381.2 589.8h9.6v4.1h-9.6zM352.6 593.8h9.6v4.1h-9.6z" fill="#ea9c9c"/><path d="M400.2 518.5h9.6v4.1h-9.6zM409.8 522.5h9.6v4.1h-9.6zM400.2 534.4h9.6v4.1h-9.6z" fill="#c63036"/><path d="M409.8 518.5h9.6v4.1h-9.6zM400.2 526.4h9.6v4.1h-9.6z" fill="#c6363c"/><path d="M343.1 522.5h9.6v4.1h-9.6z" fill="#6c78c6"/><path d="M352.6 522.5h9.6v4.1h-9.6zM371.7 574h9.6v4.1h-9.6zM390.7 601.7h9.6v4.1h-9.6z" fill="#424ea8"/><path d="M362.2 522.5h9.6v4.1h-9.6z" fill="#c6c6e4"/><path d="M371.7 522.5h9.6v4.1h-9.6zM371.7 534.4h9.6v4.1h-9.6zM371.7 546.2h9.6v4.1h-9.6zM343.1 597.8h9.6v4.1h-9.6zM343.1 601.7h9.6v4.1h-9.6z" fill="#d25a60"/><path d="M381.2 522.5h9.6v4.1h-9.6zM390.7 522.5h9.6v4.1h-9.6zM390.7 530.4h9.6v4.1h-9.6zM381.2 538.3h9.6v4.1h-9.6z" fill="#eaa2a2"/><path d="M400.2 522.5h9.6v4.1h-9.6zM409.8 542.3h9.6v4.1h-9.6z" fill="#cc484e"/><path d="M343.1 526.4h9.6v4.1h-9.6z" fill="#7278c6"/><path d="M352.6 526.4h9.6v4.1h-9.6zM352.6 546.2h9.6v4.1h-9.6zM343.1 554.2h9.6v4.1h-9.6z" fill="#4e5ab4"/><path d="M362.2 526.4h9.6v4.1h-9.6zM371.7 562.1h9.6v4.1h-9.6zM409.8 566h9.6v4.1h-9.6zM409.8 570h9.6v4.1h-9.6zM409.8 574h9.6v4.1h-9.6zM409.8 585.9h9.6v4.1h-9.6z" fill="#ccd2ea"/><path d="M371.7 526.4h9.6v4.1h-9.6zM343.1 609.6h9.6v4.1h-9.6z" fill="#d86060"/><path d="M390.7 526.4h9.6v4.1h-9.6z" fill="#e49090"/><path d="M409.8 526.4h9.6v4.1h-9.6zM409.8 534.4h9.6v4.1h-9.6zM400.2 538.3h9.6v4.1h-9.6z" fill="#c6303c"/><path d="M343.1 530.4h9.6v4.1h-9.6z" fill="#727ec6"/><path d="M352.6 530.4h9.6v4.1h-9.6zM371.7 566h9.6v4.1h-9.6zM390.7 609.6h9.6v4.1h-9.6z" fill="#3c48a2"/><path d="M362.2 530.4h9.6v4.1h-9.6zM362.2 538.3h9.6v4.1h-9.6z" fill="#c6ccea"/><path d="M371.7 530.4h9.6v4.1h-9.6zM409.8 530.4h9.6v4.1h-9.6zM409.8 538.3h9.6v4.1h-9.6z" fill="#cc4e54"/><path d="M381.2 530.4h9.6v4.1h-9.6zM390.7 534.4h9.6v4.1h-9.6zM381.2 542.3h9.6v4.1h-9.6z" fill="#e49696"/><path d="M400.2 530.4h9.6v4.1h-9.6z" fill="#cc3c48"/><path d="M343.1 534.4h9.6v4.1h-9.6z" fill="#727ecc"/><path d="M352.6 534.4h9.6v4.1h-9.6zM343.1 562.1h9.6v4.1h-9.6z" fill="#5460b4"/><path d="M362.2 534.4h9.6v4.1h-9.6z" fill="#c6cce4"/><path d="M381.2 534.4h9.6v4.1h-9.6z" fill="#e48a8a"/><path d="M343.1 538.3h9.6v4.1h-9.6z" fill="#6672c0"/><path d="M352.6 538.3h9.6v4.1h-9.6z" fill="#4854a8"/><path d="M371.7 538.3h9.6v4.1h-9.6z" fill="#d2545a"/><path d="M343.1 542.3h9.6v4.1h-9.6z" fill="#5a66ba"/><path d="M352.6 542.3h9.6v4.1h-9.6zM343.1 558.1h9.6v4.1h-9.6z" fill="#485aae"/><path d="M362.2 542.3h9.6v4.1h-9.6z" fill="#bac0e4"/><path d="M371.7 542.3h9.6v4.1h-9.6z" fill="#d25454"/><path d="M400.2 542.3h9.6v4.1h-9.6z" fill="#c03036"/><path d="M343.1 546.2h9.6v4.1h-9.6z" fill="#d8d8f0"/><path d="M362.2 546.2h9.6v4.1h-9.6z" fill="#d8d8ea"/><path d="M390.7 546.2h9.6v4.1h-9.6zM390.7 574h9.6v4.1h-9.6z" fill="#eababa"/><path d="M400.2 546.2h9.6v4.1h-9.6z" fill="#d24e54"/><path d="M409.8 546.2h9.6v4.1h-9.6z" fill="#cc3c42"/><path d="M352.6 550.2h9.6v4.1h-9.6zM381.2 558.1h9.6v4.1h-9.6zM371.7 585.9h9.6v4.1h-9.6zM371.7 593.8h9.6v4.1h-9.6z" fill="#f0d8d8"/><path d="M362.2 550.2h9.6v4.1h-9.6z" fill="#f0ccd2"/><path d="M371.7 550.2h9.6v4.1h-9.6zM362.2 597.8h9.6v4.1h-9.6zM400.2 597.8h9.6v4.1h-9.6zM409.8 601.7h9.6v4.1h-9.6zM362.2 605.7h9.6v4.1h-9.6zM362.2 609.6h9.6v4.1h-9.6zM400.2 609.6h9.6v4.1h-9.6z" fill="#aeb4de"/><path d="M381.2 550.2h9.6v4.1h-9.6zM352.6 554.2h9.6v4.1h-9.6zM371.7 589.8h9.6v4.1h-9.6z" fill="#f0cccc"/><path d="M390.7 550.2h9.6v4.1h-9.6z" fill="#de7e7e"/><path d="M400.2 550.2h9.6v4.1h-9.6z" fill="#f0d2d8"/><path d="M409.8 550.2h9.6v4.1h-9.6z" fill="#f0bac0"/><path d="M362.2 554.2h9.6v4.1h-9.6zM352.6 558.1h9.6v4.1h-9.6z" fill="#f0d2d2"/><path d="M381.2 554.2h9.6v4.1h-9.6z" fill="#f0c6cc"/><path d="M390.7 554.2h9.6v4.1h-9.6zM390.7 558.1h9.6v4.1h-9.6z" fill="#de7272"/><path d="M400.2 554.2h9.6v4.1h-9.6z" fill="#f0c0c6"/><path d="M362.2 558.1h9.6v4.1h-9.6zM381.2 581.9h9.6v4.1h-9.6z" fill="#eab4b4"/><path d="M371.7 558.1h9.6v4.1h-9.6z" fill="#c0c6e4"/><path d="M400.2 558.1h9.6v4.1h-9.6zM390.7 566h9.6v4.1h-9.6zM371.7 605.7h9.6v4.1h-9.6z" fill="#f0c6c6"/><path d="M409.8 558.1h9.6v4.1h-9.6z" fill="#eaa8ae"/><path d="M352.6 562.1h9.6v4.1h-9.6zM371.7 570h9.6v4.1h-9.6z" fill="#3648a2"/><path d="M362.2 562.1h9.6v4.1h-9.6zM400.2 585.9h9.6v4.1h-9.6zM400.2 601.7h9.6v4.1h-9.6zM400.2 605.7h9.6v4.1h-9.6zM409.8 605.7h9.6v4.1h-9.6zM409.8 609.6h9.6v4.1h-9.6z" fill="#a8aede"/><path d="M381.2 562.1h9.6v4.1h-9.6zM409.8 581.9h9.6v4.1h-9.6z" fill="#b4b4de"/><path d="M390.7 562.1h9.6v4.1h-9.6z" fill="#d86666"/><path d="M343.1 566h9.6v4.1h-9.6z" fill="#7e8acc"/><path d="M352.6 566h9.6v4.1h-9.6zM362.2 581.9h9.6v4.1h-9.6zM362.2 589.8h9.6v4.1h-9.6z" fill="#f6f6f6"/><path d="M362.2 566h9.6v4.1h-9.6z" fill="#d86c6c"/><path d="M381.2 566h9.6v4.1h-9.6z" fill="#8a90d2"/><path d="M400.2 566h9.6v4.1h-9.6zM400.2 574h9.6v4.1h-9.6z" fill="#e4e4f0"/><path d="M343.1 570h9.6v4.1h-9.6zM343.1 574h9.6v4.1h-9.6zM343.1 577.9h9.6v4.1h-9.6zM381.2 577.9h9.6v4.1h-9.6z" fill="#8490d2"/><path d="M352.6 570h9.6v4.1h-9.6zM343.1 585.9h9.6v4.1h-9.6zM352.6 597.8h9.6v4.1h-9.6zM352.6 605.7h9.6v4.1h-9.6z" fill="#f0f0f6"/><path d="M362.2 570h9.6v4.1h-9.6zM362.2 574h9.6v4.1h-9.6zM362.2 577.9h9.6v4.1h-9.6z" fill="#e48484"/><path d="M381.2 570h9.6v4.1h-9.6zM400.2 589.8h9.6v4.1h-9.6zM400.2 593.8h9.6v4.1h-9.6z" fill="#969cd8"/><path d="M390.7 570h9.6v4.1h-9.6zM371.7 601.7h9.6v4.1h-9.6zM371.7 609.6h9.6v4.1h-9.6z" fill="#f0c0c0"/><path d="M352.6 574h9.6v4.1h-9.6zM362.2 585.9h9.6v4.1h-9.6z" fill="#f0d8de"/><path d="M381.2 574h9.6v4.1h-9.6z" fill="#9ca2d8"/><path d="M352.6 577.9h9.6v4.1h-9.6z" fill="#f6f0f0"/><path d="M400.2 577.9h9.6v4.1h-9.6zM343.1 589.8h9.6v4.1h-9.6z" fill="#dedef0"/><path d="M409.8 577.9h9.6v4.1h-9.6z" fill="#d2d2ea"/><path d="M343.1 581.9h9.6v4.1h-9.6zM409.8 589.8h9.6v4.1h-9.6z" fill="#ccccea"/><path d="M371.7 581.9h9.6v4.1h-9.6zM362.2 593.8h9.6v4.1h-9.6z" fill="#f0dee4"/><path d="M390.7 581.9h9.6v4.1h-9.6zM390.7 589.8h9.6v4.1h-9.6zM381.2 605.7h9.6v4.1h-9.6z" fill="#f0dede"/><path d="M400.2 581.9h9.6v4.1h-9.6zM409.8 597.8h9.6v4.1h-9.6z" fill="#9096d2"/><path d="M390.7 585.9h9.6v4.1h-9.6zM390.7 593.8h9.6v4.1h-9.6zM381.2 597.8h9.6v4.1h-9.6zM352.6 601.7h9.6v4.1h-9.6zM381.2 609.6h9.6v4.1h-9.6z" fill="#f0e4e4"/><path d="M352.6 589.8h9.6v4.1h-9.6z" fill="#eaaeae"/><path d="M343.1 593.8h9.6v4.1h-9.6z" fill="#eaeaf0"/><path d="M409.8 593.8h9.6v4.1h-9.6z" fill="#d2d8ea"/><path d="M390.7 597.8h9.6v4.1h-9.6zM390.7 605.7h9.6v4.1h-9.6z" fill="#36429c"/><path d="M362.2 601.7h9.6v4.1h-9.6z" fill="#8a96d2"/><path d="M381.2 601.7h9.6v4.1h-9.6z" fill="#f0e4ea"/><path d="M343.1 605.7h9.6v4.1h-9.6z" fill="#de7278"/><path d="M352.6 609.6h9.6v4.1h-9.6z" fill="#f6eaea"/><circle cx="347.9" cy="520.5" r="0.45" fill="#fff" fill-opacity="0.8"/><circle cx="357.4" cy="520.5" r="0.45" fill="#fff" fill-opacity="0.8"/><circle cx="376.4" cy="520.5" r="0.45" fill="#fff" fill-opacity="0.8"/><circle cx="405" cy="520.5" r="0.45" fill="#fff" fill-opacity="0.8"/><circle cx="414.5" cy="520.5" r="0.45" fill="#fff" fill-opacity="0.8"/><circle cx="347.9" cy="524.4" r="0.45" fill="#fff" fill-opacity="0.8"/><circle cx="376.4" cy="524.4" r="0.45" fill="#fff" fill-opacity="0.8"/><circle cx="405" cy="524.4" r="0.45" fill="#fff" fill-opacity="0.8"/><circle cx="414.5" cy="524.4" r="0.45" fill="#fff" fill-opacity="0.8"/><circle cx="347.9" cy="528.4" r="0.45" fill="#fff" fill-opacity="0.8"/><circle cx="357.4" cy="528.4" r="0.45" fill="#fff" fill-opacity="0.8"/><circle cx="376.4" cy="528.4" r="0.45" fill="#fff" fill-opacity="0.8"/><circle cx="347.9" cy="532.4" r="0.45" fill="#fff" fill-opacity="0.8"/><circle cx="357.4" cy="532.4" r="0.45" fill="#fff" fill-opacity="0.8"/><circle cx="376.4" cy="532.4" r="0.45" fill="#fff" fill-opacity="0.8"/><circle cx="405" cy="532.4" r="0.45" fill="#fff" fill-opacity="0.8"/><circle cx="414.5" cy="532.4" r="0.45" fill="#fff" fill-opacity="0.8"/><circle cx="347.9" cy="536.3" r="0.45" fill="#fff" fill-opacity="0.8"/><circle cx="357.4" cy="536.3" r="0.45" fill="#fff" fill-opacity="0.8"/><circle cx="405" cy="536.3" r="0.45" fill="#fff" fill-opacity="0.8"/><circle cx="414.5" cy="536.3" r="0.45" fill="#fff" fill-opacity="0.8"/><circle cx="347.9" cy="540.3" r="0.45" fill="#fff" fill-opacity="0.8"/><circle cx="376.4" cy="540.3" r="0.45" fill="#fff" fill-opacity="0.8"/><circle cx="405" cy="540.3" r="0.45" fill="#fff" fill-opacity="0.8"/><circle cx="347.9" cy="544.3" r="0.45" fill="#fff" fill-opacity="0.8"/><circle cx="357.4" cy="544.3" r="0.45" fill="#fff" fill-opacity="0.8"/><circle cx="405" cy="544.3" r="0.45" fill="#fff" fill-opacity="0.8"/><circle cx="414.5" cy="544.3" r="0.45" fill="#fff" fill-opacity="0.8"/><circle cx="376.4" cy="548.2" r="0.45" fill="#fff" fill-opacity="0.8"/><circle cx="405" cy="548.2" r="0.45" fill="#fff" fill-opacity="0.8"/><circle cx="414.5" cy="548.2" r="0.45" fill="#fff" fill-opacity="0.8"/><circle cx="347.9" cy="556.1" r="0.45" fill="#fff" fill-opacity="0.8"/><circle cx="347.9" cy="560.1" r="0.45" fill="#fff" fill-opacity="0.8"/><circle cx="347.9" cy="564.1" r="0.45" fill="#fff" fill-opacity="0.8"/><circle cx="357.4" cy="564.1" r="0.45" fill="#fff" fill-opacity="0.8"/><circle cx="395.5" cy="564.1" r="0.45" fill="#fff" fill-opacity="0.8"/><circle cx="376.4" cy="568" r="0.45" fill="#fff" fill-opacity="0.8"/><circle cx="366.9" cy="572" r="0.45" fill="#fff" fill-opacity="0.8"/><circle cx="376.4" cy="572" r="0.45" fill="#fff" fill-opacity="0.8"/><circle cx="366.9" cy="576" r="0.45" fill="#fff" fill-opacity="0.8"/><circle cx="376.4" cy="576" r="0.45" fill="#fff" fill-opacity="0.8"/><circle cx="366.9" cy="579.9" r="0.45" fill="#fff" fill-opacity="0.8"/><circle cx="376.4" cy="579.9" r="0.45" fill="#fff" fill-opacity="0.8"/><circle cx="347.9" cy="599.7" r="0.45" fill="#fff" fill-opacity="0.8"/><circle cx="395.5" cy="599.7" r="0.45" fill="#fff" fill-opacity="0.8"/><circle cx="395.5" cy="603.7" r="0.45" fill="#fff" fill-opacity="0.8"/><circle cx="347.9" cy="607.7" r="0.45" fill="#fff" fill-opacity="0.8"/><circle cx="347.9" cy="611.6" r="0.45" fill="#fff" fill-opacity="0.8"/><circle cx="395.5" cy="611.6" r="0.45" fill="#fff" fill-opacity="0.8"/><path d="M342.5 536.3H339.7V540.3H342.5" fill="none" stroke="#333" stroke-width="0.4"/><path d="M339.7 538.3H336.9V544.3H342.5" fill="none" stroke="#333" stroke-width="0.4"/><path d="M342.5 532.4H334.3V541.3H336.9" fill="none" stroke="#333" stroke-width="0.4"/><path d="M342.5 528.4H331.4V536.8H334.3" fill="none" stroke="#333" stroke-width="0.4"/><path d="M331.4 532.6H328.8V548.2H342.5" fill="none" stroke="#333" stroke-width="0.4"/><path d="M342.5 524.4H327.1V540.4H328.8" fill="none" stroke="#333" stroke-width="0.4"/><path d="M342.5 520.5H326V532.4H327.1" fill="none" stroke="#333" stroke-width="0.4"/><path d="M342.5 560.1H339.5V564.1H342.5" fill="none" stroke="#333" stroke-width="0.4"/><path d="M339.5 562.1H338.3V568H342.5" fill="none" stroke="#333" stroke-width="0.4"/><path d="M342.5 552.2H340.3V556.1H342.5" fill="none" stroke="#333" stroke-width="0.4"/><path d="M338.3 565.1H336.7V572H342.5" fill="none" stroke="#333" stroke-width="0.4"/><path d="M336.7 568.5H335.3V576H342.5" fill="none" stroke="#333" stroke-width="0.4"/><path d="M335.3 572.2H332.9V579.9H342.5" fill="none" stroke="#333" stroke-width="0.4"/><path d="M340.3 554.2H326V576.1H332.9" fill="none" stroke="#333" stroke-width="0.4"/><path d="M342.5 591.8H339.6V595.8H342.5" fill="none" stroke="#333" stroke-width="0.4"/><path d="M342.5 583.9H340.8V587.8H342.5" fill="none" stroke="#333" stroke-width="0.4"/><path d="M340.8 585.9H330V593.8H339.6" fill="none" stroke="#333" stroke-width="0.4"/><path d="M342.5 603.7H339.7V607.7H342.5" fill="none" stroke="#333" stroke-width="0.4"/><path d="M342.5 599.7H337.7V605.7H339.7" fill="none" stroke="#333" stroke-width="0.4"/><path d="M337.7 602.7H330V611.6H342.5" fill="none" stroke="#333" stroke-width="0.4"/><path d="M326 534H313V566H326M313 550H309V598H316M330 590H316V606H330" fill="none" stroke="#333" stroke-width="0.4"/><path d="M357.4 518V500H366.9V518M376.4 518V497H395.5V510M405 518V505H414.5V518M386 518V510H395.5V505M358.2 502V486H395.5V497" fill="none" stroke="#333" stroke-width="0.4"/><path d="M347.9 518V502H362.2V500" fill="none" stroke="#333" stroke-width="0.4"/><defs><linearGradient id="rb" x1="0" x2="1"><stop offset="0" stop-color="#283796"/><stop offset="0.25" stop-color="#7882cd"/><stop offset="0.5" stop-color="#f6f6f8"/><stop offset="0.75" stop-color="#e68c8c"/><stop offset="1" stop-color="#be1e26"/></linearGradient></defs><rect x="421.4" y="497.6" width="29.6" height="10.6" fill="url(#rb)"/><text x="436.2" y="495.6" font-family="'Liberation Sans', sans-serif" font-size="3.1" fill="#333" text-anchor="middle" >Spearman's rho</text><text x="421.4" y="511.5" font-family="'Liberation Sans', sans-serif" font-size="2.0" fill="#555" text-anchor="middle" >-1</text><text x="428.8" y="511.5" font-family="'Liberation Sans', sans-serif" font-size="2.0" fill="#555" text-anchor="middle" >-0.5</text><text x="436.2" y="511.5" font-family="'Liberation Sans', sans-serif" font-size="2.0" fill="#555" text-anchor="middle" >0</text><text x="443.6" y="511.5" font-family="'Liberation Sans', sans-serif" font-size="2.0" fill="#555" text-anchor="middle" >0.5</text><text x="451" y="511.5" font-family="'Liberation Sans', sans-serif" font-size="2.0" fill="#555" text-anchor="middle" >1</text><text x="421.4" y="521.48" font-family="'Liberation Sans', sans-serif" font-size="2.9" fill="#333" text-anchor="start" >Aspergillus oryzae</text><text x="421.4" y="525.44" font-family="'Liberation Sans', sans-serif" font-size="2.9" fill="#333" text-anchor="start" >Oryzoides ...</text><text x="421.4" y="529.41" font-family="'Liberation Sans', sans-serif" font-size="2.9" fill="#333" text-anchor="start" >Thermoascus ...</text><text x="421.4" y="533.37" font-family="'Liberation Sans', sans-serif" font-size="2.9" fill="#333" text-anchor="start" >Lichtheimia ...</text><text x="421.4" y="537.33" font-family="'Liberation Sans', sans-serif" font-size="2.9" fill="#333" text-anchor="start" >Saccharomycopsis ...</text><text x="421.4" y="541.29" font-family="'Liberation Sans', sans-serif" font-size="2.9" fill="#333" text-anchor="start" >Pichia ...</text><text x="421.4" y="545.26" font-family="'Liberation Sans', sans-serif" font-size="2.9" fill="#333" text-anchor="start" >Weissella ...</text><text x="421.4" y="549.22" font-family="'Liberation Sans', sans-serif" font-size="2.9" fill="#333" text-anchor="start" >Streptomyces sp. ...</text><text x="421.4" y="553.18" font-family="'Liberation Sans', sans-serif" font-size="2.9" fill="#333" text-anchor="start" >Bacillus ...</text><text x="421.4" y="557.14" font-family="'Liberation Sans', sans-serif" font-size="2.9" fill="#333" text-anchor="start" >Bacillus ...</text><text x="421.4" y="561.11" font-family="'Liberation Sans', sans-serif" font-size="2.9" fill="#333" text-anchor="start" >Pichia ...</text><text x="421.4" y="565.07" font-family="'Liberation Sans', sans-serif" font-size="2.9" fill="#333" text-anchor="start" >Streptomyces ...</text><text x="421.4" y="569.03" font-family="'Liberation Sans', sans-serif" font-size="2.9" fill="#333" text-anchor="start" >Saccharopolyspora ...</text><text x="421.4" y="572.99" font-family="'Liberation Sans', sans-serif" font-size="2.9" fill="#333" text-anchor="start" >Saccharopolyspora ...</text><text x="421.4" y="576.96" font-family="'Liberation Sans', sans-serif" font-size="2.9" fill="#333" text-anchor="start" >Saccharopolyspora ...</text><text x="421.4" y="580.92" font-family="'Liberation Sans', sans-serif" font-size="2.9" fill="#333" text-anchor="start" >Saccharopolyspora ...</text><text x="421.4" y="584.88" font-family="'Liberation Sans', sans-serif" font-size="2.9" fill="#333" text-anchor="start" >Companilactobacillus ...</text><text x="421.4" y="588.84" font-family="'Liberation Sans', sans-serif" font-size="2.9" fill="#333" text-anchor="start" >Lactobacillus ...</text><text x="421.4" y="592.81" font-family="'Liberation Sans', sans-serif" font-size="2.9" fill="#333" text-anchor="start" >Lactiplantibacillus ...</text><text x="421.4" y="596.77" font-family="'Liberation Sans', sans-serif" font-size="2.9" fill="#333" text-anchor="start" >Companilactobacillus ...</text><text x="421.4" y="600.73" font-family="'Liberation Sans', sans-serif" font-size="2.9" fill="#333" text-anchor="start" >Saccharopolyspora ...</text><text x="421.4" y="604.69" font-family="'Liberation Sans', sans-serif" font-size="2.9" fill="#333" text-anchor="start" >Kosakonia ...</text><text x="421.4" y="608.66" font-family="'Liberation Sans', sans-serif" font-size="2.9" fill="#333" text-anchor="start" >Kosakonia sp. ...</text><text x="421.4" y="612.62" font-family="'Liberation Sans', sans-serif" font-size="2.9" fill="#333" text-anchor="start" >Pantoea ...</text><text transform="translate(348.9,615.8) rotate(-45)" font-family="'Liberation Sans', sans-serif" font-size="3.4" fill="#333" text-anchor="end">Titratable acidity</text><text transform="translate(358.4,615.8) rotate(-45)" font-family="'Liberation Sans', sans-serif" font-size="3.4" fill="#333" text-anchor="end">Protein content</text><text transform="translate(367.9,615.8) rotate(-45)" font-family="'Liberation Sans', sans-serif" font-size="3.4" fill="#333" text-anchor="end">Starch content</text><text transform="translate(377.4,615.8) rotate(-45)" font-family="'Liberation Sans', sans-serif" font-size="3.4" fill="#333" text-anchor="end">Saccharifying power</text><text transform="translate(387,615.8) rotate(-45)" font-family="'Liberation Sans', sans-serif" font-size="3.4" fill="#333" text-anchor="end">Fermenting power</text><text transform="translate(396.5,615.8) rotate(-45)" font-family="'Liberation Sans', sans-serif" font-size="3.4" fill="#333" text-anchor="end">Esterifying power</text><text transform="translate(406,615.8) rotate(-45)" font-family="'Liberation Sans', sans-serif" font-size="3.4" fill="#333" text-anchor="end">Water activity</text><text transform="translate(415.5,615.8) rotate(-45)" font-family="'Liberation Sans', sans-serif" font-size="3.4" fill="#333" text-anchor="end">Water content</text><rect x="496.9" y="521.5" width="19.8" height="13.5" fill="#86C886"/><rect x="496.9" y="537" width="19.8" height="29.8" fill="#7686D6"/><rect x="496.9" y="569.2" width="19.8" height="13.3" fill="#F2F2A0"/><rect x="496.9" y="585" width="19.8" height="29.5" fill="#F08484"/><path d="M517.4 519.8h3.3v4.1h-3.3zM546 519.8h3.3v4.1h-3.3zM552.3 519.8h3.3v4.1h-3.3zM552.3 535.7h3.3v4.1h-3.3zM526.9 543.6h3.3v4.1h-3.3zM530.1 543.6h3.3v4.1h-3.3zM526.9 547.6h3.3v4.1h-3.3zM523.7 551.5h3.3v4.1h-3.3zM539.6 555.5h3.3v4.1h-3.3zM552.3 555.5h3.3v4.1h-3.3zM533.3 567.4h3.3v4.1h-3.3zM530.1 571.4h3.3v4.1h-3.3zM606.3 583.3h3.3v4.1h-3.3zM603.1 595.2h3.3v4.1h-3.3zM606.3 599.1h3.3v4.1h-3.3z" fill="#f0cccc"/><path d="M520.6 519.8h3.3v4.1h-3.3zM517.4 531.7h3.3v4.1h-3.3zM520.6 543.6h3.3v4.1h-3.3zM549.1 551.5h3.3v4.1h-3.3zM520.6 563.4h3.3v4.1h-3.3zM530.1 563.4h3.3v4.1h-3.3zM539.6 567.4h3.3v4.1h-3.3zM587.2 567.4h3.3v4.1h-3.3zM523.7 571.4h3.3v4.1h-3.3zM565 571.4h3.3v4.1h-3.3zM568.2 571.4h3.3v4.1h-3.3zM571.3 571.4h3.3v4.1h-3.3zM526.9 575.3h3.3v4.1h-3.3zM549.1 575.3h3.3v4.1h-3.3zM577.7 575.3h3.3v4.1h-3.3zM536.4 579.3h3.3v4.1h-3.3zM568.2 579.3h3.3v4.1h-3.3zM574.5 579.3h3.3v4.1h-3.3zM599.9 579.3h3.3v4.1h-3.3z" fill="#f0c6c6"/><path d="M523.7 519.8h3.3v4.1h-3.3zM536.4 519.8h3.3v4.1h-3.3zM546 523.8h3.3v4.1h-3.3zM536.4 527.7h3.3v4.1h-3.3zM523.7 531.7h3.3v4.1h-3.3zM536.4 535.7h3.3v4.1h-3.3zM555.5 535.7h3.3v4.1h-3.3zM546 543.6h3.3v4.1h-3.3zM555.5 547.6h3.3v4.1h-3.3zM542.8 551.5h3.3v4.1h-3.3zM517.4 559.5h3.3v4.1h-3.3zM539.6 559.5h3.3v4.1h-3.3z" fill="#f0f0f6"/><path d="M526.9 519.8h3.3v4.1h-3.3zM533.3 527.7h3.3v4.1h-3.3zM542.8 527.7h3.3v4.1h-3.3zM549.1 543.6h3.3v4.1h-3.3zM520.6 551.5h3.3v4.1h-3.3zM539.6 551.5h3.3v4.1h-3.3zM549.1 555.5h3.3v4.1h-3.3z" fill="#ccccea"/><path d="M530.1 519.8h3.3v4.1h-3.3z" fill="#9ca2d8"/><path d="M533.3 519.8h3.3v4.1h-3.3zM536.4 523.8h3.3v4.1h-3.3zM520.6 571.4h3.3v4.1h-3.3zM539.6 579.3h3.3v4.1h-3.3zM603.1 603.1h3.3v4.1h-3.3z" fill="#f0dede"/><path d="M539.6 519.8h3.3v4.1h-3.3zM517.4 539.6h3.3v4.1h-3.3zM533.3 539.6h3.3v4.1h-3.3zM536.4 551.5h3.3v4.1h-3.3zM517.4 575.3h3.3v4.1h-3.3zM606.3 595.2h3.3v4.1h-3.3zM609.4 595.2h3.3v4.1h-3.3z" fill="#f0ccd2"/><path d="M542.8 519.8h3.3v4.1h-3.3z" fill="#dee4f0"/><path d="M549.1 519.8h3.3v4.1h-3.3zM555.5 527.7h3.3v4.1h-3.3z" fill="#ccd2ea"/><path d="M555.5 519.8h3.3v4.1h-3.3zM542.8 539.6h3.3v4.1h-3.3z" fill="#f0d2d8"/><path d="M558.7 519.8h3.3v4.1h-3.3zM596.7 523.8h3.3v4.1h-3.3z" fill="#cc3c42"/><path d="M561.8 519.8h3.3v4.1h-3.3zM590.4 519.8h3.3v4.1h-3.3zM584 523.8h3.3v4.1h-3.3z" fill="#cc484e"/><path d="M565 519.8h3.3v4.1h-3.3zM568.2 519.8h3.3v4.1h-3.3zM577.7 519.8h3.3v4.1h-3.3zM599.9 523.8h3.3v4.1h-3.3zM565 527.7h3.3v4.1h-3.3zM580.9 527.7h3.3v4.1h-3.3zM561.8 531.7h3.3v4.1h-3.3zM577.7 531.7h3.3v4.1h-3.3zM590.4 531.7h3.3v4.1h-3.3zM593.6 531.7h3.3v4.1h-3.3z" fill="#c6363c"/><path d="M571.3 519.8h3.3v4.1h-3.3zM593.6 523.8h3.3v4.1h-3.3zM599.9 527.7h3.3v4.1h-3.3zM565 531.7h3.3v4.1h-3.3z" fill="#c6303c"/><path d="M574.5 519.8h3.3v4.1h-3.3zM580.9 519.8h3.3v4.1h-3.3zM593.6 527.7h3.3v4.1h-3.3zM599.9 531.7h3.3v4.1h-3.3z" fill="#cc4e54"/><path d="M584 519.8h3.3v4.1h-3.3zM574.5 527.7h3.3v4.1h-3.3zM568.2 531.7h3.3v4.1h-3.3z" fill="#c63c42"/><path d="M587.2 519.8h3.3v4.1h-3.3zM596.7 519.8h3.3v4.1h-3.3zM565 523.8h3.3v4.1h-3.3zM587.2 523.8h3.3v4.1h-3.3zM590.4 523.8h3.3v4.1h-3.3zM571.3 527.7h3.3v4.1h-3.3zM558.7 531.7h3.3v4.1h-3.3zM571.3 531.7h3.3v4.1h-3.3zM580.9 531.7h3.3v4.1h-3.3z" fill="#c63036"/><path d="M593.6 519.8h3.3v4.1h-3.3zM571.3 523.8h3.3v4.1h-3.3zM577.7 523.8h3.3v4.1h-3.3zM580.9 523.8h3.3v4.1h-3.3zM561.8 527.7h3.3v4.1h-3.3zM577.7 527.7h3.3v4.1h-3.3zM587.2 527.7h3.3v4.1h-3.3zM596.7 527.7h3.3v4.1h-3.3zM574.5 531.7h3.3v4.1h-3.3zM584 531.7h3.3v4.1h-3.3zM587.2 531.7h3.3v4.1h-3.3z" fill="#cc4248"/><path d="M599.9 519.8h3.3v4.1h-3.3zM568.2 527.7h3.3v4.1h-3.3z" fill="#c63c3c"/><path d="M603.1 519.8h3.3v4.1h-3.3zM609.4 523.8h3.3v4.1h-3.3zM609.4 527.7h3.3v4.1h-3.3zM561.8 543.6h3.3v4.1h-3.3zM571.3 543.6h3.3v4.1h-3.3zM599.9 543.6h3.3v4.1h-3.3zM590.4 551.5h3.3v4.1h-3.3zM580.9 555.5h3.3v4.1h-3.3zM590.4 555.5h3.3v4.1h-3.3z" fill="#4854a8"/><path d="M606.3 519.8h3.3v4.1h-3.3zM561.8 539.6h3.3v4.1h-3.3zM596.7 539.6h3.3v4.1h-3.3zM568.2 543.6h3.3v4.1h-3.3z" fill="#30429c"/><path d="M609.4 519.8h3.3v4.1h-3.3zM606.3 527.7h3.3v4.1h-3.3zM571.3 539.6h3.3v4.1h-3.3zM577.7 539.6h3.3v4.1h-3.3zM574.5 543.6h3.3v4.1h-3.3zM587.2 543.6h3.3v4.1h-3.3zM590.4 547.6h3.3v4.1h-3.3zM565 551.5h3.3v4.1h-3.3zM580.9 551.5h3.3v4.1h-3.3zM584 551.5h3.3v4.1h-3.3zM596.7 551.5h3.3v4.1h-3.3zM517.4 583.3h3.3v4.1h-3.3zM520.6 583.3h3.3v4.1h-3.3zM523.7 583.3h3.3v4.1h-3.3zM526.9 583.3h3.3v4.1h-3.3zM530.1 583.3h3.3v4.1h-3.3zM533.3 583.3h3.3v4.1h-3.3zM536.4 583.3h3.3v4.1h-3.3zM539.6 583.3h3.3v4.1h-3.3zM542.8 583.3h3.3v4.1h-3.3zM546 583.3h3.3v4.1h-3.3zM549.1 583.3h3.3v4.1h-3.3zM552.3 583.3h3.3v4.1h-3.3zM555.5 583.3h3.3v4.1h-3.3zM517.4 587.2h3.3v4.1h-3.3zM520.6 587.2h3.3v4.1h-3.3zM523.7 587.2h3.3v4.1h-3.3zM526.9 587.2h3.3v4.1h-3.3zM530.1 587.2h3.3v4.1h-3.3zM533.3 587.2h3.3v4.1h-3.3zM536.4 587.2h3.3v4.1h-3.3zM539.6 587.2h3.3v4.1h-3.3zM542.8 587.2h3.3v4.1h-3.3zM546 587.2h3.3v4.1h-3.3zM549.1 587.2h3.3v4.1h-3.3zM552.3 587.2h3.3v4.1h-3.3zM555.5 587.2h3.3v4.1h-3.3z" fill="#424ea8"/><path d="M517.4 523.8h3.3v4.1h-3.3zM539.6 523.8h3.3v4.1h-3.3zM533.3 535.7h3.3v4.1h-3.3zM555.5 551.5h3.3v4.1h-3.3z" fill="#d2d8ea"/><path d="M520.6 523.8h3.3v4.1h-3.3zM517.4 547.6h3.3v4.1h-3.3zM533.3 547.6h3.3v4.1h-3.3zM542.8 555.5h3.3v4.1h-3.3z" fill="#f6eaea"/><path d="M523.7 523.8h3.3v4.1h-3.3zM526.9 531.7h3.3v4.1h-3.3zM549.1 531.7h3.3v4.1h-3.3zM552.3 531.7h3.3v4.1h-3.3z" fill="#aeb4de"/><path d="M526.9 523.8h3.3v4.1h-3.3zM555.5 523.8h3.3v4.1h-3.3zM549.1 527.7h3.3v4.1h-3.3zM546 535.7h3.3v4.1h-3.3zM555.5 539.6h3.3v4.1h-3.3zM517.4 543.6h3.3v4.1h-3.3zM533.3 543.6h3.3v4.1h-3.3zM526.9 551.5h3.3v4.1h-3.3zM555.5 555.5h3.3v4.1h-3.3zM555.5 563.4h3.3v4.1h-3.3zM523.7 567.4h3.3v4.1h-3.3zM568.2 567.4h3.3v4.1h-3.3zM580.9 571.4h3.3v4.1h-3.3zM587.2 571.4h3.3v4.1h-3.3zM599.9 571.4h3.3v4.1h-3.3zM574.5 575.3h3.3v4.1h-3.3zM584 575.3h3.3v4.1h-3.3zM533.3 579.3h3.3v4.1h-3.3zM542.8 579.3h3.3v4.1h-3.3zM577.7 579.3h3.3v4.1h-3.3zM587.2 579.3h3.3v4.1h-3.3zM593.6 579.3h3.3v4.1h-3.3zM596.7 579.3h3.3v4.1h-3.3z" fill="#f0c0c0"/><path d="M530.1 523.8h3.3v4.1h-3.3zM517.4 579.3h3.3v4.1h-3.3z" fill="#f6f0f6"/><path d="M533.3 523.8h3.3v4.1h-3.3z" fill="#b4b4de"/><path d="M542.8 523.8h3.3v4.1h-3.3zM552.3 523.8h3.3v4.1h-3.3zM549.1 539.6h3.3v4.1h-3.3zM546 555.5h3.3v4.1h-3.3zM606.3 567.4h3.3v4.1h-3.3zM606.3 571.4h3.3v4.1h-3.3z" fill="#c0c6e4"/><path d="M549.1 523.8h3.3v4.1h-3.3zM523.7 527.7h3.3v4.1h-3.3zM533.3 531.7h3.3v4.1h-3.3zM542.8 531.7h3.3v4.1h-3.3zM603.1 575.3h3.3v4.1h-3.3z" fill="#b4bae4"/><path d="M558.7 523.8h3.3v4.1h-3.3zM561.8 523.8h3.3v4.1h-3.3zM590.4 527.7h3.3v4.1h-3.3z" fill="#d24e54"/><path d="M568.2 523.8h3.3v4.1h-3.3zM584 527.7h3.3v4.1h-3.3zM596.7 531.7h3.3v4.1h-3.3z" fill="#cc4848"/><path d="M574.5 523.8h3.3v4.1h-3.3z" fill="#c03036"/><path d="M603.1 523.8h3.3v4.1h-3.3zM609.4 531.7h3.3v4.1h-3.3zM558.7 535.7h3.3v4.1h-3.3zM574.5 539.6h3.3v4.1h-3.3zM565 543.6h3.3v4.1h-3.3zM577.7 543.6h3.3v4.1h-3.3zM580.9 543.6h3.3v4.1h-3.3zM593.6 543.6h3.3v4.1h-3.3zM596.7 543.6h3.3v4.1h-3.3z" fill="#36429c"/><path d="M606.3 523.8h3.3v4.1h-3.3zM603.1 531.7h3.3v4.1h-3.3zM587.2 535.7h3.3v4.1h-3.3zM558.7 539.6h3.3v4.1h-3.3zM580.9 539.6h3.3v4.1h-3.3zM590.4 539.6h3.3v4.1h-3.3zM593.6 539.6h3.3v4.1h-3.3zM584 543.6h3.3v4.1h-3.3zM558.7 547.6h3.3v4.1h-3.3zM568.2 547.6h3.3v4.1h-3.3zM574.5 547.6h3.3v4.1h-3.3zM577.7 547.6h3.3v4.1h-3.3z" fill="#3c48a2"/><path d="M517.4 527.7h3.3v4.1h-3.3zM530.1 535.7h3.3v4.1h-3.3zM542.8 543.6h3.3v4.1h-3.3zM555.5 543.6h3.3v4.1h-3.3zM530.1 555.5h3.3v4.1h-3.3zM539.6 563.4h3.3v4.1h-3.3zM606.3 575.3h3.3v4.1h-3.3zM609.4 579.3h3.3v4.1h-3.3z" fill="#bac0e4"/><path d="M520.6 527.7h3.3v4.1h-3.3z" fill="#a2a8d8"/><path d="M526.9 527.7h3.3v4.1h-3.3z" fill="#f0eaea"/><path d="M530.1 527.7h3.3v4.1h-3.3zM530.1 531.7h3.3v4.1h-3.3zM536.4 563.4h3.3v4.1h-3.3z" fill="#dedef0"/><path d="M539.6 527.7h3.3v4.1h-3.3zM520.6 547.6h3.3v4.1h-3.3zM536.4 547.6h3.3v4.1h-3.3zM549.1 547.6h3.3v4.1h-3.3zM552.3 547.6h3.3v4.1h-3.3zM549.1 563.4h3.3v4.1h-3.3zM520.6 567.4h3.3v4.1h-3.3zM542.8 567.4h3.3v4.1h-3.3zM555.5 567.4h3.3v4.1h-3.3zM577.7 567.4h3.3v4.1h-3.3zM590.4 567.4h3.3v4.1h-3.3zM593.6 567.4h3.3v4.1h-3.3zM599.9 567.4h3.3v4.1h-3.3zM574.5 571.4h3.3v4.1h-3.3zM520.6 575.3h3.3v4.1h-3.3zM533.3 575.3h3.3v4.1h-3.3zM536.4 575.3h3.3v4.1h-3.3zM558.7 575.3h3.3v4.1h-3.3zM580.9 575.3h3.3v4.1h-3.3zM587.2 575.3h3.3v4.1h-3.3zM590.4 575.3h3.3v4.1h-3.3zM561.8 579.3h3.3v4.1h-3.3zM565 579.3h3.3v4.1h-3.3zM571.3 579.3h3.3v4.1h-3.3z" fill="#eab4b4"/><path d="M546 527.7h3.3v4.1h-3.3zM523.7 563.4h3.3v4.1h-3.3z" fill="#e4e4f0"/><path d="M552.3 527.7h3.3v4.1h-3.3zM536.4 531.7h3.3v4.1h-3.3zM539.6 531.7h3.3v4.1h-3.3zM546 531.7h3.3v4.1h-3.3zM526.9 535.7h3.3v4.1h-3.3zM523.7 547.6h3.3v4.1h-3.3zM517.4 551.5h3.3v4.1h-3.3zM517.4 555.5h3.3v4.1h-3.3zM546 563.4h3.3v4.1h-3.3zM552.3 567.4h3.3v4.1h-3.3zM546 571.4h3.3v4.1h-3.3zM526.9 579.3h3.3v4.1h-3.3zM603.1 591.2h3.3v4.1h-3.3zM609.4 599.1h3.3v4.1h-3.3zM603.1 607.1h3.3v4.1h-3.3zM603.1 611h3.3v4.1h-3.3z" fill="#f0e4e4"/><path d="M558.7 527.7h3.3v4.1h-3.3z" fill="#cc3c48"/><path d="M603.1 527.7h3.3v4.1h-3.3zM596.7 535.7h3.3v4.1h-3.3zM565 539.6h3.3v4.1h-3.3zM565 547.6h3.3v4.1h-3.3z" fill="#3648a2"/><path d="M520.6 531.7h3.3v4.1h-3.3zM546 539.6h3.3v4.1h-3.3zM533.3 559.5h3.3v4.1h-3.3zM530.1 575.3h3.3v4.1h-3.3z" fill="#f6f6f6"/><path d="M555.5 531.7h3.3v4.1h-3.3zM536.4 559.5h3.3v4.1h-3.3zM555.5 579.3h3.3v4.1h-3.3z" fill="#f0dee4"/><path d="M606.3 531.7h3.3v4.1h-3.3zM590.4 543.6h3.3v4.1h-3.3z" fill="#3c48a8"/><path d="M517.4 535.7h3.3v4.1h-3.3z" fill="#c6c6e4"/><path d="M520.6 535.7h3.3v4.1h-3.3zM526.9 539.6h3.3v4.1h-3.3zM530.1 547.6h3.3v4.1h-3.3zM558.7 567.4h3.3v4.1h-3.3zM561.8 567.4h3.3v4.1h-3.3zM549.1 571.4h3.3v4.1h-3.3zM593.6 571.4h3.3v4.1h-3.3z" fill="#f0baba"/><path d="M523.7 535.7h3.3v4.1h-3.3zM523.7 539.6h3.3v4.1h-3.3zM542.8 559.5h3.3v4.1h-3.3zM549.1 567.4h3.3v4.1h-3.3zM603.1 583.3h3.3v4.1h-3.3zM609.4 583.3h3.3v4.1h-3.3zM603.1 599.1h3.3v4.1h-3.3zM609.4 603.1h3.3v4.1h-3.3z" fill="#f0d2d2"/><path d="M539.6 535.7h3.3v4.1h-3.3zM552.3 539.6h3.3v4.1h-3.3zM542.8 563.4h3.3v4.1h-3.3zM603.1 567.4h3.3v4.1h-3.3zM609.4 575.3h3.3v4.1h-3.3z" fill="#c0c0e4"/><path d="M542.8 535.7h3.3v4.1h-3.3zM523.7 543.6h3.3v4.1h-3.3zM533.3 551.5h3.3v4.1h-3.3zM533.3 555.5h3.3v4.1h-3.3z" fill="#eaa2a2"/><path d="M549.1 535.7h3.3v4.1h-3.3zM552.3 543.6h3.3v4.1h-3.3zM536.4 555.5h3.3v4.1h-3.3zM574.5 567.4h3.3v4.1h-3.3zM596.7 567.4h3.3v4.1h-3.3zM561.8 571.4h3.3v4.1h-3.3zM577.7 571.4h3.3v4.1h-3.3zM596.7 575.3h3.3v4.1h-3.3zM599.9 575.3h3.3v4.1h-3.3zM558.7 579.3h3.3v4.1h-3.3zM580.9 579.3h3.3v4.1h-3.3zM590.4 579.3h3.3v4.1h-3.3z" fill="#eaa8a8"/><path d="M561.8 535.7h3.3v4.1h-3.3zM565 535.7h3.3v4.1h-3.3zM580.9 535.7h3.3v4.1h-3.3zM568.2 539.6h3.3v4.1h-3.3zM584 539.6h3.3v4.1h-3.3zM599.9 539.6h3.3v4.1h-3.3z" fill="#303c9c"/><path d="M568.2 535.7h3.3v4.1h-3.3zM571.3 535.7h3.3v4.1h-3.3zM574.5 535.7h3.3v4.1h-3.3zM577.7 535.7h3.3v4.1h-3.3zM584 535.7h3.3v4.1h-3.3zM590.4 535.7h3.3v4.1h-3.3zM593.6 535.7h3.3v4.1h-3.3zM599.9 535.7h3.3v4.1h-3.3z" fill="#2a3696"/><path d="M603.1 535.7h3.3v4.1h-3.3zM606.3 535.7h3.3v4.1h-3.3zM606.3 551.5h3.3v4.1h-3.3zM606.3 559.5h3.3v4.1h-3.3zM603.1 563.4h3.3v4.1h-3.3z" fill="#e48484"/><path d="M609.4 535.7h3.3v4.1h-3.3z" fill="#e47e7e"/><path d="M520.6 539.6h3.3v4.1h-3.3zM517.4 563.4h3.3v4.1h-3.3zM526.9 571.4h3.3v4.1h-3.3zM536.4 571.4h3.3v4.1h-3.3z" fill="#f0c6cc"/><path d="M530.1 539.6h3.3v4.1h-3.3z" fill="#f0f6f6"/><path d="M536.4 539.6h3.3v4.1h-3.3z" fill="#eaa2a8"/><path d="M539.6 539.6h3.3v4.1h-3.3zM542.8 547.6h3.3v4.1h-3.3zM546 551.5h3.3v4.1h-3.3zM552.3 563.4h3.3v4.1h-3.3zM603.1 571.4h3.3v4.1h-3.3z" fill="#d2d2ea"/><path d="M587.2 539.6h3.3v4.1h-3.3z" fill="#2a3c96"/><path d="M603.1 539.6h3.3v4.1h-3.3z" fill="#de7878"/><path d="M606.3 539.6h3.3v4.1h-3.3zM609.4 539.6h3.3v4.1h-3.3zM603.1 555.5h3.3v4.1h-3.3zM603.1 559.5h3.3v4.1h-3.3z" fill="#e48a8a"/><path d="M536.4 543.6h3.3v4.1h-3.3zM530.1 551.5h3.3v4.1h-3.3zM546 559.5h3.3v4.1h-3.3zM609.4 567.4h3.3v4.1h-3.3zM606.3 579.3h3.3v4.1h-3.3z" fill="#c6cce4"/><path d="M539.6 543.6h3.3v4.1h-3.3zM552.3 559.5h3.3v4.1h-3.3zM555.5 559.5h3.3v4.1h-3.3zM526.9 567.4h3.3v4.1h-3.3zM530.1 567.4h3.3v4.1h-3.3zM520.6 579.3h3.3v4.1h-3.3zM530.1 579.3h3.3v4.1h-3.3zM546 579.3h3.3v4.1h-3.3zM552.3 579.3h3.3v4.1h-3.3zM603.1 587.2h3.3v4.1h-3.3zM606.3 587.2h3.3v4.1h-3.3zM609.4 587.2h3.3v4.1h-3.3zM606.3 591.2h3.3v4.1h-3.3zM606.3 603.1h3.3v4.1h-3.3zM609.4 607.1h3.3v4.1h-3.3z" fill="#f0d8d8"/><path d="M558.7 543.6h3.3v4.1h-3.3zM593.6 551.5h3.3v4.1h-3.3zM599.9 551.5h3.3v4.1h-3.3zM574.5 555.5h3.3v4.1h-3.3zM596.7 555.5h3.3v4.1h-3.3z" fill="#4854ae"/><path d="M603.1 543.6h3.3v4.1h-3.3z" fill="#de7272"/><path d="M606.3 543.6h3.3v4.1h-3.3z" fill="#e47e84"/><path d="M609.4 543.6h3.3v4.1h-3.3zM606.3 547.6h3.3v4.1h-3.3zM606.3 555.5h3.3v4.1h-3.3zM609.4 563.4h3.3v4.1h-3.3z" fill="#de7e7e"/><path d="M539.6 547.6h3.3v4.1h-3.3zM546 547.6h3.3v4.1h-3.3zM552.3 551.5h3.3v4.1h-3.3zM533.3 563.4h3.3v4.1h-3.3zM539.6 571.4h3.3v4.1h-3.3zM555.5 571.4h3.3v4.1h-3.3zM596.7 571.4h3.3v4.1h-3.3zM555.5 575.3h3.3v4.1h-3.3zM568.2 575.3h3.3v4.1h-3.3z" fill="#eaaeae"/><path d="M561.8 547.6h3.3v4.1h-3.3zM571.3 547.6h3.3v4.1h-3.3zM580.9 547.6h3.3v4.1h-3.3zM587.2 547.6h3.3v4.1h-3.3zM593.6 547.6h3.3v4.1h-3.3zM596.7 547.6h3.3v4.1h-3.3zM599.9 547.6h3.3v4.1h-3.3zM571.3 551.5h3.3v4.1h-3.3zM561.8 555.5h3.3v4.1h-3.3zM593.6 555.5h3.3v4.1h-3.3z" fill="#4e5aae"/><path d="M584 547.6h3.3v4.1h-3.3zM561.8 551.5h3.3v4.1h-3.3zM577.7 551.5h3.3v4.1h-3.3zM584 555.5h3.3v4.1h-3.3zM558.7 559.5h3.3v4.1h-3.3zM568.2 559.5h3.3v4.1h-3.3zM584 559.5h3.3v4.1h-3.3zM587.2 559.5h3.3v4.1h-3.3zM593.6 559.5h3.3v4.1h-3.3zM599.9 559.5h3.3v4.1h-3.3zM571.3 563.4h3.3v4.1h-3.3z" fill="#5460b4"/><path d="M603.1 547.6h3.3v4.1h-3.3zM609.4 547.6h3.3v4.1h-3.3zM603.1 551.5h3.3v4.1h-3.3zM609.4 551.5h3.3v4.1h-3.3z" fill="#e49090"/><path d="M558.7 551.5h3.3v4.1h-3.3zM565 555.5h3.3v4.1h-3.3z" fill="#4e5ab4"/><path d="M568.2 551.5h3.3v4.1h-3.3zM587.2 551.5h3.3v4.1h-3.3zM587.2 555.5h3.3v4.1h-3.3z" fill="#485aae"/><path d="M574.5 551.5h3.3v4.1h-3.3zM577.7 555.5h3.3v4.1h-3.3zM599.9 555.5h3.3v4.1h-3.3zM574.5 559.5h3.3v4.1h-3.3zM561.8 563.4h3.3v4.1h-3.3zM565 563.4h3.3v4.1h-3.3zM577.7 563.4h3.3v4.1h-3.3zM596.7 563.4h3.3v4.1h-3.3zM599.9 563.4h3.3v4.1h-3.3z" fill="#5a66b4"/><path d="M520.6 555.5h3.3v4.1h-3.3zM571.3 567.4h3.3v4.1h-3.3zM580.9 567.4h3.3v4.1h-3.3zM584 567.4h3.3v4.1h-3.3z" fill="#eab4ba"/><path d="M523.7 555.5h3.3v4.1h-3.3zM603.1 579.3h3.3v4.1h-3.3z" fill="#c6ccea"/><path d="M526.9 555.5h3.3v4.1h-3.3zM549.1 559.5h3.3v4.1h-3.3zM536.4 567.4h3.3v4.1h-3.3zM517.4 571.4h3.3v4.1h-3.3zM539.6 575.3h3.3v4.1h-3.3zM542.8 575.3h3.3v4.1h-3.3z" fill="#f6f0f0"/><path d="M558.7 555.5h3.3v4.1h-3.3z" fill="#6066ba"/><path d="M568.2 555.5h3.3v4.1h-3.3zM571.3 555.5h3.3v4.1h-3.3zM565 559.5h3.3v4.1h-3.3zM568.2 563.4h3.3v4.1h-3.3zM584 563.4h3.3v4.1h-3.3zM590.4 563.4h3.3v4.1h-3.3z" fill="#606cba"/><path d="M609.4 555.5h3.3v4.1h-3.3zM609.4 559.5h3.3v4.1h-3.3z" fill="#de7278"/><path d="M520.6 559.5h3.3v4.1h-3.3zM523.7 559.5h3.3v4.1h-3.3z" fill="#d8d8ea"/><path d="M526.9 559.5h3.3v4.1h-3.3z" fill="#eaa8ae"/><path d="M530.1 559.5h3.3v4.1h-3.3z" fill="#d8def0"/><path d="M561.8 559.5h3.3v4.1h-3.3zM571.3 559.5h3.3v4.1h-3.3zM577.7 559.5h3.3v4.1h-3.3zM580.9 559.5h3.3v4.1h-3.3zM587.2 563.4h3.3v4.1h-3.3zM517.4 591.2h3.3v4.1h-3.3zM520.6 591.2h3.3v4.1h-3.3zM523.7 591.2h3.3v4.1h-3.3zM526.9 591.2h3.3v4.1h-3.3zM530.1 591.2h3.3v4.1h-3.3zM533.3 591.2h3.3v4.1h-3.3zM536.4 591.2h3.3v4.1h-3.3zM539.6 591.2h3.3v4.1h-3.3zM542.8 591.2h3.3v4.1h-3.3zM546 591.2h3.3v4.1h-3.3zM549.1 591.2h3.3v4.1h-3.3zM552.3 591.2h3.3v4.1h-3.3zM555.5 591.2h3.3v4.1h-3.3zM517.4 595.2h3.3v4.1h-3.3zM520.6 595.2h3.3v4.1h-3.3zM523.7 595.2h3.3v4.1h-3.3zM526.9 595.2h3.3v4.1h-3.3zM530.1 595.2h3.3v4.1h-3.3zM533.3 595.2h3.3v4.1h-3.3zM536.4 595.2h3.3v4.1h-3.3zM539.6 595.2h3.3v4.1h-3.3zM542.8 595.2h3.3v4.1h-3.3zM546 595.2h3.3v4.1h-3.3zM549.1 595.2h3.3v4.1h-3.3zM552.3 595.2h3.3v4.1h-3.3zM555.5 595.2h3.3v4.1h-3.3zM517.4 599.1h3.3v4.1h-3.3zM520.6 599.1h3.3v4.1h-3.3zM523.7 599.1h3.3v4.1h-3.3zM526.9 599.1h3.3v4.1h-3.3zM530.1 599.1h3.3v4.1h-3.3zM533.3 599.1h3.3v4.1h-3.3zM536.4 599.1h3.3v4.1h-3.3zM539.6 599.1h3.3v4.1h-3.3zM542.8 599.1h3.3v4.1h-3.3zM546 599.1h3.3v4.1h-3.3zM549.1 599.1h3.3v4.1h-3.3zM552.3 599.1h3.3v4.1h-3.3zM555.5 599.1h3.3v4.1h-3.3zM517.4 603.1h3.3v4.1h-3.3zM520.6 603.1h3.3v4.1h-3.3zM523.7 603.1h3.3v4.1h-3.3zM526.9 603.1h3.3v4.1h-3.3zM530.1 603.1h3.3v4.1h-3.3zM533.3 603.1h3.3v4.1h-3.3zM536.4 603.1h3.3v4.1h-3.3zM539.6 603.1h3.3v4.1h-3.3zM542.8 603.1h3.3v4.1h-3.3zM546 603.1h3.3v4.1h-3.3zM549.1 603.1h3.3v4.1h-3.3zM552.3 603.1h3.3v4.1h-3.3zM555.5 603.1h3.3v4.1h-3.3zM517.4 607.1h3.3v4.1h-3.3zM520.6 607.1h3.3v4.1h-3.3zM523.7 607.1h3.3v4.1h-3.3zM526.9 607.1h3.3v4.1h-3.3zM530.1 607.1h3.3v4.1h-3.3zM533.3 607.1h3.3v4.1h-3.3zM536.4 607.1h3.3v4.1h-3.3zM539.6 607.1h3.3v4.1h-3.3zM542.8 607.1h3.3v4.1h-3.3zM546 607.1h3.3v4.1h-3.3zM549.1 607.1h3.3v4.1h-3.3zM552.3 607.1h3.3v4.1h-3.3zM555.5 607.1h3.3v4.1h-3.3zM517.4 611h3.3v4.1h-3.3zM520.6 611h3.3v4.1h-3.3zM523.7 611h3.3v4.1h-3.3zM526.9 611h3.3v4.1h-3.3zM530.1 611h3.3v4.1h-3.3zM533.3 611h3.3v4.1h-3.3zM536.4 611h3.3v4.1h-3.3zM539.6 611h3.3v4.1h-3.3zM542.8 611h3.3v4.1h-3.3zM546 611h3.3v4.1h-3.3zM549.1 611h3.3v4.1h-3.3zM552.3 611h3.3v4.1h-3.3zM555.5 611h3.3v4.1h-3.3z" fill="#6672c0"/><path d="M590.4 559.5h3.3v4.1h-3.3zM596.7 559.5h3.3v4.1h-3.3zM574.5 563.4h3.3v4.1h-3.3zM580.9 563.4h3.3v4.1h-3.3zM593.6 563.4h3.3v4.1h-3.3z" fill="#5a66ba"/><path d="M526.9 563.4h3.3v4.1h-3.3zM517.4 567.4h3.3v4.1h-3.3zM552.3 575.3h3.3v4.1h-3.3zM523.7 579.3h3.3v4.1h-3.3zM606.3 607.1h3.3v4.1h-3.3zM606.3 611h3.3v4.1h-3.3z" fill="#f0e4ea"/><path d="M558.7 563.4h3.3v4.1h-3.3z" fill="#6c78c6"/><path d="M606.3 563.4h3.3v4.1h-3.3z" fill="#de787e"/><path d="M546 567.4h3.3v4.1h-3.3zM552.3 571.4h3.3v4.1h-3.3zM549.1 579.3h3.3v4.1h-3.3zM609.4 591.2h3.3v4.1h-3.3zM609.4 611h3.3v4.1h-3.3z" fill="#f0d8de"/><path d="M565 567.4h3.3v4.1h-3.3zM533.3 571.4h3.3v4.1h-3.3zM542.8 571.4h3.3v4.1h-3.3zM558.7 571.4h3.3v4.1h-3.3zM590.4 571.4h3.3v4.1h-3.3zM565 575.3h3.3v4.1h-3.3zM593.6 575.3h3.3v4.1h-3.3zM584 579.3h3.3v4.1h-3.3z" fill="#eababa"/><path d="M584 571.4h3.3v4.1h-3.3zM523.7 575.3h3.3v4.1h-3.3zM546 575.3h3.3v4.1h-3.3z" fill="#f0c0c6"/><path d="M609.4 571.4h3.3v4.1h-3.3z" fill="#d8d8f0"/><path d="M561.8 575.3h3.3v4.1h-3.3zM571.3 575.3h3.3v4.1h-3.3z" fill="#f0bac0"/><path d="M558.7 583.3h3.3v4.1h-3.3zM571.3 591.2h3.3v4.1h-3.3zM580.9 591.2h3.3v4.1h-3.3zM558.7 595.2h3.3v4.1h-3.3zM590.4 595.2h3.3v4.1h-3.3zM561.8 599.1h3.3v4.1h-3.3zM574.5 599.1h3.3v4.1h-3.3zM577.7 599.1h3.3v4.1h-3.3zM590.4 603.1h3.3v4.1h-3.3zM568.2 607.1h3.3v4.1h-3.3zM590.4 611h3.3v4.1h-3.3z" fill="#8a90d2"/><path d="M561.8 583.3h3.3v4.1h-3.3zM580.9 583.3h3.3v4.1h-3.3zM561.8 587.2h3.3v4.1h-3.3zM565 587.2h3.3v4.1h-3.3zM568.2 587.2h3.3v4.1h-3.3zM574.5 587.2h3.3v4.1h-3.3zM580.9 587.2h3.3v4.1h-3.3zM558.7 591.2h3.3v4.1h-3.3zM584 591.2h3.3v4.1h-3.3zM574.5 595.2h3.3v4.1h-3.3zM565 599.1h3.3v4.1h-3.3zM568.2 599.1h3.3v4.1h-3.3zM584 599.1h3.3v4.1h-3.3zM596.7 599.1h3.3v4.1h-3.3zM577.7 603.1h3.3v4.1h-3.3zM587.2 603.1h3.3v4.1h-3.3zM565 607.1h3.3v4.1h-3.3zM574.5 607.1h3.3v4.1h-3.3zM577.7 607.1h3.3v4.1h-3.3zM565 611h3.3v4.1h-3.3zM571.3 611h3.3v4.1h-3.3zM580.9 611h3.3v4.1h-3.3zM587.2 611h3.3v4.1h-3.3z" fill="#7884cc"/><path d="M565 583.3h3.3v4.1h-3.3zM571.3 583.3h3.3v4.1h-3.3zM599.9 583.3h3.3v4.1h-3.3zM599.9 587.2h3.3v4.1h-3.3zM587.2 595.2h3.3v4.1h-3.3zM596.7 595.2h3.3v4.1h-3.3zM599.9 595.2h3.3v4.1h-3.3zM571.3 599.1h3.3v4.1h-3.3zM568.2 603.1h3.3v4.1h-3.3zM558.7 611h3.3v4.1h-3.3zM561.8 611h3.3v4.1h-3.3z" fill="#727ecc"/><path d="M568.2 583.3h3.3v4.1h-3.3zM561.8 591.2h3.3v4.1h-3.3zM593.6 591.2h3.3v4.1h-3.3zM571.3 595.2h3.3v4.1h-3.3zM580.9 599.1h3.3v4.1h-3.3zM593.6 599.1h3.3v4.1h-3.3zM596.7 603.1h3.3v4.1h-3.3zM561.8 607.1h3.3v4.1h-3.3zM599.9 607.1h3.3v4.1h-3.3zM568.2 611h3.3v4.1h-3.3zM577.7 611h3.3v4.1h-3.3z" fill="#969cd8"/><path d="M574.5 583.3h3.3v4.1h-3.3zM590.4 583.3h3.3v4.1h-3.3zM571.3 587.2h3.3v4.1h-3.3zM574.5 591.2h3.3v4.1h-3.3zM590.4 599.1h3.3v4.1h-3.3zM561.8 603.1h3.3v4.1h-3.3zM599.9 603.1h3.3v4.1h-3.3z" fill="#7e8acc"/><path d="M577.7 583.3h3.3v4.1h-3.3zM568.2 591.2h3.3v4.1h-3.3zM571.3 603.1h3.3v4.1h-3.3zM593.6 603.1h3.3v4.1h-3.3zM558.7 607.1h3.3v4.1h-3.3zM596.7 611h3.3v4.1h-3.3z" fill="#7e84cc"/><path d="M584 583.3h3.3v4.1h-3.3zM596.7 583.3h3.3v4.1h-3.3zM596.7 587.2h3.3v4.1h-3.3zM587.2 591.2h3.3v4.1h-3.3zM593.6 595.2h3.3v4.1h-3.3zM599.9 599.1h3.3v4.1h-3.3zM571.3 607.1h3.3v4.1h-3.3zM584 607.1h3.3v4.1h-3.3zM587.2 607.1h3.3v4.1h-3.3zM590.4 607.1h3.3v4.1h-3.3zM574.5 611h3.3v4.1h-3.3z" fill="#909cd8"/><path d="M587.2 583.3h3.3v4.1h-3.3zM580.9 595.2h3.3v4.1h-3.3zM558.7 599.1h3.3v4.1h-3.3zM565 603.1h3.3v4.1h-3.3zM593.6 607.1h3.3v4.1h-3.3z" fill="#9096d2"/><path d="M593.6 583.3h3.3v4.1h-3.3zM558.7 587.2h3.3v4.1h-3.3zM565 591.2h3.3v4.1h-3.3zM577.7 591.2h3.3v4.1h-3.3zM599.9 591.2h3.3v4.1h-3.3zM574.5 603.1h3.3v4.1h-3.3zM580.9 603.1h3.3v4.1h-3.3zM580.9 607.1h3.3v4.1h-3.3z" fill="#8490d2"/><path d="M577.7 587.2h3.3v4.1h-3.3zM587.2 587.2h3.3v4.1h-3.3zM584 595.2h3.3v4.1h-3.3zM558.7 603.1h3.3v4.1h-3.3zM599.9 611h3.3v4.1h-3.3z" fill="#9096d8"/><path d="M584 587.2h3.3v4.1h-3.3zM593.6 587.2h3.3v4.1h-3.3zM590.4 591.2h3.3v4.1h-3.3zM565 595.2h3.3v4.1h-3.3zM568.2 595.2h3.3v4.1h-3.3zM587.2 599.1h3.3v4.1h-3.3zM584 603.1h3.3v4.1h-3.3zM596.7 607.1h3.3v4.1h-3.3zM584 611h3.3v4.1h-3.3z" fill="#787ecc"/><path d="M590.4 587.2h3.3v4.1h-3.3zM596.7 591.2h3.3v4.1h-3.3z" fill="#848ad2"/><path d="M561.8 595.2h3.3v4.1h-3.3zM577.7 595.2h3.3v4.1h-3.3zM593.6 611h3.3v4.1h-3.3z" fill="#8a96d2"/><path d="M516.5 529.7H515.2V533.7H516.5" fill="none" stroke="#333" stroke-width="0.4"/><path d="M516.5 525.8H512.4V531.7H515.2" fill="none" stroke="#333" stroke-width="0.4"/><path d="M516.5 521.8H500V528.7H512.4" fill="none" stroke="#333" stroke-width="0.4"/><path d="M516.5 553.5H514.4V557.5H516.5" fill="none" stroke="#333" stroke-width="0.4"/><path d="M516.5 545.6H513.9V549.5H516.5" fill="none" stroke="#333" stroke-width="0.4"/><path d="M514.4 555.5H512.1V561.4H516.5" fill="none" stroke="#333" stroke-width="0.4"/><path d="M516.5 537.6H514.2V541.6H516.5" fill="none" stroke="#333" stroke-width="0.4"/><path d="M513.9 547.6H510.5V558.5H512.1" fill="none" stroke="#333" stroke-width="0.4"/><path d="M514.2 539.6H509.1V553H510.5" fill="none" stroke="#333" stroke-width="0.4"/><path d="M509.1 546.3H500V565.4H516.5" fill="none" stroke="#333" stroke-width="0.4"/><path d="M516.5 569.4H514.4V573.4H516.5" fill="none" stroke="#333" stroke-width="0.4"/><path d="M516.5 577.3H514.8V581.3H516.5" fill="none" stroke="#333" stroke-width="0.4"/><path d="M514.4 571.4H503V579.3H514.8" fill="none" stroke="#333" stroke-width="0.4"/><path d="M516.5 605.1H514.7V609H516.5" fill="none" stroke="#333" stroke-width="0.4"/><path d="M516.5 593.2H514V597.1H516.5" fill="none" stroke="#333" stroke-width="0.4"/><path d="M516.5 585.2H515.1V589.2H516.5" fill="none" stroke="#333" stroke-width="0.4"/><path d="M515.1 587.2H512.1V595.2H514" fill="none" stroke="#333" stroke-width="0.4"/><path d="M516.5 601.1H513.5V607.1H514.7" fill="none" stroke="#333" stroke-width="0.4"/><path d="M513.5 604.1H510.6V613H516.5" fill="none" stroke="#333" stroke-width="0.4"/><path d="M512.1 591.2H503V608.6H510.6" fill="none" stroke="#333" stroke-width="0.4"/><path d="M500 528H482M503 576H493V600H503M493 588H488V552H500M488 570H482" fill="none" stroke="#333" stroke-width="0.4"/><path d="M531.7 519V514.2H534.9V519" fill="none" stroke="#333" stroke-width="0.4"/><path d="M525.3 519V516.9H528.5V519" fill="none" stroke="#333" stroke-width="0.4"/><path d="M519 519V513.7H522.2V519" fill="none" stroke="#333" stroke-width="0.4"/><path d="M544.4 519V516.7H547.5V519" fill="none" stroke="#333" stroke-width="0.4"/><path d="M520.6 513.7V511.1H526.9V516.9" fill="none" stroke="#333" stroke-width="0.4"/><path d="M538 519V514.1H541.2V519" fill="none" stroke="#333" stroke-width="0.4"/><path d="M533.3 514.2V511.2H539.6V514.1" fill="none" stroke="#333" stroke-width="0.4"/><path d="M546 516.7V512.6H550.7V519" fill="none" stroke="#333" stroke-width="0.4"/><path d="M548.3 512.6V506.7H553.9V519" fill="none" stroke="#333" stroke-width="0.4"/><path d="M523.7 511.1V506.1H536.4V511.2" fill="none" stroke="#333" stroke-width="0.4"/><path d="M530.1 506.1V503.1H551.1V506.7" fill="none" stroke="#333" stroke-width="0.4"/><path d="M540.6 503.1V500H557.1V519" fill="none" stroke="#333" stroke-width="0.4"/><path d="M579.3 519V514.8H582.5V519" fill="none" stroke="#333" stroke-width="0.4"/><path d="M580.9 514.8V511.5H585.6V519" fill="none" stroke="#333" stroke-width="0.4"/><path d="M592 519V513.6H595.1V519" fill="none" stroke="#333" stroke-width="0.4"/><path d="M566.6 519V515.9H569.8V519" fill="none" stroke="#333" stroke-width="0.4"/><path d="M560.2 519V516.1H563.4V519" fill="none" stroke="#333" stroke-width="0.4"/><path d="M588.8 519V509H593.6V513.6" fill="none" stroke="#333" stroke-width="0.4"/><path d="M576.1 519V509H583.2V511.5" fill="none" stroke="#333" stroke-width="0.4"/><path d="M572.9 519V509H579.7V509" fill="none" stroke="#333" stroke-width="0.4"/><path d="M591.2 509V509H598.3V519" fill="none" stroke="#333" stroke-width="0.4"/><path d="M561.8 516.1V512.6H568.2V515.9" fill="none" stroke="#333" stroke-width="0.4"/><path d="M594.8 509V509H601.5V519" fill="none" stroke="#333" stroke-width="0.4"/><path d="M565 512.6V509H576.3V509" fill="none" stroke="#333" stroke-width="0.4"/><path d="M570.7 509V509H598.1V509" fill="none" stroke="#333" stroke-width="0.4"/><path d="M604.7 519V515.4H607.8V519" fill="none" stroke="#333" stroke-width="0.4"/><path d="M606.3 515.4V503H611V519" fill="none" stroke="#333" stroke-width="0.4"/><path d="M538 500V493H580.9V509M550.2 493V482H607.8V503" fill="none" stroke="#333" stroke-width="0.4"/><rect x="620" y="499" width="30" height="10" fill="url(#rb)"/><text x="635" y="496.8" font-family="'Liberation Sans', sans-serif" font-size="3.1" fill="#333" text-anchor="middle" >Spearman's rho</text><text x="620" y="512.2" font-family="'Liberation Sans', sans-serif" font-size="2.0" fill="#555" text-anchor="middle" >-1</text><text x="627.5" y="512.2" font-family="'Liberation Sans', sans-serif" font-size="2.0" fill="#555" text-anchor="middle" >-0.5</text><text x="635" y="512.2" font-family="'Liberation Sans', sans-serif" font-size="2.0" fill="#555" text-anchor="middle" >0</text><text x="642.5" y="512.2" font-family="'Liberation Sans', sans-serif" font-size="2.0" fill="#555" text-anchor="middle" >0.5</text><text x="650" y="512.2" font-family="'Liberation Sans', sans-serif" font-size="2.0" fill="#555" text-anchor="middle" >1</text><text x="614.8" y="522.78" font-family="'Liberation Sans', sans-serif" font-size="2.8" fill="#333" text-anchor="start" >Kosakonia cowanii</text><text x="614.8" y="526.75" font-family="'Liberation Sans', sans-serif" font-size="2.8" fill="#333" text-anchor="start" >Kosakonia sp. CCTCC M2018092</text><text x="614.8" y="530.72" font-family="'Liberation Sans', sans-serif" font-size="2.8" fill="#333" text-anchor="start" >Pantoea agglomerans</text><text x="614.8" y="534.68" font-family="'Liberation Sans', sans-serif" font-size="2.8" fill="#333" text-anchor="start" >Saccharopolyspora ...</text><text x="614.8" y="538.65" font-family="'Liberation Sans', sans-serif" font-size="2.8" fill="#333" text-anchor="start" >Bacillus licheniformis</text><text x="614.8" y="542.62" font-family="'Liberation Sans', sans-serif" font-size="2.8" fill="#333" text-anchor="start" >Bacillus paralicheniformis</text><text x="614.8" y="546.58" font-family="'Liberation Sans', sans-serif" font-size="2.8" fill="#333" text-anchor="start" >Pichia kudriavzevii</text><text x="614.8" y="550.55" font-family="'Liberation Sans', sans-serif" font-size="2.8" fill="#333" text-anchor="start" >Streptomyces albus</text><text x="614.8" y="554.52" font-family="'Liberation Sans', sans-serif" font-size="2.8" fill="#333" text-anchor="start" >Saccharopolyspora ...</text><text x="614.8" y="558.48" font-family="'Liberation Sans', sans-serif" font-size="2.8" fill="#333" text-anchor="start" >Saccharopolyspora ...</text><text x="614.8" y="562.45" font-family="'Liberation Sans', sans-serif" font-size="2.8" fill="#333" text-anchor="start" >Saccharopolyspora ...</text><text x="614.8" y="566.42" font-family="'Liberation Sans', sans-serif" font-size="2.8" fill="#333" text-anchor="start" >Saccharopolyspora sp. ...</text><text x="614.8" y="570.38" font-family="'Liberation Sans', sans-serif" font-size="2.8" fill="#333" text-anchor="start" >Companilactobacillus ...</text><text x="614.8" y="574.35" font-family="'Liberation Sans', sans-serif" font-size="2.8" fill="#333" text-anchor="start" >Lactobacillus ...</text><text x="614.8" y="578.32" font-family="'Liberation Sans', sans-serif" font-size="2.8" fill="#333" text-anchor="start" >Companilactobacillus ...</text><text x="614.8" y="582.28" font-family="'Liberation Sans', sans-serif" font-size="2.8" fill="#333" text-anchor="start" >Lactiplantibacillus ...</text><text x="614.8" y="586.25" font-family="'Liberation Sans', sans-serif" font-size="2.8" fill="#333" text-anchor="start" >Thermoascus ...</text><text x="614.8" y="590.22" font-family="'Liberation Sans', sans-serif" font-size="2.8" fill="#333" text-anchor="start" >Streptomyces sp. ...</text><text x="614.8" y="594.18" font-family="'Liberation Sans', sans-serif" font-size="2.8" fill="#333" text-anchor="start" >Lichtheimia ...</text><text x="614.8" y="598.15" font-family="'Liberation Sans', sans-serif" font-size="2.8" fill="#333" text-anchor="start" >Thermomyces ...</text><text x="614.8" y="602.12" font-family="'Liberation Sans', sans-serif" font-size="2.8" fill="#333" text-anchor="start" >Rhizomucor ...</text><text x="614.8" y="606.08" font-family="'Liberation Sans', sans-serif" font-size="2.8" fill="#333" text-anchor="start" >Aspergillus ...</text><text x="614.8" y="610.05" font-family="'Liberation Sans', sans-serif" font-size="2.8" fill="#333" text-anchor="start" >Pseudomonas ...</text><text x="614.8" y="614.02" font-family="'Liberation Sans', sans-serif" font-size="2.8" fill="#333" text-anchor="start" >Thermoascus ...</text><path d="M517.4 615.5H612.6L608.6 619H521.4Z" fill="#d8d8d8"/><line x1="519" y1="616" x2="514" y2="621" stroke="#ccc" stroke-width="0.5"/><line x1="525.3" y1="616" x2="520.3" y2="621" stroke="#ccc" stroke-width="0.5"/><line x1="531.7" y1="616" x2="526.7" y2="621" stroke="#ccc" stroke-width="0.5"/><line x1="538" y1="616" x2="533" y2="621" stroke="#ccc" stroke-width="0.5"/><line x1="544.4" y1="616" x2="539.4" y2="621" stroke="#ccc" stroke-width="0.5"/><line x1="550.7" y1="616" x2="545.7" y2="621" stroke="#ccc" stroke-width="0.5"/><line x1="557.1" y1="616" x2="552.1" y2="621" stroke="#ccc" stroke-width="0.5"/><line x1="563.4" y1="616" x2="558.4" y2="621" stroke="#ccc" stroke-width="0.5"/><line x1="569.8" y1="616" x2="564.8" y2="621" stroke="#ccc" stroke-width="0.5"/><line x1="576.1" y1="616" x2="571.1" y2="621" stroke="#ccc" stroke-width="0.5"/><line x1="582.5" y1="616" x2="577.5" y2="621" stroke="#ccc" stroke-width="0.5"/><line x1="588.8" y1="616" x2="583.8" y2="621" stroke="#ccc" stroke-width="0.5"/><line x1="595.1" y1="616" x2="590.1" y2="621" stroke="#ccc" stroke-width="0.5"/><line x1="601.5" y1="616" x2="596.5" y2="621" stroke="#ccc" stroke-width="0.5"/><line x1="607.8" y1="616" x2="602.8" y2="621" stroke="#ccc" stroke-width="0.5"/></svg><div class="bt" style="top:380.6px">The abundance ratio of bacteria to fungi in low-temperature Daqu was above 4:1.</div><div class="bt" style="top:448.5px">Temperature mainly affects the microbial abundance in low-temperature Daqu.</div><div class="bt" style="top:516.4px">Microbes in Qingcha and Hongxin have strong ability to degrade macromolecules.</div><div class="bt" style="top:584.3px">Microbes in Houhuo have strong ability to produce flavor substances in liquor.</div><div class="bt" style="top:652.2px">Microbial functions of different types of low-temperature Daqu were complementary.</div></div></body></html>
